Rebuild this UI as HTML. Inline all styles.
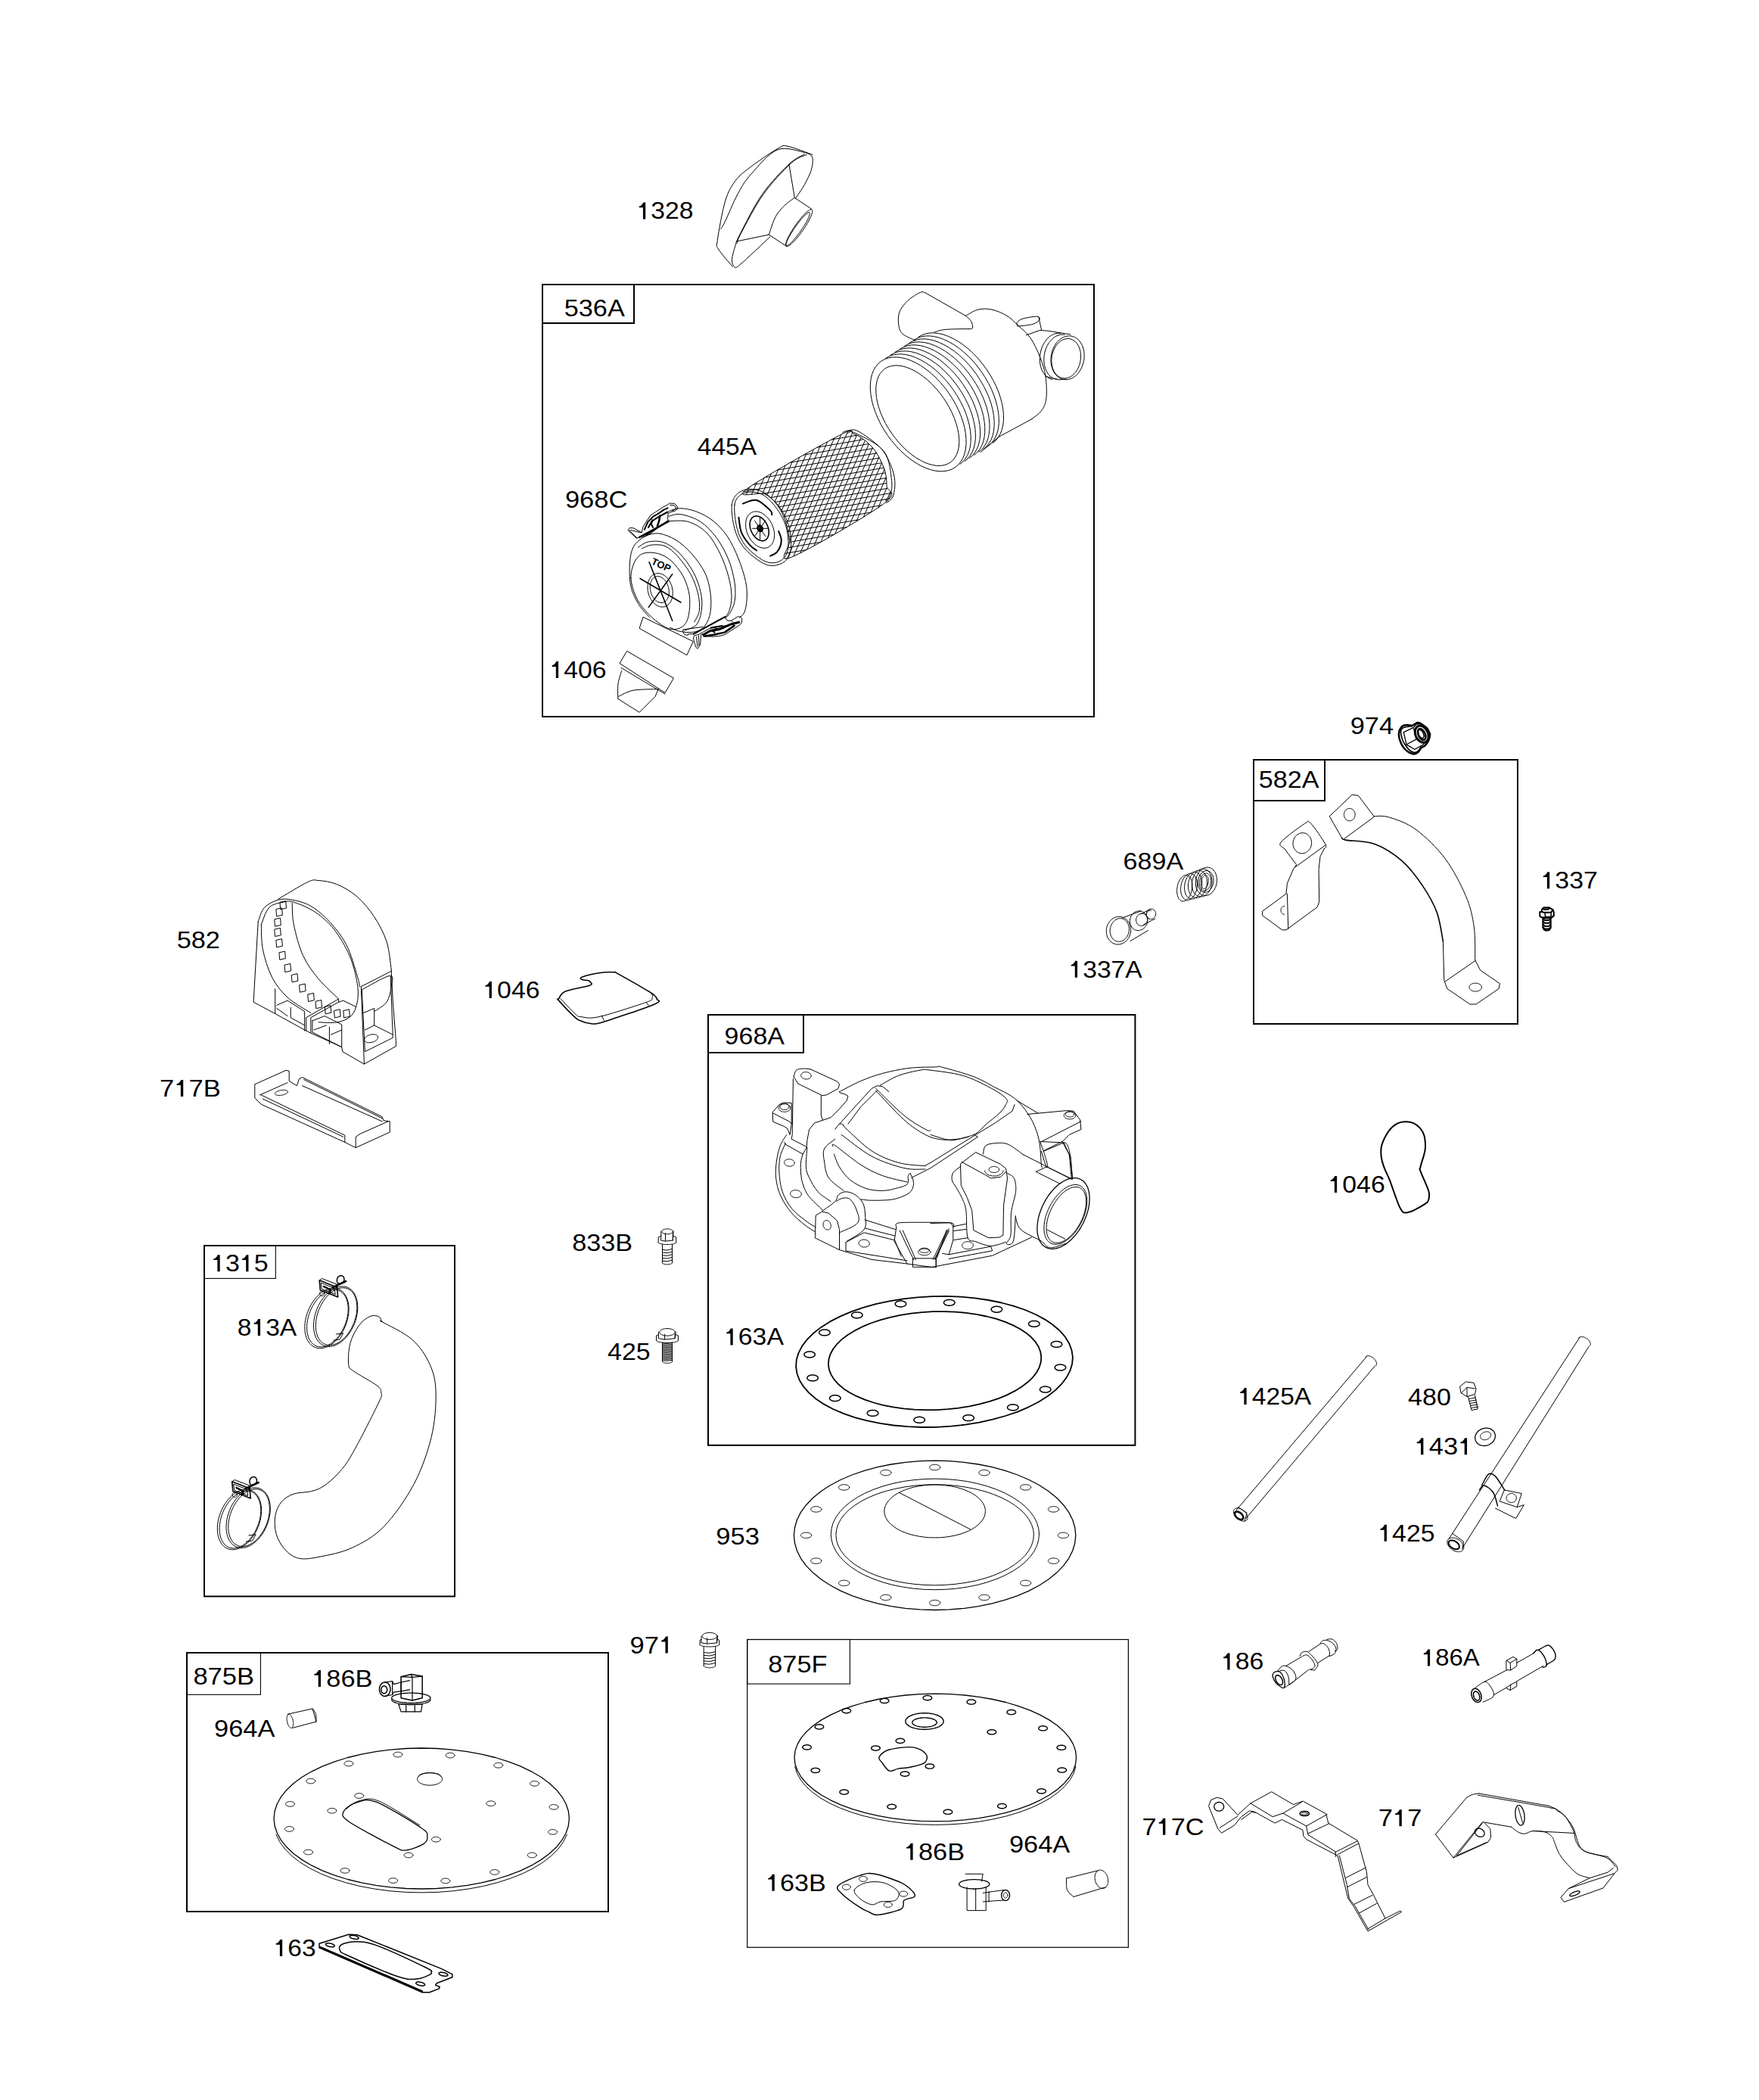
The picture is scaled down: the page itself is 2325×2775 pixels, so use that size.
<!DOCTYPE html>
<html><head><meta charset="utf-8"><style>
html,body{margin:0;padding:0;background:#fff;}
svg{display:block;}
text{font-family:"Liberation Sans",sans-serif;fill:#000;}
</style></head><body>
<svg width="2325" height="2775" viewBox="0 0 2325 2775">
<rect width="2325" height="2775" fill="#fff"/>
<g stroke-linejoin="round" stroke-linecap="round">
<rect x="717" y="376" width="729" height="571" fill="none" stroke="#000" stroke-width="2" stroke-linejoin="miter"/>
<rect x="717" y="376" width="121" height="51" fill="none" stroke="#000" stroke-width="2" stroke-linejoin="miter"/>
<g transform="translate(745.7 418) scale(1.0712 1)"><text x="0" y="0" font-size="32">5</text><text x="17.8" y="0" font-size="32">3</text><text x="35.6" y="0" font-size="32">6</text><text x="53.4" y="0" font-size="32">A</text></g>
<g transform="translate(746.9 671) scale(1.0800 1)"><text x="0" y="0" font-size="32">9</text><text x="17.8" y="0" font-size="32">6</text><text x="35.6" y="0" font-size="32">8</text><text x="53.4" y="0" font-size="32">C</text></g>
<g transform="translate(726.5 896) scale(1.0537 1)"><path d="M7.9 0 L7.9 -15.1 L3 -15.1 L3 -16.8 L5.1 -17.4 L7.2 -19.8 L8.3 -22 L11 -22 L11 0 Z" fill="#000"/><text x="17.8" y="0" font-size="32">4</text><text x="35.6" y="0" font-size="32">0</text><text x="53.4" y="0" font-size="32">6</text></g>
<path d="M883.9 675.7 C886.3 675 892.5 671.7 898.4 671.7 C904.4 671.7 912.2 673 919.4 675.7 C926.7 678.4 935 682.3 942 687.8 C949 693.3 955.7 700.5 961.4 708.8 C967 717.1 971.9 727.9 975.9 737.9 C980 747.8 983.7 759.7 985.6 768.5 C987.5 777.4 987.5 784.4 987.2 791.1 C987 797.9 985.6 804.7 984 808.9 C982.4 813.1 978.6 814.9 977.5 816.2" fill="none" stroke="#000" stroke-width="1" />
<path d="M883.9 682.2 C886.6 681.8 893.1 678.5 900 679.7 C907 680.9 918.1 684.3 925.9 689.4 C933.7 694.5 940.7 702.1 946.9 710.4 C953.1 718.8 959 729.5 963 739.5 C967 749.4 969.7 761 971.1 770.1 C972.4 779.3 972.2 787.6 971.1 794.4 C970 801.1 966.8 806.7 964.6 810.5 C962.5 814.3 959.2 815.9 958.2 817" fill="none" stroke="#000" stroke-width="1" />
<path d="M884.7 688.6 C888.9 688.7 901.5 686.9 909.7 689.4 C917.9 692 927 697 934 704 C940.9 710.9 946.9 721.7 951.7 731.4 C956.6 741.1 960.5 752.7 963 762.1 C965.6 771.5 966.9 780.4 967 787.9 C967.2 795.4 965.3 802.6 963.8 807.3 C962.3 812 959.1 814.7 958.2 816.2" fill="none" stroke="#000" stroke-width="1" />
<path d="M858.1 815.4 C855.7 812.4 847.6 804.3 843.5 797.6 C839.5 790.9 835.7 783.1 833.9 775 C832 766.9 832 757.2 832.2 749.2 C832.5 741.1 833.3 732.5 835.5 726.6 C837.6 720.6 840.9 717.1 845.2 713.6 C849.5 710.1 855.9 706.8 861.3 705.6 C866.7 704.4 871.3 704.5 877.4 706.4 C883.6 708.3 891.4 711.6 898.4 716.9 C905.4 722.1 913.5 730.3 919.4 737.9 C925.3 745.4 930.6 753.5 934 762.1 C937.3 770.7 938.9 780.9 939.6 789.5 C940.3 798.1 939.7 807 938 813.7 C936.2 820.5 933 826.2 929.1 829.9 C925.2 833.5 920 834.9 914.6 835.5 C909.2 836.2 901.7 835 896.8 833.9 C892 832.8 887.4 829.9 885.5 829.1" fill="none" stroke="#000" stroke-width="1" />
<path d="M843.5 723.3 C845.7 722.1 850.8 717.1 856.5 716.1 C862.1 715 870.5 714.3 877.4 716.9 C884.4 719.4 892 724.9 898.4 731.4 C904.9 737.9 911.6 747.3 916.2 755.6 C920.8 764 924 773.4 925.9 781.4 C927.8 789.5 928.3 796.8 927.5 804 C926.7 811.3 924.8 820.2 921 825 C917.3 829.9 907.6 831.8 904.9 833.1" fill="none" stroke="#000" stroke-width="1" />
<path d="M848.4 724.9 C850.5 724.1 856.2 720.6 861.3 720.1 C866.4 719.6 873.4 719.3 879.1 721.7 C884.7 724.1 889.6 728.4 895.2 734.6 C900.9 740.8 908.4 750.5 913 758.8 C917.5 767.2 920.8 776.6 922.7 784.7 C924.5 792.7 925.1 801.1 924.3 807.3 C923.5 813.5 918.9 819.4 917.8 821.8" fill="none" stroke="#000" stroke-width="1" />
<path d="M833.9 763.7 C833.6 756.2 836 748.1 838.7 742.7 C841.4 737.3 844.9 733.3 850 731.4 C855.1 729.5 863.2 729.8 869.4 731.4 C875.6 733 881.5 736 887.1 741.1 C892.8 746.2 899.2 754.3 903.3 762.1 C907.3 769.9 910.3 779 911.4 787.9 C912.4 796.8 911.4 808.6 909.7 815.4 C908.1 822.1 905.4 825.6 901.7 828.3 C897.9 831 892.2 832.3 887.1 831.5 C882 830.7 876.6 827.5 871 823.4 C865.3 819.4 858.3 813.2 853.2 807.3 C848.1 801.4 843.5 795.2 840.3 787.9 C837.1 780.6 834.1 771.2 833.9 763.7 Z" fill="none" stroke="#000" stroke-width="1" />
<path d="M858.1 742.7 L888.7 820.2" fill="none" stroke="#000" stroke-width="1.6" />
<path d="M888.7 758.8 L857.3 802.4" fill="none" stroke="#000" stroke-width="1.6" />
<path d="M846 764.5 L900 796" fill="none" stroke="#000" stroke-width="1.6" />
<path d="M888.2 775.7 L888.7 778 L889.1 780.3 L889.2 782.6 L889.2 784.9 L889 787.1 L888.7 789.3 L888.1 791.3 L887.4 793.3 L886.5 795 L885.5 796.7 L884.3 798.1 L883 799.3 L881.6 800.3 L880.1 801.1 L878.5 801.7 L876.8 802 L875.1 802.1 L873.3 801.9 L871.6 801.5 L869.9 800.8 L868.2 800 L866.5 798.9 L864.9 797.5 L863.4 796 L862 794.4 L860.7 792.5 L859.6 790.6 L858.6 788.5 L857.7 786.3 L857 784 L856.5 781.7 L856.1 779.4 L856 777.1 L856 774.8 L856.2 772.5 L856.5 770.4 L857.1 768.3 L857.8 766.4 L858.7 764.6 L859.7 763 L860.9 761.6 L862.2 760.4 L863.6 759.3 L865.2 758.6 L866.8 758 L868.4 757.7 L870.1 757.6 L871.9 757.8 L873.6 758.2 L875.3 758.8 L877 759.7 L878.7 760.8 L880.3 762.1 L881.8 763.6 L883.2 765.3 L884.5 767.1 L885.6 769.1 L886.6 771.2 L887.5 773.4 Z" fill="none" stroke="#000" stroke-width="1" />
<path d="M883.5 775.9 L883.9 777.7 L884.2 779.5 L884.3 781.3 L884.4 783.1 L884.2 784.9 L884 786.6 L883.6 788.2 L883 789.7 L882.4 791.1 L881.6 792.3 L880.8 793.4 L879.8 794.4 L878.7 795.2 L877.6 795.8 L876.4 796.2 L875.1 796.4 L873.9 796.5 L872.6 796.3 L871.2 796 L869.9 795.4 L868.6 794.7 L867.4 793.9 L866.2 792.8 L865 791.6 L864 790.3 L863 788.9 L862.1 787.3 L861.3 785.7 L860.6 783.9 L860.1 782.2 L859.7 780.3 L859.4 778.5 L859.3 776.7 L859.2 774.9 L859.4 773.2 L859.6 771.5 L860 769.9 L860.6 768.4 L861.2 767 L862 765.7 L862.8 764.6 L863.8 763.7 L864.9 762.9 L866 762.3 L867.2 761.9 L868.4 761.6 L869.7 761.6 L871 761.7 L872.4 762.1 L873.7 762.6 L875 763.3 L876.2 764.2 L877.4 765.2 L878.6 766.4 L879.6 767.7 L880.6 769.2 L881.5 770.7 L882.3 772.4 L882.9 774.1 Z" fill="none" stroke="#000" stroke-width="1" />
<text x="0" y="0" font-size="13" font-weight="bold" transform="translate(860 745) rotate(25)">TOP</text>
<path d="M830.2 700.4 L832.5 697.5 L837.1 697.8 L848.4 703.8 L849.6 697 L854.1 689.6 L859.8 681 L866.6 676.5 L876.3 670.2 L882.5 666.8 L885.4 665.1 L891.6 665.4 L895 669.1 L895.6 672.5 L892.8 674.8 L887.1 676.5 L883.1 678.2 L882.5 685.6 L883.7 689 L874 694.1 L860.9 704.3 L854.1 707.8 L841.6 711.2 Z" fill="none" stroke="#000" stroke-width="1" />
<path d="M831.9 700.9 L841.6 710.6" fill="none" stroke="#000" stroke-width="1" />
<path d="M833.1 700.4 L847.3 703.8" fill="none" stroke="#000" stroke-width="1" />
<path d="M845 710 L883.7 689" fill="none" stroke="#000" stroke-width="2.5" />
<path d="M854.1 706.6 L883.1 688.4" fill="none" stroke="#000" stroke-width="2" />
<path d="M851.8 699.8 L856.4 689.6 L863.2 682.7 L870 678.8 L877.4 673.6 L882.5 671.4" fill="none" stroke="#000" stroke-width="2" />
<path d="M857 697 L860.9 689.6 L865.5 686.2 L871.2 682.7 L882.5 676.5" fill="none" stroke="#000" stroke-width="2" />
<path d="M885.9 667.4 L891.6 668 L893.9 671.9 L888.2 675.3" fill="none" stroke="#000" stroke-width="1" />
<path d="M872.3 681.6 L871.2 688.4 L868.9 695.2" fill="none" stroke="#000" stroke-width="2.5" />
<path d="M862.1 687.3 L860.9 693 L863.2 697" fill="none" stroke="#000" stroke-width="2" />
<path d="M903.1 832 L902.6 834 L904.1 837.6 L906.7 839.2 L909.2 839.2 L909.7 837.9 L916.9 837.6" fill="none" stroke="#000" stroke-width="1" />
<path d="M916.9 837.6 L958.3 815.1" fill="none" stroke="#000" stroke-width="2.2" />
<path d="M959.4 817.2 L961.4 820.2 L966.5 820.2 L975.7 814.6 L978.8 815.1 L980.8 818.2 L980.3 822.8 L977.8 825.9 L957.8 838.7 L950.1 840.7 L942 841.2 L930.7 840.7 L928.7 837.6 L926.6 838.7 L925.6 852 L922 857.1 L920 855.5 L917.4 847.4 L916.4 842.7 L917.9 839.7 L922.5 838.7 L928.7 835.6 L937.9 830.5 L970.1 824.8" fill="none" stroke="#000" stroke-width="1" />
<path d="M920.5 841.7 L922 854" fill="none" stroke="#000" stroke-width="1" />
<path d="M923.5 839.7 L924 853" fill="none" stroke="#000" stroke-width="1" />
<path d="M903.1 832 L906.1 831.5 L928.7 828.4" fill="none" stroke="#000" stroke-width="1" />
<path d="M929.7 838.7 L938.9 833.5 L951.2 831.5 L965 825.3 L976.7 822.3" fill="none" stroke="#000" stroke-width="3" />
<path d="M930.7 840.7 L943.5 838.7 L957.8 835.6 L970.6 826.9" fill="none" stroke="#000" stroke-width="2.5" />
<path d="M939.9 829.4 L954.7 826.9 L956.3 830 L944.5 831.5 L942 834 L944.5 835.6" fill="none" stroke="#000" stroke-width="2" />
<path d="M966.5 820.2 L969.6 823.3" fill="none" stroke="#000" stroke-width="1" />
<path d="M845.2 829.9 L850 815.4 L916.2 847.6 L908.1 865.4 Z" fill="none" stroke="#000" stroke-width="1" />
<path d="M829 860.6 L890.4 896.1 L879.1 915.4 L819.3 876.7 Z" fill="none" stroke="#000" stroke-width="1" />
<path d="M820.9 882.4 L879.1 917.1" fill="none" stroke="#000" stroke-width="1" />
<path d="M821.7 886.4 C820.9 889.3 817.7 898 816.9 904.1 C816.1 910.3 816.9 920.3 816.9 923.5" fill="none" stroke="#000" stroke-width="1" />
<path d="M816.9 923.5 L845.2 941.3 L866.1 920.3 L870.2 910.6" fill="none" stroke="#000" stroke-width="1" />
<path d="M817.7 920.3 C820.9 918.9 828.5 913.8 837.1 912.2 C845.7 910.6 864 910.9 869.4 910.6" fill="none" stroke="#000" stroke-width="1" />
<g transform="translate(921.7 601) scale(1.0500 1)"><text x="0" y="0" font-size="32">4</text><text x="17.8" y="0" font-size="32">4</text><text x="35.6" y="0" font-size="32">5</text><text x="53.4" y="0" font-size="32">A</text></g>
<clipPath id="meshclip"><path d="M985.5 647.3 C1001.9 634.4 1085.3 587.8 1109.2 575.5 C1133.2 563.2 1121.9 571.1 1129.2 573.7 C1136.5 576.2 1146.3 583.5 1152.9 590.9 C1159.4 598.4 1165.1 609.7 1168.3 618.2 C1171.5 626.7 1172 634 1172 641.9 C1172 649.8 1189.4 649.8 1168.3 665.5 C1147.3 681.3 1066.3 728.3 1045.5 736.5 C1024.8 744.7 1044.9 722.5 1043.7 714.6 C1042.5 706.8 1041 697.1 1038.3 689.2 C1035.5 681.3 1031.9 673.4 1027.3 667.3 C1022.8 661.3 1017.9 656.1 1011 652.8 C1004 649.5 969.1 660.2 985.5 647.3 Z"/></clipPath>
<g clip-path="url(#meshclip)"><path d="M975 490 L1185 454.3 M975 497 L1185 461.3 M975 504 L1185 468.3 M975 511 L1185 475.3 M975 518 L1185 482.3 M975 525 L1185 489.3 M975 532 L1185 496.3 M975 539 L1185 503.3 M975 546 L1185 510.3 M975 553 L1185 517.3 M975 560 L1185 524.3 M975 567 L1185 531.3 M975 574 L1185 538.3 M975 581 L1185 545.3 M975 588 L1185 552.3 M975 595 L1185 559.3 M975 602 L1185 566.3 M975 609 L1185 573.3 M975 616 L1185 580.3 M975 623 L1185 587.3 M975 630 L1185 594.3 M975 637 L1185 601.3 M975 644 L1185 608.3 M975 651 L1185 615.3 M975 658 L1185 622.3 M975 665 L1185 629.3 M975 672 L1185 636.3 M975 679 L1185 643.3 M975 686 L1185 650.3 M975 693 L1185 657.3 M975 700 L1185 664.3 M975 707 L1185 671.3 M975 714 L1185 678.3 M975 721 L1185 685.3 M975 728 L1185 692.3 M975 735 L1185 699.3 M975 742 L1185 706.3 M975 749 L1185 713.3 M975 756 L1185 720.3 M975 763 L1185 727.3 M975 770 L1185 734.3 M975 777 L1185 741.3 M975 784 L1185 748.3 M975 791 L1185 755.3 M975 798 L1185 762.3 M975 805 L1185 769.3 M975 812 L1185 776.3 M975 819 L1185 783.3 M975 826 L1185 790.3 M975 833 L1185 797.3 M975 840 L1185 804.3 M975 847 L1185 811.3 M975 854 L1185 818.3 M975 861 L1185 825.3 M975 868 L1185 832.3 M800 760 L887 560 M807 760 L894 560 M814 760 L901 560 M821 760 L908 560 M828 760 L915 560 M835 760 L922 560 M842 760 L929 560 M849 760 L936 560 M856 760 L943 560 M863 760 L950 560 M870 760 L957 560 M877 760 L964 560 M884 760 L971 560 M891 760 L978 560 M898 760 L985 560 M905 760 L992 560 M912 760 L999 560 M919 760 L1006 560 M926 760 L1013 560 M933 760 L1020 560 M940 760 L1027 560 M947 760 L1034 560 M954 760 L1041 560 M961 760 L1048 560 M968 760 L1055 560 M975 760 L1062 560 M982 760 L1069 560 M989 760 L1076 560 M996 760 L1083 560 M1003 760 L1090 560 M1010 760 L1097 560 M1017 760 L1104 560 M1024 760 L1111 560 M1031 760 L1118 560 M1038 760 L1125 560 M1045 760 L1132 560 M1052 760 L1139 560 M1059 760 L1146 560 M1066 760 L1153 560 M1073 760 L1160 560 M1080 760 L1167 560 M1087 760 L1174 560 M1094 760 L1181 560 M1101 760 L1188 560 M1108 760 L1195 560 M1115 760 L1202 560 M1122 760 L1209 560 M1129 760 L1216 560 M1136 760 L1223 560 M1143 760 L1230 560 M1150 760 L1237 560 M1157 760 L1244 560 M1164 760 L1251 560 M1171 760 L1258 560 M1178 760 L1265 560 M1185 760 L1272 560 M1192 760 L1279 560 M1199 760 L1286 560 M1206 760 L1293 560 M1213 760 L1300 560 M1220 760 L1307 560 M1227 760 L1314 560 M1234 760 L1321 560 M1241 760 L1328 560 M1248 760 L1335 560 M1255 760 L1342 560 M1262 760 L1349 560 M1269 760 L1356 560 M1276 760 L1363 560 M1283 760 L1370 560" fill="none" stroke="#000" stroke-width="1"/></g>
<path d="M985.5 647.3 C1001.9 634.4 1085.3 587.8 1109.2 575.5 C1133.2 563.2 1121.9 571.1 1129.2 573.7 C1136.5 576.2 1146.3 583.5 1152.9 590.9 C1159.4 598.4 1165.1 609.7 1168.3 618.2 C1171.5 626.7 1172 634 1172 641.9 C1172 649.8 1189.4 649.8 1168.3 665.5 C1147.3 681.3 1066.3 728.3 1045.5 736.5 C1024.8 744.7 1044.9 722.5 1043.7 714.6 C1042.5 706.8 1041 697.1 1038.3 689.2 C1035.5 681.3 1031.9 673.4 1027.3 667.3 C1022.8 661.3 1017.9 656.1 1011 652.8 C1004 649.5 969.1 660.2 985.5 647.3 Z" fill="none" stroke="#000" stroke-width="1" />
<path d="M1113.7 571.6 C1114.9 571.1 1117.1 569.3 1120.6 569 C1124 568.7 1127.1 566.2 1134.2 569.8 C1141.3 573.5 1156.1 583.9 1163.2 591.2 C1170.3 598.4 1173.6 606 1176.8 613.3 C1180.1 620.7 1182.2 628.4 1182.8 635.5 C1183.4 642.6 1182.1 651.1 1180.3 656 C1178.4 660.8 1173.2 663.1 1171.7 664.5" fill="none" stroke="#000" stroke-width="1" />
<path d="M1120.6 572.4 C1122.3 572.4 1122.8 568.4 1130.8 572.4 C1138.8 576.4 1160.4 585.8 1168.3 596.3 C1176.3 606.8 1177.3 625.6 1178.6 635.5 C1179.8 645.5 1177.4 651.7 1176 656 C1174.6 660.2 1171 660.2 1170 661.1" fill="none" stroke="#000" stroke-width="1" />
<path d="M967.3 667.3 C968.2 659.5 971.9 654.5 976.4 651 C981 647.5 988.5 646.1 994.6 646.4 C1000.7 646.7 1006.7 648.7 1012.8 652.8 C1018.9 656.9 1026.1 664.3 1031 671 C1035.8 677.7 1039.5 685.5 1041.9 692.8 C1044.3 700.1 1045.2 708 1045.5 714.6 C1045.8 721.3 1045.5 728 1043.7 732.8 C1041.9 737.7 1038.9 741.3 1034.6 743.7 C1030.4 746.2 1023.7 748 1018.2 747.4 C1012.8 746.8 1007.9 744.4 1001.9 740.1 C995.8 735.9 987 728.9 981.9 721.9 C976.7 714.9 973.4 707.4 970.9 698.3 C968.5 689.2 966.4 675.2 967.3 667.3 Z" fill="none" stroke="#000" stroke-width="1" />
<path d="M970.9 667.3 C971.8 659.9 975.2 656.6 979.1 653.7 C983.1 650.8 989.3 649.8 994.6 650.1 C999.9 650.4 1005.5 651.7 1011 655.5 C1016.4 659.3 1022.8 666.4 1027.3 672.8 C1031.9 679.2 1035.8 686.7 1038.3 693.7 C1040.7 700.7 1041.6 708.4 1041.9 714.6 C1042.2 720.9 1041.7 726.6 1040.1 731 C1038.4 735.4 1035.5 738.9 1031.9 741 C1028.3 743.1 1022.9 744.4 1018.2 743.7 C1013.5 743.1 1009.3 741.3 1003.7 737.4 C998.1 733.4 989.5 726.6 984.6 720.1 C979.7 713.6 976.5 707.1 974.2 698.3 C971.9 689.5 970.1 674.8 970.9 667.3 Z" fill="none" stroke="#000" stroke-width="1" />
<path d="M981.9 665.5 C984.9 664.8 994 659.5 1000.1 661 C1006.1 662.5 1014.9 671.4 1018.2 674.6 C1021.6 677.8 1019.8 679.2 1020.1 680.1" fill="none" stroke="#000" stroke-width="2" />
<path d="M976.4 683.7 C977 687 977.6 697.7 980 703.7 C982.5 709.8 987.6 716.2 991 720.1 C994.3 724 998.5 726.2 1000.1 727.4" fill="none" stroke="#000" stroke-width="2" />
<path d="M1029.2 701.9 C1029.8 704 1033.1 710.1 1032.8 714.6 C1032.5 719.2 1029.8 725.9 1027.3 729.2 C1024.9 732.5 1019.8 733.7 1018.2 734.7" fill="none" stroke="#000" stroke-width="2" />
<path d="M1020.3 692.8 L1021.3 695.2 L1022.2 697.7 L1022.8 700.3 L1023.3 702.8 L1023.5 705.3 L1023.6 707.7 L1023.4 710.1 L1023.1 712.4 L1022.5 714.5 L1021.8 716.4 L1020.8 718.2 L1019.7 719.8 L1018.4 721.1 L1016.9 722.3 L1015.4 723.2 L1013.7 723.8 L1011.9 724.2 L1010 724.3 L1008.1 724.1 L1006.1 723.7 L1004.1 723.1 L1002.1 722.1 L1000.2 721 L998.3 719.6 L996.4 718 L994.7 716.1 L993 714.2 L991.5 712 L990.2 709.8 L988.9 707.4 L987.9 704.9 L987 702.4 L986.4 699.9 L985.9 697.4 L985.7 694.9 L985.6 692.4 L985.8 690.1 L986.1 687.8 L986.7 685.7 L987.4 683.7 L988.4 682 L989.5 680.4 L990.8 679 L992.3 677.9 L993.8 677 L995.5 676.4 L997.3 676 L999.2 675.9 L1001.1 676 L1003.1 676.4 L1005.1 677.1 L1007.1 678 L1009 679.2 L1010.9 680.6 L1012.8 682.2 L1014.5 684 L1016.2 686 L1017.7 688.1 L1019.1 690.4 Z" fill="none" stroke="#000" stroke-width="1" />
<path d="M1013.9 693.5 L1014.6 695.2 L1015.2 696.9 L1015.7 698.6 L1016 700.3 L1016.2 702 L1016.3 703.6 L1016.2 705.2 L1016 706.7 L1015.6 708.1 L1015.1 709.4 L1014.5 710.6 L1013.8 711.7 L1013 712.6 L1012 713.3 L1011 713.9 L1009.9 714.3 L1008.7 714.6 L1007.5 714.6 L1006.2 714.5 L1004.9 714.2 L1003.6 713.7 L1002.3 713.1 L1001 712.3 L999.7 711.3 L998.5 710.2 L997.3 709 L996.2 707.6 L995.2 706.2 L994.3 704.6 L993.5 703 L992.8 701.4 L992.2 699.7 L991.7 698 L991.4 696.3 L991.2 694.6 L991.1 692.9 L991.2 691.3 L991.4 689.8 L991.8 688.4 L992.3 687.1 L992.9 685.9 L993.6 684.8 L994.4 683.9 L995.4 683.2 L996.4 682.6 L997.5 682.2 L998.7 682 L999.9 681.9 L1001.2 682 L1002.5 682.3 L1003.8 682.8 L1005.1 683.4 L1006.4 684.2 L1007.7 685.2 L1008.9 686.3 L1010.1 687.5 L1011.2 688.9 L1012.2 690.3 L1013.1 691.9 Z" fill="none" stroke="#000" stroke-width="1.6" />
<path d="M1007.1 697.1 L1007.2 697.5 L1007.3 697.8 L1007.4 698.2 L1007.5 698.6 L1007.5 698.9 L1007.5 699.3 L1007.5 699.6 L1007.4 699.9 L1007.3 700.3 L1007.2 700.5 L1007 700.8 L1006.8 701 L1006.6 701.3 L1006.4 701.4 L1006.1 701.6 L1005.9 701.7 L1005.6 701.7 L1005.3 701.8 L1005 701.7 L1004.7 701.7 L1004.4 701.6 L1004.1 701.5 L1003.8 701.3 L1003.5 701.1 L1003.2 700.9 L1003 700.7 L1002.7 700.4 L1002.5 700.1 L1002.3 699.8 L1002.1 699.4 L1002 699.1 L1001.9 698.7 L1001.8 698.3 L1001.7 698 L1001.7 697.6 L1001.7 697.3 L1001.7 696.9 L1001.8 696.6 L1001.9 696.3 L1002 696 L1002.2 695.7 L1002.4 695.5 L1002.6 695.3 L1002.8 695.1 L1003.1 695 L1003.3 694.9 L1003.6 694.8 L1003.9 694.8 L1004.2 694.8 L1004.5 694.8 L1004.8 694.9 L1005.1 695 L1005.4 695.2 L1005.7 695.4 L1006 695.6 L1006.2 695.9 L1006.5 696.2 L1006.7 696.5 L1006.9 696.8 Z" fill="none" stroke="#000" stroke-width="3" />
<path d="M994.6 698.3 L1014.6 698.3" fill="none" stroke="#000" stroke-width="1" />
<path d="M997.5 688 L1011.7 708.6" fill="none" stroke="#000" stroke-width="1" />
<path d="M1004.6 683.7 L1004.6 712.8" fill="none" stroke="#000" stroke-width="1" />
<path d="M1011.7 688 L997.5 708.6" fill="none" stroke="#000" stroke-width="1" />
<path d="M1262.7 617.4 L1258.2 620 L1253.3 621.7 L1247.9 622.7 L1242.1 622.8 L1236 622.1 L1229.7 620.6 L1223.2 618.3 L1216.6 615.2 L1210 611.3 L1203.4 606.8 L1196.9 601.6 L1190.6 595.8 L1184.5 589.5 L1178.8 582.7 L1173.4 575.5 L1168.5 568.1 L1164.1 560.4 L1160.3 552.5 L1157 544.6 L1154.3 536.7 L1152.3 529 L1151 521.4 L1150.3 514.2 L1150.4 507.3 L1151.1 500.8 L1152.5 494.8 L1154.6 489.5 L1157.3 484.7 L1160.7 480.7 L1164.6 477.3 L1169.1 474.8 L1174.1 473 L1179.5 472.1 L1185.2 471.9 L1191.3 472.6 L1197.7 474.1 L1204.2 476.5 L1210.8 479.6 L1217.4 483.4 L1224 488 L1230.5 493.1 L1236.8 498.9 L1242.8 505.3 L1248.6 512 L1253.9 519.2 L1258.8 526.7 L1263.2 534.4 L1267.1 542.2 L1270.4 550.1 L1273 558 L1275.1 565.7 L1276.4 573.3 L1277 580.6 L1277 587.5 L1276.3 593.9 L1274.8 599.9 L1272.8 605.3 L1270 610 L1266.7 614.1 Z" fill="none" stroke="#000" stroke-width="1" />
<path d="M1256.1 611 L1252.3 613.2 L1248.1 614.6 L1243.5 615.4 L1238.5 615.4 L1233.3 614.6 L1227.8 613.2 L1222.2 611.1 L1216.5 608.2 L1210.7 604.8 L1205 600.7 L1199.3 596.1 L1193.8 590.9 L1188.5 585.3 L1183.5 579.3 L1178.8 573 L1174.5 566.4 L1170.5 559.6 L1167.1 552.7 L1164.1 545.8 L1161.7 538.9 L1159.8 532.1 L1158.5 525.5 L1157.9 519.1 L1157.8 513.1 L1158.3 507.5 L1159.4 502.4 L1161.1 497.7 L1163.3 493.6 L1166.2 490.2 L1169.5 487.3 L1173.3 485.2 L1177.5 483.8 L1182.1 483 L1187 483 L1192.3 483.7 L1197.7 485.2 L1203.3 487.3 L1209 490.1 L1214.8 493.6 L1220.5 497.7 L1226.2 502.3 L1231.7 507.5 L1237 513.1 L1242 519.1 L1246.7 525.4 L1251.1 532 L1255 538.8 L1258.5 545.7 L1261.4 552.6 L1263.8 559.5 L1265.7 566.3 L1267 572.9 L1267.7 579.2 L1267.8 585.2 L1267.3 590.9 L1266.1 596 L1264.4 600.7 L1262.2 604.7 L1259.4 608.2 Z" fill="none" stroke="#000" stroke-width="1" />
<path d="M1170.8 473.3 L1175.3 470.8 L1180.3 469 L1185.7 468.1 L1191.4 467.9 L1197.5 468.6 L1203.8 470.1 L1210.3 472.5 L1216.9 475.6 L1223.6 479.4 L1230.2 483.9 L1236.7 489.1 L1243 494.9 L1249 501.2 L1254.7 508 L1260.1 515.2 L1265 522.7 L1269.4 530.4 L1273.3 538.2 L1276.6 546.1 L1279.2 554 L1281.2 561.7 L1282.6 569.3 L1283.2 576.6 L1283.2 583.5 L1282.5 589.9 L1281 595.9 L1278.9 601.3 L1276.2 606 L1272.8 610.1 L1268.9 613.4" fill="none" stroke="#000" stroke-width="1" />
<path d="M1177 469.3 L1181.5 466.8 L1186.4 465 L1191.8 464 L1197.6 463.9 L1203.7 464.6 L1210 466.1 L1216.5 468.5 L1223.1 471.6 L1229.8 475.4 L1236.4 479.9 L1242.9 485.1 L1249.2 490.9 L1255.2 497.2 L1260.9 504 L1266.3 511.2 L1271.2 518.7 L1275.6 526.4 L1279.5 534.2 L1282.8 542.1 L1285.4 550 L1287.4 557.7 L1288.8 565.3 L1289.4 572.6 L1289.4 579.5 L1288.6 585.9 L1287.2 591.9 L1285.1 597.3 L1282.4 602 L1279 606.1 L1275.1 609.4" fill="none" stroke="#000" stroke-width="1" />
<path d="M1183.2 465.3 L1187.7 462.8 L1192.6 461 L1198 460 L1203.8 459.9 L1209.9 460.6 L1216.2 462.1 L1222.7 464.5 L1229.3 467.6 L1236 471.4 L1242.6 475.9 L1249 481.1 L1255.3 486.9 L1261.4 493.2 L1267.1 500 L1272.5 507.2 L1277.4 514.7 L1281.8 522.4 L1285.7 530.2 L1288.9 538.1 L1291.6 546 L1293.6 553.7 L1294.9 561.3 L1295.6 568.6 L1295.6 575.5 L1294.8 581.9 L1293.4 587.9 L1291.3 593.3 L1288.6 598 L1285.2 602.1 L1281.3 605.4" fill="none" stroke="#000" stroke-width="1" />
<path d="M1189.4 461.3 L1193.9 458.8 L1198.8 457 L1204.2 456 L1210 455.9 L1216.1 456.6 L1222.4 458.1 L1228.9 460.5 L1235.5 463.6 L1242.1 467.4 L1248.7 471.9 L1255.2 477.1 L1261.5 482.9 L1267.6 489.2 L1273.3 496 L1278.7 503.2 L1283.6 510.7 L1288 518.4 L1291.8 526.2 L1295.1 534.1 L1297.8 542 L1299.8 549.7 L1301.1 557.3 L1301.8 564.6 L1301.7 571.5 L1301 577.9 L1299.6 583.9 L1297.5 589.3 L1294.8 594 L1291.4 598.1 L1287.5 601.4" fill="none" stroke="#000" stroke-width="1" />
<path d="M1195.6 457.3 L1200 454.8 L1205 453 L1210.4 452 L1216.2 451.9 L1222.2 452.6 L1228.6 454.1 L1235.1 456.5 L1241.7 459.6 L1248.3 463.4 L1254.9 467.9 L1261.4 473.1 L1267.7 478.9 L1273.8 485.2 L1279.5 492 L1284.8 499.2 L1289.7 506.7 L1294.2 514.4 L1298 522.2 L1301.3 530.1 L1304 538 L1306 545.7 L1307.3 553.3 L1308 560.6 L1307.9 567.5 L1307.2 573.9 L1305.8 579.9 L1303.7 585.3 L1300.9 590 L1297.6 594.1 L1293.6 597.4" fill="none" stroke="#000" stroke-width="1" />
<path d="M1201.7 453.3 L1206.2 450.8 L1211.2 449 L1216.6 448 L1222.4 447.9 L1228.4 448.6 L1234.8 450.1 L1241.3 452.5 L1247.9 455.6 L1254.5 459.4 L1261.1 463.9 L1267.6 469.1 L1273.9 474.9 L1279.9 481.2 L1285.7 488 L1291 495.2 L1295.9 502.7 L1300.3 510.4 L1304.2 518.2 L1307.5 526.1 L1310.2 534 L1312.2 541.7 L1313.5 549.3 L1314.2 556.6 L1314.1 563.5 L1313.4 569.9 L1312 575.9 L1309.9 581.3 L1307.1 586 L1303.8 590.1 L1299.8 593.4" fill="none" stroke="#000" stroke-width="1" />
<path d="M1207.9 449.3 L1212.4 446.8 L1217.4 445 L1222.8 444 L1228.5 443.9 L1234.6 444.6 L1240.9 446.1 L1247.5 448.5 L1254.1 451.6 L1260.7 455.4 L1267.3 459.9 L1273.8 465.1 L1280.1 470.9 L1286.1 477.2 L1291.9 484 L1297.2 491.2 L1302.1 498.7 L1306.5 506.4 L1310.4 514.2 L1313.7 522.1 L1316.3 530 L1318.3 537.7 L1319.7 545.3 L1320.3 552.6 L1320.3 559.5 L1319.6 565.9 L1318.1 571.9 L1316 577.3 L1313.3 582 L1310 586.1 L1306 589.4" fill="none" stroke="#000" stroke-width="1" />
<path d="M1214.1 445.3 L1218.6 442.8 L1223.6 441 L1229 440 L1234.7 439.9 L1240.8 440.6 L1247.1 442.1 L1253.6 444.5 L1260.2 447.6 L1266.9 451.4 L1273.5 455.9 L1280 461.1 L1286.3 466.9 L1292.3 473.2 L1298 480 L1303.4 487.2 L1308.3 494.7 L1312.7 502.4 L1316.6 510.2 L1319.9 518.1 L1322.5 526 L1324.5 533.7 L1325.9 541.3 L1326.5 548.5 L1326.5 555.5 L1325.7 561.9 L1324.3 567.9 L1322.2 573.3 L1319.5 578 L1316.1 582.1 L1312.2 585.4" fill="none" stroke="#000" stroke-width="1" />
<path d="M1210 450 C1207.2 448.5 1196.5 444.6 1192.8 440.9 C1189 437.3 1188.3 433.1 1187.7 428.2 C1187.1 423.4 1187.1 417 1189.1 411.8 C1191.2 406.7 1195.5 401.5 1200 397.3 C1204.6 393 1212.5 388 1216.4 386.4 C1220.3 384.7 1222.5 387.1 1223.7 387.3" fill="none" stroke="#000" stroke-width="1" />
<path d="M1223.7 387.3 L1276.4 417.3" fill="none" stroke="#000" stroke-width="1" />
<path d="M1276.4 417.3 C1277.7 418.5 1282.2 421.8 1283.7 424.6 C1285.2 427.3 1286.1 432 1285.5 433.7 C1284.9 435.3 1281 434.4 1280.1 434.6" fill="none" stroke="#000" stroke-width="1" />
<path d="M1280.1 434.6 C1274.9 434.7 1256.7 434.7 1249.2 435.5 C1241.6 436.2 1237 438.5 1234.6 439.1" fill="none" stroke="#000" stroke-width="1" />
<path d="M1276.4 417.3 C1279.2 415.9 1287 410.5 1292.8 409.1 C1298.6 407.7 1304.6 407.7 1311 409.1 C1317.4 410.5 1325.3 413.8 1331 417.3 C1336.8 420.8 1340.4 425.2 1345.6 430 C1350.7 434.9 1357.1 439.4 1361.9 446.4 C1366.8 453.4 1371.3 463.4 1374.7 471.9 C1378 480.4 1380.6 488.2 1382 497.3 C1383.3 506.4 1383.8 518.9 1382.9 526.4 C1382 534 1379.7 538.3 1376.5 542.8 C1373.3 547.4 1365.9 551.9 1363.8 553.7" fill="none" stroke="#000" stroke-width="1" />
<path d="M1363.8 553.7 L1320.1 577.4 L1296.4 597.4" fill="none" stroke="#000" stroke-width="1" />
<path d="M1344.7 430 C1344.2 429.1 1343.3 427 1344.7 425.5 C1346 424 1348.4 422.1 1352.8 420.9 C1357.2 419.7 1367.5 417.9 1371 418.2 C1374.5 418.5 1374.7 421.1 1373.8 422.8 C1372.9 424.4 1370 426.8 1365.6 428.2 C1361.2 429.6 1350.9 430.6 1347.4 430.9 C1343.9 431.2 1345.1 430.9 1344.7 430 Z" fill="none" stroke="#000" stroke-width="1" />
<path d="M1372.9 419.1 L1376.5 435.5" fill="none" stroke="#000" stroke-width="1" />
<path d="M1356.5 442.8 L1374.7 436.4 L1385.6 437.3 L1414.7 441.9" fill="none" stroke="#000" stroke-width="1" />
<path d="M1382 497.3 L1400.1 501.9 L1409.2 501" fill="none" stroke="#000" stroke-width="1" />
<path d="M1432.6 476.6 L1431.9 479.5 L1431 482.5 L1429.9 485.2 L1428.6 487.9 L1427.1 490.4 L1425.5 492.7 L1423.7 494.8 L1421.7 496.6 L1419.6 498.2 L1417.4 499.5 L1415.2 500.5 L1412.9 501.2 L1410.6 501.6 L1408.3 501.7 L1406 501.4 L1403.8 500.9 L1401.6 500 L1399.6 498.9 L1397.7 497.4 L1395.9 495.7 L1394.3 493.7 L1392.9 491.5 L1391.7 489.1 L1390.7 486.6 L1389.9 483.8 L1389.4 481 L1389 478 L1389 475 L1389.1 472 L1389.6 469 L1390.2 466 L1391.1 463.1 L1392.2 460.3 L1393.5 457.7 L1395 455.2 L1396.6 452.9 L1398.5 450.8 L1400.4 448.9 L1402.5 447.4 L1404.7 446.1 L1406.9 445.1 L1409.2 444.4 L1411.5 444 L1413.8 443.9 L1416.1 444.1 L1418.3 444.7 L1420.5 445.5 L1422.5 446.7 L1424.4 448.1 L1426.2 449.9 L1427.8 451.8 L1429.2 454 L1430.4 456.4 L1431.4 459 L1432.2 461.7 L1432.8 464.6 L1433.1 467.5 L1433.1 470.5 L1433 473.6 Z" fill="none" stroke="#000" stroke-width="1" />
<path d="M1428 477 L1427.5 479.7 L1426.7 482.3 L1425.7 484.9 L1424.6 487.3 L1423.2 489.6 L1421.8 491.6 L1420.2 493.5 L1418.4 495.2 L1416.6 496.7 L1414.7 497.8 L1412.7 498.8 L1410.7 499.4 L1408.7 499.8 L1406.6 499.9 L1404.7 499.7 L1402.7 499.2 L1400.8 498.4 L1399.1 497.4 L1397.4 496.1 L1395.9 494.5 L1394.5 492.8 L1393.2 490.8 L1392.2 488.6 L1391.3 486.3 L1390.7 483.8 L1390.2 481.2 L1389.9 478.6 L1389.9 475.8 L1390.1 473.1 L1390.4 470.4 L1391 467.7 L1391.8 465 L1392.8 462.5 L1393.9 460.1 L1395.2 457.8 L1396.7 455.7 L1398.3 453.8 L1400.1 452.2 L1401.9 450.7 L1403.8 449.5 L1405.8 448.6 L1407.8 448 L1409.8 447.6 L1411.8 447.5 L1413.8 447.7 L1415.8 448.2 L1417.6 449 L1419.4 450 L1421.1 451.3 L1422.6 452.9 L1424 454.6 L1425.2 456.6 L1426.3 458.8 L1427.1 461.1 L1427.8 463.6 L1428.3 466.2 L1428.5 468.8 L1428.6 471.5 L1428.4 474.3 Z" fill="none" stroke="#000" stroke-width="1" />
<path d="M1396.7 501.4 L1394.5 500.9 L1392.4 500 L1390.4 498.8 L1388.5 497.3 L1386.7 495.6 L1385.1 493.6 L1383.7 491.3 L1382.5 488.8 L1381.5 486.2 L1380.7 483.4 L1380.2 480.4 L1379.9 477.4 L1379.8 474.3 L1380 471.2 L1380.5 468.1 L1381.1 465 L1382 462 L1383.1 459.1 L1384.4 456.4 L1385.9 453.8 L1387.6 451.4 L1389.5 449.3 L1391.4 447.4 L1393.5 445.7 L1395.7 444.4 L1398 443.3 L1400.3 442.6 L1402.6 442.2 L1404.9 442.1 L1407.2 442.3" fill="none" stroke="#000" stroke-width="1" />
<path d="M1391.1 501.4 L1388.9 500.9 L1386.8 500 L1384.8 498.8 L1382.9 497.2 L1381.1 495.4 L1379.5 493.4 L1378.1 491.1 L1376.9 488.5 L1376 485.8 L1375.2 482.9 L1374.7 479.9 L1374.4 476.8 L1374.4 473.6 L1374.6 470.4 L1375 467.2 L1375.7 464 L1376.6 460.9 L1377.7 457.9 L1379 455.1 L1380.6 452.5 L1382.3 450 L1384.1 447.8 L1386.1 445.8 L1388.2 444.1 L1390.4 442.7 L1392.7 441.6 L1395 440.8 L1397.3 440.4 L1399.6 440.3 L1401.9 440.5" fill="none" stroke="#000" stroke-width="1" />
<g transform="translate(841.6 289.4) scale(1.0537 1)"><path d="M7.9 0 L7.9 -15.1 L3 -15.1 L3 -16.8 L5.1 -17.4 L7.2 -19.8 L8.3 -22 L11 -22 L11 0 Z" fill="#000"/><text x="17.8" y="0" font-size="32">3</text><text x="35.6" y="0" font-size="32">2</text><text x="53.4" y="0" font-size="32">8</text></g>
<path d="M1073.9 204.4 C1068.5 202.5 1049 194.7 1041.4 193.3 C1033.7 191.9 1036.5 191.6 1028.1 196.3 C1019.7 200.9 1000.5 214.2 991.1 221.4 C981.8 228.5 977.3 231.7 971.9 239.1 C966.5 246.5 962.5 252.7 958.6 265.7 C954.7 278.8 949.7 306.9 948.3 317.5 C946.8 328.1 946.4 323.5 949.7 329.3 C953.1 335.1 965.1 348.4 968.2 352.2" fill="none" stroke="#000" stroke-width="1" />
<path d="M1066.5 202.2 C1060.1 201.4 1040.4 193.1 1028.1 197.7 C1015.8 202.4 1001.5 220.4 992.6 230.3 C983.7 240.1 980.5 246.5 974.9 256.9 C969.2 267.2 962.3 284.7 958.6 292.3 C954.9 300 953.7 301 952.7 302.7" fill="none" stroke="#000" stroke-width="1" />
<path d="M1066.5 202.2 C1067.7 203.2 1072.9 204.4 1073.9 208.1 C1074.9 211.8 1074.1 218.4 1072.4 224.3 C1070.7 230.3 1067 237.3 1063.6 243.6 C1060.1 249.8 1053.7 259 1051.7 262" fill="none" stroke="#000" stroke-width="1" />
<path d="M1063.6 203.7 C1060.1 205.9 1052.2 208.1 1042.9 217 C1033.5 225.8 1018.2 241.3 1007.4 256.9 C996.5 272.4 983.7 298.7 977.8 310.1 C971.9 321.4 973.6 319.4 971.9 324.9 C970.2 330.3 967.7 338 967.5 342.6 C967.2 347.2 968.7 351 970.4 352.2 C972.2 353.4 969.9 356.5 977.8 350 C985.7 343.5 1011.1 319.2 1017.7 313" fill="none" stroke="#000" stroke-width="1" />
<path d="M1066.5 204.4 C1063.1 206.2 1055.4 206.7 1045.8 215.5 C1036.2 224.2 1019.9 241.3 1008.9 256.9 C997.8 272.4 985.1 297.8 979.3 308.6 C973.5 319.4 975 319.7 974.1 321.9" fill="none" stroke="#000" stroke-width="1" />
<path d="M1042.9 217 L1050.3 261.3 L1072.4 276.1" fill="none" stroke="#000" stroke-width="1" />
<path d="M973.4 319 L1016.3 310.1 L1039.9 325.6" fill="none" stroke="#000" stroke-width="1" />
<path d="M1050.3 261.3 C1048 263 1041.1 267.5 1036.9 271.6 C1032.8 275.8 1028.6 280 1025.1 286.4 C1021.7 292.8 1017.7 306.1 1016.3 310.1" fill="none" stroke="#000" stroke-width="1" />
<path d="M1073.1 277 L1073.5 277.5 L1073.8 278.2 L1073.8 279.2 L1073.6 280.5 L1073.3 281.9 L1072.7 283.6 L1072 285.5 L1071.1 287.5 L1070 289.7 L1068.8 292 L1067.5 294.5 L1066 297 L1064.4 299.5 L1062.8 302.1 L1061 304.6 L1059.2 307.1 L1057.4 309.6 L1055.5 311.9 L1053.7 314.2 L1051.9 316.3 L1050.1 318.2 L1048.4 319.9 L1046.8 321.5 L1045.3 322.8 L1043.9 323.9 L1042.6 324.7 L1041.5 325.3 L1040.6 325.6 L1039.8 325.7 L1039.2 325.4 L1038.8 324.9 L1038.6 324.2 L1038.5 323.2 L1038.7 322 L1039.1 320.5 L1039.6 318.8 L1040.3 316.9 L1041.2 314.9 L1042.3 312.7 L1043.5 310.4 L1044.8 308 L1046.3 305.5 L1047.9 302.9 L1049.6 300.4 L1051.3 297.8 L1053.1 295.3 L1055 292.9 L1056.8 290.5 L1058.6 288.3 L1060.4 286.2 L1062.2 284.2 L1063.9 282.5 L1065.5 280.9 L1067 279.6 L1068.4 278.5 L1069.7 277.7 L1070.8 277.1 L1071.7 276.8 L1072.5 276.8 Z" fill="none" stroke="#000" stroke-width="1" />
<path d="M1069.9 280.9 L1070.2 281.3 L1070.4 281.9 L1070.3 282.7 L1070.1 283.8 L1069.7 285.1 L1069.2 286.6 L1068.5 288.2 L1067.6 290 L1066.6 291.9 L1065.5 294 L1064.2 296.1 L1062.9 298.4 L1061.4 300.6 L1059.9 302.9 L1058.3 305.2 L1056.7 307.5 L1055.1 309.7 L1053.4 311.8 L1051.8 313.9 L1050.2 315.8 L1048.7 317.6 L1047.2 319.2 L1045.8 320.6 L1044.5 321.8 L1043.3 322.8 L1042.2 323.6 L1041.3 324.2 L1040.5 324.5 L1039.9 324.6 L1039.4 324.5 L1039.1 324.1 L1039 323.5 L1039 322.6 L1039.3 321.6 L1039.7 320.3 L1040.2 318.8 L1040.9 317.2 L1041.8 315.4 L1042.8 313.4 L1043.9 311.4 L1045.2 309.2 L1046.5 307 L1048 304.7 L1049.5 302.4 L1051.1 300.1 L1052.7 297.9 L1054.3 295.7 L1055.9 293.5 L1057.6 291.5 L1059.2 289.6 L1060.7 287.8 L1062.2 286.2 L1063.6 284.8 L1064.9 283.6 L1066.1 282.5 L1067.2 281.7 L1068.1 281.2 L1068.9 280.8 L1069.5 280.7 Z" fill="none" stroke="#000" stroke-width="1" />
<rect x="1657" y="1004" width="349" height="349" fill="none" stroke="#000" stroke-width="2" stroke-linejoin="miter"/>
<rect x="1657" y="1004" width="94" height="54" fill="none" stroke="#000" stroke-width="2" stroke-linejoin="miter"/>
<g transform="translate(1663.8 1040.5) scale(1.0658 1)"><text x="0" y="0" font-size="32">5</text><text x="17.8" y="0" font-size="32">8</text><text x="35.6" y="0" font-size="32">2</text><text x="53.4" y="0" font-size="32">A</text></g>
<g transform="translate(1784.7 969.6) scale(1.0740 1)"><text x="0" y="0" font-size="32">9</text><text x="17.8" y="0" font-size="32">7</text><text x="35.6" y="0" font-size="32">4</text></g>
<g transform="translate(2036.5 1174.2) scale(1.0597 1)"><path d="M7.9 0 L7.9 -15.1 L3 -15.1 L3 -16.8 L5.1 -17.4 L7.2 -19.8 L8.3 -22 L11 -22 L11 0 Z" fill="#000"/><text x="17.8" y="0" font-size="32">3</text><text x="35.6" y="0" font-size="32">3</text><text x="53.4" y="0" font-size="32">7</text></g>
<path d="M1865.9 959.2 C1865.6 959.1 1865.4 958.5 1863.9 958.4 C1862.4 958.2 1858.9 957.9 1857.1 958.2 C1855.2 958.5 1854.2 958.9 1853 960.2 C1851.7 961.5 1850.2 963.8 1849.5 966 C1848.9 968.3 1848.9 971.4 1849.2 973.9 C1849.5 976.3 1850.3 978.4 1851.3 980.7 C1852.2 983 1853.5 985.5 1855 987.5 C1856.5 989.6 1858.6 991.6 1860.5 993 C1862.3 994.3 1864.2 995.2 1865.9 995.7 C1867.6 996.2 1869.2 996.4 1870.7 996 C1872.2 995.7 1873.5 994.9 1874.8 993.7 C1876 992.4 1876.8 989.9 1878.2 988.5 C1879.6 987.2 1881.8 986.8 1883.3 985.5 C1884.8 984.2 1886.1 982.3 1887.1 980.7 C1888 979.1 1888.6 977.6 1889.1 975.9 C1889.6 974.2 1890.3 972.1 1890.1 970.5 C1890 968.9 1889.1 967.7 1888.4 966.4 C1887.8 965.1 1887.4 963.8 1886.4 962.6 C1885.4 961.4 1883.9 960.4 1882.3 959.2 C1880.7 958 1878.3 956.1 1876.8 955.5 C1875.4 954.8 1874.4 954.9 1873.4 955.1 C1872.4 955.3 1871.9 955.8 1870.7 956.5 C1869.4 957.2 1866.7 958.8 1865.9 959.2 C1865.1 959.7 1866.3 959.4 1865.9 959.2 Z" fill="none" stroke="#000" stroke-width="2.5" />
<path d="M1863.9 959.9 C1863.3 959.9 1862.1 959.9 1860.5 960.2 C1858.9 960.6 1855.8 961 1854.3 961.9 C1852.8 962.9 1852 964.6 1851.6 966 C1851.2 967.5 1851.5 968.3 1851.9 970.5 C1852.4 972.6 1853.1 976.3 1854.3 979 C1855.5 981.7 1857.5 984.7 1859.1 986.8 C1860.7 989 1862.2 990.7 1863.9 992 C1865.5 993.2 1867.3 994.2 1869 994.3 C1870.7 994.5 1872.6 993.8 1874.1 992.6 C1875.6 991.4 1877.5 988.1 1878.2 987.2" fill="none" stroke="#000" stroke-width="1.6" />
<path d="M1855.3 967.7 L1868.3 961.3 L1872.4 956.5 L1878.2 956.8" fill="none" stroke="#000" stroke-width="1.3" />
<path d="M1855.3 967.7 L1859.1 984.1 L1870 990.2 L1880.9 984.1 L1886 979.3" fill="none" stroke="#000" stroke-width="1.3" />
<path d="M1859.1 983.8 L1872.1 976.9 L1868.6 962.6" fill="none" stroke="#000" stroke-width="1.3" />
<path d="M1886.6 966.7 L1887.1 967.8 L1887.5 968.9 L1887.8 970.1 L1888 971.2 L1888.1 972.4 L1888.1 973.5 L1888 974.6 L1887.8 975.6 L1887.5 976.6 L1887.2 977.5 L1886.7 978.3 L1886.2 979 L1885.6 979.7 L1884.9 980.2 L1884.1 980.6 L1883.3 980.9 L1882.5 981.1 L1881.6 981.2 L1880.7 981.1 L1879.8 981 L1878.8 980.7 L1877.9 980.2 L1877 979.7 L1876.1 979.1 L1875.2 978.4 L1874.4 977.6 L1873.7 976.7 L1873 975.7 L1872.4 974.7 L1871.8 973.6 L1871.3 972.5 L1870.9 971.3 L1870.7 970.2 L1870.5 969 L1870.3 967.9 L1870.3 966.7 L1870.4 965.7 L1870.6 964.6 L1870.9 963.7 L1871.3 962.8 L1871.7 961.9 L1872.3 961.2 L1872.9 960.6 L1873.6 960 L1874.3 959.6 L1875.1 959.3 L1876 959.1 L1876.9 959.1 L1877.8 959.1 L1878.7 959.3 L1879.6 959.6 L1880.5 960 L1881.5 960.5 L1882.3 961.1 L1883.2 961.9 L1884 962.7 L1884.8 963.6 L1885.5 964.6 L1886.1 965.6 Z" fill="none" stroke="#000" stroke-width="3" />
<path d="M1883.2 968.6 L1883.6 969.3 L1883.8 970.1 L1884.1 970.9 L1884.2 971.6 L1884.4 972.4 L1884.4 973.1 L1884.4 973.8 L1884.4 974.5 L1884.3 975.1 L1884.1 975.7 L1883.9 976.2 L1883.6 976.6 L1883.3 977 L1882.9 977.3 L1882.5 977.6 L1882.1 977.7 L1881.6 977.8 L1881.1 977.8 L1880.6 977.7 L1880.1 977.6 L1879.5 977.3 L1879 977 L1878.5 976.6 L1877.9 976.2 L1877.4 975.6 L1876.9 975.1 L1876.4 974.4 L1876 973.8 L1875.6 973.1 L1875.2 972.3 L1874.9 971.6 L1874.6 970.8 L1874.4 970 L1874.2 969.3 L1874.1 968.5 L1874 967.8 L1874 967.1 L1874.1 966.4 L1874.2 965.8 L1874.3 965.2 L1874.6 964.7 L1874.8 964.3 L1875.1 963.9 L1875.5 963.6 L1875.9 963.4 L1876.3 963.2 L1876.8 963.1 L1877.3 963.1 L1877.8 963.2 L1878.4 963.4 L1878.9 963.6 L1879.4 963.9 L1880 964.3 L1880.5 964.8 L1881 965.3 L1881.5 965.9 L1882 966.5 L1882.5 967.2 L1882.9 967.9 Z" fill="none" stroke="#000" stroke-width="2.5" />
<path d="M1881 968.5 L1881.2 969.1 L1881.5 969.7 L1881.6 970.3 L1881.8 970.9 L1881.9 971.4 L1882 972 L1882 972.5 L1882 973 L1881.9 973.5 L1881.8 974 L1881.7 974.3 L1881.5 974.7 L1881.3 975 L1881.1 975.2 L1880.8 975.3 L1880.5 975.5 L1880.2 975.5 L1879.8 975.5 L1879.4 975.4 L1879.1 975.2 L1878.7 975 L1878.3 974.8 L1877.9 974.5 L1877.5 974.1 L1877.1 973.7 L1876.7 973.2 L1876.4 972.7 L1876 972.2 L1875.7 971.7 L1875.4 971.1 L1875.2 970.5 L1874.9 969.9 L1874.8 969.3 L1874.6 968.7 L1874.5 968.1 L1874.4 967.6 L1874.4 967 L1874.4 966.5 L1874.5 966 L1874.6 965.6 L1874.7 965.2 L1874.9 964.9 L1875.1 964.6 L1875.3 964.4 L1875.6 964.2 L1875.9 964.1 L1876.2 964.1 L1876.6 964.1 L1877 964.2 L1877.3 964.3 L1877.7 964.5 L1878.1 964.8 L1878.5 965.1 L1878.9 965.5 L1879.3 965.9 L1879.7 966.3 L1880 966.8 L1880.4 967.4 L1880.7 967.9 Z" fill="none" stroke="#000" stroke-width="1.5" />
<path d="M1697.3 1121 C1696.6 1119.6 1688.7 1118.3 1693.2 1112.8 C1697.8 1107.4 1718 1092.3 1724.6 1088.3 C1731.2 1084.2 1728.2 1083.7 1732.8 1088.3 C1737.3 1092.8 1748.9 1110.1 1751.9 1115.5 C1754.8 1121 1750.7 1120.1 1750.5 1121" fill="none" stroke="#000" stroke-width="1" />
<path d="M1750.5 1121 L1745 1131.9 L1743.1 1148.3 L1743.7 1191.9 L1741 1198.8 L1700 1228.8 L1694.6 1228.8 L1668.6 1209.7 L1668.6 1204.2 L1700 1181 L1701.4 1167.4 L1709.6 1148.3 L1713.7 1142.8 L1697.3 1121" fill="none" stroke="#000" stroke-width="1" />
<path d="M1733.4 1116.3 L1733.1 1117.7 L1732.6 1119.1 L1732.1 1120.4 L1731.4 1121.6 L1730.6 1122.7 L1729.7 1123.8 L1728.7 1124.7 L1727.6 1125.6 L1726.5 1126.3 L1725.3 1126.9 L1724.1 1127.3 L1722.8 1127.6 L1721.5 1127.8 L1720.2 1127.8 L1718.9 1127.6 L1717.7 1127.3 L1716.5 1126.9 L1715.3 1126.3 L1714.2 1125.6 L1713.2 1124.7 L1712.3 1123.8 L1711.5 1122.7 L1710.7 1121.6 L1710.1 1120.3 L1709.7 1119 L1709.3 1117.7 L1709.1 1116.3 L1709 1114.9 L1709 1113.5 L1709.2 1112 L1709.5 1110.6 L1710 1109.3 L1710.5 1108 L1711.2 1106.8 L1712 1105.6 L1712.9 1104.6 L1713.9 1103.6 L1715 1102.8 L1716.1 1102.1 L1717.3 1101.5 L1718.6 1101 L1719.8 1100.7 L1721.1 1100.6 L1722.4 1100.6 L1723.7 1100.7 L1724.9 1101 L1726.1 1101.5 L1727.3 1102.1 L1728.4 1102.8 L1729.4 1103.6 L1730.3 1104.6 L1731.2 1105.6 L1731.9 1106.8 L1732.5 1108 L1733 1109.3 L1733.3 1110.7 L1733.5 1112.1 L1733.6 1113.5 L1733.6 1114.9 Z" fill="none" stroke="#000" stroke-width="1" />
<path d="M1712.3 1145.6 L1751.9 1116.9" fill="none" stroke="#000" stroke-width="1" />
<path d="M1701.4 1181 L1702.8 1227.4" fill="none" stroke="#000" stroke-width="1" />
<path d="M1697.8 1208.3 L1697.3 1208.3 L1696.8 1208.2 L1696.3 1208 L1695.8 1207.8 L1695.4 1207.6 L1695 1207.3 L1694.6 1206.9 L1694.2 1206.5 L1693.9 1206.1 L1693.6 1205.6 L1693.4 1205.1 L1693.2 1204.5 L1693 1204 L1693 1203.4 L1692.9 1202.9 L1693 1202.3 L1693 1201.7 L1693.2 1201.2 L1693.4 1200.6 L1693.6 1200.1 L1693.9 1199.6 L1694.2 1199.2 L1694.6 1198.8 L1695 1198.4 L1695.4 1198.1 L1695.8 1197.9 L1696.3 1197.7 L1696.8 1197.5 L1697.3 1197.4 L1697.8 1197.4" fill="none" stroke="#000" stroke-width="1" />
<path d="M1773.7 1107.4 L1757.3 1078.7 L1787.3 1050.1 L1795.5 1051.4 L1816 1078.7" fill="none" stroke="#000" stroke-width="1" />
<path d="M1816 1078.7 C1819.4 1078.9 1827.1 1077.1 1836.5 1080.1 C1845.8 1083 1859.6 1087.3 1871.9 1096.4 C1884.2 1105.5 1899.2 1120.1 1910.1 1134.6 C1921 1149.2 1931 1168.7 1937.4 1183.8 C1943.8 1198.8 1946.3 1210.6 1948.3 1224.7 C1950.4 1238.8 1949.5 1261.1 1949.7 1268.3" fill="none" stroke="#000" stroke-width="1" />
<path d="M1949.7 1268.3 L1956.5 1282 L1982.4 1299.7 L1981.1 1306.5 L1951.1 1327 L1942.9 1327 L1912.9 1306.5 L1908.8 1295.6 L1907.4 1243.8" fill="none" stroke="#000" stroke-width="1" />
<path d="M1907.4 1243.8 C1906 1237.4 1903.8 1217.9 1899.2 1205.6 C1894.7 1193.3 1887.8 1181.5 1880.1 1170.1 C1872.4 1158.7 1863.3 1146.5 1852.8 1137.4 C1842.4 1128.3 1829.6 1120.1 1817.4 1115.5 C1805.1 1111 1786.4 1111.4 1779.2 1110.1 C1771.9 1108.7 1774.6 1107.8 1773.7 1107.4" fill="none" stroke="#000" stroke-width="1.6" />
<path d="M1776.4 1108.7 L1816 1079.5" fill="none" stroke="#000" stroke-width="1" />
<path d="M1910.1 1297 L1949.7 1269.7" fill="none" stroke="#000" stroke-width="1" />
<path d="M1791.2 1076.5 L1791.1 1077.4 L1791 1078.2 L1790.8 1079.1 L1790.5 1079.9 L1790.2 1080.6 L1789.8 1081.3 L1789.3 1082 L1788.7 1082.6 L1788.1 1083.1 L1787.5 1083.6 L1786.8 1084 L1786.1 1084.3 L1785.3 1084.5 L1784.6 1084.7 L1783.8 1084.7 L1783 1084.7 L1782.3 1084.5 L1781.5 1084.3 L1780.8 1084 L1780.1 1083.6 L1779.5 1083.1 L1778.9 1082.6 L1778.3 1082 L1777.8 1081.3 L1777.4 1080.6 L1777.1 1079.9 L1776.8 1079.1 L1776.6 1078.2 L1776.5 1077.4 L1776.4 1076.5 L1776.5 1075.7 L1776.6 1074.8 L1776.8 1074 L1777.1 1073.2 L1777.4 1072.4 L1777.8 1071.7 L1778.3 1071 L1778.9 1070.4 L1779.5 1069.9 L1780.1 1069.4 L1780.8 1069 L1781.5 1068.7 L1782.3 1068.5 L1783 1068.4 L1783.8 1068.3 L1784.6 1068.4 L1785.3 1068.5 L1786.1 1068.7 L1786.8 1069 L1787.5 1069.4 L1788.1 1069.9 L1788.7 1070.4 L1789.3 1071 L1789.8 1071.7 L1790.2 1072.4 L1790.5 1073.2 L1790.8 1074 L1791 1074.8 L1791.1 1075.7 Z" fill="none" stroke="#000" stroke-width="1" />
<path d="M1958.4 1304.6 L1958.4 1305.2 L1958.2 1305.8 L1958 1306.3 L1957.7 1306.8 L1957.3 1307.4 L1956.9 1307.8 L1956.3 1308.3 L1955.7 1308.7 L1955 1309 L1954.3 1309.4 L1953.6 1309.6 L1952.8 1309.8 L1951.9 1310 L1951.1 1310.1 L1950.2 1310.1 L1949.4 1310.1 L1948.5 1310 L1947.7 1309.8 L1946.9 1309.6 L1946.1 1309.4 L1945.4 1309 L1944.8 1308.7 L1944.1 1308.3 L1943.6 1307.8 L1943.1 1307.4 L1942.8 1306.8 L1942.4 1306.3 L1942.2 1305.8 L1942.1 1305.2 L1942 1304.6 L1942.1 1304.1 L1942.2 1303.5 L1942.4 1302.9 L1942.8 1302.4 L1943.1 1301.9 L1943.6 1301.4 L1944.1 1301 L1944.8 1300.6 L1945.4 1300.2 L1946.1 1299.9 L1946.9 1299.6 L1947.7 1299.4 L1948.5 1299.3 L1949.4 1299.2 L1950.2 1299.2 L1951.1 1299.2 L1951.9 1299.3 L1952.8 1299.4 L1953.6 1299.6 L1954.3 1299.9 L1955 1300.2 L1955.7 1300.6 L1956.3 1301 L1956.9 1301.4 L1957.3 1301.9 L1957.7 1302.4 L1958 1302.9 L1958.2 1303.5 L1958.4 1304.1 Z" fill="none" stroke="#000" stroke-width="1" />
<path d="M2035.3 1205.1 L2037.7 1204.8 L2038.1 1201.7 L2040.5 1199.3 L2047.6 1199.3 L2050 1200.7 L2052.7 1202.4 L2053.8 1205.5 L2053.8 1210.6 L2052.1 1210.9 L2051.4 1212.6 L2050 1212.6 L2039.1 1212.6 L2036 1211.3 L2035.3 1210.2 Z" fill="none" stroke="#000" stroke-width="2" />
<path d="M2037.7 1204.8 L2040.5 1205.8 L2050 1205.8 L2052.7 1202.4" fill="none" stroke="#000" stroke-width="2" />
<path d="M2042.2 1206.8 L2042.5 1211.6 L2050 1211.3 L2050.4 1206.8" fill="none" stroke="#000" stroke-width="1.6" />
<path d="M2040.5 1201.7 L2045.9 1201.7 L2048.3 1200" fill="none" stroke="#000" stroke-width="2.2" />
<path d="M2039.4 1212.6 L2039.4 1225.9 L2041.1 1228.7 L2044.2 1229.7 L2048 1228.7 L2049.7 1225.9 L2049.7 1212.6" fill="none" stroke="#000" stroke-width="2" />
<path d="M2039.6 1214 L2041.8 1216 L2047.3 1216 L2049.5 1214" fill="none" stroke="#000" stroke-width="2" />
<path d="M2039.6 1217.7 L2041.8 1219.8 L2047.3 1219.8 L2049.5 1217.7" fill="none" stroke="#000" stroke-width="2" />
<path d="M2039.6 1221.8 L2041.8 1223.9 L2047.3 1223.9 L2049.5 1221.8" fill="none" stroke="#000" stroke-width="2" />
<path d="M2039.6 1225.6 L2041.8 1227.6 L2047.3 1227.6 L2049.5 1225.6" fill="none" stroke="#000" stroke-width="2" />
<path d="M2041.1 1213.3 L2047.3 1213.3" fill="none" stroke="#000" stroke-width="2" />
<g transform="translate(1484.5 1148.7) scale(1.0658 1)"><text x="0" y="0" font-size="32">6</text><text x="17.8" y="0" font-size="32">8</text><text x="35.6" y="0" font-size="32">9</text><text x="53.4" y="0" font-size="32">A</text></g>
<g transform="translate(1412.5 1291.7) scale(1.0506 1)"><path d="M7.9 0 L7.9 -15.1 L3 -15.1 L3 -16.8 L5.1 -17.4 L7.2 -19.8 L8.3 -22 L11 -22 L11 0 Z" fill="#000"/><text x="17.8" y="0" font-size="32">3</text><text x="35.6" y="0" font-size="32">3</text><text x="53.4" y="0" font-size="32">7</text><text x="71.2" y="0" font-size="32">A</text></g>
<path d="M1575.5 1175.4 L1575.1 1177.2 L1574.6 1178.9 L1574 1180.6 L1573.4 1182.2 L1572.6 1183.8 L1571.8 1185.2 L1570.9 1186.5 L1570 1187.6 L1569 1188.6 L1568 1189.4 L1566.9 1190.1 L1565.9 1190.6 L1564.8 1190.9 L1563.8 1191 L1562.7 1190.9 L1561.8 1190.6 L1560.8 1190.1 L1559.9 1189.5 L1559.1 1188.7 L1558.3 1187.7 L1557.6 1186.6 L1557.1 1185.3 L1556.6 1183.9 L1556.2 1182.4 L1555.9 1180.8 L1555.7 1179.1 L1555.6 1177.4 L1555.7 1175.6 L1555.8 1173.8 L1556.1 1172 L1556.5 1170.2 L1556.9 1168.4 L1557.5 1166.7 L1558.2 1165.1 L1558.9 1163.6 L1559.7 1162.2 L1560.6 1160.9 L1561.6 1159.8 L1562.5 1158.8 L1563.6 1157.9 L1564.6 1157.3 L1565.7 1156.8 L1566.7 1156.5 L1567.8 1156.4 L1568.8 1156.5 L1569.8 1156.8 L1570.8 1157.2 L1571.7 1157.8 L1572.5 1158.7 L1573.2 1159.6 L1573.9 1160.8 L1574.5 1162 L1575 1163.4 L1575.4 1165 L1575.7 1166.6 L1575.9 1168.2 L1575.9 1170 L1575.9 1171.8 L1575.7 1173.6 Z" fill="none" stroke="#000" stroke-width="1" />
<path d="M1582 1173.8 L1581.6 1175.6 L1581.1 1177.3 L1580.5 1179.1 L1579.8 1180.7 L1579 1182.2 L1578.2 1183.7 L1577.2 1185 L1576.2 1186.1 L1575.2 1187.1 L1574.1 1188 L1573 1188.6 L1571.8 1189.1 L1570.7 1189.4 L1569.5 1189.5 L1568.4 1189.4 L1567.4 1189.1 L1566.3 1188.6 L1565.3 1187.9 L1564.4 1187.1 L1563.6 1186.1 L1562.9 1185 L1562.2 1183.7 L1561.7 1182.2 L1561.2 1180.7 L1560.9 1179 L1560.7 1177.3 L1560.6 1175.5 L1560.6 1173.7 L1560.8 1171.9 L1561 1170.1 L1561.4 1168.2 L1561.9 1166.5 L1562.5 1164.8 L1563.2 1163.1 L1564 1161.6 L1564.8 1160.1 L1565.8 1158.8 L1566.8 1157.7 L1567.8 1156.7 L1568.9 1155.9 L1570.1 1155.2 L1571.2 1154.7 L1572.3 1154.4 L1573.5 1154.3 L1574.6 1154.4 L1575.7 1154.7 L1576.7 1155.2 L1577.7 1155.9 L1578.6 1156.7 L1579.4 1157.7 L1580.2 1158.9 L1580.8 1160.2 L1581.4 1161.6 L1581.8 1163.1 L1582.1 1164.8 L1582.3 1166.5 L1582.4 1168.3 L1582.4 1170.1 L1582.3 1171.9 Z" fill="none" stroke="#000" stroke-width="1" />
<path d="M1588.5 1172.1 L1588.1 1174 L1587.6 1175.8 L1587 1177.5 L1586.3 1179.2 L1585.5 1180.7 L1584.5 1182.2 L1583.5 1183.5 L1582.5 1184.6 L1581.3 1185.7 L1580.2 1186.5 L1579 1187.1 L1577.8 1187.6 L1576.5 1187.9 L1575.3 1188 L1574.1 1187.9 L1573 1187.6 L1571.8 1187.1 L1570.8 1186.4 L1569.8 1185.5 L1568.9 1184.5 L1568.1 1183.3 L1567.4 1182 L1566.8 1180.5 L1566.3 1178.9 L1565.9 1177.3 L1565.7 1175.5 L1565.5 1173.7 L1565.6 1171.9 L1565.7 1170 L1566 1168.1 L1566.3 1166.3 L1566.9 1164.5 L1567.5 1162.8 L1568.2 1161.1 L1569 1159.5 L1569.9 1158.1 L1570.9 1156.8 L1572 1155.6 L1573.1 1154.6 L1574.3 1153.8 L1575.5 1153.1 L1576.7 1152.6 L1578 1152.4 L1579.2 1152.3 L1580.4 1152.4 L1581.5 1152.7 L1582.6 1153.2 L1583.7 1153.9 L1584.7 1154.7 L1585.6 1155.8 L1586.4 1157 L1587.1 1158.3 L1587.7 1159.7 L1588.2 1161.3 L1588.6 1163 L1588.8 1164.7 L1588.9 1166.5 L1588.9 1168.4 L1588.8 1170.3 Z" fill="none" stroke="#000" stroke-width="1" />
<path d="M1595.1 1170.5 L1594.7 1172.4 L1594.1 1174.2 L1593.5 1176 L1592.7 1177.6 L1591.9 1179.2 L1590.9 1180.7 L1589.8 1182 L1588.7 1183.2 L1587.5 1184.2 L1586.3 1185 L1585 1185.7 L1583.7 1186.1 L1582.4 1186.4 L1581.1 1186.5 L1579.8 1186.4 L1578.6 1186 L1577.4 1185.5 L1576.2 1184.8 L1575.2 1183.9 L1574.2 1182.9 L1573.3 1181.7 L1572.5 1180.3 L1571.9 1178.8 L1571.3 1177.2 L1570.9 1175.5 L1570.6 1173.7 L1570.5 1171.9 L1570.5 1170 L1570.6 1168.1 L1570.9 1166.2 L1571.3 1164.4 L1571.8 1162.5 L1572.5 1160.8 L1573.2 1159.1 L1574.1 1157.5 L1575.1 1156 L1576.1 1154.7 L1577.2 1153.6 L1578.4 1152.5 L1579.7 1151.7 L1581 1151 L1582.3 1150.6 L1583.6 1150.3 L1584.9 1150.2 L1586.1 1150.4 L1587.4 1150.7 L1588.6 1151.2 L1589.7 1151.9 L1590.8 1152.8 L1591.8 1153.8 L1592.6 1155 L1593.4 1156.4 L1594.1 1157.9 L1594.6 1159.5 L1595 1161.2 L1595.3 1163 L1595.5 1164.8 L1595.5 1166.7 L1595.3 1168.6 Z" fill="none" stroke="#000" stroke-width="1" />
<path d="M1601.6 1168.9 L1601.2 1170.8 L1600.7 1172.6 L1600 1174.4 L1599.2 1176.1 L1598.3 1177.7 L1597.2 1179.2 L1596.1 1180.5 L1594.9 1181.7 L1593.7 1182.7 L1592.4 1183.5 L1591 1184.2 L1589.6 1184.7 L1588.2 1184.9 L1586.8 1185 L1585.5 1184.9 L1584.1 1184.5 L1582.9 1184 L1581.7 1183.3 L1580.5 1182.4 L1579.5 1181.3 L1578.5 1180 L1577.7 1178.6 L1577 1177.1 L1576.4 1175.5 L1575.9 1173.8 L1575.6 1171.9 L1575.4 1170.1 L1575.4 1168.2 L1575.5 1166.2 L1575.8 1164.3 L1576.2 1162.4 L1576.8 1160.6 L1577.4 1158.8 L1578.2 1157.1 L1579.1 1155.5 L1580.2 1154 L1581.3 1152.7 L1582.5 1151.5 L1583.7 1150.5 L1585 1149.6 L1586.4 1149 L1587.8 1148.5 L1589.2 1148.2 L1590.6 1148.2 L1591.9 1148.3 L1593.3 1148.6 L1594.5 1149.2 L1595.8 1149.9 L1596.9 1150.8 L1597.9 1151.9 L1598.9 1153.1 L1599.7 1154.5 L1600.4 1156 L1601 1157.7 L1601.5 1159.4 L1601.8 1161.2 L1602 1163.1 L1602 1165 L1601.9 1166.9 Z" fill="none" stroke="#000" stroke-width="1" />
<path d="M1608.1 1167.2 L1607.7 1169.2 L1607.2 1171 L1606.5 1172.8 L1605.6 1174.6 L1604.7 1176.2 L1603.6 1177.7 L1602.4 1179 L1601.2 1180.2 L1599.8 1181.2 L1598.5 1182.1 L1597 1182.7 L1595.6 1183.2 L1594.1 1183.5 L1592.6 1183.5 L1591.2 1183.4 L1589.7 1183 L1588.4 1182.4 L1587.1 1181.7 L1585.9 1180.8 L1584.7 1179.7 L1583.7 1178.4 L1582.8 1177 L1582.1 1175.4 L1581.4 1173.8 L1580.9 1172 L1580.6 1170.1 L1580.4 1168.2 L1580.3 1166.3 L1580.5 1164.3 L1580.7 1162.4 L1581.1 1160.5 L1581.7 1158.6 L1582.4 1156.8 L1583.2 1155.1 L1584.2 1153.4 L1585.3 1152 L1586.4 1150.6 L1587.7 1149.4 L1589 1148.4 L1590.4 1147.5 L1591.8 1146.9 L1593.3 1146.4 L1594.8 1146.2 L1596.3 1146.1 L1597.7 1146.3 L1599.1 1146.6 L1600.5 1147.2 L1601.8 1147.9 L1603 1148.9 L1604.1 1150 L1605.1 1151.2 L1606 1152.6 L1606.8 1154.2 L1607.4 1155.9 L1607.9 1157.6 L1608.3 1159.5 L1608.5 1161.4 L1608.5 1163.3 L1608.4 1165.3 Z" fill="none" stroke="#000" stroke-width="1" />
<path d="M1603.8 1166.6 L1603.5 1168.1 L1603.1 1169.5 L1602.6 1170.9 L1601.9 1172.2 L1601.2 1173.4 L1600.4 1174.5 L1599.6 1175.6 L1598.6 1176.5 L1597.7 1177.3 L1596.6 1177.9 L1595.6 1178.4 L1594.5 1178.8 L1593.4 1179 L1592.3 1179 L1591.3 1178.9 L1590.2 1178.7 L1589.2 1178.2 L1588.3 1177.7 L1587.4 1177 L1586.6 1176.1 L1585.8 1175.2 L1585.2 1174.1 L1584.6 1172.9 L1584.1 1171.7 L1583.8 1170.3 L1583.5 1168.9 L1583.4 1167.5 L1583.4 1166 L1583.5 1164.5 L1583.7 1163 L1584 1161.6 L1584.4 1160.1 L1584.9 1158.8 L1585.6 1157.4 L1586.3 1156.2 L1587.1 1155.1 L1587.9 1154 L1588.9 1153.1 L1589.8 1152.4 L1590.9 1151.7 L1591.9 1151.2 L1593 1150.8 L1594.1 1150.6 L1595.2 1150.6 L1596.2 1150.7 L1597.3 1151 L1598.3 1151.4 L1599.2 1151.9 L1600.1 1152.6 L1600.9 1153.5 L1601.7 1154.4 L1602.3 1155.5 L1602.9 1156.7 L1603.4 1158 L1603.7 1159.3 L1604 1160.7 L1604.1 1162.1 L1604.1 1163.6 L1604 1165.1 Z" fill="none" stroke="#000" stroke-width="1" />
<path d="M1600.5 1166.8 L1600.2 1168 L1599.9 1169.1 L1599.5 1170.3 L1599 1171.3 L1598.5 1172.3 L1597.9 1173.3 L1597.2 1174.1 L1596.5 1174.9 L1595.8 1175.5 L1595 1176 L1594.2 1176.5 L1593.4 1176.8 L1592.6 1176.9 L1591.8 1177 L1591.1 1176.9 L1590.3 1176.7 L1589.6 1176.4 L1588.9 1176 L1588.2 1175.4 L1587.6 1174.7 L1587.1 1174 L1586.6 1173.1 L1586.2 1172.2 L1585.9 1171.2 L1585.7 1170.1 L1585.5 1168.9 L1585.4 1167.8 L1585.4 1166.6 L1585.5 1165.4 L1585.7 1164.2 L1585.9 1163 L1586.3 1161.8 L1586.7 1160.7 L1587.1 1159.7 L1587.7 1158.7 L1588.3 1157.7 L1588.9 1156.9 L1589.6 1156.1 L1590.4 1155.5 L1591.1 1155 L1591.9 1154.5 L1592.7 1154.2 L1593.5 1154.1 L1594.3 1154 L1595.1 1154.1 L1595.8 1154.3 L1596.6 1154.6 L1597.3 1155 L1597.9 1155.6 L1598.5 1156.3 L1599 1157 L1599.5 1157.9 L1599.9 1158.8 L1600.2 1159.8 L1600.5 1160.9 L1600.6 1162 L1600.7 1163.2 L1600.7 1164.4 L1600.6 1165.6 Z" fill="none" stroke="#000" stroke-width="1" />
<path d="M1597.1 1166.3 L1596.9 1167.2 L1596.7 1168.1 L1596.4 1169 L1596.1 1169.8 L1595.7 1170.6 L1595.3 1171.3 L1594.9 1172 L1594.4 1172.5 L1593.9 1173 L1593.4 1173.5 L1592.9 1173.8 L1592.4 1174.1 L1591.9 1174.2 L1591.3 1174.3 L1590.8 1174.2 L1590.4 1174.1 L1589.9 1173.9 L1589.5 1173.5 L1589.1 1173.1 L1588.7 1172.6 L1588.4 1172.1 L1588.1 1171.4 L1587.9 1170.7 L1587.7 1170 L1587.5 1169.1 L1587.5 1168.3 L1587.4 1167.4 L1587.5 1166.5 L1587.5 1165.6 L1587.7 1164.7 L1587.9 1163.8 L1588.1 1162.9 L1588.4 1162 L1588.7 1161.2 L1589.1 1160.4 L1589.5 1159.7 L1589.9 1159 L1590.4 1158.4 L1590.9 1157.9 L1591.4 1157.5 L1591.9 1157.2 L1592.4 1156.9 L1592.9 1156.8 L1593.4 1156.7 L1593.9 1156.8 L1594.4 1156.9 L1594.9 1157.1 L1595.3 1157.4 L1595.7 1157.9 L1596.1 1158.3 L1596.4 1158.9 L1596.7 1159.6 L1596.9 1160.3 L1597.1 1161 L1597.2 1161.8 L1597.3 1162.7 L1597.3 1163.6 L1597.3 1164.5 L1597.2 1165.4 Z" fill="none" stroke="#000" stroke-width="1" />
<path d="M1494.3 1232.4 L1493.9 1234.3 L1493.3 1236.1 L1492.5 1237.9 L1491.6 1239.6 L1490.6 1241.1 L1489.4 1242.5 L1488.1 1243.8 L1486.7 1245 L1485.2 1245.9 L1483.6 1246.7 L1482 1247.3 L1480.3 1247.7 L1478.6 1247.9 L1476.9 1248 L1475.3 1247.8 L1473.6 1247.4 L1472 1246.8 L1470.5 1246 L1469.1 1245.1 L1467.8 1243.9 L1466.5 1242.7 L1465.5 1241.2 L1464.5 1239.7 L1463.7 1238 L1463.1 1236.3 L1462.7 1234.4 L1462.4 1232.6 L1462.3 1230.7 L1462.4 1228.7 L1462.6 1226.8 L1463 1224.9 L1463.6 1223.1 L1464.4 1221.4 L1465.3 1219.7 L1466.3 1218.1 L1467.5 1216.7 L1468.8 1215.4 L1470.2 1214.3 L1471.7 1213.3 L1473.3 1212.5 L1474.9 1211.9 L1476.6 1211.5 L1478.3 1211.3 L1480 1211.3 L1481.7 1211.5 L1483.3 1211.9 L1484.9 1212.5 L1486.4 1213.2 L1487.8 1214.2 L1489.2 1215.3 L1490.4 1216.6 L1491.4 1218 L1492.4 1219.6 L1493.2 1221.2 L1493.8 1223 L1494.2 1224.8 L1494.5 1226.7 L1494.6 1228.6 L1494.6 1230.5 Z" fill="none" stroke="#000" stroke-width="1" />
<path d="M1492.2 1231.1 L1491.8 1232.7 L1491.4 1234.2 L1490.7 1235.7 L1490 1237.1 L1489.2 1238.4 L1488.2 1239.6 L1487.2 1240.7 L1486.1 1241.7 L1484.9 1242.5 L1483.7 1243.2 L1482.4 1243.7 L1481.1 1244.1 L1479.8 1244.2 L1478.4 1244.3 L1477.1 1244.1 L1475.9 1243.8 L1474.6 1243.3 L1473.5 1242.7 L1472.3 1241.9 L1471.3 1241 L1470.4 1239.9 L1469.6 1238.8 L1468.8 1237.5 L1468.2 1236.1 L1467.8 1234.6 L1467.4 1233.1 L1467.2 1231.6 L1467.2 1230 L1467.2 1228.4 L1467.5 1226.8 L1467.8 1225.2 L1468.3 1223.7 L1468.9 1222.2 L1469.6 1220.8 L1470.5 1219.5 L1471.4 1218.3 L1472.4 1217.2 L1473.5 1216.2 L1474.7 1215.4 L1476 1214.7 L1477.2 1214.2 L1478.5 1213.8 L1479.9 1213.6 L1481.2 1213.6 L1482.5 1213.8 L1483.8 1214.1 L1485 1214.5 L1486.2 1215.2 L1487.3 1216 L1488.3 1216.9 L1489.3 1217.9 L1490.1 1219.1 L1490.8 1220.4 L1491.4 1221.8 L1491.9 1223.2 L1492.2 1224.8 L1492.4 1226.3 L1492.5 1227.9 L1492.4 1229.5 Z" fill="none" stroke="#000" stroke-width="1" />
<path d="M1483.2 1213 L1507.8 1204" fill="none" stroke="#000" stroke-width="1" />
<path d="M1494.1 1243.5 L1517.3 1229.6" fill="none" stroke="#000" stroke-width="1" />
<path d="M1516.3 1219.7 L1515.9 1221 L1515.3 1222.2 L1514.7 1223.4 L1513.9 1224.5 L1513.1 1225.5 L1512.2 1226.4 L1511.1 1227.3 L1510.1 1228 L1508.9 1228.6 L1507.8 1229 L1506.6 1229.3 L1505.3 1229.5 L1504.1 1229.5 L1502.9 1229.4 L1501.7 1229.2 L1500.6 1228.8 L1499.5 1228.3 L1498.4 1227.6 L1497.4 1226.9 L1496.6 1226 L1495.8 1225 L1495.1 1224 L1494.5 1222.8 L1494 1221.6 L1493.7 1220.3 L1493.5 1219 L1493.4 1217.7 L1493.4 1216.3 L1493.6 1215 L1493.9 1213.7 L1494.3 1212.4 L1494.8 1211.1 L1495.4 1209.9 L1496.2 1208.8 L1497 1207.8 L1498 1206.9 L1499 1206.1 L1500.1 1205.3 L1501.2 1204.8 L1502.4 1204.3 L1503.6 1204 L1504.8 1203.8 L1506 1203.8 L1507.2 1203.9 L1508.4 1204.1 L1509.6 1204.5 L1510.7 1205 L1511.7 1205.7 L1512.7 1206.4 L1513.6 1207.3 L1514.4 1208.3 L1515.1 1209.4 L1515.6 1210.5 L1516.1 1211.7 L1516.4 1213 L1516.7 1214.3 L1516.8 1215.6 L1516.7 1217 L1516.6 1218.3 Z" fill="none" stroke="#000" stroke-width="1" />
<path d="M1516.4 1217.2 L1516.1 1218.1 L1515.8 1218.8 L1515.4 1219.6 L1514.9 1220.3 L1514.4 1220.9 L1513.8 1221.5 L1513.1 1222 L1512.4 1222.5 L1511.7 1222.8 L1510.9 1223.1 L1510.2 1223.3 L1509.4 1223.4 L1508.6 1223.4 L1507.8 1223.4 L1507 1223.2 L1506.3 1223 L1505.6 1222.6 L1504.9 1222.2 L1504.3 1221.7 L1503.7 1221.2 L1503.2 1220.6 L1502.7 1219.9 L1502.4 1219.1 L1502 1218.4 L1501.8 1217.6 L1501.7 1216.7 L1501.6 1215.9 L1501.6 1215 L1501.7 1214.2 L1501.9 1213.4 L1502.2 1212.5 L1502.5 1211.8 L1502.9 1211 L1503.4 1210.3 L1503.9 1209.7 L1504.5 1209.1 L1505.2 1208.6 L1505.9 1208.1 L1506.6 1207.8 L1507.4 1207.5 L1508.1 1207.3 L1508.9 1207.2 L1509.7 1207.2 L1510.5 1207.2 L1511.3 1207.4 L1512 1207.6 L1512.7 1208 L1513.4 1208.4 L1514 1208.9 L1514.6 1209.4 L1515.1 1210 L1515.6 1210.7 L1516 1211.4 L1516.3 1212.2 L1516.5 1213 L1516.6 1213.9 L1516.7 1214.7 L1516.7 1215.6 L1516.6 1216.4 Z" fill="none" stroke="#000" stroke-width="1" />
<path d="M1507.8 1207.8 L1520.1 1201.7" fill="none" stroke="#000" stroke-width="1" />
<path d="M1511.2 1222.1 L1526.9 1213.9" fill="none" stroke="#000" stroke-width="1" />
<path d="M1527.4 1209.4 L1527.1 1210.1 L1526.9 1210.7 L1526.5 1211.3 L1526.1 1211.9 L1525.7 1212.5 L1525.2 1212.9 L1524.7 1213.4 L1524.1 1213.8 L1523.5 1214.1 L1522.9 1214.3 L1522.2 1214.5 L1521.6 1214.5 L1520.9 1214.6 L1520.3 1214.5 L1519.7 1214.4 L1519.1 1214.2 L1518.5 1213.9 L1517.9 1213.6 L1517.4 1213.2 L1516.9 1212.7 L1516.5 1212.2 L1516.2 1211.6 L1515.8 1211 L1515.6 1210.4 L1515.4 1209.7 L1515.3 1209 L1515.2 1208.3 L1515.3 1207.6 L1515.4 1206.9 L1515.5 1206.2 L1515.7 1205.5 L1516 1204.9 L1516.3 1204.2 L1516.7 1203.7 L1517.2 1203.1 L1517.7 1202.6 L1518.2 1202.2 L1518.8 1201.8 L1519.4 1201.5 L1520 1201.3 L1520.6 1201.1 L1521.3 1201 L1521.9 1201 L1522.6 1201.1 L1523.2 1201.2 L1523.8 1201.4 L1524.4 1201.7 L1524.9 1202 L1525.5 1202.4 L1525.9 1202.9 L1526.3 1203.4 L1526.7 1204 L1527 1204.6 L1527.3 1205.2 L1527.5 1205.9 L1527.6 1206.6 L1527.6 1207.3 L1527.6 1208 L1527.5 1208.7 Z" fill="none" stroke="#000" stroke-width="1" />
<path d="M1518.7 1213.7 L1518.2 1213.6 L1517.7 1213.4 L1517.3 1213.1 L1516.9 1212.8 L1516.5 1212.4 L1516.2 1212 L1515.9 1211.6 L1515.7 1211.1 L1515.5 1210.6 L1515.4 1210 L1515.3 1209.5 L1515.2 1208.9 L1515.3 1208.4 L1515.3 1207.8 L1515.5 1207.2 L1515.6 1206.7 L1515.9 1206.2 L1516.1 1205.7 L1516.4 1205.2 L1516.8 1204.8 L1517.2 1204.4 L1517.6 1204 L1518 1203.7 L1518.5 1203.5 L1519 1203.3 L1519.5 1203.2 L1520 1203.1 L1520.5 1203.1 L1521 1203.1 L1521.5 1203.2" fill="none" stroke="#000" stroke-width="1" />
<rect x="936" y="1341" width="564.4" height="568.8" fill="none" stroke="#000" stroke-width="2" stroke-linejoin="miter"/>
<rect x="936" y="1341" width="126" height="50" fill="none" stroke="#000" stroke-width="1.9" stroke-linejoin="miter"/>
<g transform="translate(957.6 1379.5) scale(1.0616 1)"><text x="0" y="0" font-size="32">9</text><text x="17.8" y="0" font-size="32">6</text><text x="35.6" y="0" font-size="32">8</text><text x="53.4" y="0" font-size="32">A</text></g>
<path d="M1049.1 1422.7 C1049.7 1421.3 1050.6 1416 1052.6 1414.2 C1054.7 1412.4 1058.1 1412.3 1061.2 1412.1 C1064.2 1411.8 1069.5 1412.7 1071.1 1412.8" fill="none" stroke="#000" stroke-width="1" />
<path d="M1071.1 1412.8 L1106.6 1429.1 L1109.5 1432.7 L1108.1 1438.4 L1092.4 1446.9 L1086.7 1447.6 L1054.8 1432 L1049.1 1422.7" fill="none" stroke="#000" stroke-width="1" />
<path d="M1072.2 1421.9 L1072.1 1422.4 L1072 1422.9 L1071.8 1423.3 L1071.5 1423.8 L1071.1 1424.2 L1070.7 1424.5 L1070.2 1424.9 L1069.7 1425.2 L1069.1 1425.4 L1068.5 1425.7 L1067.8 1425.8 L1067.1 1425.9 L1066.4 1426 L1065.7 1426 L1065 1426 L1064.3 1425.9 L1063.6 1425.8 L1062.9 1425.6 L1062.3 1425.3 L1061.7 1425.1 L1061.1 1424.7 L1060.6 1424.4 L1060.1 1424 L1059.7 1423.6 L1059.3 1423.1 L1059.1 1422.7 L1058.8 1422.2 L1058.7 1421.7 L1058.6 1421.2 L1058.6 1420.7 L1058.7 1420.2 L1058.9 1419.8 L1059.1 1419.3 L1059.4 1418.9 L1059.7 1418.5 L1060.2 1418.1 L1060.7 1417.8 L1061.2 1417.4 L1061.8 1417.2 L1062.4 1417 L1063 1416.8 L1063.7 1416.7 L1064.4 1416.6 L1065.1 1416.6 L1065.8 1416.6 L1066.5 1416.7 L1067.2 1416.9 L1067.9 1417.1 L1068.6 1417.3 L1069.2 1417.6 L1069.8 1417.9 L1070.3 1418.2 L1070.8 1418.6 L1071.2 1419.1 L1071.5 1419.5 L1071.8 1420 L1072 1420.4 L1072.2 1420.9 L1072.2 1421.4 Z" fill="none" stroke="#000" stroke-width="1" />
<path d="M1048.4 1425.6 L1047.2 1499.5 L1046.2 1505.2 L1065.4 1515.1" fill="none" stroke="#000" stroke-width="1" />
<path d="M1085.3 1447.6 L1085.3 1473.9 L1087.5 1480.3" fill="none" stroke="#000" stroke-width="1" />
<path d="M1109.5 1442.6 L1110.2 1444.1 L1115.9 1445.5 L1120.9 1448.3 L1119.4 1454 L1109.5 1465.4 L1098.1 1476.7 L1087.5 1480.3 L1076.8 1483.9 L1069.7 1492.4 L1066.9 1506.6 L1066.1 1516.5" fill="none" stroke="#000" stroke-width="1" />
<path d="M1021.4 1469.6 L1029.9 1459.7 L1035.6 1456.9 L1046.2 1457.6 L1046.2 1485.3 L1044.1 1499.5 L1040.6 1491 L1035.6 1488.1 L1022.1 1482.4 Z" fill="none" stroke="#000" stroke-width="1" />
<path d="M1044.8 1464 L1044.8 1464.5 L1044.7 1465.1 L1044.4 1465.6 L1044.1 1466.2 L1043.8 1466.7 L1043.3 1467.1 L1042.8 1467.6 L1042.2 1468 L1041.6 1468.3 L1040.9 1468.6 L1040.2 1468.9 L1039.4 1469.1 L1038.6 1469.2 L1037.8 1469.3 L1037 1469.4 L1036.2 1469.3 L1035.4 1469.2 L1034.6 1469.1 L1033.8 1468.9 L1033.1 1468.6 L1032.4 1468.3 L1031.8 1468 L1031.2 1467.6 L1030.7 1467.1 L1030.2 1466.7 L1029.9 1466.2 L1029.6 1465.6 L1029.4 1465.1 L1029.2 1464.5 L1029.2 1464 L1029.2 1463.4 L1029.4 1462.8 L1029.6 1462.3 L1029.9 1461.8 L1030.2 1461.3 L1030.7 1460.8 L1031.2 1460.3 L1031.8 1459.9 L1032.4 1459.6 L1033.1 1459.3 L1033.8 1459 L1034.6 1458.8 L1035.4 1458.7 L1036.2 1458.6 L1037 1458.6 L1037.8 1458.6 L1038.6 1458.7 L1039.4 1458.8 L1040.2 1459 L1040.9 1459.3 L1041.6 1459.6 L1042.2 1459.9 L1042.8 1460.3 L1043.3 1460.8 L1043.8 1461.3 L1044.1 1461.8 L1044.4 1462.3 L1044.7 1462.8 L1044.8 1463.4 Z" fill="none" stroke="#000" stroke-width="1" />
<path d="M1043 1462.5 L1042.9 1463 L1042.8 1463.4 L1042.7 1463.8 L1042.5 1464.2 L1042.2 1464.5 L1041.8 1464.9 L1041.4 1465.2 L1041 1465.5 L1040.5 1465.8 L1040 1466 L1039.4 1466.2 L1038.8 1466.3 L1038.2 1466.4 L1037.6 1466.5 L1037 1466.5 L1036.4 1466.5 L1035.8 1466.4 L1035.2 1466.3 L1034.6 1466.2 L1034 1466 L1033.5 1465.8 L1033 1465.5 L1032.6 1465.2 L1032.2 1464.9 L1031.8 1464.5 L1031.6 1464.2 L1031.3 1463.8 L1031.2 1463.4 L1031.1 1463 L1031 1462.5 L1031.1 1462.1 L1031.2 1461.7 L1031.3 1461.3 L1031.6 1460.9 L1031.8 1460.5 L1032.2 1460.2 L1032.6 1459.9 L1033 1459.6 L1033.5 1459.3 L1034 1459.1 L1034.6 1458.9 L1035.2 1458.8 L1035.8 1458.6 L1036.4 1458.6 L1037 1458.6 L1037.6 1458.6 L1038.2 1458.6 L1038.8 1458.8 L1039.4 1458.9 L1040 1459.1 L1040.5 1459.3 L1041 1459.6 L1041.4 1459.9 L1041.8 1460.2 L1042.2 1460.5 L1042.5 1460.9 L1042.7 1461.3 L1042.8 1461.7 L1042.9 1462.1 Z" fill="none" stroke="#000" stroke-width="1" />
<path d="M1022.1 1471.1 L1044.1 1482.4 L1046.2 1485.3" fill="none" stroke="#000" stroke-width="1" />
<path d="M1039.8 1499.5 C1038.4 1501.9 1033.6 1507.8 1031.3 1513.7 C1029.1 1519.6 1027.3 1527.9 1026.3 1535 C1025.4 1542.1 1024.8 1549 1025.6 1556.3 C1026.5 1563.7 1028 1571.5 1031.3 1579.1 C1034.6 1586.7 1040.1 1595.2 1045.5 1601.8 C1051 1608.5 1058.8 1614.6 1064 1618.9 C1069.2 1623.1 1074.7 1626 1076.8 1627.4" fill="none" stroke="#000" stroke-width="1" />
<path d="M1038.4 1510.9 C1037.2 1513.7 1032.7 1521.5 1031.3 1527.9 C1029.9 1534.3 1029.4 1541.4 1029.9 1549.2 C1030.4 1557 1031.3 1566.8 1034.2 1574.8 C1037 1582.9 1041.5 1590.9 1047 1597.6 C1052.4 1604.2 1061.6 1610.6 1066.9 1614.6 C1072.1 1618.6 1076.3 1620.5 1078.2 1621.7" fill="none" stroke="#000" stroke-width="1" />
<path d="M1061.2 1525.1 C1060.7 1527.2 1058.6 1532.2 1058.3 1537.9 C1058.1 1543.5 1058.3 1552.5 1059.7 1559.2 C1061.2 1565.8 1063.8 1572.4 1066.9 1577.7 C1069.9 1582.9 1074.8 1586.9 1078.2 1590.4 C1081.7 1594 1085.9 1597.6 1087.5 1599" fill="none" stroke="#000" stroke-width="1" />
<path d="M1066.9 1516.5 C1066.6 1520.8 1065 1535.5 1065.4 1542.1 C1065.9 1548.8 1067.1 1550.9 1069.7 1556.3 C1072.3 1561.8 1076.3 1569.6 1081.1 1574.8 C1085.8 1580 1095.3 1585.5 1098.1 1587.6" fill="none" stroke="#000" stroke-width="1" />
<path d="M1036.3 1509.4 L1038.4 1512.3 L1061.2 1525.1 L1066.1 1516.5" fill="none" stroke="#000" stroke-width="1" />
<path d="M1050.2 1537 L1050.1 1537.5 L1050 1538 L1049.7 1538.5 L1049.4 1538.9 L1049.1 1539.3 L1048.7 1539.7 L1048.2 1540 L1047.6 1540.3 L1047.1 1540.6 L1046.4 1540.8 L1045.8 1541 L1045.1 1541.1 L1044.4 1541.1 L1043.7 1541.2 L1043 1541.1 L1042.3 1541 L1041.6 1540.9 L1040.9 1540.7 L1040.3 1540.5 L1039.6 1540.2 L1039.1 1539.9 L1038.5 1539.5 L1038.1 1539.1 L1037.7 1538.7 L1037.3 1538.3 L1037 1537.8 L1036.8 1537.3 L1036.7 1536.8 L1036.6 1536.3 L1036.6 1535.8 L1036.7 1535.4 L1036.8 1534.9 L1037.1 1534.4 L1037.4 1534 L1037.7 1533.6 L1038.1 1533.2 L1038.6 1532.9 L1039.2 1532.6 L1039.7 1532.3 L1040.4 1532.1 L1041 1531.9 L1041.7 1531.8 L1042.4 1531.7 L1043.1 1531.7 L1043.8 1531.8 L1044.5 1531.9 L1045.2 1532 L1045.9 1532.2 L1046.5 1532.4 L1047.2 1532.7 L1047.7 1533 L1048.3 1533.4 L1048.7 1533.8 L1049.1 1534.2 L1049.5 1534.6 L1049.8 1535.1 L1050 1535.6 L1050.1 1536.1 L1050.2 1536.5 Z" fill="none" stroke="#000" stroke-width="1" />
<path d="M1059.3 1578.3 L1059.2 1578.8 L1059 1579.3 L1058.8 1579.8 L1058.5 1580.3 L1058.1 1580.7 L1057.6 1581.1 L1057.1 1581.5 L1056.5 1581.8 L1055.9 1582 L1055.2 1582.3 L1054.5 1582.4 L1053.8 1582.6 L1053 1582.6 L1052.3 1582.7 L1051.5 1582.6 L1050.7 1582.5 L1050 1582.4 L1049.2 1582.2 L1048.5 1581.9 L1047.9 1581.6 L1047.2 1581.3 L1046.7 1580.9 L1046.2 1580.5 L1045.7 1580 L1045.3 1579.6 L1045 1579.1 L1044.8 1578.6 L1044.6 1578.1 L1044.6 1577.5 L1044.6 1577 L1044.7 1576.5 L1044.8 1576 L1045.1 1575.5 L1045.4 1575.1 L1045.8 1574.6 L1046.2 1574.2 L1046.7 1573.9 L1047.3 1573.5 L1048 1573.3 L1048.6 1573 L1049.3 1572.9 L1050.1 1572.7 L1050.8 1572.7 L1051.6 1572.7 L1052.4 1572.7 L1053.1 1572.8 L1053.9 1572.9 L1054.6 1573.1 L1055.3 1573.4 L1056 1573.7 L1056.6 1574 L1057.2 1574.4 L1057.7 1574.8 L1058.1 1575.3 L1058.5 1575.7 L1058.8 1576.2 L1059.1 1576.7 L1059.2 1577.3 L1059.3 1577.8 Z" fill="none" stroke="#000" stroke-width="1" />
<path d="M1149.3 1643.7 L1149.2 1644.2 L1149 1644.7 L1148.8 1645.2 L1148.5 1645.6 L1148.1 1646 L1147.6 1646.4 L1147.1 1646.8 L1146.6 1647.1 L1146 1647.4 L1145.3 1647.6 L1144.7 1647.8 L1144 1647.9 L1143.2 1648 L1142.5 1648 L1141.7 1648 L1141 1647.9 L1140.3 1647.8 L1139.6 1647.6 L1138.9 1647.3 L1138.3 1647 L1137.7 1646.7 L1137.1 1646.3 L1136.6 1645.9 L1136.2 1645.4 L1135.8 1645 L1135.5 1644.5 L1135.3 1644 L1135.2 1643.5 L1135.1 1642.9 L1135.1 1642.4 L1135.2 1641.9 L1135.3 1641.4 L1135.6 1640.9 L1135.9 1640.5 L1136.3 1640 L1136.7 1639.6 L1137.2 1639.3 L1137.8 1638.9 L1138.4 1638.7 L1139 1638.4 L1139.7 1638.3 L1140.4 1638.1 L1141.1 1638.1 L1141.9 1638 L1142.6 1638.1 L1143.3 1638.2 L1144.1 1638.3 L1144.8 1638.5 L1145.5 1638.8 L1146.1 1639.1 L1146.7 1639.4 L1147.2 1639.8 L1147.7 1640.2 L1148.2 1640.6 L1148.5 1641.1 L1148.8 1641.6 L1149 1642.1 L1149.2 1642.6 L1149.3 1643.1 Z" fill="none" stroke="#000" stroke-width="1" />
<path d="M1109.5 1442.6 C1114.2 1440.3 1128.4 1432.5 1137.9 1428.4 C1147.4 1424.4 1155.7 1421.3 1166.3 1418.5 C1177 1415.6 1190 1412.8 1201.9 1411.4 C1213.7 1409.9 1230.3 1410.2 1237.4 1409.9 C1244.5 1409.7 1236 1407.8 1244.2 1409.9 C1252.5 1412.1 1275 1418.2 1286.9 1422.7 C1298.7 1427.2 1307 1432.7 1315.3 1437 C1323.6 1441.2 1330.7 1444.3 1336.6 1448.3 C1342.5 1452.3 1346.1 1455.4 1350.8 1461.1 C1355.6 1466.8 1361.2 1474.6 1365 1482.4 C1368.8 1490.3 1371.7 1498.5 1373.6 1508 C1375.5 1517.5 1375.7 1533.6 1376.4 1539.3 C1377.1 1545 1377.6 1541.7 1377.8 1542.1" fill="none" stroke="#000" stroke-width="1" />
<path d="M1163.5 1434.1 C1167.5 1432 1178.9 1424.6 1187.7 1421.3 C1196.4 1418 1209 1415.4 1216.1 1414.2 C1223.1 1413 1220.6 1413 1230 1414.2 C1239.4 1415.4 1259.6 1417.5 1272.6 1421.3 C1285.7 1425.1 1298.7 1432 1308.2 1437 C1317.7 1441.9 1325.9 1447.4 1329.5 1451.2 C1333.1 1455 1330.9 1456.4 1329.5 1459.7 C1328.1 1463 1325.2 1466.8 1321 1471.1 C1316.7 1475.3 1309.1 1480.8 1303.9 1485.3 C1298.7 1489.8 1294.9 1495 1289.7 1498.1 C1284.5 1501.1 1278.3 1502.3 1272.6 1503.8 C1267 1505.2 1262.7 1507.3 1255.6 1506.6 C1248.5 1505.9 1234.3 1500.7 1230 1499.5" fill="none" stroke="#000" stroke-width="1" />
<path d="M1157.8 1438.4 C1164 1444.3 1183.9 1464.9 1194.8 1473.9 C1205.7 1482.9 1217.3 1489.1 1223.2 1492.4 C1229.1 1495.7 1228.9 1493.6 1230 1493.8" fill="none" stroke="#000" stroke-width="1" />
<path d="M1157.8 1441.2 C1164 1447.6 1183.9 1469.9 1194.8 1479.6 C1205.7 1489.3 1214.9 1495.1 1223.2 1499.5 C1231.5 1503.9 1237.4 1504.9 1244.5 1505.9 C1251.6 1506.8 1259.9 1505.8 1265.8 1505.2 C1271.7 1504.6 1277.7 1502.8 1280 1502.3" fill="none" stroke="#000" stroke-width="1" />
<path d="M1109.5 1485.3 L1152.1 1438.4 L1159.2 1434.8 L1166.3 1435.5 L1174.9 1442.6" fill="none" stroke="#000" stroke-width="1" />
<path d="M1120.9 1485.3 L1137.9 1462.5 L1159.2 1441.2" fill="none" stroke="#000" stroke-width="1" />
<path d="M1340.9 1459.7 L1338 1468.2 L1315.3 1483.9 L1289.7 1499.5 L1230 1536.4 L1223.2 1540" fill="none" stroke="#000" stroke-width="1" />
<path d="M1286.9 1499.5 L1292.5 1502.3 L1230 1543.5 L1204.7 1556.3" fill="none" stroke="#000" stroke-width="1" />
<path d="M1103.8 1492.4 C1104.8 1491.2 1107.6 1486.2 1109.5 1485.3 C1111.4 1484.3 1113.8 1485.7 1115.2 1486.7 C1116.6 1487.6 1111.9 1485.3 1118 1491 C1124.2 1496.6 1140.5 1513.2 1152.1 1520.8 C1163.7 1528.4 1175.8 1533.1 1187.7 1536.4 C1199.5 1539.8 1217.3 1540 1223.2 1540.7" fill="none" stroke="#000" stroke-width="1" />
<path d="M1112.3 1499.5 C1119 1504.2 1138.4 1520.6 1152.1 1527.9 C1165.9 1535.3 1182.9 1540.7 1194.8 1543.5 C1206.6 1546.4 1218.5 1544.7 1223.2 1545" fill="none" stroke="#000" stroke-width="1" />
<path d="M1101 1515.1 C1101.4 1514.9 1097.6 1509.7 1103.8 1513.7 C1110 1517.7 1127.5 1532.7 1137.9 1539.3 C1148.3 1545.9 1156.2 1549.7 1166.3 1553.5 C1176.5 1557.3 1193.6 1560.6 1199 1562" fill="none" stroke="#000" stroke-width="1" />
<path d="M1102.4 1525.1 C1103.6 1527.9 1105.9 1536.4 1109.5 1542.1 C1113 1547.8 1117.8 1554.4 1123.7 1559.2 C1129.6 1563.9 1137.9 1568.2 1145 1570.6 C1152.1 1572.9 1159.9 1573.4 1166.3 1573.4 C1172.7 1573.4 1177.9 1572 1183.4 1570.6 C1188.8 1569.1 1196.2 1567.7 1199 1564.9 C1201.9 1562 1199.7 1555.9 1200.4 1553.5 C1201.2 1551.1 1202.8 1551.1 1203.3 1550.7" fill="none" stroke="#000" stroke-width="1" />
<path d="M1103.8 1505.2 C1101.4 1507.3 1092 1513 1089.6 1518 C1087.2 1522.9 1088.6 1528.6 1089.6 1535 C1090.5 1541.4 1091 1549.9 1095.3 1556.3 C1099.5 1562.7 1111.9 1570.6 1115.2 1573.4" fill="none" stroke="#000" stroke-width="1" />
<path d="M1203.3 1550.7 C1204 1552.8 1207.8 1559.2 1207.6 1563.4 C1207.3 1567.7 1206.4 1572.7 1201.9 1576.2 C1197.4 1579.8 1188.8 1583.1 1180.6 1584.8 C1172.3 1586.4 1159.2 1586.2 1152.1 1586.2 C1145 1586.2 1140.3 1585 1137.9 1584.8" fill="none" stroke="#000" stroke-width="1" />
<path d="M1077.5 1633.1 L1078.2 1606.1 L1086.7 1601.1 L1095.3 1603.2 L1106.6 1613.2 L1109.5 1624.6 L1109.5 1651.6 L1077.5 1635.9 Z" fill="none" stroke="#000" stroke-width="1" />
<path d="M1086.7 1600.4 C1089.6 1598.3 1100.3 1591.2 1103.8 1587.6 C1107.4 1584.1 1105.7 1581.2 1108.1 1579.1 C1110.4 1576.9 1114.2 1574.8 1118 1574.8 C1121.8 1574.8 1127 1576.5 1130.8 1579.1 C1134.6 1581.7 1138.6 1585.9 1140.8 1590.4 C1142.9 1594.9 1143.4 1600.4 1143.6 1606.1 C1143.8 1611.8 1146.2 1618.9 1142.2 1624.6 C1138.2 1630.2 1123.2 1637.6 1119.4 1640.2" fill="none" stroke="#000" stroke-width="1" />
<path d="M1109.5 1628.8 C1113.5 1626.7 1129.9 1621 1133.6 1616 C1137.4 1611.1 1133.9 1604.2 1132.2 1599 C1130.6 1593.8 1126.8 1587.4 1123.7 1584.8 C1120.6 1582.2 1116.8 1582.9 1113.8 1583.3 C1110.7 1583.8 1106.6 1586.9 1105.2 1587.6" fill="none" stroke="#000" stroke-width="1" />
<path d="M1097.8 1617.2 L1098 1617.8 L1098.2 1618.5 L1098.3 1619.1 L1098.3 1619.8 L1098.3 1620.4 L1098.2 1621 L1098.1 1621.6 L1097.9 1622.2 L1097.7 1622.7 L1097.4 1623.2 L1097 1623.7 L1096.7 1624.1 L1096.3 1624.4 L1095.8 1624.7 L1095.3 1624.9 L1094.8 1625 L1094.3 1625.1 L1093.8 1625.1 L1093.2 1625.1 L1092.7 1624.9 L1092.2 1624.7 L1091.6 1624.5 L1091.1 1624.2 L1090.6 1623.8 L1090.2 1623.4 L1089.8 1622.9 L1089.4 1622.3 L1089 1621.8 L1088.7 1621.2 L1088.5 1620.6 L1088.3 1619.9 L1088.1 1619.3 L1088 1618.6 L1088 1618 L1088 1617.3 L1088.1 1616.7 L1088.2 1616.1 L1088.4 1615.5 L1088.6 1615 L1088.9 1614.5 L1089.2 1614.1 L1089.6 1613.7 L1090 1613.3 L1090.5 1613.1 L1091 1612.9 L1091.5 1612.7 L1092 1612.6 L1092.5 1612.6 L1093 1612.7 L1093.6 1612.8 L1094.1 1613 L1094.6 1613.3 L1095.2 1613.6 L1095.6 1614 L1096.1 1614.4 L1096.5 1614.9 L1096.9 1615.4 L1097.3 1616 L1097.6 1616.6 Z" fill="none" stroke="#000" stroke-width="1" />
<path d="M1142.9 1611.8 L1183.4 1624.6" fill="none" stroke="#000" stroke-width="1" />
<path d="M1143.6 1623.1 L1182.7 1633.1" fill="none" stroke="#000" stroke-width="1" />
<path d="M1109.5 1651.6 L1152.1 1664.4 L1199 1670 L1230 1674.3" fill="none" stroke="#000" stroke-width="1" />
<path d="M1118 1641.6 L1118 1653 L1199 1665.8" fill="none" stroke="#000" stroke-width="1" />
<path d="M1118 1641.6 L1142.2 1628.8 L1182.7 1638.8 L1191.2 1660.1" fill="none" stroke="#000" stroke-width="1" />
<path d="M1184.8 1621.7 C1185.3 1620.8 1181.3 1617.1 1187.7 1616 C1194.1 1615 1211.6 1615.3 1223.2 1615.3 C1234.8 1615.3 1251.2 1615 1257.3 1616 C1263.4 1617.1 1259.5 1620.8 1260 1621.7" fill="none" stroke="#000" stroke-width="1" />
<path d="M1184.8 1621.7 L1182 1640.2 L1199 1670" fill="none" stroke="#000" stroke-width="1" />
<path d="M1189.1 1626 L1207.6 1664.4" fill="none" stroke="#000" stroke-width="1" />
<path d="M1193.3 1626 L1210.4 1664.4" fill="none" stroke="#000" stroke-width="1" />
<path d="M1254.5 1626 L1236 1664.4" fill="none" stroke="#000" stroke-width="1" />
<path d="M1251.6 1626 L1233.1 1664.4" fill="none" stroke="#000" stroke-width="1" />
<path d="M1230 1654.4 L1230 1654.9 L1229.8 1655.3 L1229.6 1655.7 L1229.3 1656.1 L1228.9 1656.5 L1228.4 1656.9 L1227.9 1657.3 L1227.3 1657.6 L1226.6 1657.9 L1225.9 1658.1 L1225.1 1658.3 L1224.3 1658.5 L1223.5 1658.6 L1222.6 1658.6 L1221.8 1658.7 L1220.9 1658.6 L1220.1 1658.6 L1219.2 1658.5 L1218.4 1658.3 L1217.6 1658.1 L1216.9 1657.9 L1216.3 1657.6 L1215.6 1657.3 L1215.1 1656.9 L1214.6 1656.5 L1214.2 1656.1 L1213.9 1655.7 L1213.7 1655.3 L1213.6 1654.9 L1213.5 1654.4 L1213.6 1654 L1213.7 1653.5 L1213.9 1653.1 L1214.2 1652.7 L1214.6 1652.3 L1215.1 1651.9 L1215.6 1651.6 L1216.3 1651.2 L1216.9 1651 L1217.6 1650.7 L1218.4 1650.5 L1219.2 1650.4 L1220.1 1650.2 L1220.9 1650.2 L1221.8 1650.1 L1222.6 1650.2 L1223.5 1650.2 L1224.3 1650.4 L1225.1 1650.5 L1225.9 1650.7 L1226.6 1651 L1227.3 1651.2 L1227.9 1651.6 L1228.4 1651.9 L1228.9 1652.3 L1229.3 1652.7 L1229.6 1653.1 L1229.8 1653.5 L1230 1654 Z" fill="none" stroke="#000" stroke-width="1" />
<path d="M1228.2 1652.3 L1228.1 1652.6 L1228 1652.9 L1227.9 1653.2 L1227.6 1653.5 L1227.3 1653.8 L1226.9 1654.1 L1226.5 1654.4 L1226 1654.6 L1225.5 1654.8 L1225 1655 L1224.4 1655.1 L1223.7 1655.2 L1223.1 1655.3 L1222.4 1655.4 L1221.8 1655.4 L1221.1 1655.4 L1220.4 1655.3 L1219.8 1655.2 L1219.2 1655.1 L1218.6 1655 L1218 1654.8 L1217.5 1654.6 L1217 1654.4 L1216.6 1654.1 L1216.2 1653.8 L1215.9 1653.5 L1215.7 1653.2 L1215.5 1652.9 L1215.4 1652.6 L1215.4 1652.3 L1215.4 1651.9 L1215.5 1651.6 L1215.7 1651.3 L1215.9 1651 L1216.2 1650.7 L1216.6 1650.4 L1217 1650.2 L1217.5 1650 L1218 1649.7 L1218.6 1649.6 L1219.2 1649.4 L1219.8 1649.3 L1220.4 1649.2 L1221.1 1649.2 L1221.8 1649.1 L1222.4 1649.2 L1223.1 1649.2 L1223.7 1649.3 L1224.4 1649.4 L1225 1649.6 L1225.5 1649.7 L1226 1650 L1226.5 1650.2 L1226.9 1650.4 L1227.3 1650.7 L1227.6 1651 L1227.9 1651.3 L1228 1651.6 L1228.1 1651.9 Z" fill="none" stroke="#000" stroke-width="1" />
<path d="M1206.8 1662.9 L1237.4 1662.9 L1237.4 1674.3 L1206.8 1674.3 Z" fill="none" stroke="#000" stroke-width="1" />
<path d="M1343.7 1454 L1372.1 1471.1 L1410.5 1467.5 L1419 1468.2 L1427.6 1479.6 L1429 1492.4 L1413.3 1499.5 L1404.8 1508 L1379.2 1520.8 L1375 1509.4 L1429 1481.7" fill="none" stroke="#000" stroke-width="1" />
<path d="M1357.9 1472.5 L1372.1 1471.1" fill="none" stroke="#000" stroke-width="1" />
<path d="M1421.9 1473.9 L1421.8 1474.4 L1421.7 1474.9 L1421.5 1475.4 L1421.2 1475.9 L1420.8 1476.4 L1420.4 1476.8 L1419.9 1477.2 L1419.3 1477.6 L1418.6 1477.9 L1418 1478.2 L1417.2 1478.4 L1416.5 1478.6 L1415.7 1478.8 L1414.9 1478.9 L1414.1 1478.9 L1413.2 1478.9 L1412.4 1478.8 L1411.6 1478.6 L1410.9 1478.4 L1410.1 1478.2 L1409.5 1477.9 L1408.8 1477.6 L1408.2 1477.2 L1407.7 1476.8 L1407.3 1476.4 L1406.9 1475.9 L1406.6 1475.4 L1406.4 1474.9 L1406.3 1474.4 L1406.2 1473.9 L1406.3 1473.4 L1406.4 1472.9 L1406.6 1472.4 L1406.9 1471.9 L1407.3 1471.4 L1407.7 1471 L1408.2 1470.6 L1408.8 1470.2 L1409.5 1469.9 L1410.1 1469.6 L1410.9 1469.4 L1411.6 1469.2 L1412.4 1469 L1413.2 1469 L1414.1 1468.9 L1414.9 1469 L1415.7 1469 L1416.5 1469.2 L1417.2 1469.4 L1418 1469.6 L1418.6 1469.9 L1419.3 1470.2 L1419.9 1470.6 L1420.4 1471 L1420.8 1471.4 L1421.2 1471.9 L1421.5 1472.4 L1421.7 1472.9 L1421.8 1473.4 Z" fill="none" stroke="#000" stroke-width="1" />
<path d="M1419.7 1472.5 L1419.7 1472.9 L1419.6 1473.2 L1419.5 1473.6 L1419.2 1473.9 L1419 1474.3 L1418.7 1474.6 L1418.3 1474.9 L1417.9 1475.1 L1417.4 1475.4 L1416.9 1475.6 L1416.4 1475.7 L1415.8 1475.9 L1415.2 1476 L1414.6 1476 L1414.1 1476 L1413.5 1476 L1412.9 1476 L1412.3 1475.9 L1411.7 1475.7 L1411.2 1475.6 L1410.7 1475.4 L1410.2 1475.1 L1409.8 1474.9 L1409.5 1474.6 L1409.1 1474.3 L1408.9 1473.9 L1408.6 1473.6 L1408.5 1473.2 L1408.4 1472.9 L1408.4 1472.5 L1408.4 1472.1 L1408.5 1471.7 L1408.6 1471.4 L1408.9 1471 L1409.1 1470.7 L1409.5 1470.4 L1409.8 1470.1 L1410.2 1469.8 L1410.7 1469.6 L1411.2 1469.4 L1411.7 1469.2 L1412.3 1469.1 L1412.9 1469 L1413.5 1469 L1414.1 1468.9 L1414.6 1469 L1415.2 1469 L1415.8 1469.1 L1416.4 1469.2 L1416.9 1469.4 L1417.4 1469.6 L1417.9 1469.8 L1418.3 1470.1 L1418.7 1470.4 L1419 1470.7 L1419.2 1471 L1419.5 1471.4 L1419.6 1471.7 L1419.7 1472.1 Z" fill="none" stroke="#000" stroke-width="1" />
<path d="M1404.8 1509.4 C1405.8 1509.9 1408.8 1509.2 1410.5 1512.3 C1412.2 1515.4 1413.6 1520.3 1414.8 1527.9 C1415.9 1535.5 1417.1 1552.8 1417.6 1557.8" fill="none" stroke="#000" stroke-width="1" />
<path d="M1379.2 1520.8 C1379.9 1523.2 1382.5 1531.5 1383.5 1535 C1384.4 1538.6 1384.7 1540.9 1384.9 1542.1" fill="none" stroke="#000" stroke-width="1" />
<path d="M1269.8 1537.7 L1289.7 1522.7 L1322.4 1538.4 L1329.5 1544.1 L1331.6 1556.9 L1326.6 1592.4 L1325.9 1632.2 L1321 1635 L1306.7 1635.7 L1286.9 1625.8 L1284.7 1599.5 L1278.3 1582.4 L1270.5 1566.8 Z" fill="none" stroke="#000" stroke-width="1" />
<path d="M1271.2 1535.5 L1302.5 1552.6 L1309.6 1556.9 L1322.4 1555.4 L1329.5 1548.3" fill="none" stroke="#000" stroke-width="1" />
<path d="M1320.7 1545.5 L1320.6 1545.9 L1320.5 1546.3 L1320.3 1546.7 L1320.1 1547.1 L1319.8 1547.5 L1319.4 1547.8 L1318.9 1548.1 L1318.4 1548.4 L1317.9 1548.7 L1317.3 1548.9 L1316.6 1549.1 L1316 1549.3 L1315.3 1549.4 L1314.6 1549.4 L1313.9 1549.5 L1313.1 1549.4 L1312.4 1549.4 L1311.7 1549.3 L1311.1 1549.1 L1310.4 1548.9 L1309.8 1548.7 L1309.3 1548.4 L1308.8 1548.1 L1308.3 1547.8 L1307.9 1547.5 L1307.6 1547.1 L1307.4 1546.7 L1307.2 1546.3 L1307.1 1545.9 L1307 1545.5 L1307.1 1545.1 L1307.2 1544.7 L1307.4 1544.3 L1307.6 1543.9 L1307.9 1543.5 L1308.3 1543.1 L1308.8 1542.8 L1309.3 1542.5 L1309.8 1542.3 L1310.4 1542 L1311.1 1541.8 L1311.7 1541.7 L1312.4 1541.6 L1313.1 1541.5 L1313.9 1541.5 L1314.6 1541.5 L1315.3 1541.6 L1316 1541.7 L1316.6 1541.8 L1317.3 1542 L1317.9 1542.3 L1318.4 1542.5 L1318.9 1542.8 L1319.4 1543.1 L1319.8 1543.5 L1320.1 1543.9 L1320.3 1544.3 L1320.5 1544.7 L1320.6 1545.1 Z" fill="none" stroke="#000" stroke-width="1" />
<path d="M1325.9 1546.9 L1325.9 1547.6 L1325.7 1548.4 L1325.3 1549.1 L1324.9 1549.8 L1324.3 1550.5 L1323.6 1551.1 L1322.8 1551.7 L1321.9 1552.2 L1321 1552.7 L1319.9 1553.1 L1318.8 1553.4 L1317.6 1553.7 L1316.4 1553.9 L1315.1 1554 L1313.9 1554 L1312.6 1554 L1311.3 1553.9 L1310.1 1553.7 L1308.9 1553.4 L1307.8 1553.1 L1306.8 1552.7 L1305.8 1552.2 L1304.9 1551.7 L1304.1 1551.1 L1303.4 1550.5 L1302.8 1549.8 L1302.4 1549.1 L1302 1548.4 L1301.8 1547.6 L1301.8 1546.9" fill="none" stroke="#000" stroke-width="1" />
<path d="M1269.8 1541.2 C1268.1 1542.6 1261.7 1546.7 1259.8 1549.7 C1258 1552.8 1257.7 1556.4 1258.4 1559.7 C1259.1 1563 1262 1565.9 1264.1 1569.6 C1266.2 1573.4 1269.1 1577.5 1271.2 1582.4 C1273.3 1587.4 1275.6 1590.7 1276.9 1599.5 C1278.2 1608.3 1276.9 1628.2 1279 1635 C1281.2 1641.9 1284.6 1638.8 1289.7 1640.7 C1294.8 1642.6 1303 1646.3 1309.6 1646.4 C1316.2 1646.5 1326.2 1642.2 1329.5 1641.4" fill="none" stroke="#000" stroke-width="1" />
<path d="M1331.6 1550.5 C1332.9 1551.3 1337.7 1553.2 1339.4 1555.4 C1341.2 1557.7 1341.8 1560.4 1342.3 1564 C1342.8 1567.5 1343.2 1570.4 1342.3 1576.7 C1341.3 1583.1 1337.7 1593.1 1336.6 1602.3 C1335.5 1611.6 1336.9 1625.3 1335.9 1632.2 C1334.8 1639 1329.6 1642.2 1330.2 1643.5 C1330.8 1644.9 1337.4 1646.2 1339.4 1640 C1341.5 1633.8 1341.8 1612.2 1342.3 1606.6" fill="none" stroke="#000" stroke-width="1" />
<path d="M1299.6 1524.9 C1300.1 1523.1 1299.9 1516.6 1302.5 1514.2 C1305.1 1511.8 1310.3 1511 1315.3 1510.7 C1320.3 1510.3 1326.2 1509.6 1332.3 1512.1 C1338.5 1514.6 1348.9 1523.3 1352.2 1525.6" fill="none" stroke="#000" stroke-width="1" />
<path d="M1352.2 1525.6 L1416.2 1558.3" fill="none" stroke="#000" stroke-width="1" />
<path d="M1342.3 1608 C1343.2 1610.6 1344.2 1619.3 1348 1623.6 C1351.8 1628 1360.3 1631.6 1365 1634.3 C1369.8 1637 1373.1 1637.7 1376.4 1640 C1379.7 1642.2 1382.3 1646.4 1384.9 1647.8 C1387.5 1649.2 1388.2 1649.2 1392 1648.5 C1395.8 1647.8 1405.1 1644.4 1407.7 1643.5" fill="none" stroke="#000" stroke-width="1" />
<path d="M1428.4 1558.5 L1431 1560.1 L1433.3 1562.2 L1435.3 1564.8 L1437 1567.8 L1438.3 1571.1 L1439.3 1574.9 L1439.9 1578.9 L1440.1 1583.2 L1440 1587.7 L1439.5 1592.4 L1438.6 1597.3 L1437.3 1602.2 L1435.7 1607.1 L1433.7 1611.9 L1431.5 1616.7 L1428.9 1621.3 L1426.2 1625.8 L1423.1 1629.9 L1419.9 1633.8 L1416.6 1637.4 L1413.1 1640.6 L1409.5 1643.4 L1405.9 1645.7 L1402.3 1647.6 L1398.7 1649 L1395.2 1649.9 L1391.8 1650.3 L1388.5 1650.2 L1385.5 1649.6 L1382.6 1648.4 L1380 1646.8 L1377.7 1644.7 L1375.7 1642.1 L1374 1639.2 L1372.7 1635.8 L1371.7 1632.1 L1371.1 1628 L1370.9 1623.7 L1371.1 1619.2 L1371.6 1614.5 L1372.5 1609.7 L1373.8 1604.8 L1375.4 1599.9 L1377.3 1595 L1379.6 1590.2 L1382.1 1585.6 L1384.9 1581.2 L1387.9 1577 L1391.1 1573.1 L1394.5 1569.5 L1398 1566.3 L1401.6 1563.6 L1405.2 1561.2 L1408.8 1559.3 L1412.4 1557.9 L1415.9 1557 L1419.3 1556.6 L1422.5 1556.7 L1425.6 1557.4 Z" fill="none" stroke="#000" stroke-width="1.3" />
<path d="M1427.7 1566.9 L1429.8 1568.2 L1431.6 1569.9 L1433.2 1572 L1434.6 1574.5 L1435.6 1577.3 L1436.3 1580.4 L1436.7 1583.8 L1436.8 1587.4 L1436.7 1591.2 L1436.1 1595.1 L1435.3 1599.2 L1434.2 1603.3 L1432.8 1607.4 L1431.2 1611.5 L1429.3 1615.5 L1427.1 1619.4 L1424.8 1623.2 L1422.3 1626.8 L1419.6 1630.1 L1416.8 1633.1 L1413.9 1635.8 L1410.9 1638.2 L1408 1640.2 L1405 1641.9 L1402.1 1643.1 L1399.2 1643.9 L1396.4 1644.3 L1393.8 1644.3 L1391.3 1643.8 L1389 1642.9 L1386.9 1641.6 L1385.1 1639.8 L1383.5 1637.7 L1382.2 1635.3 L1381.2 1632.5 L1380.4 1629.4 L1380 1626 L1379.9 1622.4 L1380.1 1618.6 L1380.6 1614.7 L1381.4 1610.6 L1382.5 1606.5 L1383.9 1602.4 L1385.6 1598.3 L1387.5 1594.2 L1389.6 1590.3 L1392 1586.6 L1394.5 1583 L1397.2 1579.7 L1400 1576.7 L1402.8 1573.9 L1405.8 1571.6 L1408.8 1569.5 L1411.7 1567.9 L1414.7 1566.7 L1417.6 1565.9 L1420.3 1565.5 L1423 1565.5 L1425.4 1566 Z" fill="none" stroke="#000" stroke-width="1" />
<path d="M1427.6 1569.7 L1429.4 1571 L1431.1 1572.5 L1432.5 1574.5 L1433.7 1576.8 L1434.6 1579.4 L1435.2 1582.3 L1435.6 1585.4 L1435.7 1588.8 L1435.4 1592.3 L1434.9 1596 L1434.1 1599.8 L1433.1 1603.6 L1431.7 1607.5 L1430.2 1611.4 L1428.4 1615.1 L1426.4 1618.8 L1424.2 1622.3 L1421.8 1625.7 L1419.3 1628.8 L1416.7 1631.7 L1414 1634.3 L1411.3 1636.5 L1408.6 1638.5 L1405.8 1640 L1403.1 1641.2 L1400.5 1642 L1397.9 1642.4 L1395.5 1642.4 L1393.3 1642 L1391.2 1641.2 L1389.3 1640 L1387.6 1638.4 L1386.2 1636.4 L1385 1634.1 L1384.1 1631.5 L1383.5 1628.7 L1383.1 1625.5 L1383.1 1622.2 L1383.3 1618.6 L1383.8 1614.9 L1384.6 1611.1 L1385.7 1607.3 L1387 1603.4 L1388.6 1599.6 L1390.4 1595.8 L1392.4 1592.1 L1394.6 1588.6 L1396.9 1585.2 L1399.4 1582.1 L1402 1579.2 L1404.7 1576.6 L1407.4 1574.4 L1410.2 1572.4 L1412.9 1570.9 L1415.6 1569.7 L1418.3 1568.9 L1420.8 1568.5 L1423.2 1568.5 L1425.5 1568.9 Z" fill="none" stroke="#000" stroke-width="1" />
<path d="M1369.3 1548.3 L1383.5 1541.9 L1416.2 1557.6" fill="none" stroke="#000" stroke-width="1" />
<path d="M1369.3 1548.3 L1400.6 1564" fill="none" stroke="#000" stroke-width="1" />
<path d="M1384.2 1625.1 L1407.7 1637.2" fill="none" stroke="#000" stroke-width="1" />
<path d="M1375 1508.5 L1404.8 1509.9 L1414.8 1528.4 L1417.6 1558.3" fill="none" stroke="#000" stroke-width="1" />
<path d="M1379.2 1521.3 L1406.2 1509.9" fill="none" stroke="#000" stroke-width="1" />
<path d="M1406.2 1509.9 L1413.3 1525.6 L1416.2 1556.9" fill="none" stroke="#000" stroke-width="1" />
<path d="M1376.4 1521.3 L1380.7 1535.5 L1383.5 1542.6" fill="none" stroke="#000" stroke-width="1" />
<path d="M1254.2 1657.8 L1309.6 1647.1 L1311.7 1652.8 L1254.2 1663.4" fill="none" stroke="#000" stroke-width="1" />
<path d="M1230 1674.8 L1311.7 1659.2 L1363.6 1635" fill="none" stroke="#000" stroke-width="1" />
<path d="M1286.4 1645.7 L1286.4 1646.2 L1286.3 1646.7 L1286.1 1647.2 L1285.8 1647.7 L1285.4 1648.2 L1285 1648.6 L1284.5 1649 L1284 1649.4 L1283.4 1649.7 L1282.7 1650 L1282 1650.2 L1281.3 1650.4 L1280.6 1650.5 L1279.8 1650.6 L1279 1650.7 L1278.3 1650.6 L1277.5 1650.5 L1276.7 1650.4 L1276 1650.2 L1275.3 1650 L1274.7 1649.7 L1274.1 1649.4 L1273.5 1649 L1273.1 1648.6 L1272.6 1648.2 L1272.3 1647.7 L1272 1647.2 L1271.8 1646.7 L1271.7 1646.2 L1271.6 1645.7 L1271.7 1645.2 L1271.8 1644.6 L1272 1644.1 L1272.3 1643.7 L1272.6 1643.2 L1273.1 1642.8 L1273.5 1642.4 L1274.1 1642 L1274.7 1641.7 L1275.3 1641.4 L1276 1641.1 L1276.7 1640.9 L1277.5 1640.8 L1278.3 1640.7 L1279 1640.7 L1279.8 1640.7 L1280.6 1640.8 L1281.3 1640.9 L1282 1641.1 L1282.7 1641.4 L1283.4 1641.7 L1284 1642 L1284.5 1642.4 L1285 1642.8 L1285.4 1643.2 L1285.8 1643.7 L1286.1 1644.1 L1286.3 1644.6 L1286.4 1645.2 Z" fill="none" stroke="#000" stroke-width="1" />
<path d="M1259.8 1620.8 L1276.9 1617.3" fill="none" stroke="#000" stroke-width="1" />
<path d="M1260.6 1626.5 L1276.9 1624.4" fill="none" stroke="#000" stroke-width="1" />
<path d="M1260.6 1638.6 L1279 1635.7" fill="none" stroke="#000" stroke-width="1" />
<path d="M1230 1616.5 L1257 1615.8 L1259.8 1620.8 L1259.8 1638.6 L1254.2 1657.8 L1245.6 1656.3" fill="none" stroke="#000" stroke-width="1" />
<path d="M1254.2 1623.6 L1235.7 1663.4" fill="none" stroke="#000" stroke-width="1" />
<path d="M1251.3 1625.1 L1238.5 1662" fill="none" stroke="#000" stroke-width="1" />
<path d="M1237.1 1663.4 L1237.1 1674.8" fill="none" stroke="#000" stroke-width="1" />
<g transform="translate(638.3 1318.9) scale(1.0567 1)"><path d="M7.9 0 L7.9 -15.1 L3 -15.1 L3 -16.8 L5.1 -17.4 L7.2 -19.8 L8.3 -22 L11 -22 L11 0 Z" fill="#000"/><text x="17.8" y="0" font-size="32">0</text><text x="35.6" y="0" font-size="32">4</text><text x="53.4" y="0" font-size="32">6</text></g>
<path d="M738.6 1319.7 C740.1 1317.7 740.6 1313.1 747.3 1310.1 C754.1 1307.2 773.6 1304.2 779.2 1302.2 C784.8 1300.2 781 1299.3 780.8 1298.2 C780.5 1297.1 779.6 1296.5 777.6 1295.8 C775.6 1295.2 770.2 1295 768.8 1294.2 C767.5 1293.4 765.5 1292.5 769.6 1291 C773.7 1289.6 786.6 1286.5 793.5 1285.5 C800.4 1284.4 807 1284.4 811 1284.7 C815 1284.9 809.4 1282.7 817.4 1287.1 C825.3 1291.4 850.6 1305.9 858.8 1310.9 C867 1316 865.1 1315.7 866.7 1317.3 C868.3 1318.9 868.6 1318.9 868.3 1320.5 C868.1 1322.1 877.1 1321.8 865.1 1326.9 C853.2 1331.9 811 1346.5 796.7 1350.7 C782.4 1355 784 1352.6 779.2 1352.3 C774.4 1352.1 771.2 1350.5 768 1349.1 C764.9 1347.8 765 1348.9 760.1 1344.4 C755.2 1339.9 742.2 1326.2 738.6 1322.1 C735 1318 737.1 1321.7 738.6 1319.7 Z" fill="none" stroke="#000" stroke-width="1.6" />
<path d="M741 1319.7 C744.2 1323 755.6 1335.6 760.1 1339.6 C764.6 1343.6 762.7 1342.9 768 1343.6 C773.3 1344.2 777.6 1346.8 791.9 1343.6 C806.2 1340.4 842.3 1328.6 854 1324.5 C865.7 1320.4 860.6 1320.6 862 1318.9 C863.3 1317.2 862.8 1315.7 862 1314.1 C861.2 1312.5 858 1310.1 857.2 1309.3" fill="none" stroke="#000" stroke-width="1" />
<path d="M795.1 1342 L798.3 1348.3" fill="none" stroke="#000" stroke-width="1" />
<path d="M854 1324.5 L857.2 1328.4" fill="none" stroke="#000" stroke-width="1" />
<g transform="translate(1755.5 1576) scale(1.0567 1)"><path d="M7.9 0 L7.9 -15.1 L3 -15.1 L3 -16.8 L5.1 -17.4 L7.2 -19.8 L8.3 -22 L11 -22 L11 0 Z" fill="#000"/><text x="17.8" y="0" font-size="32">0</text><text x="35.6" y="0" font-size="32">4</text><text x="53.4" y="0" font-size="32">6</text></g>
<path d="M1826.3 1513.4 C1828 1507.8 1832.5 1498.9 1836 1494.1 C1839.5 1489.3 1843.7 1486.4 1847.3 1484.4 C1850.9 1482.5 1854.2 1482.3 1857.6 1482.2 C1861 1482.1 1864.6 1482.5 1867.8 1483.9 C1871 1485.3 1874.4 1487.9 1876.9 1490.7 C1879.4 1493.5 1881.5 1496.2 1882.6 1500.9 C1883.7 1505.7 1884.6 1512.3 1883.7 1519.1 C1882.9 1525.9 1878.5 1537.1 1877.5 1541.9 C1876.4 1546.6 1875.7 1542.2 1877.5 1547.5 C1879.3 1552.9 1886.5 1567.4 1888.3 1573.7 C1890.1 1580 1889 1582.2 1888.3 1585.1 C1887.5 1587.9 1888.3 1587.9 1883.7 1590.8 C1879.2 1593.6 1866.5 1601.2 1861 1602.1 C1855.5 1603.1 1854.7 1603.5 1850.8 1596.4 C1846.8 1589.4 1840.7 1569.2 1837.1 1560.1 C1833.5 1551 1831 1547.2 1829.2 1541.9 C1827.3 1536.6 1826.2 1533 1825.7 1528.2 C1825.3 1523.5 1824.6 1519.1 1826.3 1513.4 Z" fill="none" stroke="#000" stroke-width="2" />
<g transform="translate(957.1 1777.4) scale(1.0542 1)"><path d="M7.9 0 L7.9 -15.1 L3 -15.1 L3 -16.8 L5.1 -17.4 L7.2 -19.8 L8.3 -22 L11 -22 L11 0 Z" fill="#000"/><text x="17.8" y="0" font-size="32">6</text><text x="35.6" y="0" font-size="32">3</text><text x="53.4" y="0" font-size="32">A</text></g>
<path d="M1417.9 1793.1 L1417.2 1802.1 L1414.5 1811.2 L1409.8 1820.1 L1403.3 1828.7 L1394.9 1837.1 L1384.7 1845 L1372.9 1852.5 L1359.6 1859.3 L1344.9 1865.6 L1329 1871 L1312.1 1875.7 L1294.4 1879.6 L1275.9 1882.6 L1257.1 1884.7 L1238 1885.8 L1218.9 1886 L1199.9 1885.2 L1181.3 1883.5 L1163.4 1880.9 L1146.2 1877.4 L1129.9 1873.1 L1114.9 1867.9 L1101.1 1862 L1088.8 1855.4 L1078.1 1848.2 L1069.1 1840.4 L1062 1832.2 L1056.7 1823.7 L1053.4 1814.8 L1052.1 1805.8 L1052.8 1796.8 L1055.5 1787.8 L1060.1 1778.9 L1066.7 1770.2 L1075.1 1761.8 L1085.3 1753.9 L1097.1 1746.4 L1110.4 1739.6 L1125 1733.4 L1140.9 1727.9 L1157.8 1723.2 L1175.6 1719.3 L1194 1716.3 L1212.9 1714.3 L1232 1713.1 L1251.1 1712.9 L1270.1 1713.7 L1288.6 1715.4 L1306.6 1718 L1323.8 1721.5 L1340 1725.9 L1355.1 1731 L1368.9 1737 L1381.2 1743.6 L1391.8 1750.8 L1400.8 1758.5 L1408 1766.7 L1413.2 1775.3 L1416.5 1784.1 Z" fill="none" stroke="#000" stroke-width="1.8" />
<path d="M1376.3 1793.2 L1375.8 1800 L1373.7 1806.8 L1370.2 1813.5 L1365.1 1820.1 L1358.6 1826.3 L1350.8 1832.3 L1341.7 1837.9 L1331.5 1843.1 L1320.2 1847.8 L1308 1851.9 L1294.9 1855.4 L1281.3 1858.4 L1267.1 1860.6 L1252.6 1862.2 L1237.9 1863.1 L1223.2 1863.2 L1208.6 1862.7 L1194.3 1861.4 L1180.5 1859.4 L1167.3 1856.8 L1154.8 1853.5 L1143.2 1849.7 L1132.6 1845.2 L1123.1 1840.3 L1114.9 1834.9 L1108 1829 L1102.5 1822.9 L1098.5 1816.4 L1095.9 1809.8 L1094.9 1803.1 L1095.5 1796.2 L1097.5 1789.5 L1101.1 1782.8 L1106.2 1776.2 L1112.7 1769.9 L1120.5 1764 L1129.6 1758.4 L1139.8 1753.2 L1151.1 1748.5 L1163.3 1744.4 L1176.3 1740.8 L1190 1737.9 L1204.2 1735.7 L1218.7 1734.1 L1233.4 1733.2 L1248.1 1733.1 L1262.7 1733.6 L1277 1734.9 L1290.8 1736.8 L1304 1739.5 L1316.5 1742.7 L1328.1 1746.6 L1338.7 1751.1 L1348.1 1756 L1356.4 1761.4 L1363.3 1767.3 L1368.8 1773.4 L1372.8 1779.8 L1375.3 1786.5 Z" fill="none" stroke="#000" stroke-width="1.8" />
<path d="M1197.7 1723 L1197.7 1723.4 L1197.6 1723.8 L1197.4 1724.2 L1197.1 1724.6 L1196.7 1724.9 L1196.3 1725.3 L1195.9 1725.6 L1195.3 1725.9 L1194.7 1726.2 L1194.1 1726.4 L1193.4 1726.6 L1192.7 1726.7 L1192 1726.8 L1191.2 1726.9 L1190.5 1726.9 L1189.7 1726.9 L1189 1726.8 L1188.2 1726.7 L1187.5 1726.6 L1186.8 1726.4 L1186.2 1726.2 L1185.6 1725.9 L1185.1 1725.6 L1184.6 1725.3 L1184.2 1724.9 L1183.8 1724.6 L1183.6 1724.2 L1183.4 1723.8 L1183.3 1723.4 L1183.2 1723 L1183.3 1722.6 L1183.4 1722.1 L1183.6 1721.7 L1183.8 1721.4 L1184.2 1721 L1184.6 1720.6 L1185.1 1720.3 L1185.6 1720 L1186.2 1719.8 L1186.8 1719.5 L1187.5 1719.4 L1188.2 1719.2 L1189 1719.1 L1189.7 1719 L1190.5 1719 L1191.2 1719 L1192 1719.1 L1192.7 1719.2 L1193.4 1719.4 L1194.1 1719.5 L1194.7 1719.8 L1195.3 1720 L1195.9 1720.3 L1196.3 1720.6 L1196.7 1721 L1197.1 1721.4 L1197.4 1721.7 L1197.6 1722.1 L1197.7 1722.6 Z" fill="none" stroke="#000" stroke-width="1.5" />
<path d="M1262 1721.3 L1262 1721.7 L1261.9 1722.1 L1261.7 1722.5 L1261.4 1722.9 L1261 1723.3 L1260.6 1723.6 L1260.2 1724 L1259.6 1724.3 L1259 1724.5 L1258.4 1724.7 L1257.7 1724.9 L1257 1725.1 L1256.3 1725.2 L1255.5 1725.3 L1254.8 1725.3 L1254 1725.3 L1253.3 1725.2 L1252.5 1725.1 L1251.8 1724.9 L1251.1 1724.7 L1250.5 1724.5 L1249.9 1724.3 L1249.4 1724 L1248.9 1723.6 L1248.5 1723.3 L1248.1 1722.9 L1247.9 1722.5 L1247.7 1722.1 L1247.5 1721.7 L1247.5 1721.3 L1247.5 1720.9 L1247.7 1720.5 L1247.9 1720.1 L1248.1 1719.7 L1248.5 1719.3 L1248.9 1719 L1249.4 1718.7 L1249.9 1718.4 L1250.5 1718.1 L1251.1 1717.9 L1251.8 1717.7 L1252.5 1717.6 L1253.3 1717.5 L1254 1717.4 L1254.8 1717.4 L1255.5 1717.4 L1256.3 1717.5 L1257 1717.6 L1257.7 1717.7 L1258.4 1717.9 L1259 1718.1 L1259.6 1718.4 L1260.2 1718.7 L1260.6 1719 L1261 1719.3 L1261.4 1719.7 L1261.7 1720.1 L1261.9 1720.5 L1262 1720.9 Z" fill="none" stroke="#000" stroke-width="1.5" />
<path d="M1324.7 1730.2 L1324.6 1730.6 L1324.5 1731 L1324.3 1731.4 L1324 1731.8 L1323.7 1732.2 L1323.3 1732.5 L1322.8 1732.9 L1322.3 1733.2 L1321.7 1733.4 L1321 1733.7 L1320.4 1733.8 L1319.6 1734 L1318.9 1734.1 L1318.2 1734.2 L1317.4 1734.2 L1316.6 1734.2 L1315.9 1734.1 L1315.2 1734 L1314.5 1733.8 L1313.8 1733.7 L1313.1 1733.4 L1312.6 1733.2 L1312 1732.9 L1311.5 1732.5 L1311.1 1732.2 L1310.8 1731.8 L1310.5 1731.4 L1310.3 1731 L1310.2 1730.6 L1310.2 1730.2 L1310.2 1729.8 L1310.3 1729.4 L1310.5 1729 L1310.8 1728.6 L1311.1 1728.2 L1311.5 1727.9 L1312 1727.6 L1312.6 1727.3 L1313.1 1727 L1313.8 1726.8 L1314.5 1726.6 L1315.2 1726.5 L1315.9 1726.4 L1316.6 1726.3 L1317.4 1726.3 L1318.2 1726.3 L1318.9 1726.4 L1319.6 1726.5 L1320.4 1726.6 L1321 1726.8 L1321.7 1727 L1322.3 1727.3 L1322.8 1727.6 L1323.3 1727.9 L1323.7 1728.2 L1324 1728.6 L1324.3 1729 L1324.5 1729.4 L1324.6 1729.8 Z" fill="none" stroke="#000" stroke-width="1.5" />
<path d="M1374.1 1749.3 L1374.1 1749.8 L1374 1750.2 L1373.8 1750.6 L1373.5 1751 L1373.1 1751.3 L1372.7 1751.7 L1372.3 1752 L1371.7 1752.3 L1371.1 1752.5 L1370.5 1752.8 L1369.8 1753 L1369.1 1753.1 L1368.4 1753.2 L1367.6 1753.3 L1366.9 1753.3 L1366.1 1753.3 L1365.4 1753.2 L1364.6 1753.1 L1363.9 1753 L1363.2 1752.8 L1362.6 1752.5 L1362 1752.3 L1361.5 1752 L1361 1751.7 L1360.6 1751.3 L1360.2 1751 L1360 1750.6 L1359.8 1750.2 L1359.6 1749.8 L1359.6 1749.3 L1359.6 1748.9 L1359.8 1748.5 L1360 1748.1 L1360.2 1747.7 L1360.6 1747.4 L1361 1747 L1361.5 1746.7 L1362 1746.4 L1362.6 1746.1 L1363.2 1745.9 L1363.9 1745.7 L1364.6 1745.6 L1365.4 1745.5 L1366.1 1745.4 L1366.9 1745.4 L1367.6 1745.4 L1368.4 1745.5 L1369.1 1745.6 L1369.8 1745.7 L1370.5 1745.9 L1371.1 1746.1 L1371.7 1746.4 L1372.3 1746.7 L1372.7 1747 L1373.1 1747.4 L1373.5 1747.7 L1373.8 1748.1 L1374 1748.5 L1374.1 1748.9 Z" fill="none" stroke="#000" stroke-width="1.5" />
<path d="M1403.8 1776.4 L1403.7 1776.8 L1403.6 1777.2 L1403.4 1777.6 L1403.2 1778 L1402.8 1778.4 L1402.4 1778.7 L1401.9 1779 L1401.4 1779.3 L1400.8 1779.6 L1400.2 1779.8 L1399.5 1780 L1398.8 1780.1 L1398 1780.3 L1397.3 1780.3 L1396.5 1780.3 L1395.8 1780.3 L1395 1780.3 L1394.3 1780.1 L1393.6 1780 L1392.9 1779.8 L1392.3 1779.6 L1391.7 1779.3 L1391.1 1779 L1390.7 1778.7 L1390.3 1778.4 L1389.9 1778 L1389.6 1777.6 L1389.4 1777.2 L1389.3 1776.8 L1389.3 1776.4 L1389.3 1776 L1389.4 1775.6 L1389.6 1775.2 L1389.9 1774.8 L1390.3 1774.4 L1390.7 1774.1 L1391.1 1773.7 L1391.7 1773.4 L1392.3 1773.2 L1392.9 1773 L1393.6 1772.8 L1394.3 1772.6 L1395 1772.5 L1395.8 1772.4 L1396.5 1772.4 L1397.3 1772.4 L1398 1772.5 L1398.8 1772.6 L1399.5 1772.8 L1400.2 1773 L1400.8 1773.2 L1401.4 1773.4 L1401.9 1773.7 L1402.4 1774.1 L1402.8 1774.4 L1403.2 1774.8 L1403.4 1775.2 L1403.6 1775.6 L1403.7 1776 Z" fill="none" stroke="#000" stroke-width="1.5" />
<path d="M1408.7 1807 L1408.7 1807.5 L1408.6 1807.9 L1408.4 1808.3 L1408.1 1808.7 L1407.8 1809 L1407.3 1809.4 L1406.9 1809.7 L1406.3 1810 L1405.7 1810.2 L1405.1 1810.5 L1404.4 1810.7 L1403.7 1810.8 L1403 1810.9 L1402.2 1811 L1401.5 1811 L1400.7 1811 L1400 1810.9 L1399.2 1810.8 L1398.5 1810.7 L1397.9 1810.5 L1397.2 1810.2 L1396.6 1810 L1396.1 1809.7 L1395.6 1809.4 L1395.2 1809 L1394.9 1808.7 L1394.6 1808.3 L1394.4 1807.9 L1394.3 1807.5 L1394.2 1807 L1394.3 1806.6 L1394.4 1806.2 L1394.6 1805.8 L1394.9 1805.4 L1395.2 1805.1 L1395.6 1804.7 L1396.1 1804.4 L1396.6 1804.1 L1397.2 1803.8 L1397.9 1803.6 L1398.5 1803.4 L1399.2 1803.3 L1400 1803.2 L1400.7 1803.1 L1401.5 1803.1 L1402.2 1803.1 L1403 1803.2 L1403.7 1803.3 L1404.4 1803.4 L1405.1 1803.6 L1405.7 1803.8 L1406.3 1804.1 L1406.9 1804.4 L1407.3 1804.7 L1407.8 1805.1 L1408.1 1805.4 L1408.4 1805.8 L1408.6 1806.2 L1408.7 1806.6 Z" fill="none" stroke="#000" stroke-width="1.5" />
<path d="M1389 1836.1 L1388.9 1836.5 L1388.8 1836.9 L1388.6 1837.3 L1388.3 1837.7 L1388 1838 L1387.6 1838.4 L1387.1 1838.7 L1386.6 1839 L1386 1839.3 L1385.3 1839.5 L1384.6 1839.7 L1383.9 1839.8 L1383.2 1839.9 L1382.5 1840 L1381.7 1840 L1380.9 1840 L1380.2 1839.9 L1379.5 1839.8 L1378.7 1839.7 L1378.1 1839.5 L1377.4 1839.3 L1376.8 1839 L1376.3 1838.7 L1375.8 1838.4 L1375.4 1838 L1375.1 1837.7 L1374.8 1837.3 L1374.6 1836.9 L1374.5 1836.5 L1374.4 1836.1 L1374.5 1835.6 L1374.6 1835.2 L1374.8 1834.8 L1375.1 1834.5 L1375.4 1834.1 L1375.8 1833.7 L1376.3 1833.4 L1376.8 1833.1 L1377.4 1832.9 L1378.1 1832.6 L1378.7 1832.4 L1379.5 1832.3 L1380.2 1832.2 L1380.9 1832.1 L1381.7 1832.1 L1382.5 1832.1 L1383.2 1832.2 L1383.9 1832.3 L1384.6 1832.4 L1385.3 1832.6 L1386 1832.9 L1386.6 1833.1 L1387.1 1833.4 L1387.6 1833.7 L1388 1834.1 L1388.3 1834.5 L1388.6 1834.8 L1388.8 1835.2 L1388.9 1835.6 Z" fill="none" stroke="#000" stroke-width="1.5" />
<path d="M1346.1 1859.8 L1346 1860.2 L1345.9 1860.6 L1345.7 1861 L1345.5 1861.4 L1345.1 1861.8 L1344.7 1862.1 L1344.2 1862.4 L1343.7 1862.7 L1343.1 1863 L1342.5 1863.2 L1341.8 1863.4 L1341.1 1863.6 L1340.3 1863.7 L1339.6 1863.7 L1338.8 1863.8 L1338.1 1863.7 L1337.3 1863.7 L1336.6 1863.6 L1335.9 1863.4 L1335.2 1863.2 L1334.6 1863 L1334 1862.7 L1333.4 1862.4 L1333 1862.1 L1332.6 1861.8 L1332.2 1861.4 L1331.9 1861 L1331.7 1860.6 L1331.6 1860.2 L1331.6 1859.8 L1331.6 1859.4 L1331.7 1859 L1331.9 1858.6 L1332.2 1858.2 L1332.6 1857.8 L1333 1857.5 L1333.4 1857.2 L1334 1856.9 L1334.6 1856.6 L1335.2 1856.4 L1335.9 1856.2 L1336.6 1856 L1337.3 1855.9 L1338.1 1855.9 L1338.8 1855.8 L1339.6 1855.9 L1340.3 1855.9 L1341.1 1856 L1341.8 1856.2 L1342.5 1856.4 L1343.1 1856.6 L1343.7 1856.9 L1344.2 1857.2 L1344.7 1857.5 L1345.1 1857.8 L1345.5 1858.2 L1345.7 1858.6 L1345.9 1859 L1346 1859.4 Z" fill="none" stroke="#000" stroke-width="1.5" />
<path d="M1287.4 1873.6 L1287.4 1874.1 L1287.2 1874.5 L1287 1874.9 L1286.8 1875.3 L1286.4 1875.6 L1286 1876 L1285.5 1876.3 L1285 1876.6 L1284.4 1876.8 L1283.8 1877.1 L1283.1 1877.3 L1282.4 1877.4 L1281.7 1877.5 L1280.9 1877.6 L1280.1 1877.6 L1279.4 1877.6 L1278.6 1877.5 L1277.9 1877.4 L1277.2 1877.3 L1276.5 1877.1 L1275.9 1876.8 L1275.3 1876.6 L1274.8 1876.3 L1274.3 1876 L1273.9 1875.6 L1273.5 1875.3 L1273.2 1874.9 L1273.1 1874.5 L1272.9 1874.1 L1272.9 1873.6 L1272.9 1873.2 L1273.1 1872.8 L1273.2 1872.4 L1273.5 1872 L1273.9 1871.7 L1274.3 1871.3 L1274.8 1871 L1275.3 1870.7 L1275.9 1870.4 L1276.5 1870.2 L1277.2 1870 L1277.9 1869.9 L1278.6 1869.8 L1279.4 1869.7 L1280.1 1869.7 L1280.9 1869.7 L1281.7 1869.8 L1282.4 1869.9 L1283.1 1870 L1283.8 1870.2 L1284.4 1870.4 L1285 1870.7 L1285.5 1871 L1286 1871.3 L1286.4 1871.7 L1286.8 1872 L1287 1872.4 L1287.2 1872.8 L1287.4 1873.2 Z" fill="none" stroke="#000" stroke-width="1.5" />
<path d="M1222.4 1876.3 L1222.4 1876.7 L1222.3 1877.1 L1222.1 1877.5 L1221.8 1877.9 L1221.5 1878.3 L1221.1 1878.6 L1220.6 1878.9 L1220 1879.2 L1219.5 1879.5 L1218.8 1879.7 L1218.1 1879.9 L1217.4 1880 L1216.7 1880.2 L1216 1880.2 L1215.2 1880.2 L1214.4 1880.2 L1213.7 1880.2 L1213 1880 L1212.2 1879.9 L1211.6 1879.7 L1210.9 1879.5 L1210.3 1879.2 L1209.8 1878.9 L1209.3 1878.6 L1208.9 1878.3 L1208.6 1877.9 L1208.3 1877.5 L1208.1 1877.1 L1208 1876.7 L1207.9 1876.3 L1208 1875.9 L1208.1 1875.5 L1208.3 1875.1 L1208.6 1874.7 L1208.9 1874.3 L1209.3 1874 L1209.8 1873.6 L1210.3 1873.3 L1210.9 1873.1 L1211.6 1872.9 L1212.2 1872.7 L1213 1872.5 L1213.7 1872.4 L1214.4 1872.3 L1215.2 1872.3 L1216 1872.3 L1216.7 1872.4 L1217.4 1872.5 L1218.1 1872.7 L1218.8 1872.9 L1219.5 1873.1 L1220 1873.3 L1220.6 1873.6 L1221.1 1874 L1221.5 1874.3 L1221.8 1874.7 L1222.1 1875.1 L1222.3 1875.5 L1222.4 1875.9 Z" fill="none" stroke="#000" stroke-width="1.5" />
<path d="M1160.8 1867.4 L1160.8 1867.8 L1160.6 1868.2 L1160.4 1868.6 L1160.2 1869 L1159.8 1869.4 L1159.4 1869.7 L1158.9 1870 L1158.4 1870.3 L1157.8 1870.6 L1157.2 1870.8 L1156.5 1871 L1155.8 1871.1 L1155 1871.3 L1154.3 1871.3 L1153.5 1871.3 L1152.8 1871.3 L1152 1871.3 L1151.3 1871.1 L1150.6 1871 L1149.9 1870.8 L1149.3 1870.6 L1148.7 1870.3 L1148.2 1870 L1147.7 1869.7 L1147.3 1869.4 L1146.9 1869 L1146.6 1868.6 L1146.4 1868.2 L1146.3 1867.8 L1146.3 1867.4 L1146.3 1867 L1146.4 1866.6 L1146.6 1866.2 L1146.9 1865.8 L1147.3 1865.4 L1147.7 1865.1 L1148.2 1864.7 L1148.7 1864.4 L1149.3 1864.2 L1149.9 1864 L1150.6 1863.8 L1151.3 1863.6 L1152 1863.5 L1152.8 1863.4 L1153.5 1863.4 L1154.3 1863.4 L1155 1863.5 L1155.8 1863.6 L1156.5 1863.8 L1157.2 1864 L1157.8 1864.2 L1158.4 1864.4 L1158.9 1864.7 L1159.4 1865.1 L1159.8 1865.4 L1160.2 1865.8 L1160.4 1866.2 L1160.6 1866.6 L1160.8 1867 Z" fill="none" stroke="#000" stroke-width="1.5" />
<path d="M1111 1847.6 L1111 1848 L1110.9 1848.4 L1110.7 1848.8 L1110.4 1849.2 L1110 1849.6 L1109.6 1849.9 L1109.1 1850.2 L1108.6 1850.5 L1108 1850.8 L1107.4 1851 L1106.7 1851.2 L1106 1851.4 L1105.3 1851.5 L1104.5 1851.5 L1103.8 1851.6 L1103 1851.5 L1102.2 1851.5 L1101.5 1851.4 L1100.8 1851.2 L1100.1 1851 L1099.5 1850.8 L1098.9 1850.5 L1098.4 1850.2 L1097.9 1849.9 L1097.5 1849.6 L1097.1 1849.2 L1096.9 1848.8 L1096.7 1848.4 L1096.5 1848 L1096.5 1847.6 L1096.5 1847.2 L1096.7 1846.8 L1096.9 1846.4 L1097.1 1846 L1097.5 1845.6 L1097.9 1845.3 L1098.4 1845 L1098.9 1844.7 L1099.5 1844.4 L1100.1 1844.2 L1100.8 1844 L1101.5 1843.8 L1102.2 1843.7 L1103 1843.7 L1103.8 1843.6 L1104.5 1843.7 L1105.3 1843.7 L1106 1843.8 L1106.7 1844 L1107.4 1844.2 L1108 1844.4 L1108.6 1844.7 L1109.1 1845 L1109.6 1845.3 L1110 1845.6 L1110.4 1846 L1110.7 1846.4 L1110.9 1846.8 L1111 1847.2 Z" fill="none" stroke="#000" stroke-width="1.5" />
<path d="M1081.3 1820.9 L1081.3 1821.3 L1081.2 1821.7 L1081 1822.1 L1080.7 1822.5 L1080.4 1822.9 L1080 1823.2 L1079.5 1823.5 L1078.9 1823.8 L1078.3 1824.1 L1077.7 1824.3 L1077 1824.5 L1076.3 1824.7 L1075.6 1824.8 L1074.8 1824.8 L1074.1 1824.8 L1073.3 1824.8 L1072.6 1824.8 L1071.8 1824.7 L1071.1 1824.5 L1070.5 1824.3 L1069.8 1824.1 L1069.2 1823.8 L1068.7 1823.5 L1068.2 1823.2 L1067.8 1822.9 L1067.5 1822.5 L1067.2 1822.1 L1067 1821.7 L1066.9 1821.3 L1066.8 1820.9 L1066.9 1820.5 L1067 1820.1 L1067.2 1819.7 L1067.5 1819.3 L1067.8 1818.9 L1068.2 1818.6 L1068.7 1818.2 L1069.2 1818 L1069.8 1817.7 L1070.5 1817.5 L1071.1 1817.3 L1071.8 1817.1 L1072.6 1817 L1073.3 1817 L1074.1 1816.9 L1074.8 1817 L1075.6 1817 L1076.3 1817.1 L1077 1817.3 L1077.7 1817.5 L1078.3 1817.7 L1078.9 1818 L1079.5 1818.2 L1080 1818.6 L1080.4 1818.9 L1080.7 1819.3 L1081 1819.7 L1081.2 1820.1 L1081.3 1820.5 Z" fill="none" stroke="#000" stroke-width="1.5" />
<path d="M1077.4 1789.9 L1077.3 1790.3 L1077.2 1790.7 L1077 1791.1 L1076.8 1791.5 L1076.4 1791.9 L1076 1792.2 L1075.5 1792.5 L1075 1792.8 L1074.4 1793.1 L1073.8 1793.3 L1073.1 1793.5 L1072.4 1793.7 L1071.6 1793.8 L1070.9 1793.8 L1070.1 1793.9 L1069.4 1793.8 L1068.6 1793.8 L1067.9 1793.7 L1067.2 1793.5 L1066.5 1793.3 L1065.9 1793.1 L1065.3 1792.8 L1064.7 1792.5 L1064.3 1792.2 L1063.8 1791.9 L1063.5 1791.5 L1063.2 1791.1 L1063 1790.7 L1062.9 1790.3 L1062.9 1789.9 L1062.9 1789.5 L1063 1789.1 L1063.2 1788.7 L1063.5 1788.3 L1063.8 1787.9 L1064.3 1787.6 L1064.7 1787.3 L1065.3 1787 L1065.9 1786.7 L1066.5 1786.5 L1067.2 1786.3 L1067.9 1786.1 L1068.6 1786 L1069.4 1786 L1070.1 1785.9 L1070.9 1786 L1071.6 1786 L1072.4 1786.1 L1073.1 1786.3 L1073.8 1786.5 L1074.4 1786.7 L1075 1787 L1075.5 1787.3 L1076 1787.6 L1076.4 1787.9 L1076.8 1788.3 L1077 1788.7 L1077.2 1789.1 L1077.3 1789.5 Z" fill="none" stroke="#000" stroke-width="1.5" />
<path d="M1097.2 1760.9 L1097.1 1761.3 L1097 1761.7 L1096.8 1762.1 L1096.5 1762.5 L1096.2 1762.9 L1095.8 1763.2 L1095.3 1763.5 L1094.8 1763.8 L1094.2 1764.1 L1093.5 1764.3 L1092.9 1764.5 L1092.1 1764.6 L1091.4 1764.8 L1090.7 1764.8 L1089.9 1764.8 L1089.1 1764.8 L1088.4 1764.8 L1087.7 1764.6 L1087 1764.5 L1086.3 1764.3 L1085.6 1764.1 L1085.1 1763.8 L1084.5 1763.5 L1084 1763.2 L1083.6 1762.9 L1083.3 1762.5 L1083 1762.1 L1082.8 1761.7 L1082.7 1761.3 L1082.7 1760.9 L1082.7 1760.5 L1082.8 1760.1 L1083 1759.7 L1083.3 1759.3 L1083.6 1758.9 L1084 1758.6 L1084.5 1758.2 L1085.1 1757.9 L1085.6 1757.7 L1086.3 1757.5 L1087 1757.3 L1087.7 1757.1 L1088.4 1757 L1089.1 1757 L1089.9 1756.9 L1090.7 1757 L1091.4 1757 L1092.1 1757.1 L1092.9 1757.3 L1093.5 1757.5 L1094.2 1757.7 L1094.8 1757.9 L1095.3 1758.2 L1095.8 1758.6 L1096.2 1758.9 L1096.5 1759.3 L1096.8 1759.7 L1097 1760.1 L1097.1 1760.5 Z" fill="none" stroke="#000" stroke-width="1.5" />
<path d="M1140 1737.8 L1140 1738.2 L1139.9 1738.6 L1139.7 1739 L1139.4 1739.4 L1139.1 1739.8 L1138.6 1740.1 L1138.2 1740.5 L1137.6 1740.7 L1137 1741 L1136.4 1741.2 L1135.7 1741.4 L1135 1741.6 L1134.3 1741.7 L1133.5 1741.7 L1132.8 1741.8 L1132 1741.7 L1131.3 1741.7 L1130.5 1741.6 L1129.8 1741.4 L1129.1 1741.2 L1128.5 1741 L1127.9 1740.7 L1127.4 1740.5 L1126.9 1740.1 L1126.5 1739.8 L1126.1 1739.4 L1125.9 1739 L1125.7 1738.6 L1125.6 1738.2 L1125.5 1737.8 L1125.6 1737.4 L1125.7 1737 L1125.9 1736.6 L1126.1 1736.2 L1126.5 1735.8 L1126.9 1735.5 L1127.4 1735.2 L1127.9 1734.9 L1128.5 1734.6 L1129.1 1734.4 L1129.8 1734.2 L1130.5 1734 L1131.3 1733.9 L1132 1733.9 L1132.8 1733.9 L1133.5 1733.9 L1134.3 1733.9 L1135 1734 L1135.7 1734.2 L1136.4 1734.4 L1137 1734.6 L1137.6 1734.9 L1138.2 1735.2 L1138.6 1735.5 L1139.1 1735.8 L1139.4 1736.2 L1139.7 1736.6 L1139.9 1737 L1140 1737.4 Z" fill="none" stroke="#000" stroke-width="1.5" />
<g transform="translate(233.7 1252.6) scale(1.0720 1)"><text x="0" y="0" font-size="32">5</text><text x="17.8" y="0" font-size="32">8</text><text x="35.6" y="0" font-size="32">2</text></g>
<g transform="translate(211.1 1449) scale(1.0800 1)"><text x="0" y="0" font-size="32">7</text><path d="M25.7 0 L25.7 -15.1 L20.8 -15.1 L20.8 -16.8 L22.9 -17.4 L25 -19.8 L26.1 -22 L28.8 -22 L28.8 0 Z" fill="#000"/><text x="35.6" y="0" font-size="32">7</text><text x="53.4" y="0" font-size="32">B</text></g>
<path d="M367.8 1188.1 C374.3 1184.3 397.8 1169.7 406.7 1165.6 C415.6 1161.5 414.6 1163 421 1163.5 C427.5 1164 437.1 1165.1 445.6 1168.7 C454.1 1172.2 464 1177.9 472.2 1185 C480.4 1192.2 488.2 1201.7 494.7 1211.6 C501.2 1221.5 507.3 1232.8 511.1 1244.4 C514.8 1256 516.2 1275.1 517.2 1281.2" fill="none" stroke="#000" stroke-width="1" />
<path d="M517.2 1281.2 L519.3 1324.2 L523.4 1375.4 L523.4 1382.5 L481.4 1406.1 L452.8 1389.7 L451.7 1383.6 L410.8 1365.1 L404.7 1362.1 L363.7 1339.5 L335.1 1324.2 L341.2 1217.8" fill="none" stroke="#000" stroke-width="1" />
<path d="M341.2 1217.8 C342.6 1214.7 345 1204.1 349.4 1199.4 C353.8 1194.6 361.7 1190.8 367.8 1189.1 C374 1187.4 379.1 1187.8 386.2 1189.1 C393.4 1190.5 402.6 1192.5 410.8 1197.3 C419 1202.1 427.5 1209.2 435.4 1217.8 C443.2 1226.3 451.7 1236.5 457.9 1248.5 C464 1260.4 469.3 1280.2 472.2 1289.4 C475.1 1298.6 474.8 1301.3 475.3 1303.7" fill="none" stroke="#000" stroke-width="1" />
<path d="M477.3 1303.7 L481.4 1406.1" fill="none" stroke="#000" stroke-width="1" />
<path d="M477.3 1303.7 L517.2 1283.3" fill="none" stroke="#000" stroke-width="1" />
<path d="M345.3 1221.9 C347 1218.1 350.8 1204.3 355.5 1199.4 C360.3 1194.4 368.5 1193.4 374 1192.2 C379.4 1191 381.1 1190 388.3 1192.2 C395.5 1194.4 408.1 1199.5 416.9 1205.5 C425.8 1211.5 434 1218.5 441.5 1228 C449 1237.6 456.9 1250.9 462 1262.8 C467.1 1274.7 470.5 1289.4 472.2 1299.6 C473.9 1309.9 473.6 1317 472.2 1324.2 C470.8 1331.4 468.5 1338.2 464 1342.6 C459.6 1347.1 452.8 1349.4 445.6 1350.8 C438.4 1352.2 425.1 1350.8 421 1350.8" fill="none" stroke="#000" stroke-width="1" />
<path d="M345.3 1221.9 C345.7 1227.3 345 1243 347.4 1254.6 C349.7 1266.2 354.2 1280.9 359.6 1291.5 C365.1 1302 371.6 1310.2 380.1 1318.1 C388.6 1325.9 405.7 1335.1 410.8 1338.5" fill="none" stroke="#000" stroke-width="1" />
<path d="M386.2 1193.2 C386.6 1198 385.9 1210.3 388.3 1221.9 C390.7 1233.5 395.1 1250.9 400.6 1262.8 C406 1274.7 413.2 1283.9 421 1293.5 C428.9 1303.1 443.2 1315.7 447.6 1320.1" fill="none" stroke="#000" stroke-width="1" />
<path d="M478.3 1307.8 C484.5 1304.8 508.7 1290.1 515.2 1289.4 C521.7 1288.7 517.9 1297.9 517.2 1303.7 C516.6 1309.5 514.8 1318.7 511.1 1324.2 C507.3 1329.7 497.4 1334.4 494.7 1336.5" fill="none" stroke="#000" stroke-width="1" />
<path d="M478.3 1307.8 L482.4 1389.7 L519.3 1371.3 L516.2 1289.4" fill="none" stroke="#000" stroke-width="1" />
<path d="M480.4 1338.5 L494.7 1332.4 L494.7 1354.9 L519.3 1367.2" fill="none" stroke="#000" stroke-width="1" />
<path d="M482.4 1361 L494.7 1354.9" fill="none" stroke="#000" stroke-width="1" />
<path d="M499.5 1369.9 L499.6 1370.4 L499.6 1371 L499.5 1371.6 L499.3 1372.1 L499 1372.7 L498.6 1373.3 L498.1 1373.8 L497.6 1374.4 L496.9 1374.9 L496.2 1375.4 L495.5 1375.8 L494.6 1376.3 L493.8 1376.6 L492.9 1377 L492 1377.2 L491 1377.5 L490.1 1377.6 L489.1 1377.7 L488.2 1377.8 L487.3 1377.8 L486.5 1377.7 L485.7 1377.6 L484.9 1377.4 L484.2 1377.1 L483.6 1376.8 L483 1376.5 L482.6 1376.1 L482.2 1375.7 L481.9 1375.2 L481.7 1374.7 L481.6 1374.2 L481.6 1373.6 L481.8 1373 L482 1372.5 L482.3 1371.9 L482.7 1371.3 L483.1 1370.8 L483.7 1370.2 L484.3 1369.7 L485 1369.2 L485.8 1368.8 L486.6 1368.3 L487.5 1368 L488.4 1367.6 L489.3 1367.4 L490.2 1367.1 L491.2 1367 L492.1 1366.9 L493 1366.8 L493.9 1366.8 L494.8 1366.9 L495.6 1367 L496.4 1367.2 L497 1367.5 L497.7 1367.8 L498.2 1368.1 L498.7 1368.5 L499.1 1368.9 L499.3 1369.4 Z" fill="none" stroke="#000" stroke-width="1" />
<path d="M370.3 1192.2 L377.7 1190.6 L378.5 1200 L371.1 1201.6 Z" fill="none" stroke="#000" stroke-width="1" />
<path d="M365.2 1201.4 L372.5 1199.8 L373.4 1209.2 L366 1210.8 Z" fill="none" stroke="#000" stroke-width="1" />
<path d="M363.1 1214.7 L370.5 1213.1 L371.3 1222.5 L363.9 1224.1 Z" fill="none" stroke="#000" stroke-width="1" />
<path d="M363.1 1228 L370.5 1226.4 L371.3 1235.8 L363.9 1237.4 Z" fill="none" stroke="#000" stroke-width="1" />
<path d="M365.2 1242.3 L372.5 1240.7 L373.4 1250.1 L366 1251.7 Z" fill="none" stroke="#000" stroke-width="1" />
<path d="M369.3 1258.7 L376.6 1257.1 L377.4 1266.5 L370.1 1268.1 Z" fill="none" stroke="#000" stroke-width="1" />
<path d="M376.4 1275.1 L383.8 1273.4 L384.6 1282.9 L377.2 1284.5 Z" fill="none" stroke="#000" stroke-width="1" />
<path d="M385.6 1288.4 L393 1286.7 L393.8 1296.2 L386.5 1297.8 Z" fill="none" stroke="#000" stroke-width="1" />
<path d="M395.9 1301.7 L403.2 1300 L404.1 1309.5 L396.7 1311.1 Z" fill="none" stroke="#000" stroke-width="1" />
<path d="M407.1 1314 L414.5 1312.3 L415.3 1321.7 L407.9 1323.4 Z" fill="none" stroke="#000" stroke-width="1" />
<path d="M417.4 1323.2 L424.7 1321.5 L425.5 1331 L418.2 1332.6 Z" fill="none" stroke="#000" stroke-width="1" />
<path d="M429.6 1330.3 L437 1328.7 L437.8 1338.1 L430.5 1339.8 Z" fill="none" stroke="#000" stroke-width="1" />
<path d="M441.9 1335.5 L449.3 1333.8 L450.1 1343.2 L442.7 1344.9 Z" fill="none" stroke="#000" stroke-width="1" />
<path d="M454.2 1335.5 L461.6 1333.8 L462.4 1343.2 L455 1344.9 Z" fill="none" stroke="#000" stroke-width="1" />
<path d="M363.7 1306.8 L363.7 1339.5" fill="none" stroke="#000" stroke-width="1" />
<path d="M365.8 1328.3 L380.1 1322.2 L402.6 1336.5 L402.6 1362.1" fill="none" stroke="#000" stroke-width="1" />
<path d="M384.2 1331.4 L384.2 1344.7 L402.6 1354.9" fill="none" stroke="#000" stroke-width="1" />
<path d="M365.8 1332.4 L380.1 1342.6" fill="none" stroke="#000" stroke-width="1" />
<path d="M404.7 1362.1 L404.7 1344.7 L447.6 1320.1 L447.6 1324.2 L410.8 1344.7 L410.8 1365.1" fill="none" stroke="#000" stroke-width="1" />
<path d="M412.9 1348.8 L412.9 1364.1 L451.7 1383.6" fill="none" stroke="#000" stroke-width="1" />
<path d="M412.9 1348.8 L429.2 1342.6 L451.7 1353.9 L451.7 1382.5" fill="none" stroke="#000" stroke-width="1" />
<path d="M435.4 1356.9 L435.4 1379.5" fill="none" stroke="#000" stroke-width="1" />
<path d="M414.9 1361 L431.3 1354.9" fill="none" stroke="#000" stroke-width="1" />
<path d="M437.4 1367.2 L451.7 1361" fill="none" stroke="#000" stroke-width="1" />
<path d="M447.6 1324.2 L453.8 1322.2 L470.2 1330.3" fill="none" stroke="#000" stroke-width="1" />
<path d="M337.1 1432.7 L378.1 1414.3 L382.2 1415.3 L382.2 1428.6 L392.4 1434.7 L395.5 1425.5 L399.5 1423.5 L505 1475.7 L507 1480.8 L515.2 1481.8 L515.2 1496.1 L470.2 1516.6 L455.8 1509.4 L345.3 1459.3 L337.1 1451.1 Z" fill="none" stroke="#000" stroke-width="1" />
<path d="M343.3 1447 L380.1 1430.6" fill="none" stroke="#000" stroke-width="1" />
<path d="M345.3 1447 L455.8 1500.2 L455.8 1509.4" fill="none" stroke="#000" stroke-width="1" />
<path d="M347.4 1452.1 L453.8 1502.3" fill="none" stroke="#000" stroke-width="1" />
<path d="M399.5 1434.7 L505 1481.8" fill="none" stroke="#000" stroke-width="1" />
<path d="M401.6 1426.5 L505 1477.7" fill="none" stroke="#000" stroke-width="1" />
<path d="M470.2 1516.6 L470.2 1502.3 L476.3 1498.2 L513.1 1481.8" fill="none" stroke="#000" stroke-width="1" />
<path d="M380.4 1442.4 L380.4 1442.8 L380.3 1443.1 L380.1 1443.5 L379.9 1443.9 L379.5 1444.2 L379.1 1444.6 L378.6 1445 L378 1445.3 L377.4 1445.7 L376.6 1446 L375.9 1446.3 L375.1 1446.5 L374.2 1446.8 L373.4 1447 L372.5 1447.2 L371.6 1447.3 L370.7 1447.4 L369.8 1447.5 L369 1447.5 L368.2 1447.5 L367.4 1447.4 L366.7 1447.3 L366 1447.2 L365.4 1447 L364.9 1446.8 L364.4 1446.6 L364 1446.3 L363.8 1446.1 L363.6 1445.8 L363.5 1445.4 L363.4 1445.1 L363.5 1444.7 L363.7 1444.4 L364 1444 L364.3 1443.6 L364.7 1443.2 L365.2 1442.9 L365.8 1442.5 L366.5 1442.2 L367.2 1441.9 L368 1441.6 L368.8 1441.3 L369.6 1441.1 L370.5 1440.9 L371.4 1440.7 L372.2 1440.6 L373.1 1440.5 L374 1440.4 L374.8 1440.4 L375.7 1440.4 L376.4 1440.4 L377.2 1440.5 L377.8 1440.7 L378.4 1440.8 L379 1441 L379.4 1441.3 L379.8 1441.5 L380.1 1441.8 L380.3 1442.1 Z" fill="none" stroke="#000" stroke-width="1" />
<g transform="translate(756.2 1652.9) scale(1.0694 1)"><text x="0" y="0" font-size="32">8</text><text x="17.8" y="0" font-size="32">3</text><text x="35.6" y="0" font-size="32">3</text><text x="53.4" y="0" font-size="32">B</text></g>
<g transform="translate(803 1797) scale(1.0608 1)"><text x="0" y="0" font-size="32">4</text><text x="17.8" y="0" font-size="32">2</text><text x="35.6" y="0" font-size="32">5</text></g>
<path d="M889.3 1627.3 L889.3 1627.7 L889.2 1628 L889 1628.4 L888.7 1628.7 L888.3 1629 L887.9 1629.3 L887.4 1629.6 L886.9 1629.9 L886.3 1630.1 L885.6 1630.3 L885 1630.5 L884.2 1630.6 L883.5 1630.7 L882.7 1630.7 L882 1630.8 L881.2 1630.7 L880.4 1630.7 L879.7 1630.6 L879 1630.5 L878.3 1630.3 L877.6 1630.1 L877 1629.9 L876.5 1629.6 L876 1629.3 L875.6 1629 L875.2 1628.7 L875 1628.4 L874.8 1628 L874.6 1627.7 L874.6 1627.3 L874.6 1627 L874.8 1626.6 L875 1626.3 L875.2 1625.9 L875.6 1625.6 L876 1625.3 L876.5 1625 L877 1624.8 L877.6 1624.5 L878.3 1624.3 L879 1624.2 L879.7 1624.1 L880.4 1624 L881.2 1623.9 L882 1623.9 L882.7 1623.9 L883.5 1624 L884.2 1624.1 L885 1624.2 L885.6 1624.3 L886.3 1624.5 L886.9 1624.8 L887.4 1625 L887.9 1625.3 L888.3 1625.6 L888.7 1625.9 L889 1626.3 L889.2 1626.6 L889.3 1627 Z" fill="none" stroke="#000" stroke-width="1" />
<path d="M873.8 1627.3 L873.6 1639.1 L879.5 1640.1 L889.3 1639.1 L890.1 1627" fill="none" stroke="#000" stroke-width="1" />
<path d="M879.5 1629.4 L879.5 1640.1" fill="none" stroke="#000" stroke-width="1" />
<path d="M889.3 1629 L889.3 1639.1" fill="none" stroke="#000" stroke-width="1" />
<path d="M873.8 1633.4 L870.2 1634.8 L870.2 1641.9" fill="none" stroke="#000" stroke-width="1" />
<path d="M890.1 1633.4 L893.7 1634.8 L893.7 1641.9" fill="none" stroke="#000" stroke-width="1" />
<path d="M893.7 1641.9 L893.6 1642.2 L893.4 1642.4 L893.1 1642.7 L892.7 1643 L892.1 1643.2 L891.5 1643.4 L890.7 1643.6 L889.8 1643.8 L888.9 1644 L887.8 1644.1 L886.7 1644.3 L885.6 1644.4 L884.4 1644.4 L883.2 1644.5 L882 1644.5 L880.7 1644.5 L879.5 1644.4 L878.3 1644.4 L877.2 1644.3 L876.1 1644.1 L875.1 1644 L874.1 1643.8 L873.2 1643.6 L872.5 1643.4 L871.8 1643.2 L871.2 1643 L870.8 1642.7 L870.5 1642.4 L870.3 1642.2 L870.2 1641.9" fill="none" stroke="#000" stroke-width="1" />
<path d="M875.5 1644.5 L875.5 1668.6" fill="none" stroke="#000" stroke-width="1" />
<path d="M888.5 1644.5 L888.5 1668.6" fill="none" stroke="#000" stroke-width="1" />
<path d="M888.5 1668.6 L888.4 1668.9 L888.3 1669.1 L888.1 1669.3 L887.9 1669.5 L887.6 1669.8 L887.2 1670 L886.8 1670.1 L886.3 1670.3 L885.8 1670.5 L885.2 1670.6 L884.6 1670.7 L884 1670.8 L883.3 1670.8 L882.6 1670.9 L882 1670.9 L881.3 1670.9 L880.6 1670.8 L880 1670.8 L879.3 1670.7 L878.7 1670.6 L878.1 1670.5 L877.6 1670.3 L877.1 1670.1 L876.7 1670 L876.3 1669.8 L876 1669.5 L875.8 1669.3 L875.6 1669.1 L875.5 1668.9 L875.5 1668.6" fill="none" stroke="#000" stroke-width="1" />
<path d="M875.5 1651.4 L882 1652.1 L888.5 1650.3" fill="none" stroke="#000" stroke-width="1" />
<path d="M875.5 1655.1 L882 1655.8 L888.5 1654" fill="none" stroke="#000" stroke-width="1" />
<path d="M875.5 1658.7 L882 1659.5 L888.5 1657.6" fill="none" stroke="#000" stroke-width="1" />
<path d="M875.5 1662.4 L882 1663.1 L888.5 1661.3" fill="none" stroke="#000" stroke-width="1" />
<path d="M875.5 1666.1 L882 1666.8 L888.5 1665" fill="none" stroke="#000" stroke-width="1" />
<path d="M892.1 1760.3 L892.1 1760.8 L891.9 1761.3 L891.6 1761.8 L891.3 1762.3 L890.8 1762.7 L890.2 1763.1 L889.5 1763.5 L888.8 1763.9 L887.9 1764.2 L887.1 1764.4 L886.1 1764.7 L885.1 1764.9 L884.1 1765 L883 1765.1 L882 1765.1 L880.9 1765.1 L879.8 1765 L878.8 1764.9 L877.8 1764.7 L876.9 1764.4 L876 1764.2 L875.1 1763.9 L874.4 1763.5 L873.7 1763.1 L873.1 1762.7 L872.7 1762.3 L872.3 1761.8 L872 1761.3 L871.8 1760.8 L871.8 1760.3 L871.8 1759.8 L872 1759.3 L872.3 1758.9 L872.7 1758.4 L873.1 1758 L873.7 1757.5 L874.4 1757.2 L875.1 1756.8 L876 1756.5 L876.9 1756.2 L877.8 1756 L878.8 1755.8 L879.8 1755.7 L880.9 1755.6 L882 1755.6 L883 1755.6 L884.1 1755.7 L885.1 1755.8 L886.1 1756 L887.1 1756.2 L887.9 1756.5 L888.8 1756.8 L889.5 1757.2 L890.2 1757.5 L890.8 1758 L891.3 1758.4 L891.6 1758.9 L891.9 1759.3 L892.1 1759.8 Z" fill="none" stroke="#000" stroke-width="1" />
<path d="M870.6 1760.3 L870.4 1768.7 L878.6 1770 L892.1 1768.7 L893.3 1759.9" fill="none" stroke="#000" stroke-width="1" />
<path d="M878.6 1763.2 L878.6 1770" fill="none" stroke="#000" stroke-width="1" />
<path d="M892.1 1762.7 L892.1 1768.7" fill="none" stroke="#000" stroke-width="1" />
<path d="M870.6 1763.6 L867.5 1764.9 L867.5 1771.2" fill="none" stroke="#000" stroke-width="1" />
<path d="M893.3 1763.6 L896.4 1764.9 L896.4 1771.2" fill="none" stroke="#000" stroke-width="1" />
<path d="M896.4 1771.2 L896.3 1771.5 L896.1 1771.9 L895.7 1772.2 L895.2 1772.5 L894.5 1772.8 L893.7 1773.1 L892.7 1773.3 L891.6 1773.6 L890.5 1773.8 L889.2 1773.9 L887.8 1774.1 L886.4 1774.2 L885 1774.3 L883.5 1774.4 L882 1774.4 L880.4 1774.4 L879 1774.3 L877.5 1774.2 L876.1 1774.1 L874.7 1773.9 L873.5 1773.8 L872.3 1773.6 L871.2 1773.3 L870.3 1773.1 L869.4 1772.8 L868.8 1772.5 L868.2 1772.2 L867.8 1771.9 L867.6 1771.5 L867.5 1771.2" fill="none" stroke="#000" stroke-width="1" />
<path d="M875.5 1774.4 L875.5 1799.1" fill="none" stroke="#000" stroke-width="1" />
<path d="M888.5 1774.4 L888.5 1799.1" fill="none" stroke="#000" stroke-width="1" />
<path d="M888.5 1799.1 L888.4 1799.3 L888.3 1799.5 L888.1 1799.8 L887.9 1800 L887.6 1800.2 L887.2 1800.4 L886.8 1800.6 L886.3 1800.7 L885.8 1800.9 L885.2 1801 L884.6 1801.1 L884 1801.2 L883.3 1801.3 L882.6 1801.3 L882 1801.3 L881.3 1801.3 L880.6 1801.3 L880 1801.2 L879.3 1801.1 L878.7 1801 L878.1 1800.9 L877.6 1800.7 L877.1 1800.6 L876.7 1800.4 L876.3 1800.2 L876 1800 L875.8 1799.8 L875.6 1799.5 L875.5 1799.3 L875.5 1799.1" fill="none" stroke="#000" stroke-width="1" />
<path d="M875.5 1774.9 L882 1775.3 L888.5 1774.4" fill="none" stroke="#000" stroke-width="1" />
<path d="M875.5 1776.7 L882 1777 L888.5 1776.1" fill="none" stroke="#000" stroke-width="1" />
<path d="M875.5 1778.4 L882 1778.8 L888.5 1777.9" fill="none" stroke="#000" stroke-width="1" />
<path d="M875.5 1780.2 L882 1780.5 L888.5 1779.7" fill="none" stroke="#000" stroke-width="1" />
<path d="M875.5 1782 L882 1782.3 L888.5 1781.4" fill="none" stroke="#000" stroke-width="1" />
<path d="M875.5 1783.7 L882 1784.1 L888.5 1783.2" fill="none" stroke="#000" stroke-width="1" />
<path d="M875.5 1785.5 L882 1785.8 L888.5 1785" fill="none" stroke="#000" stroke-width="1" />
<path d="M875.5 1787.2 L882 1787.6 L888.5 1786.7" fill="none" stroke="#000" stroke-width="1" />
<path d="M875.5 1789 L882 1789.4 L888.5 1788.5" fill="none" stroke="#000" stroke-width="1" />
<path d="M875.5 1790.8 L882 1791.1 L888.5 1790.2" fill="none" stroke="#000" stroke-width="1" />
<path d="M875.5 1792.5 L882 1792.9 L888.5 1792" fill="none" stroke="#000" stroke-width="1" />
<path d="M875.5 1794.3 L882 1794.6 L888.5 1793.8" fill="none" stroke="#000" stroke-width="1" />
<path d="M875.5 1796.1 L882 1796.4 L888.5 1795.5" fill="none" stroke="#000" stroke-width="1" />
<path d="M875.5 1797.8 L882 1798.2 L888.5 1797.3" fill="none" stroke="#000" stroke-width="1" />
<rect x="270" y="1646" width="331" height="463.5" fill="none" stroke="#000" stroke-width="2" stroke-linejoin="miter"/>
<rect x="270" y="1646" width="94.3" height="43.4" fill="none" stroke="#000" stroke-width="1.1" stroke-linejoin="miter"/>
<g transform="translate(279 1680.2) scale(1.0612 1)"><path d="M7.9 0 L7.9 -15.1 L3 -15.1 L3 -16.8 L5.1 -17.4 L7.2 -19.8 L8.3 -22 L11 -22 L11 0 Z" fill="#000"/><text x="17.8" y="0" font-size="32">3</text><path d="M43.5 0 L43.5 -15.1 L38.6 -15.1 L38.6 -16.8 L40.7 -17.4 L42.8 -19.8 L43.9 -22 L46.6 -22 L46.6 0 Z" fill="#000"/><text x="53.4" y="0" font-size="32">5</text></g>
<g transform="translate(313.8 1764.9) scale(1.0500 1)"><text x="0" y="0" font-size="32">8</text><path d="M25.7 0 L25.7 -15.1 L20.8 -15.1 L20.8 -16.8 L22.9 -17.4 L25 -19.8 L26.1 -22 L28.8 -22 L28.8 0 Z" fill="#000"/><text x="35.6" y="0" font-size="32">3</text><text x="53.4" y="0" font-size="32">A</text></g>
<path d="M505 1746.7 C504.2 1745.5 503 1740.8 500.3 1739.7 C497.6 1738.5 492.9 1737.7 488.7 1739.7 C484.4 1741.6 478.9 1745.5 474.7 1751.3 C470.4 1757.2 465.3 1766.1 463 1774.7 C460.7 1783.2 459.9 1796.4 460.7 1802.7 C461.4 1808.9 461.4 1807.3 467.7 1812 C473.9 1816.7 492 1826 498 1830.7 C504 1835.3 503.4 1836.1 503.8 1840 C504.2 1843.9 506.7 1840.4 500.3 1854 C493.9 1867.6 474.3 1906.1 465.3 1921.6 C456.4 1937.2 452.9 1940.3 446.7 1947.3 C440.4 1954.3 433.8 1959.8 428 1963.6 C422.2 1967.5 418.3 1968.9 411.7 1970.6 C405 1972.4 394.9 1971.8 388.3 1974.1 C381.7 1976.5 376.1 1979.8 372 1984.6 C367.9 1989.5 365 1996.3 363.8 2003.3 C362.7 2010.3 362.9 2019.3 365 2026.6 C367.1 2034 371.6 2042.2 376.7 2047.6 C381.7 2053.1 387.5 2057.7 395.3 2059.3 C403.1 2060.9 411.7 2059.3 423.3 2057 C435 2054.6 451.3 2051.9 465.3 2045.3 C479.3 2038.7 493.7 2031.3 507.3 2017.3 C520.9 2003.3 536.5 1981.1 547 1961.3 C557.5 1941.5 565.5 1918.5 570.3 1898.3 C575.2 1878.1 576.5 1855.9 576.1 1840 C575.8 1824 573.2 1814.3 568 1802.7 C562.7 1791 555.1 1779.3 544.6 1770 C534.1 1760.7 511.6 1750.5 505 1746.7 C498.4 1742.8 505.8 1747.8 505 1746.7 Z" fill="none" stroke="#000" stroke-width="1" />
<path d="M456.6 1752 L454.9 1755.9 L452.8 1759.7 L450.6 1763.4 L448.2 1766.8 L445.5 1769.9 L442.8 1772.7 L439.9 1775.2 L436.9 1777.3 L433.9 1779 L430.8 1780.3 L427.8 1781.2 L424.8 1781.7 L421.9 1781.7 L419.1 1781.3 L416.4 1780.5 L413.9 1779.2 L411.6 1777.6 L409.5 1775.5 L407.7 1773.1 L406.2 1770.4 L404.9 1767.3 L403.9 1763.9 L403.2 1760.4 L402.9 1756.6 L402.8 1752.6 L403.1 1748.6 L403.7 1744.4 L404.6 1740.3 L405.8 1736.1 L407.3 1732 L409.1 1728.1 L411.1 1724.2 L413.3 1720.6 L415.8 1717.2 L418.4 1714.1 L421.1 1711.3 L424 1708.8 L427 1706.7 L430 1705 L433.1 1703.7 L436.1 1702.8 L439.1 1702.3 L442 1702.3 L444.8 1702.7 L447.5 1703.5 L450 1704.7 L452.3 1706.4 L454.4 1708.4 L456.2 1710.9 L457.8 1713.6 L459 1716.7 L460 1720 L460.7 1723.6 L461.1 1727.4 L461.1 1731.4 L460.8 1735.4 L460.2 1739.6 L459.3 1743.7 L458.1 1747.9 Z" fill="none" stroke="#000" stroke-width="1" />
<path d="M455.8 1751.3 L454.1 1755.1 L452.2 1758.7 L450.1 1762.2 L447.8 1765.4 L445.3 1768.4 L442.7 1771.1 L440 1773.5 L437.2 1775.5 L434.3 1777.2 L431.5 1778.5 L428.6 1779.4 L425.8 1779.8 L423.1 1779.9 L420.5 1779.5 L418 1778.8 L415.7 1777.6 L413.6 1776 L411.7 1774.1 L410 1771.8 L408.6 1769.2 L407.4 1766.3 L406.5 1763.1 L405.9 1759.7 L405.6 1756.1 L405.6 1752.4 L405.9 1748.5 L406.5 1744.5 L407.4 1740.6 L408.5 1736.6 L410 1732.7 L411.6 1728.9 L413.5 1725.3 L415.7 1721.8 L418 1718.6 L420.5 1715.6 L423.1 1712.9 L425.8 1710.5 L428.6 1708.5 L431.4 1706.8 L434.3 1705.5 L437.1 1704.6 L439.9 1704.2 L442.7 1704.1 L445.3 1704.4 L447.7 1705.2 L450.1 1706.4 L452.2 1707.9 L454.1 1709.9 L455.8 1712.2 L457.2 1714.8 L458.4 1717.7 L459.3 1720.9 L459.9 1724.3 L460.2 1727.9 L460.2 1731.6 L459.9 1735.5 L459.3 1739.4 L458.4 1743.4 L457.2 1747.4 Z" fill="none" stroke="#000" stroke-width="1" />
<path d="M468.3 1749.6 L466.5 1753.6 L464.5 1757.4 L462.3 1761 L459.8 1764.4 L457.2 1767.5 L454.4 1770.4 L451.5 1772.8 L448.6 1774.9 L445.5 1776.7 L442.5 1778 L439.4 1778.9 L436.4 1779.4 L433.5 1779.4 L430.7 1779 L428.1 1778.2 L425.6 1776.9 L423.3 1775.3 L421.2 1773.2 L419.4 1770.8 L417.8 1768 L416.5 1765 L415.6 1761.6 L414.9 1758 L414.5 1754.2 L414.5 1750.3 L414.8 1746.2 L415.4 1742.1 L416.3 1737.9 L417.5 1733.8 L419 1729.7 L420.7 1725.7 L422.7 1721.9 L425 1718.3 L427.4 1714.9 L430 1711.8 L432.8 1709 L435.7 1706.5 L438.7 1704.4 L441.7 1702.7 L444.8 1701.3 L447.8 1700.4 L450.8 1700 L453.7 1699.9 L456.5 1700.3 L459.2 1701.2 L461.7 1702.4 L464 1704.1 L466 1706.1 L467.9 1708.5 L469.4 1711.3 L470.7 1714.4 L471.7 1717.7 L472.4 1721.3 L472.7 1725.1 L472.8 1729 L472.5 1733.1 L471.9 1737.2 L471 1741.4 L469.8 1745.5 Z" fill="none" stroke="#000" stroke-width="1" />
<path d="M467.5 1748.9 L465.8 1752.7 L463.9 1756.4 L461.8 1759.8 L459.5 1763.1 L457 1766.1 L454.4 1768.8 L451.7 1771.2 L448.9 1773.2 L446 1774.9 L443.2 1776.1 L440.3 1777 L437.5 1777.5 L434.8 1777.6 L432.2 1777.2 L429.7 1776.4 L427.4 1775.3 L425.3 1773.7 L423.3 1771.8 L421.7 1769.5 L420.2 1766.9 L419.1 1764 L418.2 1760.8 L417.6 1757.4 L417.3 1753.8 L417.3 1750 L417.6 1746.2 L418.2 1742.2 L419 1738.2 L420.2 1734.3 L421.6 1730.4 L423.3 1726.6 L425.2 1723 L427.3 1719.5 L429.6 1716.2 L432.1 1713.2 L434.7 1710.5 L437.5 1708.2 L440.3 1706.1 L443.1 1704.5 L446 1703.2 L448.8 1702.3 L451.6 1701.8 L454.3 1701.8 L456.9 1702.1 L459.4 1702.9 L461.7 1704.1 L463.9 1705.6 L465.8 1707.5 L467.5 1709.8 L468.9 1712.4 L470.1 1715.4 L470.9 1718.5 L471.5 1721.9 L471.8 1725.5 L471.8 1729.3 L471.5 1733.2 L471 1737.1 L470.1 1741.1 L468.9 1745 Z" fill="none" stroke="#000" stroke-width="1" />
<path d="M422.2 1691.8 L445.5 1701.2 L446.7 1714 L423.3 1704.7 Z" fill="none" stroke="#000" stroke-width="1.6" />
<path d="M424.5 1695.3 L442 1702.3 L443.2 1710.5 L425.7 1703.5 Z" fill="none" stroke="#000" stroke-width="1" />
<path d="M422.2 1691.8 L425.7 1689.5 L446.7 1697.7 L445.5 1701.2" fill="none" stroke="#000" stroke-width="1" />
<path d="M428 1700 L437.3 1704.7 L435 1709.3" fill="none" stroke="#000" stroke-width="2.5" />
<path d="M454.5 1692.7 L454.3 1693.3 L454 1693.8 L453.7 1694.3 L453.4 1694.7 L453 1695.1 L452.6 1695.5 L452.1 1695.8 L451.7 1696.1 L451.2 1696.3 L450.7 1696.5 L450.2 1696.6 L449.7 1696.6 L449.2 1696.6 L448.7 1696.5 L448.2 1696.4 L447.8 1696.2 L447.4 1695.9 L447 1695.6 L446.6 1695.3 L446.3 1694.9 L446 1694.4 L445.8 1694 L445.6 1693.5 L445.5 1692.9 L445.4 1692.4 L445.4 1691.8 L445.4 1691.2 L445.5 1690.7 L445.6 1690.1 L445.8 1689.5 L446 1689 L446.3 1688.5 L446.6 1688 L446.9 1687.5 L447.3 1687.1 L447.7 1686.7 L448.2 1686.4 L448.6 1686.2 L449.1 1685.9 L449.6 1685.8 L450.1 1685.7 L450.6 1685.6 L451.1 1685.7 L451.6 1685.7 L452.1 1685.9 L452.5 1686.1 L452.9 1686.3 L453.3 1686.6 L453.7 1687 L454 1687.4 L454.3 1687.8 L454.5 1688.3 L454.7 1688.8 L454.8 1689.3 L454.9 1689.9 L454.9 1690.4 L454.9 1691 L454.8 1691.6 L454.7 1692.2 Z" fill="none" stroke="#000" stroke-width="1.5" />
<path d="M439.7 1701.2 L457.2 1693" fill="none" stroke="#000" stroke-width="2.5" />
<path d="M428.9 1709.3 L428.9 1709.7 L428.9 1710 L428.8 1710.3 L428.6 1710.7 L428.5 1711 L428.3 1711.2 L428.1 1711.5 L427.8 1711.8 L427.6 1712 L427.3 1712.2 L427 1712.3 L426.7 1712.4 L426.3 1712.5 L426 1712.6 L425.7 1712.6 L425.3 1712.6 L425 1712.5 L424.6 1712.4 L424.3 1712.3 L424 1712.2 L423.7 1712 L423.5 1711.8 L423.2 1711.5 L423 1711.2 L422.8 1711 L422.7 1710.7 L422.5 1710.3 L422.5 1710 L422.4 1709.7 L422.4 1709.3 L422.4 1709 L422.5 1708.6 L422.5 1708.3 L422.7 1708 L422.8 1707.7 L423 1707.4 L423.2 1707.1 L423.5 1706.9 L423.7 1706.7 L424 1706.5 L424.3 1706.3 L424.6 1706.2 L425 1706.1 L425.3 1706.1 L425.7 1706.1 L426 1706.1 L426.3 1706.1 L426.7 1706.2 L427 1706.3 L427.3 1706.5 L427.6 1706.7 L427.8 1706.9 L428.1 1707.1 L428.3 1707.4 L428.5 1707.7 L428.6 1708 L428.8 1708.3 L428.9 1708.6 L428.9 1709 Z" fill="none" stroke="#000" stroke-width="1" />
<path d="M444.3 1763 L453.7 1761.8 L449 1770 L440.8 1771.2" fill="none" stroke="#000" stroke-width="1" />
<path d="M341.1 2017.9 L339.4 2021.9 L337.4 2025.7 L335.1 2029.4 L332.7 2032.7 L330 2035.9 L327.3 2038.7 L324.4 2041.1 L321.4 2043.3 L318.4 2045 L315.3 2046.3 L312.3 2047.2 L309.3 2047.7 L306.4 2047.7 L303.6 2047.3 L300.9 2046.5 L298.4 2045.2 L296.1 2043.6 L294 2041.5 L292.2 2039.1 L290.7 2036.3 L289.4 2033.3 L288.4 2029.9 L287.7 2026.3 L287.4 2022.5 L287.3 2018.6 L287.6 2014.5 L288.2 2010.4 L289.1 2006.2 L290.3 2002.1 L291.8 1998 L293.6 1994 L295.6 1990.2 L297.8 1986.6 L300.3 1983.2 L302.9 1980.1 L305.7 1977.3 L308.5 1974.8 L311.5 1972.7 L314.6 1971 L317.6 1969.6 L320.6 1968.7 L323.6 1968.3 L326.6 1968.2 L329.4 1968.6 L332 1969.5 L334.5 1970.7 L336.8 1972.4 L338.9 1974.4 L340.7 1976.9 L342.3 1979.6 L343.5 1982.7 L344.5 1986 L345.2 1989.6 L345.6 1993.4 L345.6 1997.4 L345.3 2001.4 L344.7 2005.6 L343.8 2009.7 L342.6 2013.9 Z" fill="none" stroke="#000" stroke-width="1" />
<path d="M340.3 2017.2 L338.6 2021 L336.7 2024.7 L334.6 2028.2 L332.3 2031.4 L329.8 2034.4 L327.2 2037.1 L324.5 2039.5 L321.7 2041.5 L318.9 2043.2 L316 2044.5 L313.1 2045.3 L310.4 2045.8 L307.6 2045.9 L305 2045.5 L302.5 2044.8 L300.2 2043.6 L298.1 2042 L296.2 2040.1 L294.5 2037.8 L293.1 2035.2 L291.9 2032.3 L291 2029.1 L290.4 2025.7 L290.1 2022.1 L290.1 2018.3 L290.4 2014.5 L291 2010.5 L291.9 2006.6 L293 2002.6 L294.5 1998.7 L296.1 1994.9 L298.1 1991.3 L300.2 1987.8 L302.5 1984.6 L305 1981.6 L307.6 1978.9 L310.3 1976.5 L313.1 1974.4 L315.9 1972.8 L318.8 1971.5 L321.6 1970.6 L324.4 1970.1 L327.2 1970.1 L329.8 1970.4 L332.3 1971.2 L334.6 1972.4 L336.7 1973.9 L338.6 1975.9 L340.3 1978.1 L341.7 1980.8 L342.9 1983.7 L343.8 1986.8 L344.4 1990.3 L344.7 1993.9 L344.7 1997.6 L344.4 2001.5 L343.8 2005.4 L342.9 2009.4 L341.8 2013.3 Z" fill="none" stroke="#000" stroke-width="1" />
<path d="M352.8 2015.6 L351 2019.6 L349 2023.4 L346.8 2027 L344.3 2030.4 L341.7 2033.5 L338.9 2036.3 L336 2038.8 L333.1 2040.9 L330 2042.7 L327 2044 L323.9 2044.9 L321 2045.3 L318 2045.4 L315.2 2045 L312.6 2044.1 L310.1 2042.9 L307.8 2041.2 L305.7 2039.2 L303.9 2036.8 L302.3 2034 L301 2030.9 L300.1 2027.6 L299.4 2024 L299 2020.2 L299 2016.3 L299.3 2012.2 L299.9 2008.1 L300.8 2003.9 L302 1999.8 L303.5 1995.7 L305.2 1991.7 L307.2 1987.9 L309.5 1984.3 L311.9 1980.9 L314.6 1977.8 L317.3 1974.9 L320.2 1972.5 L323.2 1970.4 L326.2 1968.6 L329.3 1967.3 L332.3 1966.4 L335.3 1965.9 L338.2 1965.9 L341 1966.3 L343.7 1967.1 L346.2 1968.4 L348.5 1970 L350.5 1972.1 L352.4 1974.5 L353.9 1977.3 L355.2 1980.3 L356.2 1983.7 L356.9 1987.3 L357.2 1991.1 L357.3 1995 L357 1999.1 L356.4 2003.2 L355.5 2007.4 L354.3 2011.5 Z" fill="none" stroke="#000" stroke-width="1" />
<path d="M352 2014.9 L350.3 2018.7 L348.4 2022.3 L346.3 2025.8 L344 2029.1 L341.5 2032.1 L338.9 2034.8 L336.2 2037.1 L333.4 2039.2 L330.5 2040.8 L327.7 2042.1 L324.8 2043 L322 2043.5 L319.3 2043.5 L316.7 2043.2 L314.2 2042.4 L311.9 2041.2 L309.8 2039.7 L307.8 2037.8 L306.2 2035.5 L304.7 2032.9 L303.6 2029.9 L302.7 2026.8 L302.1 2023.4 L301.8 2019.8 L301.8 2016 L302.1 2012.1 L302.7 2008.2 L303.5 2004.2 L304.7 2000.3 L306.1 1996.4 L307.8 1992.6 L309.7 1988.9 L311.8 1985.5 L314.2 1982.2 L316.6 1979.2 L319.2 1976.5 L322 1974.1 L324.8 1972.1 L327.6 1970.4 L330.5 1969.2 L333.3 1968.3 L336.1 1967.8 L338.8 1967.7 L341.4 1968.1 L343.9 1968.9 L346.2 1970 L348.4 1971.6 L350.3 1973.5 L352 1975.8 L353.4 1978.4 L354.6 1981.3 L355.4 1984.5 L356 1987.9 L356.3 1991.5 L356.3 1995.3 L356.1 1999.1 L355.5 2003.1 L354.6 2007.1 L353.4 2011 Z" fill="none" stroke="#000" stroke-width="1" />
<path d="M306.7 1957.8 L330 1967.1 L331.2 1980 L307.8 1970.6 Z" fill="none" stroke="#000" stroke-width="1.6" />
<path d="M309 1961.3 L326.5 1968.3 L327.7 1976.5 L310.2 1969.5 Z" fill="none" stroke="#000" stroke-width="1" />
<path d="M306.7 1957.8 L310.2 1955.5 L331.2 1963.6 L330 1967.1" fill="none" stroke="#000" stroke-width="1" />
<path d="M312.5 1966 L321.8 1970.6 L319.5 1975.3" fill="none" stroke="#000" stroke-width="2.5" />
<path d="M339 1958.7 L338.8 1959.2 L338.6 1959.8 L338.2 1960.3 L337.9 1960.7 L337.5 1961.1 L337.1 1961.5 L336.6 1961.8 L336.2 1962.1 L335.7 1962.3 L335.2 1962.5 L334.7 1962.6 L334.2 1962.6 L333.7 1962.6 L333.2 1962.5 L332.7 1962.4 L332.3 1962.2 L331.9 1961.9 L331.5 1961.6 L331.1 1961.3 L330.8 1960.9 L330.5 1960.4 L330.3 1960 L330.1 1959.4 L330 1958.9 L329.9 1958.4 L329.9 1957.8 L329.9 1957.2 L330 1956.6 L330.1 1956.1 L330.3 1955.5 L330.5 1955 L330.8 1954.5 L331.1 1954 L331.4 1953.5 L331.8 1953.1 L332.2 1952.7 L332.7 1952.4 L333.2 1952.1 L333.6 1951.9 L334.1 1951.8 L334.6 1951.7 L335.1 1951.6 L335.6 1951.6 L336.1 1951.7 L336.6 1951.8 L337 1952 L337.4 1952.3 L337.8 1952.6 L338.2 1953 L338.5 1953.4 L338.8 1953.8 L339 1954.3 L339.2 1954.8 L339.3 1955.3 L339.4 1955.9 L339.4 1956.4 L339.4 1957 L339.3 1957.6 L339.2 1958.1 Z" fill="none" stroke="#000" stroke-width="1.5" />
<path d="M324.2 1967.1 L341.7 1959" fill="none" stroke="#000" stroke-width="2.5" />
<path d="M313.4 1975.3 L313.4 1975.7 L313.4 1976 L313.3 1976.3 L313.1 1976.6 L313 1976.9 L312.8 1977.2 L312.6 1977.5 L312.3 1977.7 L312.1 1978 L311.8 1978.1 L311.5 1978.3 L311.2 1978.4 L310.8 1978.5 L310.5 1978.6 L310.2 1978.6 L309.8 1978.6 L309.5 1978.5 L309.2 1978.4 L308.8 1978.3 L308.5 1978.1 L308.2 1978 L308 1977.7 L307.7 1977.5 L307.5 1977.2 L307.3 1976.9 L307.2 1976.6 L307.1 1976.3 L307 1976 L306.9 1975.7 L306.9 1975.3 L306.9 1975 L307 1974.6 L307.1 1974.3 L307.2 1974 L307.3 1973.7 L307.5 1973.4 L307.7 1973.1 L308 1972.9 L308.2 1972.7 L308.5 1972.5 L308.8 1972.3 L309.2 1972.2 L309.5 1972.1 L309.8 1972.1 L310.2 1972 L310.5 1972.1 L310.8 1972.1 L311.2 1972.2 L311.5 1972.3 L311.8 1972.5 L312.1 1972.7 L312.3 1972.9 L312.6 1973.1 L312.8 1973.4 L313 1973.7 L313.1 1974 L313.3 1974.3 L313.4 1974.6 L313.4 1975 Z" fill="none" stroke="#000" stroke-width="1" />
<path d="M328.8 2029 L338.2 2027.8 L333.5 2036 L325.3 2037.1" fill="none" stroke="#000" stroke-width="1" />
<rect x="247" y="2184" width="557" height="342" fill="none" stroke="#000" stroke-width="2" stroke-linejoin="miter"/>
<rect x="247" y="2184" width="97.4" height="55.3" fill="none" stroke="#000" stroke-width="1.1" stroke-linejoin="miter"/>
<g transform="translate(255.4 2225.6) scale(1.0800 1)"><text x="0" y="0" font-size="32">8</text><text x="17.8" y="0" font-size="32">7</text><text x="35.6" y="0" font-size="32">5</text><text x="53.4" y="0" font-size="32">B</text></g>
<g transform="translate(412.2 2228.9) scale(1.0743 1)"><path d="M7.9 0 L7.9 -15.1 L3 -15.1 L3 -16.8 L5.1 -17.4 L7.2 -19.8 L8.3 -22 L11 -22 L11 0 Z" fill="#000"/><text x="17.8" y="0" font-size="32">8</text><text x="35.6" y="0" font-size="32">6</text><text x="53.4" y="0" font-size="32">B</text></g>
<g transform="translate(283.1 2294.9) scale(1.0740 1)"><text x="0" y="0" font-size="32">9</text><text x="17.8" y="0" font-size="32">6</text><text x="35.6" y="0" font-size="32">4</text><text x="53.4" y="0" font-size="32">A</text></g>
<path d="M752.4 2403 L751.3 2412.7 L748.1 2422.3 L742.8 2431.7 L735.5 2440.8 L726.2 2449.5 L715.1 2457.6 L702.2 2465.2 L687.8 2472.1 L671.9 2478.2 L654.8 2483.5 L636.6 2487.9 L617.5 2491.4 L597.8 2493.9 L577.6 2495.5 L557.2 2496 L536.8 2495.5 L516.6 2493.9 L496.9 2491.4 L477.8 2487.9 L459.6 2483.5 L442.5 2478.2 L426.6 2472.1 L412.1 2465.2 L399.3 2457.6 L388.1 2449.5 L378.9 2440.8 L371.5 2431.7 L366.3 2422.3 L363.1 2412.7 L362 2403 L363.1 2393.3 L366.3 2383.7 L371.5 2374.3 L378.9 2365.2 L388.1 2356.5 L399.3 2348.3 L412.1 2340.8 L426.6 2333.9 L442.5 2327.8 L459.6 2322.5 L477.8 2318.1 L496.9 2314.6 L516.6 2312.1 L536.8 2310.5 L557.2 2310 L577.6 2310.5 L597.8 2312.1 L617.5 2314.6 L636.6 2318.1 L654.8 2322.5 L671.9 2327.8 L687.8 2333.9 L702.2 2340.8 L715.1 2348.3 L726.2 2356.5 L735.5 2365.2 L742.8 2374.3 L748.1 2383.7 L751.3 2393.3 Z" fill="none" stroke="#000" stroke-width="1.3" />
<path d="M749.4 2424.1 L744.7 2433.8 L737.8 2443.2 L728.8 2452.3 L717.8 2460.8 L705 2468.7 L690.5 2475.9 L674.4 2482.3 L657 2487.8 L638.5 2492.5 L619 2496.1 L598.8 2498.8 L578.1 2500.4 L557.2 2500.9 L536.3 2500.4 L515.6 2498.8 L495.4 2496.1 L475.9 2492.5 L457.3 2487.8 L439.9 2482.3 L423.9 2475.9 L409.4 2468.7 L396.5 2460.8 L385.6 2452.3 L376.6 2443.2 L369.7 2433.8 L365 2424.1" fill="none" stroke="#000" stroke-width="1" />
<path d="M531.8 2318.6 L531.8 2318.9 L531.7 2319.3 L531.5 2319.6 L531.3 2319.9 L531 2320.2 L530.7 2320.5 L530.3 2320.8 L529.8 2321 L529.3 2321.3 L528.8 2321.4 L528.3 2321.6 L527.7 2321.7 L527.1 2321.8 L526.5 2321.9 L525.9 2321.9 L525.2 2321.9 L524.6 2321.8 L524 2321.7 L523.4 2321.6 L522.9 2321.4 L522.4 2321.3 L521.9 2321 L521.4 2320.8 L521.1 2320.5 L520.7 2320.2 L520.4 2319.9 L520.2 2319.6 L520.1 2319.3 L520 2318.9 L519.9 2318.6 L520 2318.2 L520.1 2317.9 L520.2 2317.6 L520.4 2317.3 L520.7 2316.9 L521.1 2316.7 L521.4 2316.4 L521.9 2316.1 L522.4 2315.9 L522.9 2315.7 L523.4 2315.6 L524 2315.5 L524.6 2315.4 L525.2 2315.3 L525.9 2315.3 L526.5 2315.3 L527.1 2315.4 L527.7 2315.5 L528.3 2315.6 L528.8 2315.7 L529.3 2315.9 L529.8 2316.1 L530.3 2316.4 L530.7 2316.7 L531 2316.9 L531.3 2317.3 L531.5 2317.6 L531.7 2317.9 L531.8 2318.2 Z" fill="none" stroke="#000" stroke-width="1" />
<path d="M601 2319.6 L601 2319.9 L600.9 2320.3 L600.7 2320.6 L600.5 2320.9 L600.2 2321.2 L599.9 2321.5 L599.5 2321.8 L599.1 2322 L598.6 2322.2 L598.1 2322.4 L597.5 2322.6 L596.9 2322.7 L596.3 2322.8 L595.7 2322.9 L595.1 2322.9 L594.5 2322.9 L593.9 2322.8 L593.3 2322.7 L592.7 2322.6 L592.1 2322.4 L591.6 2322.2 L591.1 2322 L590.7 2321.8 L590.3 2321.5 L590 2321.2 L589.7 2320.9 L589.4 2320.6 L589.3 2320.3 L589.2 2319.9 L589.2 2319.6 L589.2 2319.2 L589.3 2318.9 L589.4 2318.6 L589.7 2318.2 L590 2317.9 L590.3 2317.6 L590.7 2317.4 L591.1 2317.1 L591.6 2316.9 L592.1 2316.7 L592.7 2316.6 L593.3 2316.4 L593.9 2316.4 L594.5 2316.3 L595.1 2316.3 L595.7 2316.3 L596.3 2316.4 L596.9 2316.4 L597.5 2316.6 L598.1 2316.7 L598.6 2316.9 L599.1 2317.1 L599.5 2317.4 L599.9 2317.6 L600.2 2317.9 L600.5 2318.2 L600.7 2318.6 L600.9 2318.9 L601 2319.2 Z" fill="none" stroke="#000" stroke-width="1" />
<path d="M664.7 2332.8 L664.6 2333.1 L664.5 2333.5 L664.4 2333.8 L664.1 2334.1 L663.9 2334.4 L663.5 2334.7 L663.1 2335 L662.7 2335.2 L662.2 2335.4 L661.7 2335.6 L661.1 2335.8 L660.6 2335.9 L660 2336 L659.3 2336 L658.7 2336.1 L658.1 2336 L657.5 2336 L656.9 2335.9 L656.3 2335.8 L655.8 2335.6 L655.2 2335.4 L654.8 2335.2 L654.3 2335 L653.9 2334.7 L653.6 2334.4 L653.3 2334.1 L653.1 2333.8 L652.9 2333.5 L652.8 2333.1 L652.8 2332.8 L652.8 2332.4 L652.9 2332.1 L653.1 2331.8 L653.3 2331.4 L653.6 2331.1 L653.9 2330.8 L654.3 2330.6 L654.8 2330.3 L655.2 2330.1 L655.8 2329.9 L656.3 2329.8 L656.9 2329.6 L657.5 2329.5 L658.1 2329.5 L658.7 2329.5 L659.3 2329.5 L660 2329.5 L660.6 2329.6 L661.1 2329.8 L661.7 2329.9 L662.2 2330.1 L662.7 2330.3 L663.1 2330.6 L663.5 2330.8 L663.9 2331.1 L664.1 2331.4 L664.4 2331.8 L664.5 2332.1 L664.6 2332.4 Z" fill="none" stroke="#000" stroke-width="1" />
<path d="M712.5 2356.8 L712.4 2357.2 L712.3 2357.5 L712.2 2357.9 L712 2358.2 L711.7 2358.5 L711.3 2358.8 L710.9 2359 L710.5 2359.3 L710 2359.5 L709.5 2359.7 L708.9 2359.9 L708.4 2360 L707.8 2360.1 L707.2 2360.1 L706.5 2360.1 L705.9 2360.1 L705.3 2360.1 L704.7 2360 L704.1 2359.9 L703.6 2359.7 L703 2359.5 L702.6 2359.3 L702.1 2359 L701.7 2358.8 L701.4 2358.5 L701.1 2358.2 L700.9 2357.9 L700.7 2357.5 L700.6 2357.2 L700.6 2356.8 L700.6 2356.5 L700.7 2356.2 L700.9 2355.8 L701.1 2355.5 L701.4 2355.2 L701.7 2354.9 L702.1 2354.6 L702.6 2354.4 L703 2354.2 L703.6 2354 L704.1 2353.8 L704.7 2353.7 L705.3 2353.6 L705.9 2353.6 L706.5 2353.5 L707.2 2353.6 L707.8 2353.6 L708.4 2353.7 L708.9 2353.8 L709.5 2354 L710 2354.2 L710.5 2354.4 L710.9 2354.6 L711.3 2354.9 L711.7 2355.2 L712 2355.5 L712.2 2355.8 L712.3 2356.2 L712.4 2356.5 Z" fill="none" stroke="#000" stroke-width="1" />
<path d="M737.9 2387.8 L737.8 2388.2 L737.7 2388.5 L737.6 2388.8 L737.3 2389.2 L737.1 2389.5 L736.7 2389.8 L736.3 2390 L735.9 2390.3 L735.4 2390.5 L734.9 2390.7 L734.3 2390.8 L733.8 2391 L733.2 2391.1 L732.5 2391.1 L731.9 2391.1 L731.3 2391.1 L730.7 2391.1 L730.1 2391 L729.5 2390.8 L729 2390.7 L728.4 2390.5 L728 2390.3 L727.5 2390 L727.1 2389.8 L726.8 2389.5 L726.5 2389.2 L726.3 2388.8 L726.1 2388.5 L726 2388.2 L726 2387.8 L726 2387.5 L726.1 2387.1 L726.3 2386.8 L726.5 2386.5 L726.8 2386.2 L727.1 2385.9 L727.5 2385.6 L728 2385.4 L728.4 2385.2 L729 2385 L729.5 2384.8 L730.1 2384.7 L730.7 2384.6 L731.3 2384.6 L731.9 2384.5 L732.5 2384.6 L733.2 2384.6 L733.8 2384.7 L734.3 2384.8 L734.9 2385 L735.4 2385.2 L735.9 2385.4 L736.3 2385.6 L736.7 2385.9 L737.1 2386.2 L737.3 2386.5 L737.6 2386.8 L737.7 2387.1 L737.8 2387.5 Z" fill="none" stroke="#000" stroke-width="1" />
<path d="M736.5 2420.8 L736.5 2421.1 L736.4 2421.5 L736.2 2421.8 L736 2422.1 L735.7 2422.4 L735.4 2422.7 L735 2423 L734.6 2423.3 L734.1 2423.5 L733.6 2423.7 L733 2423.8 L732.4 2423.9 L731.8 2424 L731.2 2424.1 L730.6 2424.1 L730 2424.1 L729.4 2424 L728.8 2423.9 L728.2 2423.8 L727.6 2423.7 L727.1 2423.5 L726.6 2423.3 L726.2 2423 L725.8 2422.7 L725.5 2422.4 L725.2 2422.1 L725 2421.8 L724.8 2421.5 L724.7 2421.1 L724.7 2420.8 L724.7 2420.5 L724.8 2420.1 L725 2419.8 L725.2 2419.5 L725.5 2419.2 L725.8 2418.9 L726.2 2418.6 L726.6 2418.4 L727.1 2418.1 L727.6 2417.9 L728.2 2417.8 L728.8 2417.7 L729.4 2417.6 L730 2417.5 L730.6 2417.5 L731.2 2417.5 L731.8 2417.6 L732.4 2417.7 L733 2417.8 L733.6 2417.9 L734.1 2418.1 L734.6 2418.4 L735 2418.6 L735.4 2418.9 L735.7 2419.2 L736 2419.5 L736.2 2419.8 L736.4 2420.1 L736.5 2420.5 Z" fill="none" stroke="#000" stroke-width="1" />
<path d="M709.2 2451.5 L709.1 2451.8 L709 2452.1 L708.9 2452.5 L708.7 2452.8 L708.4 2453.1 L708 2453.4 L707.6 2453.7 L707.2 2453.9 L706.7 2454.1 L706.2 2454.3 L705.7 2454.5 L705.1 2454.6 L704.5 2454.7 L703.9 2454.7 L703.2 2454.8 L702.6 2454.7 L702 2454.7 L701.4 2454.6 L700.8 2454.5 L700.3 2454.3 L699.7 2454.1 L699.3 2453.9 L698.8 2453.7 L698.4 2453.4 L698.1 2453.1 L697.8 2452.8 L697.6 2452.5 L697.4 2452.1 L697.3 2451.8 L697.3 2451.5 L697.3 2451.1 L697.4 2450.8 L697.6 2450.4 L697.8 2450.1 L698.1 2449.8 L698.4 2449.5 L698.8 2449.3 L699.3 2449 L699.7 2448.8 L700.3 2448.6 L700.8 2448.5 L701.4 2448.3 L702 2448.2 L702.6 2448.2 L703.2 2448.2 L703.9 2448.2 L704.5 2448.2 L705.1 2448.3 L705.7 2448.5 L706.2 2448.6 L706.7 2448.8 L707.2 2449 L707.6 2449.3 L708 2449.5 L708.4 2449.8 L708.7 2450.1 L708.9 2450.4 L709 2450.8 L709.1 2451.1 Z" fill="none" stroke="#000" stroke-width="1" />
<path d="M659.7 2473.9 L659.7 2474.2 L659.6 2474.6 L659.4 2474.9 L659.2 2475.2 L658.9 2475.5 L658.6 2475.8 L658.2 2476.1 L657.8 2476.3 L657.3 2476.6 L656.7 2476.7 L656.2 2476.9 L655.6 2477 L655 2477.1 L654.4 2477.2 L653.8 2477.2 L653.2 2477.2 L652.5 2477.1 L651.9 2477 L651.4 2476.9 L650.8 2476.7 L650.3 2476.6 L649.8 2476.3 L649.4 2476.1 L649 2475.8 L648.6 2475.5 L648.4 2475.2 L648.1 2474.9 L648 2474.6 L647.9 2474.2 L647.8 2473.9 L647.9 2473.5 L648 2473.2 L648.1 2472.9 L648.4 2472.5 L648.6 2472.2 L649 2471.9 L649.4 2471.7 L649.8 2471.4 L650.3 2471.2 L650.8 2471 L651.4 2470.9 L651.9 2470.7 L652.5 2470.7 L653.2 2470.6 L653.8 2470.6 L654.4 2470.6 L655 2470.7 L655.6 2470.7 L656.2 2470.9 L656.7 2471 L657.3 2471.2 L657.8 2471.4 L658.2 2471.7 L658.6 2471.9 L658.9 2472.2 L659.2 2472.5 L659.4 2472.9 L659.6 2473.2 L659.7 2473.5 Z" fill="none" stroke="#000" stroke-width="1" />
<path d="M594.8 2485.4 L594.7 2485.8 L594.6 2486.1 L594.5 2486.4 L594.3 2486.8 L594 2487.1 L593.6 2487.4 L593.2 2487.6 L592.8 2487.9 L592.3 2488.1 L591.8 2488.3 L591.2 2488.4 L590.7 2488.6 L590.1 2488.6 L589.4 2488.7 L588.8 2488.7 L588.2 2488.7 L587.6 2488.6 L587 2488.6 L586.4 2488.4 L585.9 2488.3 L585.3 2488.1 L584.9 2487.9 L584.4 2487.6 L584 2487.4 L583.7 2487.1 L583.4 2486.8 L583.2 2486.4 L583 2486.1 L582.9 2485.8 L582.9 2485.4 L582.9 2485.1 L583 2484.7 L583.2 2484.4 L583.4 2484.1 L583.7 2483.8 L584 2483.5 L584.4 2483.2 L584.9 2483 L585.3 2482.8 L585.9 2482.6 L586.4 2482.4 L587 2482.3 L587.6 2482.2 L588.2 2482.1 L588.8 2482.1 L589.4 2482.1 L590.1 2482.2 L590.7 2482.3 L591.2 2482.4 L591.8 2482.6 L592.3 2482.8 L592.8 2483 L593.2 2483.2 L593.6 2483.5 L594 2483.8 L594.3 2484.1 L594.5 2484.4 L594.6 2484.7 L594.7 2485.1 Z" fill="none" stroke="#000" stroke-width="1" />
<path d="M525.5 2485.1 L525.5 2485.4 L525.4 2485.8 L525.2 2486.1 L525 2486.4 L524.7 2486.7 L524.4 2487 L524 2487.3 L523.6 2487.5 L523.1 2487.8 L522.6 2487.9 L522 2488.1 L521.4 2488.2 L520.8 2488.3 L520.2 2488.4 L519.6 2488.4 L519 2488.4 L518.4 2488.3 L517.8 2488.2 L517.2 2488.1 L516.6 2487.9 L516.1 2487.8 L515.6 2487.5 L515.2 2487.3 L514.8 2487 L514.5 2486.7 L514.2 2486.4 L513.9 2486.1 L513.8 2485.8 L513.7 2485.4 L513.7 2485.1 L513.7 2484.7 L513.8 2484.4 L513.9 2484.1 L514.2 2483.8 L514.5 2483.4 L514.8 2483.2 L515.2 2482.9 L515.6 2482.6 L516.1 2482.4 L516.6 2482.2 L517.2 2482.1 L517.8 2482 L518.4 2481.9 L519 2481.8 L519.6 2481.8 L520.2 2481.8 L520.8 2481.9 L521.4 2482 L522 2482.1 L522.6 2482.2 L523.1 2482.4 L523.6 2482.6 L524 2482.9 L524.4 2483.2 L524.7 2483.4 L525 2483.8 L525.2 2484.1 L525.4 2484.4 L525.5 2484.7 Z" fill="none" stroke="#000" stroke-width="1" />
<path d="M461.9 2471.9 L461.9 2472.3 L461.8 2472.6 L461.6 2472.9 L461.4 2473.2 L461.1 2473.6 L460.8 2473.8 L460.4 2474.1 L459.9 2474.4 L459.4 2474.6 L458.9 2474.8 L458.4 2474.9 L457.8 2475 L457.2 2475.1 L456.6 2475.2 L456 2475.2 L455.3 2475.2 L454.7 2475.1 L454.1 2475 L453.5 2474.9 L453 2474.8 L452.5 2474.6 L452 2474.4 L451.5 2474.1 L451.2 2473.8 L450.8 2473.6 L450.5 2473.2 L450.3 2472.9 L450.2 2472.6 L450.1 2472.3 L450 2471.9 L450.1 2471.6 L450.2 2471.2 L450.3 2470.9 L450.5 2470.6 L450.8 2470.3 L451.2 2470 L451.5 2469.7 L452 2469.5 L452.5 2469.2 L453 2469.1 L453.5 2468.9 L454.1 2468.8 L454.7 2468.7 L455.3 2468.6 L456 2468.6 L456.6 2468.6 L457.2 2468.7 L457.8 2468.8 L458.4 2468.9 L458.9 2469.1 L459.4 2469.2 L459.9 2469.5 L460.4 2469.7 L460.8 2470 L461.1 2470.3 L461.4 2470.6 L461.6 2470.9 L461.8 2471.2 L461.9 2471.6 Z" fill="none" stroke="#000" stroke-width="1" />
<path d="M413.4 2447.5 L413.4 2447.9 L413.3 2448.2 L413.1 2448.5 L412.9 2448.8 L412.6 2449.2 L412.3 2449.4 L411.9 2449.7 L411.5 2450 L411 2450.2 L410.5 2450.4 L409.9 2450.5 L409.3 2450.6 L408.7 2450.7 L408.1 2450.8 L407.5 2450.8 L406.9 2450.8 L406.3 2450.7 L405.7 2450.6 L405.1 2450.5 L404.5 2450.4 L404 2450.2 L403.5 2450 L403.1 2449.7 L402.7 2449.4 L402.4 2449.2 L402.1 2448.8 L401.8 2448.5 L401.7 2448.2 L401.6 2447.9 L401.6 2447.5 L401.6 2447.2 L401.7 2446.8 L401.8 2446.5 L402.1 2446.2 L402.4 2445.9 L402.7 2445.6 L403.1 2445.3 L403.5 2445.1 L404 2444.8 L404.5 2444.7 L405.1 2444.5 L405.7 2444.4 L406.3 2444.3 L406.9 2444.2 L407.5 2444.2 L408.1 2444.2 L408.7 2444.3 L409.3 2444.4 L409.9 2444.5 L410.5 2444.7 L411 2444.8 L411.5 2445.1 L411.9 2445.3 L412.3 2445.6 L412.6 2445.9 L412.9 2446.2 L413.1 2446.5 L413.3 2446.8 L413.4 2447.2 Z" fill="none" stroke="#000" stroke-width="1" />
<path d="M388.4 2416.8 L388.3 2417.2 L388.2 2417.5 L388.1 2417.9 L387.9 2418.2 L387.6 2418.5 L387.2 2418.8 L386.8 2419.1 L386.4 2419.3 L385.9 2419.5 L385.4 2419.7 L384.8 2419.9 L384.3 2420 L383.7 2420.1 L383.1 2420.1 L382.4 2420.1 L381.8 2420.1 L381.2 2420.1 L380.6 2420 L380 2419.9 L379.5 2419.7 L378.9 2419.5 L378.5 2419.3 L378 2419.1 L377.6 2418.8 L377.3 2418.5 L377 2418.2 L376.8 2417.9 L376.6 2417.5 L376.5 2417.2 L376.5 2416.8 L376.5 2416.5 L376.6 2416.2 L376.8 2415.8 L377 2415.5 L377.3 2415.2 L377.6 2414.9 L378 2414.6 L378.5 2414.4 L378.9 2414.2 L379.5 2414 L380 2413.8 L380.6 2413.7 L381.2 2413.6 L381.8 2413.6 L382.4 2413.5 L383.1 2413.6 L383.7 2413.6 L384.3 2413.7 L384.8 2413.8 L385.4 2414 L385.9 2414.2 L386.4 2414.4 L386.8 2414.6 L387.2 2414.9 L387.6 2415.2 L387.9 2415.5 L388.1 2415.8 L388.2 2416.2 L388.3 2416.5 Z" fill="none" stroke="#000" stroke-width="1" />
<path d="M389.4 2383.9 L389.3 2384.2 L389.2 2384.6 L389.1 2384.9 L388.8 2385.2 L388.6 2385.5 L388.2 2385.8 L387.8 2386.1 L387.4 2386.3 L386.9 2386.5 L386.4 2386.7 L385.8 2386.9 L385.3 2387 L384.7 2387.1 L384 2387.2 L383.4 2387.2 L382.8 2387.2 L382.2 2387.1 L381.6 2387 L381 2386.9 L380.5 2386.7 L379.9 2386.5 L379.5 2386.3 L379 2386.1 L378.6 2385.8 L378.3 2385.5 L378 2385.2 L377.8 2384.9 L377.6 2384.6 L377.5 2384.2 L377.5 2383.9 L377.5 2383.5 L377.6 2383.2 L377.8 2382.9 L378 2382.5 L378.3 2382.2 L378.6 2381.9 L379 2381.7 L379.5 2381.4 L379.9 2381.2 L380.5 2381 L381 2380.9 L381.6 2380.7 L382.2 2380.6 L382.8 2380.6 L383.4 2380.6 L384 2380.6 L384.7 2380.6 L385.3 2380.7 L385.8 2380.9 L386.4 2381 L386.9 2381.2 L387.4 2381.4 L387.8 2381.7 L388.2 2381.9 L388.6 2382.2 L388.8 2382.5 L389.1 2382.9 L389.2 2383.2 L389.3 2383.5 Z" fill="none" stroke="#000" stroke-width="1" />
<path d="M416.7 2353.5 L416.7 2353.9 L416.6 2354.2 L416.4 2354.6 L416.2 2354.9 L415.9 2355.2 L415.6 2355.5 L415.2 2355.7 L414.8 2356 L414.3 2356.2 L413.8 2356.4 L413.2 2356.6 L412.6 2356.7 L412 2356.8 L411.4 2356.8 L410.8 2356.8 L410.2 2356.8 L409.6 2356.8 L409 2356.7 L408.4 2356.6 L407.8 2356.4 L407.3 2356.2 L406.8 2356 L406.4 2355.7 L406 2355.5 L405.6 2355.2 L405.4 2354.9 L405.1 2354.6 L405 2354.2 L404.9 2353.9 L404.9 2353.5 L404.9 2353.2 L405 2352.9 L405.1 2352.5 L405.4 2352.2 L405.6 2351.9 L406 2351.6 L406.4 2351.3 L406.8 2351.1 L407.3 2350.9 L407.8 2350.7 L408.4 2350.5 L409 2350.4 L409.6 2350.3 L410.2 2350.3 L410.8 2350.2 L411.4 2350.3 L412 2350.3 L412.6 2350.4 L413.2 2350.5 L413.8 2350.7 L414.3 2350.9 L414.8 2351.1 L415.2 2351.3 L415.6 2351.6 L415.9 2351.9 L416.2 2352.2 L416.4 2352.5 L416.6 2352.9 L416.7 2353.2 Z" fill="none" stroke="#000" stroke-width="1" />
<path d="M466.8 2330.5 L466.8 2330.8 L466.7 2331.1 L466.5 2331.5 L466.3 2331.8 L466 2332.1 L465.7 2332.4 L465.3 2332.7 L464.9 2332.9 L464.4 2333.1 L463.9 2333.3 L463.3 2333.5 L462.7 2333.6 L462.1 2333.7 L461.5 2333.7 L460.9 2333.8 L460.3 2333.7 L459.7 2333.7 L459.1 2333.6 L458.5 2333.5 L457.9 2333.3 L457.4 2333.1 L456.9 2332.9 L456.5 2332.7 L456.1 2332.4 L455.8 2332.1 L455.5 2331.8 L455.3 2331.5 L455.1 2331.1 L455 2330.8 L455 2330.5 L455 2330.1 L455.1 2329.8 L455.3 2329.4 L455.5 2329.1 L455.8 2328.8 L456.1 2328.5 L456.5 2328.3 L456.9 2328 L457.4 2327.8 L457.9 2327.6 L458.5 2327.4 L459.1 2327.3 L459.7 2327.2 L460.3 2327.2 L460.9 2327.2 L461.5 2327.2 L462.1 2327.2 L462.7 2327.3 L463.3 2327.4 L463.9 2327.6 L464.4 2327.8 L464.9 2328 L465.3 2328.3 L465.7 2328.5 L466 2328.8 L466.3 2329.1 L466.5 2329.4 L466.7 2329.8 L466.8 2330.1 Z" fill="none" stroke="#000" stroke-width="1" />
<path d="M480.7 2373 L480.7 2373.3 L480.6 2373.7 L480.4 2374 L480.2 2374.3 L479.9 2374.6 L479.6 2374.9 L479.2 2375.2 L478.7 2375.4 L478.2 2375.7 L477.7 2375.8 L477.2 2376 L476.6 2376.1 L476 2376.2 L475.4 2376.3 L474.8 2376.3 L474.1 2376.3 L473.5 2376.2 L472.9 2376.1 L472.3 2376 L471.8 2375.8 L471.3 2375.7 L470.8 2375.4 L470.3 2375.2 L469.9 2374.9 L469.6 2374.6 L469.3 2374.3 L469.1 2374 L468.9 2373.7 L468.8 2373.3 L468.8 2373 L468.8 2372.6 L468.9 2372.3 L469.1 2372 L469.3 2371.7 L469.6 2371.3 L469.9 2371.1 L470.3 2370.8 L470.8 2370.5 L471.3 2370.3 L471.8 2370.1 L472.3 2370 L472.9 2369.9 L473.5 2369.8 L474.1 2369.7 L474.8 2369.7 L475.4 2369.7 L476 2369.8 L476.6 2369.9 L477.2 2370 L477.7 2370.1 L478.2 2370.3 L478.7 2370.5 L479.2 2370.8 L479.6 2371.1 L479.9 2371.3 L480.2 2371.7 L480.4 2372 L480.6 2372.3 L480.7 2372.6 Z" fill="none" stroke="#000" stroke-width="1" />
<path d="M444.7 2392.8 L444.7 2393.1 L444.6 2393.5 L444.5 2393.8 L444.2 2394.1 L444 2394.4 L443.6 2394.7 L443.2 2395 L442.8 2395.2 L442.3 2395.4 L441.8 2395.6 L441.2 2395.8 L440.6 2395.9 L440 2396 L439.4 2396.1 L438.8 2396.1 L438.2 2396.1 L437.6 2396 L437 2395.9 L436.4 2395.8 L435.8 2395.6 L435.3 2395.4 L434.8 2395.2 L434.4 2395 L434 2394.7 L433.7 2394.4 L433.4 2394.1 L433.2 2393.8 L433 2393.5 L432.9 2393.1 L432.9 2392.8 L432.9 2392.4 L433 2392.1 L433.2 2391.8 L433.4 2391.4 L433.7 2391.1 L434 2390.8 L434.4 2390.6 L434.8 2390.3 L435.3 2390.1 L435.8 2389.9 L436.4 2389.8 L437 2389.6 L437.6 2389.6 L438.2 2389.5 L438.8 2389.5 L439.4 2389.5 L440 2389.6 L440.6 2389.6 L441.2 2389.8 L441.8 2389.9 L442.3 2390.1 L442.8 2390.3 L443.2 2390.6 L443.6 2390.8 L444 2391.1 L444.2 2391.4 L444.5 2391.8 L444.6 2392.1 L444.7 2392.4 Z" fill="none" stroke="#000" stroke-width="1" />
<path d="M582.2 2430.7 L582.2 2431 L582.1 2431.4 L581.9 2431.7 L581.7 2432 L581.4 2432.3 L581.1 2432.6 L580.7 2432.9 L580.3 2433.1 L579.8 2433.4 L579.3 2433.5 L578.7 2433.7 L578.1 2433.8 L577.5 2433.9 L576.9 2434 L576.3 2434 L575.7 2434 L575.1 2433.9 L574.5 2433.8 L573.9 2433.7 L573.3 2433.5 L572.8 2433.4 L572.3 2433.1 L571.9 2432.9 L571.5 2432.6 L571.2 2432.3 L570.9 2432 L570.7 2431.7 L570.5 2431.4 L570.4 2431 L570.4 2430.7 L570.4 2430.3 L570.5 2430 L570.7 2429.7 L570.9 2429.4 L571.2 2429 L571.5 2428.8 L571.9 2428.5 L572.3 2428.2 L572.8 2428 L573.3 2427.8 L573.9 2427.7 L574.5 2427.6 L575.1 2427.5 L575.7 2427.4 L576.3 2427.4 L576.9 2427.4 L577.5 2427.5 L578.1 2427.6 L578.7 2427.7 L579.3 2427.8 L579.8 2428 L580.3 2428.2 L580.7 2428.5 L581.1 2428.8 L581.4 2429 L581.7 2429.4 L581.9 2429.7 L582.1 2430 L582.2 2430.3 Z" fill="none" stroke="#000" stroke-width="1" />
<path d="M546 2451.5 L545.9 2451.8 L545.8 2452.1 L545.7 2452.5 L545.5 2452.8 L545.2 2453.1 L544.8 2453.4 L544.4 2453.7 L544 2453.9 L543.5 2454.1 L543 2454.3 L542.4 2454.5 L541.9 2454.6 L541.3 2454.7 L540.7 2454.7 L540 2454.8 L539.4 2454.7 L538.8 2454.7 L538.2 2454.6 L537.6 2454.5 L537.1 2454.3 L536.5 2454.1 L536.1 2453.9 L535.6 2453.7 L535.2 2453.4 L534.9 2453.1 L534.6 2452.8 L534.4 2452.5 L534.2 2452.1 L534.1 2451.8 L534.1 2451.5 L534.1 2451.1 L534.2 2450.8 L534.4 2450.4 L534.6 2450.1 L534.9 2449.8 L535.2 2449.5 L535.6 2449.3 L536.1 2449 L536.5 2448.8 L537.1 2448.6 L537.6 2448.5 L538.2 2448.3 L538.8 2448.2 L539.4 2448.2 L540 2448.2 L540.7 2448.2 L541.3 2448.2 L541.9 2448.3 L542.4 2448.5 L543 2448.6 L543.5 2448.8 L544 2449 L544.4 2449.3 L544.8 2449.5 L545.2 2449.8 L545.5 2450.1 L545.7 2450.4 L545.8 2450.8 L545.9 2451.1 Z" fill="none" stroke="#000" stroke-width="1" />
<path d="M654.8 2383.2 L654.7 2383.6 L654.6 2383.9 L654.5 2384.2 L654.3 2384.6 L654 2384.9 L653.6 2385.2 L653.2 2385.4 L652.8 2385.7 L652.3 2385.9 L651.8 2386.1 L651.3 2386.2 L650.7 2386.4 L650.1 2386.4 L649.5 2386.5 L648.8 2386.5 L648.2 2386.5 L647.6 2386.4 L647 2386.4 L646.4 2386.2 L645.9 2386.1 L645.3 2385.9 L644.9 2385.7 L644.4 2385.4 L644 2385.2 L643.7 2384.9 L643.4 2384.6 L643.2 2384.2 L643 2383.9 L642.9 2383.6 L642.9 2383.2 L642.9 2382.9 L643 2382.5 L643.2 2382.2 L643.4 2381.9 L643.7 2381.6 L644 2381.3 L644.4 2381 L644.9 2380.8 L645.3 2380.5 L645.9 2380.4 L646.4 2380.2 L647 2380.1 L647.6 2380 L648.2 2379.9 L648.8 2379.9 L649.5 2379.9 L650.1 2380 L650.7 2380.1 L651.3 2380.2 L651.8 2380.4 L652.3 2380.5 L652.8 2380.8 L653.2 2381 L653.6 2381.3 L654 2381.6 L654.3 2381.9 L654.5 2382.2 L654.6 2382.5 L654.7 2382.9 Z" fill="none" stroke="#000" stroke-width="1" />
<path d="M584.5 2350.9 L584.5 2351.8 L584.2 2352.6 L583.7 2353.5 L583.1 2354.3 L582.3 2355 L581.4 2355.7 L580.3 2356.4 L579.1 2357 L577.7 2357.6 L576.3 2358 L574.8 2358.4 L573.2 2358.7 L571.5 2359 L569.8 2359.1 L568.1 2359.1 L566.3 2359.1 L564.6 2359 L563 2358.7 L561.4 2358.4 L559.8 2358 L558.4 2357.6 L557 2357 L555.8 2356.4 L554.7 2355.7 L553.8 2355 L553 2354.3 L552.4 2353.5 L551.9 2352.6 L551.7 2351.8 L551.6 2350.9 L551.7 2350 L551.9 2349.2 L552.4 2348.4 L553 2347.6 L553.8 2346.8 L554.7 2346.1 L555.8 2345.4 L557 2344.8 L558.4 2344.2 L559.8 2343.8 L561.4 2343.4 L563 2343.1 L564.6 2342.8 L566.3 2342.7 L568.1 2342.7 L569.8 2342.7 L571.5 2342.8 L573.2 2343.1 L574.8 2343.4 L576.3 2343.8 L577.7 2344.2 L579.1 2344.8 L580.3 2345.4 L581.4 2346.1 L582.3 2346.8 L583.1 2347.6 L583.7 2348.4 L584.2 2349.2 L584.5 2350 Z" fill="none" stroke="#000" stroke-width="1" />
<path d="M553.2 2347.6 L553.3 2347.1 L553.5 2346.6 L553.9 2346.1 L554.5 2345.6 L555.2 2345.1 L556.1 2344.7 L557 2344.3 L558.1 2343.9 L559.3 2343.6 L560.6 2343.3 L562 2343.1 L563.5 2342.9 L565 2342.8 L566.5 2342.7 L568.1 2342.7 L569.6 2342.7 L571.1 2342.8 L572.6 2342.9 L574.1 2343.1 L575.5 2343.3 L576.8 2343.6 L578 2343.9 L579.1 2344.3 L580.1 2344.7 L580.9 2345.1 L581.6 2345.6 L582.2 2346.1 L582.6 2346.6 L582.8 2347.1 L582.9 2347.6" fill="none" stroke="#000" stroke-width="1" />
<path d="M454.3 2393.8 C456 2389.6 463.7 2384.3 470.8 2382.2 C477.9 2380.1 482.9 2375.7 497.2 2381.2 C511.5 2386.7 545.3 2407.6 556.5 2415.2 C567.8 2422.8 564.2 2423.2 564.8 2426.7 C565.3 2430.3 564.5 2433.6 559.8 2436.6 C555.1 2439.6 543.3 2444.3 536.7 2444.9 C530.1 2445.4 532.9 2446.2 520.3 2439.9 C507.6 2433.6 471.9 2414.6 460.9 2407 C449.9 2399.3 452.7 2397.9 454.3 2393.8 Z" fill="none" stroke="#000" stroke-width="1.3" />
<path d="M457.6 2390.5 C460.4 2388.7 466.9 2381.7 474.1 2379.9 C481.2 2378.2 487 2374.6 500.5 2379.9 C513.9 2385.2 545.8 2406.6 554.9 2411.9" fill="none" stroke="#000" stroke-width="1" />
<path d="M516 2232.2 L515.9 2233.2 L515.8 2234.1 L515.6 2235.1 L515.3 2236 L515 2236.8 L514.6 2237.6 L514.1 2238.4 L513.6 2239.1 L513 2239.7 L512.3 2240.2 L511.7 2240.6 L511 2241 L510.2 2241.2 L509.5 2241.4 L508.7 2241.4 L508 2241.4 L507.2 2241.2 L506.5 2241 L505.8 2240.6 L505.1 2240.2 L504.4 2239.7 L503.9 2239.1 L503.3 2238.4 L502.8 2237.6 L502.4 2236.8 L502.1 2236 L501.8 2235.1 L501.6 2234.1 L501.5 2233.2 L501.5 2232.2 L501.5 2231.2 L501.6 2230.3 L501.8 2229.4 L502.1 2228.5 L502.4 2227.6 L502.8 2226.8 L503.3 2226 L503.9 2225.3 L504.4 2224.7 L505.1 2224.2 L505.8 2223.8 L506.5 2223.4 L507.2 2223.2 L508 2223 L508.7 2223 L509.5 2223 L510.2 2223.2 L511 2223.4 L511.7 2223.8 L512.3 2224.2 L513 2224.7 L513.6 2225.3 L514.1 2226 L514.6 2226.8 L515 2227.6 L515.3 2228.5 L515.6 2229.4 L515.8 2230.3 L515.9 2231.2 Z" fill="none" stroke="#000" stroke-width="1.5" />
<path d="M511.7 2232.9 L511.7 2233.4 L511.6 2233.9 L511.5 2234.4 L511.3 2234.9 L511.1 2235.3 L510.9 2235.8 L510.7 2236.2 L510.4 2236.5 L510 2236.9 L509.7 2237.2 L509.3 2237.4 L508.9 2237.6 L508.5 2237.7 L508.1 2237.8 L507.7 2237.8 L507.3 2237.8 L506.9 2237.7 L506.5 2237.6 L506.1 2237.4 L505.7 2237.2 L505.4 2236.9 L505.1 2236.5 L504.8 2236.2 L504.5 2235.8 L504.3 2235.3 L504.1 2234.9 L504 2234.4 L503.9 2233.9 L503.8 2233.4 L503.8 2232.9 L503.8 2232.4 L503.9 2231.8 L504 2231.3 L504.1 2230.9 L504.3 2230.4 L504.5 2230 L504.8 2229.6 L505.1 2229.2 L505.4 2228.9 L505.7 2228.6 L506.1 2228.4 L506.5 2228.2 L506.9 2228 L507.3 2227.9 L507.7 2227.9 L508.1 2227.9 L508.5 2228 L508.9 2228.2 L509.3 2228.4 L509.7 2228.6 L510 2228.9 L510.4 2229.2 L510.7 2229.6 L510.9 2230 L511.1 2230.4 L511.3 2230.9 L511.5 2231.3 L511.6 2231.8 L511.7 2232.4 Z" fill="none" stroke="#000" stroke-width="1.5" />
<path d="M508.7 2223 L518.6 2221.7 L520.3 2225.6 L530.1 2223 L541.7 2220.7" fill="none" stroke="#000" stroke-width="1.2" />
<path d="M508.7 2241.4 L518.6 2239.5 L520.3 2236.2 L530.1 2234.8 L541.7 2232.9" fill="none" stroke="#000" stroke-width="1.2" />
<path d="M518.6 2221.7 L518.6 2239.5" fill="none" stroke="#000" stroke-width="1.2" />
<path d="M530.1 2223 L530.1 2234.8" fill="none" stroke="#000" stroke-width="1.2" />
<path d="M530.1 2215.7 L543.3 2212.4 L558.2 2215.1 L558.2 2243.7 L545 2247 L530.1 2243.7 Z" fill="none" stroke="#000" stroke-width="1.5" />
<path d="M543.3 2212.4 L545 2216.4 L545 2247" fill="none" stroke="#000" stroke-width="1.2" />
<path d="M530.1 2215.7 L545 2216.4 L558.2 2215.1" fill="none" stroke="#000" stroke-width="1.2" />
<path d="M569 2243.7 L568.9 2244.4 L568.5 2245.1 L567.8 2245.8 L566.8 2246.4 L565.6 2247 L564.1 2247.6 L562.4 2248.2 L560.5 2248.6 L558.4 2249.1 L556.2 2249.5 L553.8 2249.8 L551.3 2250 L548.7 2250.2 L546 2250.3 L543.3 2250.3 L540.6 2250.3 L538 2250.2 L535.4 2250 L532.9 2249.8 L530.5 2249.5 L528.2 2249.1 L526.1 2248.6 L524.2 2248.2 L522.5 2247.6 L521.1 2247 L519.8 2246.4 L518.9 2245.8 L518.2 2245.1 L517.8 2244.4 L517.6 2243.7 L517.8 2243.1 L518.2 2242.4 L518.9 2241.7 L519.8 2241.1 L521.1 2240.5 L522.5 2239.9 L524.2 2239.3 L526.1 2238.8 L528.2 2238.4 L530.5 2238 L532.9 2237.7 L535.4 2237.5 L538 2237.3 L540.6 2237.2 L543.3 2237.2 L546 2237.2 L548.7 2237.3 L551.3 2237.5 L553.8 2237.7 L556.2 2238 L558.4 2238.4 L560.5 2238.8 L562.4 2239.3 L564.1 2239.9 L565.6 2240.5 L566.8 2241.1 L567.8 2241.7 L568.5 2242.4 L568.9 2243.1 Z" fill="none" stroke="#000" stroke-width="1.3" />
<path d="M569 2246.1 L568.9 2246.7 L568.5 2247.4 L567.8 2248.1 L566.8 2248.7 L565.6 2249.4 L564.1 2249.9 L562.4 2250.5 L560.5 2251 L558.4 2251.4 L556.2 2251.8 L553.8 2252.1 L551.3 2252.3 L548.7 2252.5 L546 2252.6 L543.3 2252.7 L540.6 2252.6 L538 2252.5 L535.4 2252.3 L532.9 2252.1 L530.5 2251.8 L528.2 2251.4 L526.1 2251 L524.2 2250.5 L522.5 2249.9 L521.1 2249.4 L519.8 2248.7 L518.9 2248.1 L518.2 2247.4 L517.8 2246.7 L517.6 2246.1" fill="none" stroke="#000" stroke-width="1.2" />
<path d="M526.8 2252 L558.2 2252 L556.5 2261.9 L530.1 2261.9 Z" fill="none" stroke="#000" stroke-width="1.2" />
<path d="M536.7 2253.6 L536.7 2261.9" fill="none" stroke="#000" stroke-width="1.2" />
<path d="M548.3 2253.6 L548.3 2261.9" fill="none" stroke="#000" stroke-width="1.2" />
<path d="M380.1 2265.2 L413.1 2257.9 L418 2275.1 L386.7 2283.3" fill="none" stroke="#000" stroke-width="1" />
<path d="M387.3 2273.6 L387.5 2274.5 L387.6 2275.5 L387.7 2276.4 L387.7 2277.3 L387.7 2278.2 L387.7 2279.1 L387.6 2279.8 L387.4 2280.6 L387.2 2281.2 L387 2281.8 L386.7 2282.3 L386.4 2282.7 L386.1 2283.1 L385.7 2283.3 L385.3 2283.4 L384.9 2283.5 L384.5 2283.4 L384.1 2283.3 L383.6 2283 L383.1 2282.6 L382.7 2282.2 L382.3 2281.7 L381.8 2281.1 L381.4 2280.4 L381 2279.6 L380.7 2278.8 L380.3 2278 L380 2277.1 L379.8 2276.2 L379.6 2275.2 L379.4 2274.3 L379.2 2273.3 L379.1 2272.4 L379.1 2271.5 L379.1 2270.6 L379.2 2269.8 L379.3 2269 L379.4 2268.3 L379.6 2267.6 L379.8 2267 L380.1 2266.5 L380.4 2266.1 L380.7 2265.7 L381.1 2265.5 L381.5 2265.4 L381.9 2265.3 L382.3 2265.4 L382.8 2265.6 L383.2 2265.8 L383.7 2266.2 L384.1 2266.6 L384.6 2267.2 L385 2267.8 L385.4 2268.4 L385.8 2269.2 L386.2 2270 L386.5 2270.8 L386.8 2271.7 L387.1 2272.6 Z" fill="none" stroke="#000" stroke-width="1" />
<path d="M413.1 2257.9 C413.8 2259.1 416.6 2262.3 417.4 2265.2 C418.2 2268 417.9 2273.4 418 2275.1" fill="none" stroke="#000" stroke-width="1" />
<rect x="987.7" y="2166.5" width="503.7" height="406.8" fill="none" stroke="#000" stroke-width="1.2" stroke-linejoin="miter"/>
<rect x="987.7" y="2166.5" width="135.7" height="58.6" fill="none" stroke="#000" stroke-width="1.1" stroke-linejoin="miter"/>
<g transform="translate(1015.3 2209.6) scale(1.0718 1)"><text x="0" y="0" font-size="32">8</text><text x="17.8" y="0" font-size="32">7</text><text x="35.6" y="0" font-size="32">5</text><text x="53.4" y="0" font-size="32">F</text></g>
<g transform="translate(832.5 2184.5) scale(1.0800 1)"><text x="0" y="0" font-size="32">9</text><text x="17.8" y="0" font-size="32">7</text><path d="M43.5 0 L43.5 -15.1 L38.6 -15.1 L38.6 -16.8 L40.7 -17.4 L42.8 -19.8 L43.9 -22 L46.6 -22 L46.6 0 Z" fill="#000"/></g>
<g transform="translate(1194.8 2457.7) scale(1.0743 1)"><path d="M7.9 0 L7.9 -15.1 L3 -15.1 L3 -16.8 L5.1 -17.4 L7.2 -19.8 L8.3 -22 L11 -22 L11 0 Z" fill="#000"/><text x="17.8" y="0" font-size="32">8</text><text x="35.6" y="0" font-size="32">6</text><text x="53.4" y="0" font-size="32">B</text></g>
<g transform="translate(1333.9 2448.1) scale(1.0740 1)"><text x="0" y="0" font-size="32">9</text><text x="17.8" y="0" font-size="32">6</text><text x="35.6" y="0" font-size="32">4</text><text x="53.4" y="0" font-size="32">A</text></g>
<g transform="translate(1012 2498.7) scale(1.0657 1)"><path d="M7.9 0 L7.9 -15.1 L3 -15.1 L3 -16.8 L5.1 -17.4 L7.2 -19.8 L8.3 -22 L11 -22 L11 0 Z" fill="#000"/><text x="17.8" y="0" font-size="32">6</text><text x="35.6" y="0" font-size="32">3</text><text x="53.4" y="0" font-size="32">B</text></g>
<path d="M947.6 2161.9 L947.6 2162.4 L947.4 2162.9 L947.2 2163.3 L946.8 2163.8 L946.3 2164.2 L945.8 2164.6 L945.1 2165 L944.4 2165.3 L943.6 2165.6 L942.8 2165.9 L941.9 2166.1 L940.9 2166.3 L939.9 2166.4 L938.9 2166.5 L937.9 2166.5 L936.9 2166.5 L935.9 2166.4 L934.9 2166.3 L933.9 2166.1 L933 2165.9 L932.2 2165.6 L931.4 2165.3 L930.7 2165 L930 2164.6 L929.5 2164.2 L929 2163.8 L928.6 2163.3 L928.4 2162.9 L928.2 2162.4 L928.2 2161.9 L928.2 2161.5 L928.4 2161 L928.6 2160.5 L929 2160.1 L929.5 2159.7 L930 2159.3 L930.7 2158.9 L931.4 2158.6 L932.2 2158.3 L933 2158 L933.9 2157.8 L934.9 2157.6 L935.9 2157.5 L936.9 2157.4 L937.9 2157.4 L938.9 2157.4 L939.9 2157.5 L940.9 2157.6 L941.9 2157.8 L942.8 2158 L943.6 2158.3 L944.4 2158.6 L945.1 2158.9 L945.8 2159.3 L946.3 2159.7 L946.8 2160.1 L947.2 2160.5 L947.4 2161 L947.6 2161.5 Z" fill="none" stroke="#000" stroke-width="1" />
<path d="M927.1 2161.9 L926.9 2170.9 L934.7 2172.2 L947.6 2170.9 L948.7 2161.5" fill="none" stroke="#000" stroke-width="1" />
<path d="M934.7 2164.7 L934.7 2172.2" fill="none" stroke="#000" stroke-width="1" />
<path d="M947.6 2164.2 L947.6 2170.9" fill="none" stroke="#000" stroke-width="1" />
<path d="M927.1 2166.3 L925.1 2167.4 L925.1 2173.2" fill="none" stroke="#000" stroke-width="1" />
<path d="M948.7 2166.3 L950.7 2167.4 L950.7 2173.2" fill="none" stroke="#000" stroke-width="1" />
<path d="M950.7 2173.2 L950.6 2173.5 L950.4 2173.8 L950 2174.1 L949.6 2174.4 L948.9 2174.6 L948.2 2174.9 L947.4 2175.1 L946.4 2175.3 L945.4 2175.5 L944.3 2175.7 L943.1 2175.8 L941.8 2175.9 L940.5 2176 L939.2 2176 L937.9 2176 L936.6 2176 L935.2 2176 L934 2175.9 L932.7 2175.8 L931.5 2175.7 L930.4 2175.5 L929.4 2175.3 L928.4 2175.1 L927.6 2174.9 L926.9 2174.6 L926.2 2174.4 L925.8 2174.1 L925.4 2173.8 L925.2 2173.5 L925.1 2173.2" fill="none" stroke="#000" stroke-width="1" />
<path d="M930.2 2176 L930.2 2201.1" fill="none" stroke="#000" stroke-width="1" />
<path d="M945.6 2176 L945.6 2201.1" fill="none" stroke="#000" stroke-width="1" />
<path d="M945.6 2201.1 L945.6 2201.4 L945.5 2201.6 L945.2 2201.9 L945 2202.2 L944.6 2202.4 L944.2 2202.7 L943.6 2202.9 L943.1 2203.1 L942.4 2203.3 L941.8 2203.4 L941 2203.5 L940.3 2203.6 L939.5 2203.7 L938.7 2203.8 L937.9 2203.8 L937.1 2203.8 L936.3 2203.7 L935.5 2203.6 L934.8 2203.5 L934 2203.4 L933.4 2203.3 L932.7 2203.1 L932.2 2202.9 L931.6 2202.7 L931.2 2202.4 L930.8 2202.2 L930.5 2201.9 L930.3 2201.6 L930.2 2201.4 L930.2 2201.1" fill="none" stroke="#000" stroke-width="1" />
<path d="M930.2 2183.6 L937.9 2184.4 L945.6 2182.5" fill="none" stroke="#000" stroke-width="1" />
<path d="M930.2 2187.3 L937.9 2188.1 L945.6 2186.2" fill="none" stroke="#000" stroke-width="1" />
<path d="M930.2 2191.1 L937.9 2191.8 L945.6 2189.9" fill="none" stroke="#000" stroke-width="1" />
<path d="M930.2 2194.8 L937.9 2195.5 L945.6 2193.7" fill="none" stroke="#000" stroke-width="1" />
<path d="M930.2 2198.5 L937.9 2199.2 L945.6 2197.4" fill="none" stroke="#000" stroke-width="1" />
<path d="M1422.6 2322.5 L1421.6 2331.3 L1418.6 2340 L1413.5 2348.5 L1406.5 2356.7 L1397.7 2364.6 L1387 2372 L1374.8 2378.8 L1361 2385.1 L1345.8 2390.6 L1329.5 2395.4 L1312.1 2399.4 L1293.9 2402.6 L1275 2404.9 L1255.8 2406.3 L1236.3 2406.7 L1216.8 2406.3 L1197.6 2404.9 L1178.7 2402.6 L1160.5 2399.4 L1143.2 2395.4 L1126.8 2390.6 L1111.6 2385.1 L1097.9 2378.8 L1085.6 2372 L1075 2364.6 L1066.1 2356.7 L1059.1 2348.5 L1054.1 2340 L1051 2331.3 L1050 2322.5 L1051 2313.6 L1054.1 2304.9 L1059.1 2296.4 L1066.1 2288.2 L1075 2280.3 L1085.6 2272.9 L1097.9 2266.1 L1111.6 2259.8 L1126.8 2254.3 L1143.2 2249.5 L1160.5 2245.5 L1178.7 2242.3 L1197.6 2240 L1216.8 2238.6 L1236.3 2238.2 L1255.8 2238.6 L1275 2240 L1293.9 2242.3 L1312.1 2245.5 L1329.5 2249.5 L1345.8 2254.3 L1361 2259.8 L1374.8 2266.1 L1387 2272.9 L1397.7 2280.3 L1406.5 2288.2 L1413.5 2296.4 L1418.6 2304.9 L1421.6 2313.6 Z" fill="none" stroke="#000" stroke-width="1.3" />
<path d="M1421.9 2334.4 L1419.2 2343.3 L1414.4 2351.9 L1407.5 2360.3 L1398.8 2368.3 L1388.3 2375.9 L1376 2382.8 L1362.2 2389.2 L1347 2394.9 L1330.5 2399.8 L1312.9 2403.9 L1294.5 2407.1 L1275.5 2409.5 L1256 2410.9 L1236.3 2411.4 L1216.6 2410.9 L1197.1 2409.5 L1178.1 2407.1 L1159.7 2403.9 L1142.2 2399.8 L1125.7 2394.9 L1110.4 2389.2 L1096.6 2382.8 L1084.4 2375.9 L1073.8 2368.3 L1065.1 2360.3 L1058.3 2351.9 L1053.5 2343.3 L1050.7 2334.4" fill="none" stroke="#000" stroke-width="1" />
<path d="M1174.9 2247.5 L1174.8 2247.8 L1174.7 2248.1 L1174.6 2248.4 L1174.3 2248.7 L1174.1 2249 L1173.7 2249.3 L1173.4 2249.5 L1172.9 2249.8 L1172.5 2250 L1172 2250.1 L1171.4 2250.3 L1170.8 2250.4 L1170.3 2250.5 L1169.7 2250.5 L1169.1 2250.6 L1168.4 2250.5 L1167.8 2250.5 L1167.3 2250.4 L1166.7 2250.3 L1166.2 2250.1 L1165.6 2250 L1165.2 2249.8 L1164.7 2249.5 L1164.4 2249.3 L1164 2249 L1163.8 2248.7 L1163.5 2248.4 L1163.4 2248.1 L1163.3 2247.8 L1163.3 2247.5 L1163.3 2247.1 L1163.4 2246.8 L1163.5 2246.5 L1163.8 2246.2 L1164 2245.9 L1164.4 2245.6 L1164.7 2245.4 L1165.2 2245.2 L1165.6 2245 L1166.2 2244.8 L1166.7 2244.6 L1167.3 2244.5 L1167.8 2244.4 L1168.4 2244.4 L1169.1 2244.4 L1169.7 2244.4 L1170.3 2244.4 L1170.8 2244.5 L1171.4 2244.6 L1172 2244.8 L1172.5 2245 L1172.9 2245.2 L1173.4 2245.4 L1173.7 2245.6 L1174.1 2245.9 L1174.3 2246.2 L1174.6 2246.5 L1174.7 2246.8 L1174.8 2247.1 Z" fill="none" stroke="#000" stroke-width="1.4" />
<path d="M1231.7 2243.6 L1231.6 2243.9 L1231.5 2244.2 L1231.4 2244.6 L1231.2 2244.9 L1230.9 2245.1 L1230.6 2245.4 L1230.2 2245.7 L1229.8 2245.9 L1229.3 2246.1 L1228.8 2246.3 L1228.2 2246.4 L1227.7 2246.5 L1227.1 2246.6 L1226.5 2246.7 L1225.9 2246.7 L1225.3 2246.7 L1224.7 2246.6 L1224.1 2246.5 L1223.5 2246.4 L1223 2246.3 L1222.5 2246.1 L1222 2245.9 L1221.6 2245.7 L1221.2 2245.4 L1220.9 2245.1 L1220.6 2244.9 L1220.4 2244.6 L1220.2 2244.2 L1220.1 2243.9 L1220.1 2243.6 L1220.1 2243.3 L1220.2 2243 L1220.4 2242.6 L1220.6 2242.3 L1220.9 2242 L1221.2 2241.8 L1221.6 2241.5 L1222 2241.3 L1222.5 2241.1 L1223 2240.9 L1223.5 2240.8 L1224.1 2240.7 L1224.7 2240.6 L1225.3 2240.5 L1225.9 2240.5 L1226.5 2240.5 L1227.1 2240.6 L1227.7 2240.7 L1228.2 2240.8 L1228.8 2240.9 L1229.3 2241.1 L1229.8 2241.3 L1230.2 2241.5 L1230.6 2241.8 L1230.9 2242 L1231.2 2242.3 L1231.4 2242.6 L1231.5 2243 L1231.6 2243.3 Z" fill="none" stroke="#000" stroke-width="1.4" />
<path d="M1289.7 2249 L1289.6 2249.3 L1289.5 2249.6 L1289.4 2250 L1289.2 2250.3 L1288.9 2250.6 L1288.5 2250.8 L1288.2 2251.1 L1287.7 2251.3 L1287.3 2251.5 L1286.8 2251.7 L1286.2 2251.8 L1285.6 2251.9 L1285.1 2252 L1284.5 2252.1 L1283.9 2252.1 L1283.3 2252.1 L1282.7 2252 L1282.1 2251.9 L1281.5 2251.8 L1281 2251.7 L1280.4 2251.5 L1280 2251.3 L1279.5 2251.1 L1279.2 2250.8 L1278.8 2250.6 L1278.6 2250.3 L1278.3 2250 L1278.2 2249.6 L1278.1 2249.3 L1278.1 2249 L1278.1 2248.7 L1278.2 2248.4 L1278.3 2248.1 L1278.6 2247.7 L1278.8 2247.5 L1279.2 2247.2 L1279.5 2246.9 L1280 2246.7 L1280.4 2246.5 L1281 2246.3 L1281.5 2246.2 L1282.1 2246.1 L1282.7 2246 L1283.3 2245.9 L1283.9 2245.9 L1284.5 2245.9 L1285.1 2246 L1285.6 2246.1 L1286.2 2246.2 L1286.8 2246.3 L1287.3 2246.5 L1287.7 2246.7 L1288.2 2246.9 L1288.5 2247.2 L1288.9 2247.5 L1289.2 2247.7 L1289.4 2248.1 L1289.5 2248.4 L1289.6 2248.7 Z" fill="none" stroke="#000" stroke-width="1.4" />
<path d="M1342.6 2262.5 L1342.6 2262.9 L1342.5 2263.2 L1342.3 2263.5 L1342.1 2263.8 L1341.8 2264.1 L1341.5 2264.4 L1341.1 2264.6 L1340.7 2264.8 L1340.2 2265 L1339.7 2265.2 L1339.2 2265.4 L1338.6 2265.5 L1338 2265.6 L1337.4 2265.6 L1336.8 2265.6 L1336.2 2265.6 L1335.6 2265.6 L1335 2265.5 L1334.5 2265.4 L1333.9 2265.2 L1333.4 2265 L1332.9 2264.8 L1332.5 2264.6 L1332.1 2264.4 L1331.8 2264.1 L1331.5 2263.8 L1331.3 2263.5 L1331.1 2263.2 L1331 2262.9 L1331 2262.5 L1331 2262.2 L1331.1 2261.9 L1331.3 2261.6 L1331.5 2261.3 L1331.8 2261 L1332.1 2260.7 L1332.5 2260.5 L1332.9 2260.2 L1333.4 2260 L1333.9 2259.9 L1334.5 2259.7 L1335 2259.6 L1335.6 2259.5 L1336.2 2259.5 L1336.8 2259.4 L1337.4 2259.5 L1338 2259.5 L1338.6 2259.6 L1339.2 2259.7 L1339.7 2259.9 L1340.2 2260 L1340.7 2260.2 L1341.1 2260.5 L1341.5 2260.7 L1341.8 2261 L1342.1 2261.3 L1342.3 2261.6 L1342.5 2261.9 L1342.6 2262.2 Z" fill="none" stroke="#000" stroke-width="1.4" />
<path d="M1384.4 2283.8 L1384.3 2284.1 L1384.2 2284.4 L1384.1 2284.8 L1383.9 2285.1 L1383.6 2285.3 L1383.3 2285.6 L1382.9 2285.9 L1382.4 2286.1 L1382 2286.3 L1381.5 2286.5 L1380.9 2286.6 L1380.4 2286.7 L1379.8 2286.8 L1379.2 2286.9 L1378.6 2286.9 L1378 2286.9 L1377.4 2286.8 L1376.8 2286.7 L1376.2 2286.6 L1375.7 2286.5 L1375.2 2286.3 L1374.7 2286.1 L1374.3 2285.9 L1373.9 2285.6 L1373.5 2285.3 L1373.3 2285.1 L1373 2284.8 L1372.9 2284.4 L1372.8 2284.1 L1372.8 2283.8 L1372.8 2283.5 L1372.9 2283.2 L1373 2282.8 L1373.3 2282.5 L1373.5 2282.2 L1373.9 2282 L1374.3 2281.7 L1374.7 2281.5 L1375.2 2281.3 L1375.7 2281.1 L1376.2 2281 L1376.8 2280.9 L1377.4 2280.8 L1378 2280.7 L1378.6 2280.7 L1379.2 2280.7 L1379.8 2280.8 L1380.4 2280.9 L1380.9 2281 L1381.5 2281.1 L1382 2281.3 L1382.4 2281.5 L1382.9 2281.7 L1383.3 2282 L1383.6 2282.2 L1383.9 2282.5 L1384.1 2282.8 L1384.2 2283.2 L1384.3 2283.5 Z" fill="none" stroke="#000" stroke-width="1.4" />
<path d="M1408.7 2309.3 L1408.7 2309.6 L1408.6 2310 L1408.4 2310.3 L1408.2 2310.6 L1407.9 2310.9 L1407.6 2311.1 L1407.2 2311.4 L1406.8 2311.6 L1406.3 2311.8 L1405.8 2312 L1405.3 2312.1 L1404.7 2312.2 L1404.1 2312.3 L1403.5 2312.4 L1402.9 2312.4 L1402.3 2312.4 L1401.7 2312.3 L1401.1 2312.2 L1400.6 2312.1 L1400 2312 L1399.5 2311.8 L1399 2311.6 L1398.6 2311.4 L1398.2 2311.1 L1397.9 2310.9 L1397.6 2310.6 L1397.4 2310.3 L1397.2 2310 L1397.1 2309.6 L1397.1 2309.3 L1397.1 2309 L1397.2 2308.7 L1397.4 2308.4 L1397.6 2308.1 L1397.9 2307.8 L1398.2 2307.5 L1398.6 2307.2 L1399 2307 L1399.5 2306.8 L1400 2306.6 L1400.6 2306.5 L1401.1 2306.4 L1401.7 2306.3 L1402.3 2306.2 L1402.9 2306.2 L1403.5 2306.2 L1404.1 2306.3 L1404.7 2306.4 L1405.3 2306.5 L1405.8 2306.6 L1406.3 2306.8 L1406.8 2307 L1407.2 2307.2 L1407.6 2307.5 L1407.9 2307.8 L1408.2 2308.1 L1408.4 2308.4 L1408.6 2308.7 L1408.7 2309 Z" fill="none" stroke="#000" stroke-width="1.4" />
<path d="M1409.5 2339.1 L1409.5 2339.4 L1409.4 2339.7 L1409.2 2340 L1409 2340.3 L1408.7 2340.6 L1408.4 2340.9 L1408 2341.1 L1407.6 2341.4 L1407.1 2341.6 L1406.6 2341.8 L1406 2341.9 L1405.5 2342 L1404.9 2342.1 L1404.3 2342.1 L1403.7 2342.2 L1403.1 2342.1 L1402.5 2342.1 L1401.9 2342 L1401.3 2341.9 L1400.8 2341.8 L1400.3 2341.6 L1399.8 2341.4 L1399.4 2341.1 L1399 2340.9 L1398.7 2340.6 L1398.4 2340.3 L1398.2 2340 L1398 2339.7 L1397.9 2339.4 L1397.9 2339.1 L1397.9 2338.7 L1398 2338.4 L1398.2 2338.1 L1398.4 2337.8 L1398.7 2337.5 L1399 2337.3 L1399.4 2337 L1399.8 2336.8 L1400.3 2336.6 L1400.8 2336.4 L1401.3 2336.2 L1401.9 2336.1 L1402.5 2336 L1403.1 2336 L1403.7 2336 L1404.3 2336 L1404.9 2336 L1405.5 2336.1 L1406 2336.2 L1406.6 2336.4 L1407.1 2336.6 L1407.6 2336.8 L1408 2337 L1408.4 2337.3 L1408.7 2337.5 L1409 2337.8 L1409.2 2338.1 L1409.4 2338.4 L1409.5 2338.7 Z" fill="none" stroke="#000" stroke-width="1.4" />
<path d="M1382.4 2366.9 L1382.4 2367.2 L1382.3 2367.5 L1382.1 2367.9 L1381.9 2368.2 L1381.7 2368.4 L1381.3 2368.7 L1380.9 2369 L1380.5 2369.2 L1380 2369.4 L1379.5 2369.6 L1379 2369.7 L1378.4 2369.8 L1377.8 2369.9 L1377.2 2370 L1376.6 2370 L1376 2370 L1375.4 2369.9 L1374.8 2369.8 L1374.3 2369.7 L1373.7 2369.6 L1373.2 2369.4 L1372.7 2369.2 L1372.3 2369 L1371.9 2368.7 L1371.6 2368.4 L1371.3 2368.2 L1371.1 2367.9 L1371 2367.5 L1370.9 2367.2 L1370.8 2366.9 L1370.9 2366.6 L1371 2366.3 L1371.1 2365.9 L1371.3 2365.6 L1371.6 2365.4 L1371.9 2365.1 L1372.3 2364.8 L1372.7 2364.6 L1373.2 2364.4 L1373.7 2364.2 L1374.3 2364.1 L1374.8 2364 L1375.4 2363.9 L1376 2363.8 L1376.6 2363.8 L1377.2 2363.8 L1377.8 2363.9 L1378.4 2364 L1379 2364.1 L1379.5 2364.2 L1380 2364.4 L1380.5 2364.6 L1380.9 2364.8 L1381.3 2365.1 L1381.7 2365.4 L1381.9 2365.6 L1382.1 2365.9 L1382.3 2366.3 L1382.4 2366.6 Z" fill="none" stroke="#000" stroke-width="1.4" />
<path d="M1330.2 2386.6 L1330.2 2386.9 L1330.1 2387.3 L1330 2387.6 L1329.7 2387.9 L1329.5 2388.2 L1329.1 2388.4 L1328.8 2388.7 L1328.3 2388.9 L1327.9 2389.1 L1327.3 2389.3 L1326.8 2389.4 L1326.2 2389.6 L1325.7 2389.6 L1325.1 2389.7 L1324.4 2389.7 L1323.8 2389.7 L1323.2 2389.6 L1322.7 2389.6 L1322.1 2389.4 L1321.5 2389.3 L1321 2389.1 L1320.6 2388.9 L1320.1 2388.7 L1319.8 2388.4 L1319.4 2388.2 L1319.1 2387.9 L1318.9 2387.6 L1318.8 2387.3 L1318.7 2386.9 L1318.6 2386.6 L1318.7 2386.3 L1318.8 2386 L1318.9 2385.7 L1319.1 2385.4 L1319.4 2385.1 L1319.8 2384.8 L1320.1 2384.5 L1320.6 2384.3 L1321 2384.1 L1321.5 2383.9 L1322.1 2383.8 L1322.7 2383.7 L1323.2 2383.6 L1323.8 2383.5 L1324.4 2383.5 L1325.1 2383.5 L1325.7 2383.6 L1326.2 2383.7 L1326.8 2383.8 L1327.3 2383.9 L1327.9 2384.1 L1328.3 2384.3 L1328.8 2384.5 L1329.1 2384.8 L1329.5 2385.1 L1329.7 2385.4 L1330 2385.7 L1330.1 2386 L1330.2 2386.3 Z" fill="none" stroke="#000" stroke-width="1.4" />
<path d="M1258.7 2394.3 L1258.7 2394.7 L1258.6 2395 L1258.4 2395.3 L1258.2 2395.6 L1258 2395.9 L1257.6 2396.2 L1257.2 2396.4 L1256.8 2396.6 L1256.3 2396.9 L1255.8 2397 L1255.3 2397.2 L1254.7 2397.3 L1254.1 2397.4 L1253.5 2397.4 L1252.9 2397.4 L1252.3 2397.4 L1251.7 2397.4 L1251.1 2397.3 L1250.6 2397.2 L1250 2397 L1249.5 2396.9 L1249.1 2396.6 L1248.6 2396.4 L1248.2 2396.2 L1247.9 2395.9 L1247.6 2395.6 L1247.4 2395.3 L1247.3 2395 L1247.2 2394.7 L1247.1 2394.3 L1247.2 2394 L1247.3 2393.7 L1247.4 2393.4 L1247.6 2393.1 L1247.9 2392.8 L1248.2 2392.5 L1248.6 2392.3 L1249.1 2392.1 L1249.5 2391.8 L1250 2391.7 L1250.6 2391.5 L1251.1 2391.4 L1251.7 2391.3 L1252.3 2391.3 L1252.9 2391.3 L1253.5 2391.3 L1254.1 2391.3 L1254.7 2391.4 L1255.3 2391.5 L1255.8 2391.7 L1256.3 2391.8 L1256.8 2392.1 L1257.2 2392.3 L1257.6 2392.5 L1258 2392.8 L1258.2 2393.1 L1258.4 2393.4 L1258.6 2393.7 L1258.7 2394 Z" fill="none" stroke="#000" stroke-width="1.4" />
<path d="M1184.5 2387.4 L1184.5 2387.7 L1184.4 2388 L1184.2 2388.3 L1184 2388.6 L1183.7 2388.9 L1183.4 2389.2 L1183 2389.5 L1182.6 2389.7 L1182.1 2389.9 L1181.6 2390.1 L1181.1 2390.2 L1180.5 2390.3 L1179.9 2390.4 L1179.3 2390.5 L1178.7 2390.5 L1178.1 2390.5 L1177.5 2390.4 L1176.9 2390.3 L1176.4 2390.2 L1175.8 2390.1 L1175.3 2389.9 L1174.8 2389.7 L1174.4 2389.5 L1174 2389.2 L1173.7 2388.9 L1173.4 2388.6 L1173.2 2388.3 L1173 2388 L1173 2387.7 L1172.9 2387.4 L1173 2387.1 L1173 2386.7 L1173.2 2386.4 L1173.4 2386.1 L1173.7 2385.8 L1174 2385.6 L1174.4 2385.3 L1174.8 2385.1 L1175.3 2384.9 L1175.8 2384.7 L1176.4 2384.6 L1176.9 2384.4 L1177.5 2384.4 L1178.1 2384.3 L1178.7 2384.3 L1179.3 2384.3 L1179.9 2384.4 L1180.5 2384.4 L1181.1 2384.6 L1181.6 2384.7 L1182.1 2384.9 L1182.6 2385.1 L1183 2385.3 L1183.4 2385.6 L1183.7 2385.8 L1184 2386.1 L1184.2 2386.4 L1184.4 2386.7 L1184.5 2387.1 Z" fill="none" stroke="#000" stroke-width="1.4" />
<path d="M1121.5 2368.1 L1121.5 2368.4 L1121.4 2368.7 L1121.2 2369 L1121 2369.3 L1120.7 2369.6 L1120.4 2369.9 L1120 2370.1 L1119.6 2370.4 L1119.1 2370.6 L1118.6 2370.7 L1118.1 2370.9 L1117.5 2371 L1116.9 2371.1 L1116.3 2371.1 L1115.7 2371.2 L1115.1 2371.1 L1114.5 2371.1 L1113.9 2371 L1113.4 2370.9 L1112.8 2370.7 L1112.3 2370.6 L1111.8 2370.4 L1111.4 2370.1 L1111 2369.9 L1110.7 2369.6 L1110.4 2369.3 L1110.2 2369 L1110 2368.7 L1109.9 2368.4 L1109.9 2368.1 L1109.9 2367.7 L1110 2367.4 L1110.2 2367.1 L1110.4 2366.8 L1110.7 2366.5 L1111 2366.2 L1111.4 2366 L1111.8 2365.8 L1112.3 2365.6 L1112.8 2365.4 L1113.4 2365.2 L1113.9 2365.1 L1114.5 2365 L1115.1 2365 L1115.7 2365 L1116.3 2365 L1116.9 2365 L1117.5 2365.1 L1118.1 2365.2 L1118.6 2365.4 L1119.1 2365.6 L1119.6 2365.8 L1120 2366 L1120.4 2366.2 L1120.7 2366.5 L1121 2366.8 L1121.2 2367.1 L1121.4 2367.4 L1121.5 2367.7 Z" fill="none" stroke="#000" stroke-width="1.4" />
<path d="M1083.6 2339.5 L1083.6 2339.8 L1083.5 2340.1 L1083.3 2340.4 L1083.1 2340.7 L1082.8 2341 L1082.5 2341.3 L1082.1 2341.5 L1081.7 2341.8 L1081.2 2342 L1080.7 2342.1 L1080.2 2342.3 L1079.6 2342.4 L1079 2342.5 L1078.4 2342.5 L1077.8 2342.6 L1077.2 2342.5 L1076.6 2342.5 L1076 2342.4 L1075.5 2342.3 L1074.9 2342.1 L1074.4 2342 L1073.9 2341.8 L1073.5 2341.5 L1073.1 2341.3 L1072.8 2341 L1072.5 2340.7 L1072.3 2340.4 L1072.2 2340.1 L1072.1 2339.8 L1072 2339.5 L1072.1 2339.1 L1072.2 2338.8 L1072.3 2338.5 L1072.5 2338.2 L1072.8 2337.9 L1073.1 2337.6 L1073.5 2337.4 L1073.9 2337.2 L1074.4 2337 L1074.9 2336.8 L1075.5 2336.6 L1076 2336.5 L1076.6 2336.4 L1077.2 2336.4 L1077.8 2336.4 L1078.4 2336.4 L1079 2336.4 L1079.6 2336.5 L1080.2 2336.6 L1080.7 2336.8 L1081.2 2337 L1081.7 2337.2 L1082.1 2337.4 L1082.5 2337.6 L1082.8 2337.9 L1083.1 2338.2 L1083.3 2338.5 L1083.5 2338.8 L1083.6 2339.1 Z" fill="none" stroke="#000" stroke-width="1.4" />
<path d="M1072.4 2308.9 L1072.4 2309.2 L1072.3 2309.6 L1072.1 2309.9 L1071.9 2310.2 L1071.6 2310.5 L1071.3 2310.7 L1070.9 2311 L1070.5 2311.2 L1070 2311.4 L1069.5 2311.6 L1069 2311.7 L1068.4 2311.9 L1067.8 2311.9 L1067.2 2312 L1066.6 2312 L1066 2312 L1065.4 2311.9 L1064.8 2311.9 L1064.3 2311.7 L1063.7 2311.6 L1063.2 2311.4 L1062.7 2311.2 L1062.3 2311 L1061.9 2310.7 L1061.6 2310.5 L1061.3 2310.2 L1061.1 2309.9 L1060.9 2309.6 L1060.9 2309.2 L1060.8 2308.9 L1060.9 2308.6 L1060.9 2308.3 L1061.1 2308 L1061.3 2307.7 L1061.6 2307.4 L1061.9 2307.1 L1062.3 2306.9 L1062.7 2306.6 L1063.2 2306.4 L1063.7 2306.2 L1064.3 2306.1 L1064.8 2306 L1065.4 2305.9 L1066 2305.8 L1066.6 2305.8 L1067.2 2305.8 L1067.8 2305.9 L1068.4 2306 L1069 2306.1 L1069.5 2306.2 L1070 2306.4 L1070.5 2306.6 L1070.9 2306.9 L1071.3 2307.1 L1071.6 2307.4 L1071.9 2307.7 L1072.1 2308 L1072.3 2308.3 L1072.4 2308.6 Z" fill="none" stroke="#000" stroke-width="1.4" />
<path d="M1088.7 2281.9 L1088.6 2282.2 L1088.5 2282.5 L1088.4 2282.8 L1088.1 2283.1 L1087.9 2283.4 L1087.5 2283.7 L1087.2 2283.9 L1086.7 2284.2 L1086.3 2284.4 L1085.8 2284.5 L1085.2 2284.7 L1084.6 2284.8 L1084.1 2284.9 L1083.5 2284.9 L1082.9 2285 L1082.2 2284.9 L1081.6 2284.9 L1081.1 2284.8 L1080.5 2284.7 L1080 2284.5 L1079.4 2284.4 L1079 2284.2 L1078.5 2283.9 L1078.2 2283.7 L1077.8 2283.4 L1077.6 2283.1 L1077.3 2282.8 L1077.2 2282.5 L1077.1 2282.2 L1077.1 2281.9 L1077.1 2281.5 L1077.2 2281.2 L1077.3 2280.9 L1077.6 2280.6 L1077.8 2280.3 L1078.2 2280 L1078.5 2279.8 L1079 2279.6 L1079.4 2279.4 L1080 2279.2 L1080.5 2279 L1081.1 2278.9 L1081.6 2278.8 L1082.2 2278.8 L1082.9 2278.8 L1083.5 2278.8 L1084.1 2278.8 L1084.6 2278.9 L1085.2 2279 L1085.8 2279.2 L1086.3 2279.4 L1086.7 2279.6 L1087.2 2279.8 L1087.5 2280 L1087.9 2280.3 L1088.1 2280.6 L1088.4 2280.9 L1088.5 2281.2 L1088.6 2281.5 Z" fill="none" stroke="#000" stroke-width="1.4" />
<path d="M1124.6 2260.6 L1124.6 2260.9 L1124.5 2261.2 L1124.3 2261.6 L1124.1 2261.9 L1123.8 2262.1 L1123.5 2262.4 L1123.1 2262.7 L1122.7 2262.9 L1122.2 2263.1 L1121.7 2263.3 L1121.2 2263.4 L1120.6 2263.5 L1120 2263.6 L1119.4 2263.7 L1118.8 2263.7 L1118.2 2263.7 L1117.6 2263.6 L1117 2263.5 L1116.4 2263.4 L1115.9 2263.3 L1115.4 2263.1 L1114.9 2262.9 L1114.5 2262.7 L1114.1 2262.4 L1113.8 2262.1 L1113.5 2261.9 L1113.3 2261.6 L1113.1 2261.2 L1113 2260.9 L1113 2260.6 L1113 2260.3 L1113.1 2260 L1113.3 2259.6 L1113.5 2259.3 L1113.8 2259.1 L1114.1 2258.8 L1114.5 2258.5 L1114.9 2258.3 L1115.4 2258.1 L1115.9 2257.9 L1116.4 2257.8 L1117 2257.7 L1117.6 2257.6 L1118.2 2257.5 L1118.8 2257.5 L1119.4 2257.5 L1120 2257.6 L1120.6 2257.7 L1121.2 2257.8 L1121.7 2257.9 L1122.2 2258.1 L1122.7 2258.3 L1123.1 2258.5 L1123.5 2258.8 L1123.8 2259.1 L1124.1 2259.3 L1124.3 2259.6 L1124.5 2260 L1124.6 2260.3 Z" fill="none" stroke="#000" stroke-width="1.4" />
<path d="M1195.7 2300.4 L1195.7 2300.7 L1195.6 2301.1 L1195.4 2301.4 L1195.2 2301.7 L1194.9 2302 L1194.6 2302.2 L1194.2 2302.5 L1193.8 2302.7 L1193.3 2302.9 L1192.8 2303.1 L1192.3 2303.2 L1191.7 2303.4 L1191.1 2303.4 L1190.5 2303.5 L1189.9 2303.5 L1189.3 2303.5 L1188.7 2303.4 L1188.1 2303.4 L1187.6 2303.2 L1187 2303.1 L1186.5 2302.9 L1186 2302.7 L1185.6 2302.5 L1185.2 2302.2 L1184.9 2302 L1184.6 2301.7 L1184.4 2301.4 L1184.3 2301.1 L1184.2 2300.7 L1184.1 2300.4 L1184.2 2300.1 L1184.3 2299.8 L1184.4 2299.5 L1184.6 2299.2 L1184.9 2298.9 L1185.2 2298.6 L1185.6 2298.3 L1186 2298.1 L1186.5 2297.9 L1187 2297.7 L1187.6 2297.6 L1188.1 2297.5 L1188.7 2297.4 L1189.3 2297.3 L1189.9 2297.3 L1190.5 2297.3 L1191.1 2297.4 L1191.7 2297.5 L1192.3 2297.6 L1192.8 2297.7 L1193.3 2297.9 L1193.8 2298.1 L1194.2 2298.3 L1194.6 2298.6 L1194.9 2298.9 L1195.2 2299.2 L1195.4 2299.5 L1195.6 2299.8 L1195.7 2300.1 Z" fill="none" stroke="#000" stroke-width="1.4" />
<path d="M1163.3 2310.1 L1163.2 2310.4 L1163.1 2310.7 L1163 2311 L1162.8 2311.3 L1162.5 2311.6 L1162.1 2311.9 L1161.8 2312.2 L1161.3 2312.4 L1160.9 2312.6 L1160.4 2312.8 L1159.8 2312.9 L1159.2 2313 L1158.7 2313.1 L1158.1 2313.2 L1157.5 2313.2 L1156.9 2313.2 L1156.3 2313.1 L1155.7 2313 L1155.1 2312.9 L1154.6 2312.8 L1154 2312.6 L1153.6 2312.4 L1153.1 2312.2 L1152.8 2311.9 L1152.4 2311.6 L1152.2 2311.3 L1151.9 2311 L1151.8 2310.7 L1151.7 2310.4 L1151.7 2310.1 L1151.7 2309.8 L1151.8 2309.4 L1151.9 2309.1 L1152.2 2308.8 L1152.4 2308.5 L1152.8 2308.3 L1153.1 2308 L1153.6 2307.8 L1154 2307.6 L1154.6 2307.4 L1155.1 2307.3 L1155.7 2307.1 L1156.3 2307.1 L1156.9 2307 L1157.5 2307 L1158.1 2307 L1158.7 2307.1 L1159.2 2307.1 L1159.8 2307.3 L1160.4 2307.4 L1160.9 2307.6 L1161.3 2307.8 L1161.8 2308 L1162.1 2308.3 L1162.5 2308.5 L1162.8 2308.8 L1163 2309.1 L1163.1 2309.4 L1163.2 2309.8 Z" fill="none" stroke="#000" stroke-width="1.4" />
<path d="M1234.8 2334 L1234.7 2334.4 L1234.6 2334.7 L1234.5 2335 L1234.3 2335.3 L1234 2335.6 L1233.7 2335.9 L1233.3 2336.1 L1232.8 2336.3 L1232.4 2336.5 L1231.9 2336.7 L1231.3 2336.9 L1230.8 2337 L1230.2 2337.1 L1229.6 2337.1 L1229 2337.1 L1228.4 2337.1 L1227.8 2337.1 L1227.2 2337 L1226.6 2336.9 L1226.1 2336.7 L1225.6 2336.5 L1225.1 2336.3 L1224.7 2336.1 L1224.3 2335.9 L1223.9 2335.6 L1223.7 2335.3 L1223.5 2335 L1223.3 2334.7 L1223.2 2334.4 L1223.2 2334 L1223.2 2333.7 L1223.3 2333.4 L1223.5 2333.1 L1223.7 2332.8 L1223.9 2332.5 L1224.3 2332.2 L1224.7 2332 L1225.1 2331.7 L1225.6 2331.5 L1226.1 2331.4 L1226.6 2331.2 L1227.2 2331.1 L1227.8 2331 L1228.4 2331 L1229 2331 L1229.6 2331 L1230.2 2331 L1230.8 2331.1 L1231.3 2331.2 L1231.9 2331.4 L1232.4 2331.5 L1232.8 2331.7 L1233.3 2332 L1233.7 2332.2 L1234 2332.5 L1234.3 2332.8 L1234.5 2333.1 L1234.6 2333.4 L1234.7 2333.7 Z" fill="none" stroke="#000" stroke-width="1.4" />
<path d="M1201.9 2344.1 L1201.9 2344.4 L1201.8 2344.7 L1201.6 2345.1 L1201.4 2345.4 L1201.1 2345.6 L1200.8 2345.9 L1200.4 2346.2 L1200 2346.4 L1199.5 2346.6 L1199 2346.8 L1198.5 2346.9 L1197.9 2347 L1197.3 2347.1 L1196.7 2347.2 L1196.1 2347.2 L1195.5 2347.2 L1194.9 2347.1 L1194.3 2347 L1193.8 2346.9 L1193.2 2346.8 L1192.7 2346.6 L1192.2 2346.4 L1191.8 2346.2 L1191.4 2345.9 L1191.1 2345.6 L1190.8 2345.4 L1190.6 2345.1 L1190.4 2344.7 L1190.3 2344.4 L1190.3 2344.1 L1190.3 2343.8 L1190.4 2343.5 L1190.6 2343.1 L1190.8 2342.8 L1191.1 2342.6 L1191.4 2342.3 L1191.8 2342 L1192.2 2341.8 L1192.7 2341.6 L1193.2 2341.4 L1193.8 2341.3 L1194.3 2341.2 L1194.9 2341.1 L1195.5 2341 L1196.1 2341 L1196.7 2341 L1197.3 2341.1 L1197.9 2341.2 L1198.5 2341.3 L1199 2341.4 L1199.5 2341.6 L1200 2341.8 L1200.4 2342 L1200.8 2342.3 L1201.1 2342.6 L1201.4 2342.8 L1201.6 2343.1 L1201.8 2343.5 L1201.9 2343.8 Z" fill="none" stroke="#000" stroke-width="1.4" />
<path d="M1316.7 2288.8 L1316.7 2289.1 L1316.6 2289.5 L1316.4 2289.8 L1316.2 2290.1 L1315.9 2290.4 L1315.6 2290.6 L1315.2 2290.9 L1314.8 2291.1 L1314.3 2291.3 L1313.8 2291.5 L1313.3 2291.6 L1312.7 2291.8 L1312.1 2291.8 L1311.5 2291.9 L1310.9 2291.9 L1310.3 2291.9 L1309.7 2291.8 L1309.1 2291.8 L1308.6 2291.6 L1308 2291.5 L1307.5 2291.3 L1307 2291.1 L1306.6 2290.9 L1306.2 2290.6 L1305.9 2290.4 L1305.6 2290.1 L1305.4 2289.8 L1305.2 2289.5 L1305.1 2289.1 L1305.1 2288.8 L1305.1 2288.5 L1305.2 2288.2 L1305.4 2287.9 L1305.6 2287.6 L1305.9 2287.3 L1306.2 2287 L1306.6 2286.8 L1307 2286.5 L1307.5 2286.3 L1308 2286.1 L1308.6 2286 L1309.1 2285.9 L1309.7 2285.8 L1310.3 2285.7 L1310.9 2285.7 L1311.5 2285.7 L1312.1 2285.8 L1312.7 2285.9 L1313.3 2286 L1313.8 2286.1 L1314.3 2286.3 L1314.8 2286.5 L1315.2 2286.8 L1315.6 2287 L1315.9 2287.3 L1316.2 2287.6 L1316.4 2287.9 L1316.6 2288.2 L1316.7 2288.5 Z" fill="none" stroke="#000" stroke-width="1.4" />
<path d="M1247.1 2274.5 L1247 2275.7 L1246.6 2276.8 L1245.9 2277.9 L1245 2278.9 L1243.8 2279.9 L1242.3 2280.9 L1240.7 2281.8 L1238.8 2282.6 L1236.8 2283.3 L1234.6 2283.9 L1232.2 2284.4 L1229.8 2284.8 L1227.2 2285.1 L1224.6 2285.3 L1222 2285.3 L1219.4 2285.3 L1216.8 2285.1 L1214.2 2284.8 L1211.8 2284.4 L1209.4 2283.9 L1207.2 2283.3 L1205.2 2282.6 L1203.3 2281.8 L1201.7 2280.9 L1200.3 2279.9 L1199.1 2278.9 L1198.1 2277.9 L1197.4 2276.8 L1197 2275.7 L1196.9 2274.5 L1197 2273.4 L1197.4 2272.3 L1198.1 2271.2 L1199.1 2270.1 L1200.3 2269.1 L1201.7 2268.2 L1203.3 2267.3 L1205.2 2266.5 L1207.2 2265.8 L1209.4 2265.1 L1211.8 2264.6 L1214.2 2264.2 L1216.8 2263.9 L1219.4 2263.8 L1222 2263.7 L1224.6 2263.8 L1227.2 2263.9 L1229.8 2264.2 L1232.2 2264.6 L1234.6 2265.1 L1236.8 2265.8 L1238.8 2266.5 L1240.7 2267.3 L1242.3 2268.2 L1243.8 2269.1 L1245 2270.1 L1245.9 2271.2 L1246.6 2272.3 L1247 2273.4 Z" fill="none" stroke="#000" stroke-width="1.4" />
<path d="M1238.2 2276.1 L1238.2 2276.7 L1237.9 2277.4 L1237.5 2278 L1236.8 2278.6 L1236.1 2279.2 L1235.1 2279.7 L1234.1 2280.2 L1232.9 2280.7 L1231.6 2281.1 L1230.1 2281.4 L1228.6 2281.7 L1227 2281.9 L1225.4 2282.1 L1223.7 2282.2 L1222 2282.2 L1220.3 2282.2 L1218.6 2282.1 L1217 2281.9 L1215.4 2281.7 L1213.9 2281.4 L1212.5 2281.1 L1211.1 2280.7 L1209.9 2280.2 L1208.9 2279.7 L1208 2279.2 L1207.2 2278.6 L1206.6 2278 L1206.1 2277.4 L1205.9 2276.7 L1205.8 2276.1 L1205.9 2275.4 L1206.1 2274.8 L1206.6 2274.2 L1207.2 2273.5 L1208 2273 L1208.9 2272.4 L1209.9 2271.9 L1211.1 2271.5 L1212.5 2271.1 L1213.9 2270.7 L1215.4 2270.4 L1217 2270.2 L1218.6 2270 L1220.3 2269.9 L1222 2269.9 L1223.7 2269.9 L1225.4 2270 L1227 2270.2 L1228.6 2270.4 L1230.1 2270.7 L1231.6 2271.1 L1232.9 2271.5 L1234.1 2271.9 L1235.1 2272.4 L1236.1 2273 L1236.8 2273.5 L1237.5 2274.2 L1237.9 2274.8 L1238.2 2275.4 Z" fill="none" stroke="#000" stroke-width="1.4" />
<path d="M1162.1 2321.7 C1163.7 2318.8 1168.2 2314.1 1175.6 2312 C1183 2309.9 1198.5 2308 1206.5 2308.9 C1214.6 2309.9 1221.4 2314.4 1223.9 2317.8 C1226.5 2321.2 1225.6 2326.5 1222 2329.4 C1218.5 2332.3 1208.5 2333.9 1202.7 2335.2 C1196.9 2336.5 1191.7 2336.3 1187.2 2337.1 C1182.7 2338 1179.2 2341.5 1175.6 2340.2 C1172.1 2338.9 1168.2 2332.5 1166 2329.4 C1163.7 2326.3 1160.5 2324.6 1162.1 2321.7 Z" fill="none" stroke="#000" stroke-width="1.4" />
<path d="M1108 2491.8 C1111.8 2487.6 1128.9 2480.8 1137 2478.2 C1145 2475.7 1147.3 2474.7 1156.3 2476.3 C1165.3 2477.9 1182.7 2484 1191.1 2487.9 C1199.5 2491.8 1203.6 2496.4 1206.5 2499.5 C1209.4 2502.6 1210.4 2504.5 1208.5 2506.4 C1206.5 2508.4 1197.9 2508.4 1195 2511.1 C1192.1 2513.8 1196.9 2519.5 1191.1 2522.7 C1185.3 2525.9 1167.2 2529.8 1160.2 2530.4 C1153.1 2531.1 1152.4 2528.2 1148.6 2526.5 C1144.7 2524.9 1142.8 2524.6 1137 2520.7 C1131.2 2516.9 1118.6 2508.2 1113.8 2503.4 C1108.9 2498.5 1104.1 2495.9 1108 2491.8 Z" fill="none" stroke="#000" stroke-width="1.4" />
<path d="M1129.2 2497.6 C1130.5 2494 1138.3 2489.5 1144.7 2487.9 C1151.1 2486.3 1160.8 2486 1167.9 2487.9 C1175 2489.8 1184.6 2495.6 1187.2 2499.5 C1189.8 2503.4 1187.2 2508.8 1183.4 2511.1 C1179.5 2513.3 1169.2 2512.1 1164 2513 C1158.9 2514 1156.9 2517.5 1152.4 2516.9 C1147.9 2516.2 1140.8 2512.4 1137 2509.2 C1133.1 2505.9 1128 2501.1 1129.2 2497.6 Z" fill="none" stroke="#000" stroke-width="1" />
<path d="M1124.2 2493.7 L1124.2 2494.1 L1124.1 2494.4 L1123.9 2494.8 L1123.7 2495.1 L1123.5 2495.4 L1123.2 2495.7 L1122.8 2496 L1122.4 2496.3 L1122 2496.5 L1121.5 2496.7 L1121 2496.9 L1120.5 2497 L1119.9 2497.1 L1119.4 2497.2 L1118.8 2497.2 L1118.2 2497.2 L1117.7 2497.1 L1117.1 2497 L1116.6 2496.9 L1116.1 2496.7 L1115.6 2496.5 L1115.2 2496.3 L1114.8 2496 L1114.4 2495.7 L1114.1 2495.4 L1113.9 2495.1 L1113.7 2494.8 L1113.5 2494.4 L1113.4 2494.1 L1113.4 2493.7 L1113.4 2493.3 L1113.5 2493 L1113.7 2492.6 L1113.9 2492.3 L1114.1 2492 L1114.4 2491.6 L1114.8 2491.4 L1115.2 2491.1 L1115.6 2490.9 L1116.1 2490.7 L1116.6 2490.5 L1117.1 2490.4 L1117.7 2490.3 L1118.2 2490.2 L1118.8 2490.2 L1119.4 2490.2 L1119.9 2490.3 L1120.5 2490.4 L1121 2490.5 L1121.5 2490.7 L1122 2490.9 L1122.4 2491.1 L1122.8 2491.4 L1123.2 2491.6 L1123.5 2492 L1123.7 2492.3 L1123.9 2492.6 L1124.1 2493 L1124.2 2493.3 Z" fill="none" stroke="#000" stroke-width="1" />
<path d="M1146.2 2482.9 L1146.2 2483.2 L1146.1 2483.6 L1146 2483.9 L1145.8 2484.3 L1145.5 2484.6 L1145.2 2484.9 L1144.9 2485.2 L1144.5 2485.5 L1144 2485.7 L1143.5 2485.9 L1143 2486 L1142.5 2486.2 L1142 2486.3 L1141.4 2486.3 L1140.8 2486.3 L1140.3 2486.3 L1139.7 2486.3 L1139.2 2486.2 L1138.6 2486 L1138.1 2485.9 L1137.7 2485.7 L1137.2 2485.5 L1136.8 2485.2 L1136.5 2484.9 L1136.1 2484.6 L1135.9 2484.3 L1135.7 2483.9 L1135.5 2483.6 L1135.5 2483.2 L1135.4 2482.9 L1135.5 2482.5 L1135.5 2482.1 L1135.7 2481.8 L1135.9 2481.5 L1136.1 2481.1 L1136.5 2480.8 L1136.8 2480.5 L1137.2 2480.3 L1137.7 2480.1 L1138.1 2479.9 L1138.6 2479.7 L1139.2 2479.6 L1139.7 2479.5 L1140.3 2479.4 L1140.8 2479.4 L1141.4 2479.4 L1142 2479.5 L1142.5 2479.6 L1143 2479.7 L1143.5 2479.9 L1144 2480.1 L1144.5 2480.3 L1144.9 2480.5 L1145.2 2480.8 L1145.5 2481.1 L1145.8 2481.5 L1146 2481.8 L1146.1 2482.1 L1146.2 2482.5 Z" fill="none" stroke="#000" stroke-width="1" />
<path d="M1199.6 2502.6 L1199.6 2502.9 L1199.5 2503.3 L1199.3 2503.7 L1199.1 2504 L1198.9 2504.3 L1198.6 2504.6 L1198.2 2504.9 L1197.8 2505.2 L1197.4 2505.4 L1196.9 2505.6 L1196.4 2505.8 L1195.9 2505.9 L1195.3 2506 L1194.7 2506 L1194.2 2506.1 L1193.6 2506 L1193.1 2506 L1192.5 2505.9 L1192 2505.8 L1191.5 2505.6 L1191 2505.4 L1190.6 2505.2 L1190.2 2504.9 L1189.8 2504.6 L1189.5 2504.3 L1189.2 2504 L1189 2503.7 L1188.9 2503.3 L1188.8 2502.9 L1188.8 2502.6 L1188.8 2502.2 L1188.9 2501.9 L1189 2501.5 L1189.2 2501.2 L1189.5 2500.8 L1189.8 2500.5 L1190.2 2500.3 L1190.6 2500 L1191 2499.8 L1191.5 2499.6 L1192 2499.4 L1192.5 2499.3 L1193.1 2499.2 L1193.6 2499.1 L1194.2 2499.1 L1194.7 2499.1 L1195.3 2499.2 L1195.9 2499.3 L1196.4 2499.4 L1196.9 2499.6 L1197.4 2499.8 L1197.8 2500 L1198.2 2500.3 L1198.6 2500.5 L1198.9 2500.8 L1199.1 2501.2 L1199.3 2501.5 L1199.5 2501.9 L1199.6 2502.2 Z" fill="none" stroke="#000" stroke-width="1" />
<path d="M1179.1 2516.9 L1179.1 2517.2 L1179 2517.6 L1178.8 2518 L1178.6 2518.3 L1178.4 2518.6 L1178.1 2518.9 L1177.7 2519.2 L1177.3 2519.5 L1176.9 2519.7 L1176.4 2519.9 L1175.9 2520.1 L1175.4 2520.2 L1174.8 2520.3 L1174.3 2520.3 L1173.7 2520.4 L1173.1 2520.3 L1172.6 2520.3 L1172 2520.2 L1171.5 2520.1 L1171 2519.9 L1170.5 2519.7 L1170.1 2519.5 L1169.7 2519.2 L1169.3 2518.9 L1169 2518.6 L1168.7 2518.3 L1168.5 2518 L1168.4 2517.6 L1168.3 2517.2 L1168.3 2516.9 L1168.3 2516.5 L1168.4 2516.2 L1168.5 2515.8 L1168.7 2515.5 L1169 2515.1 L1169.3 2514.8 L1169.7 2514.6 L1170.1 2514.3 L1170.5 2514.1 L1171 2513.9 L1171.5 2513.7 L1172 2513.6 L1172.6 2513.5 L1173.1 2513.4 L1173.7 2513.4 L1174.3 2513.4 L1174.8 2513.5 L1175.4 2513.6 L1175.9 2513.7 L1176.4 2513.9 L1176.9 2514.1 L1177.3 2514.3 L1177.7 2514.6 L1178.1 2514.8 L1178.4 2515.1 L1178.6 2515.5 L1178.8 2515.8 L1179 2516.2 L1179.1 2516.5 Z" fill="none" stroke="#000" stroke-width="1" />
<path d="M1307.8 2489.8 L1307.7 2490.5 L1307.4 2491.1 L1306.8 2491.7 L1306.1 2492.3 L1305.1 2492.9 L1304 2493.5 L1302.7 2494 L1301.2 2494.4 L1299.5 2494.8 L1297.8 2495.2 L1295.9 2495.5 L1293.9 2495.7 L1291.9 2495.9 L1289.8 2496 L1287.7 2496 L1285.6 2496 L1283.5 2495.9 L1281.5 2495.7 L1279.5 2495.5 L1277.7 2495.2 L1275.9 2494.8 L1274.3 2494.4 L1272.8 2494 L1271.5 2493.5 L1270.3 2492.9 L1269.4 2492.3 L1268.6 2491.7 L1268.1 2491.1 L1267.7 2490.5 L1267.6 2489.8 L1267.7 2489.2 L1268.1 2488.5 L1268.6 2487.9 L1269.4 2487.3 L1270.3 2486.7 L1271.5 2486.2 L1272.8 2485.7 L1274.3 2485.2 L1275.9 2484.8 L1277.7 2484.5 L1279.5 2484.2 L1281.5 2483.9 L1283.5 2483.8 L1285.6 2483.7 L1287.7 2483.6 L1289.8 2483.7 L1291.9 2483.8 L1293.9 2483.9 L1295.9 2484.2 L1297.8 2484.5 L1299.5 2484.8 L1301.2 2485.2 L1302.7 2485.7 L1304 2486.2 L1305.1 2486.7 L1306.1 2487.3 L1306.8 2487.9 L1307.4 2488.5 L1307.7 2489.2 Z" fill="none" stroke="#000" stroke-width="1.3" />
<path d="M1276.1 2476.3 L1299.3 2476.3 L1297.4 2486" fill="none" stroke="#000" stroke-width="1" />
<path d="M1278.1 2493.7 L1278.1 2524.6 L1303.2 2524.6 L1303.2 2493.7" fill="none" stroke="#000" stroke-width="1" />
<path d="M1289.7 2495.6 L1289.7 2524.6" fill="none" stroke="#000" stroke-width="1" />
<path d="M1299.3 2501.4 L1312.8 2499.5 L1326.4 2497.6" fill="none" stroke="#000" stroke-width="1" />
<path d="M1299.3 2513 L1312.8 2511.9 L1326.4 2511.1" fill="none" stroke="#000" stroke-width="1" />
<path d="M1334.5 2504.5 L1334.5 2505.2 L1334.4 2506 L1334.2 2506.7 L1334 2507.3 L1333.8 2508 L1333.5 2508.6 L1333.1 2509.2 L1332.7 2509.7 L1332.3 2510.1 L1331.8 2510.5 L1331.3 2510.9 L1330.8 2511.1 L1330.2 2511.3 L1329.6 2511.4 L1329.1 2511.5 L1328.5 2511.4 L1328 2511.3 L1327.4 2511.1 L1326.9 2510.9 L1326.4 2510.5 L1325.9 2510.1 L1325.5 2509.7 L1325.1 2509.2 L1324.7 2508.6 L1324.4 2508 L1324.1 2507.3 L1323.9 2506.7 L1323.8 2506 L1323.7 2505.2 L1323.7 2504.5 L1323.7 2503.8 L1323.8 2503.1 L1323.9 2502.4 L1324.1 2501.7 L1324.4 2501 L1324.7 2500.4 L1325.1 2499.9 L1325.5 2499.3 L1325.9 2498.9 L1326.4 2498.5 L1326.9 2498.2 L1327.4 2497.9 L1328 2497.7 L1328.5 2497.6 L1329.1 2497.6 L1329.6 2497.6 L1330.2 2497.7 L1330.8 2497.9 L1331.3 2498.2 L1331.8 2498.5 L1332.3 2498.9 L1332.7 2499.3 L1333.1 2499.9 L1333.5 2500.4 L1333.8 2501 L1334 2501.7 L1334.2 2502.4 L1334.4 2503.1 L1334.5 2503.8 Z" fill="none" stroke="#000" stroke-width="1.4" />
<path d="M1331.8 2504.5 L1331.8 2504.9 L1331.7 2505.2 L1331.7 2505.6 L1331.6 2505.9 L1331.4 2506.3 L1331.3 2506.6 L1331.1 2506.8 L1330.9 2507.1 L1330.7 2507.3 L1330.4 2507.5 L1330.2 2507.7 L1329.9 2507.8 L1329.6 2507.9 L1329.4 2508 L1329.1 2508 L1328.8 2508 L1328.5 2507.9 L1328.2 2507.8 L1328 2507.7 L1327.7 2507.5 L1327.5 2507.3 L1327.3 2507.1 L1327.1 2506.8 L1326.9 2506.6 L1326.7 2506.3 L1326.6 2505.9 L1326.5 2505.6 L1326.4 2505.2 L1326.4 2504.9 L1326.4 2504.5 L1326.4 2504.2 L1326.4 2503.8 L1326.5 2503.4 L1326.6 2503.1 L1326.7 2502.8 L1326.9 2502.5 L1327.1 2502.2 L1327.3 2501.9 L1327.5 2501.7 L1327.7 2501.5 L1328 2501.3 L1328.2 2501.2 L1328.5 2501.1 L1328.8 2501.1 L1329.1 2501 L1329.4 2501.1 L1329.6 2501.1 L1329.9 2501.2 L1330.2 2501.3 L1330.4 2501.5 L1330.7 2501.7 L1330.9 2501.9 L1331.1 2502.2 L1331.3 2502.5 L1331.4 2502.8 L1331.6 2503.1 L1331.7 2503.4 L1331.7 2503.8 L1331.8 2504.2 Z" fill="none" stroke="#000" stroke-width="1" />
<path d="M1307.1 2499.5 L1307.1 2513" fill="none" stroke="#000" stroke-width="1" />
<path d="M1409.5 2482.1 L1452 2471.7" fill="none" stroke="#000" stroke-width="1" />
<path d="M1419.1 2506.4 L1461.7 2493.7" fill="none" stroke="#000" stroke-width="1" />
<path d="M1464.1 2481.1 L1464.4 2482.3 L1464.6 2483.6 L1464.7 2484.9 L1464.7 2486.1 L1464.6 2487.3 L1464.4 2488.5 L1464.1 2489.6 L1463.7 2490.7 L1463.3 2491.6 L1462.8 2492.5 L1462.1 2493.3 L1461.5 2493.9 L1460.7 2494.5 L1459.9 2494.9 L1459.1 2495.2 L1458.2 2495.4 L1457.3 2495.4 L1456.4 2495.3 L1455.5 2495.1 L1454.5 2494.7 L1453.6 2494.2 L1452.8 2493.6 L1451.9 2492.9 L1451.1 2492.1 L1450.4 2491.1 L1449.7 2490.1 L1449 2489 L1448.5 2487.9 L1448 2486.7 L1447.7 2485.5 L1447.4 2484.2 L1447.2 2482.9 L1447.1 2481.7 L1447.1 2480.4 L1447.2 2479.2 L1447.3 2478 L1447.6 2476.9 L1448 2475.8 L1448.5 2474.9 L1449 2474 L1449.6 2473.2 L1450.3 2472.6 L1451 2472 L1451.8 2471.6 L1452.7 2471.3 L1453.5 2471.1 L1454.4 2471.1 L1455.4 2471.2 L1456.3 2471.4 L1457.2 2471.8 L1458.1 2472.3 L1459 2472.9 L1459.8 2473.6 L1460.6 2474.5 L1461.4 2475.4 L1462.1 2476.4 L1462.7 2477.5 L1463.2 2478.6 L1463.7 2479.8 Z" fill="none" stroke="#000" stroke-width="1" />
<path d="M1409.5 2482.1 C1409.7 2484.7 1409 2493.5 1410.6 2497.6 C1412.3 2501.6 1417.7 2505 1419.1 2506.4" fill="none" stroke="#000" stroke-width="1" />
<g transform="translate(361.6 2584.9) scale(1.0490 1)"><path d="M7.9 0 L7.9 -15.1 L3 -15.1 L3 -16.8 L5.1 -17.4 L7.2 -19.8 L8.3 -22 L11 -22 L11 0 Z" fill="#000"/><text x="17.8" y="0" font-size="32">6</text><text x="35.6" y="0" font-size="32">3</text></g>
<path d="M422 2568.2 L461 2556.3 L472.1 2556.7 L583.6 2601.6 L597.9 2608.8 L597.9 2612.8 L577.2 2620.7 L575.6 2623.1 L581.2 2625.5 L580.4 2627.9 L567.6 2632.7 L558.1 2632.7 L422 2573.8 Z" fill="none" stroke="#000" stroke-width="1.5" />
<path d="M423.6 2573 L558.1 2631.1" fill="none" stroke="#000" stroke-width="2" />
<path d="M449 2572.2 C449.8 2570.6 450.8 2569.3 454.6 2568.2 C458.5 2567.1 465 2565.4 472.1 2565.8 C479.3 2566.2 482.5 2564.9 497.6 2570.6 C512.7 2576.3 550.8 2594.1 562.9 2600 C574.9 2606 569.2 2604.8 570 2606.4 C570.8 2608 570.2 2608.3 567.6 2609.6 C565.1 2610.9 559.7 2613.4 554.9 2614.4 C550.1 2615.3 545.6 2616.2 539 2615.2 C532.3 2614.1 528.6 2613.3 515.1 2608 C501.6 2602.7 468.7 2588.4 457.8 2583.3 C446.9 2578.3 451.3 2579.6 449.8 2577.8 C448.4 2575.9 448.2 2573.8 449 2572.2 Z" fill="none" stroke="#000" stroke-width="1.5" />
<path d="M442.2 2571.5 L442.1 2571.8 L442 2572 L441.8 2572.1 L441.5 2572.3 L441.2 2572.5 L440.8 2572.6 L440.4 2572.7 L439.9 2572.7 L439.4 2572.8 L438.9 2572.8 L438.3 2572.8 L437.7 2572.7 L437.1 2572.7 L436.5 2572.6 L435.8 2572.5 L435.2 2572.3 L434.6 2572.1 L434 2572 L433.5 2571.8 L432.9 2571.5 L432.5 2571.3 L432 2571.1 L431.6 2570.8 L431.2 2570.5 L431 2570.3 L430.7 2570 L430.5 2569.8 L430.4 2569.5 L430.4 2569.3 L430.4 2569 L430.5 2568.8 L430.6 2568.6 L430.8 2568.4 L431.1 2568.2 L431.4 2568.1 L431.8 2568 L432.2 2567.9 L432.7 2567.8 L433.2 2567.8 L433.7 2567.8 L434.3 2567.8 L434.9 2567.8 L435.5 2567.9 L436.1 2568 L436.8 2568.1 L437.4 2568.2 L438 2568.4 L438.6 2568.6 L439.1 2568.8 L439.7 2569 L440.2 2569.2 L440.6 2569.5 L441 2569.7 L441.4 2570 L441.7 2570.3 L441.9 2570.5 L442.1 2570.8 L442.2 2571.1 L442.2 2571.3 Z" fill="none" stroke="#000" stroke-width="1.5" />
<path d="M474.1 2561.2 L474 2561.4 L473.8 2561.6 L473.6 2561.8 L473.4 2562 L473 2562.1 L472.7 2562.2 L472.2 2562.3 L471.8 2562.4 L471.2 2562.4 L470.7 2562.4 L470.1 2562.4 L469.5 2562.4 L468.9 2562.3 L468.3 2562.2 L467.7 2562.1 L467.1 2562 L466.5 2561.8 L465.9 2561.6 L465.3 2561.4 L464.8 2561.2 L464.3 2561 L463.8 2560.7 L463.4 2560.5 L463.1 2560.2 L462.8 2559.9 L462.6 2559.7 L462.4 2559.4 L462.3 2559.1 L462.2 2558.9 L462.2 2558.7 L462.3 2558.4 L462.5 2558.2 L462.7 2558.1 L462.9 2557.9 L463.3 2557.7 L463.6 2557.6 L464.1 2557.5 L464.5 2557.5 L465 2557.4 L465.6 2557.4 L466.2 2557.4 L466.8 2557.5 L467.4 2557.5 L468 2557.6 L468.6 2557.7 L469.2 2557.9 L469.8 2558.1 L470.4 2558.2 L471 2558.4 L471.5 2558.7 L472 2558.9 L472.4 2559.1 L472.9 2559.4 L473.2 2559.7 L473.5 2559.9 L473.7 2560.2 L473.9 2560.4 L474 2560.7 L474.1 2560.9 Z" fill="none" stroke="#000" stroke-width="1.5" />
<path d="M591.9 2610.1 L591.8 2610.3 L591.6 2610.5 L591.4 2610.7 L591.2 2610.8 L590.8 2611 L590.5 2611.1 L590 2611.2 L589.6 2611.3 L589 2611.3 L588.5 2611.3 L587.9 2611.3 L587.3 2611.3 L586.7 2611.2 L586.1 2611.1 L585.5 2611 L584.9 2610.8 L584.3 2610.7 L583.7 2610.5 L583.1 2610.3 L582.6 2610.1 L582.1 2609.8 L581.6 2609.6 L581.2 2609.3 L580.9 2609.1 L580.6 2608.8 L580.3 2608.5 L580.2 2608.3 L580.1 2608 L580 2607.8 L580 2607.5 L580.1 2607.3 L580.2 2607.1 L580.5 2606.9 L580.7 2606.8 L581 2606.6 L581.4 2606.5 L581.9 2606.4 L582.3 2606.3 L582.8 2606.3 L583.4 2606.3 L584 2606.3 L584.6 2606.3 L585.2 2606.4 L585.8 2606.5 L586.4 2606.6 L587 2606.8 L587.6 2606.9 L588.2 2607.1 L588.8 2607.3 L589.3 2607.5 L589.8 2607.8 L590.2 2608 L590.6 2608.3 L591 2608.5 L591.3 2608.8 L591.5 2609.1 L591.7 2609.3 L591.8 2609.6 L591.9 2609.8 Z" fill="none" stroke="#000" stroke-width="1.5" />
<path d="M561.6 2622.8 L561.5 2623 L561.4 2623.2 L561.2 2623.4 L560.9 2623.6 L560.6 2623.7 L560.2 2623.8 L559.8 2623.9 L559.3 2624 L558.8 2624 L558.3 2624 L557.7 2624 L557.1 2624 L556.5 2623.9 L555.9 2623.8 L555.2 2623.7 L554.6 2623.6 L554 2623.4 L553.4 2623.2 L552.9 2623 L552.3 2622.8 L551.8 2622.6 L551.4 2622.3 L551 2622.1 L550.6 2621.8 L550.3 2621.5 L550.1 2621.3 L549.9 2621 L549.8 2620.8 L549.8 2620.5 L549.8 2620.3 L549.9 2620.1 L550 2619.8 L550.2 2619.7 L550.5 2619.5 L550.8 2619.4 L551.2 2619.2 L551.6 2619.1 L552.1 2619.1 L552.6 2619 L553.1 2619 L553.7 2619 L554.3 2619.1 L554.9 2619.1 L555.5 2619.2 L556.2 2619.4 L556.8 2619.5 L557.4 2619.7 L558 2619.8 L558.5 2620.1 L559.1 2620.3 L559.5 2620.5 L560 2620.8 L560.4 2621 L560.8 2621.3 L561.1 2621.5 L561.3 2621.8 L561.5 2622.1 L561.6 2622.3 L561.6 2622.6 Z" fill="none" stroke="#000" stroke-width="1.5" />
<g transform="translate(946.3 2040.8) scale(1.0800 1)"><text x="0" y="0" font-size="32">9</text><text x="17.8" y="0" font-size="32">5</text><text x="35.6" y="0" font-size="32">3</text></g>
<path d="M1421.8 2028.8 L1420.8 2039.1 L1417.7 2049.3 L1412.7 2059.3 L1405.7 2068.9 L1396.9 2078.1 L1386.2 2086.8 L1374 2094.8 L1360.2 2102.1 L1345.1 2108.6 L1328.7 2114.2 L1311.4 2118.9 L1293.2 2122.6 L1274.3 2125.3 L1255.1 2126.9 L1235.6 2127.5 L1216.2 2126.9 L1196.9 2125.3 L1178.1 2122.6 L1159.9 2118.9 L1142.5 2114.2 L1126.2 2108.6 L1111 2102.1 L1097.3 2094.8 L1085 2086.8 L1074.4 2078.1 L1065.5 2068.9 L1058.5 2059.3 L1053.5 2049.3 L1050.5 2039.1 L1049.4 2028.8 L1050.5 2018.5 L1053.5 2008.3 L1058.5 1998.3 L1065.5 1988.7 L1074.4 1979.5 L1085 1970.8 L1097.3 1962.8 L1111 1955.5 L1126.2 1949 L1142.5 1943.4 L1159.9 1938.7 L1178.1 1935 L1196.9 1932.3 L1216.2 1930.7 L1235.6 1930.2 L1255.1 1930.7 L1274.3 1932.3 L1293.2 1935 L1311.4 1938.7 L1328.7 1943.4 L1345.1 1949 L1360.2 1955.5 L1374 1962.8 L1386.2 1970.8 L1396.9 1979.5 L1405.7 1988.7 L1412.7 1998.3 L1417.7 2008.3 L1420.8 2018.5 Z" fill="none" stroke="#000" stroke-width="1.3" />
<path d="M1373.5 2027.4 L1372.7 2035.1 L1370.5 2042.6 L1366.8 2050.1 L1361.6 2057.2 L1355.1 2064.1 L1347.2 2070.5 L1338.1 2076.5 L1328 2081.9 L1316.8 2086.7 L1304.7 2090.9 L1291.9 2094.4 L1278.4 2097.1 L1264.5 2099.1 L1250.3 2100.3 L1235.9 2100.7 L1221.5 2100.3 L1207.3 2099.1 L1193.4 2097.1 L1179.9 2094.4 L1167.1 2090.9 L1155 2086.7 L1143.8 2081.9 L1133.7 2076.5 L1124.6 2070.5 L1116.8 2064.1 L1110.2 2057.2 L1105.1 2050.1 L1101.3 2042.6 L1099.1 2035.1 L1098.3 2027.4 L1099.1 2019.7 L1101.3 2012.1 L1105.1 2004.7 L1110.2 1997.6 L1116.8 1990.7 L1124.6 1984.3 L1133.7 1978.3 L1143.8 1972.9 L1155 1968.1 L1167.1 1963.9 L1179.9 1960.4 L1193.4 1957.6 L1207.3 1955.7 L1221.5 1954.5 L1235.9 1954.1 L1250.3 1954.5 L1264.5 1955.7 L1278.4 1957.6 L1291.9 1960.4 L1304.7 1963.9 L1316.8 1968.1 L1328 1972.9 L1338.1 1978.3 L1347.2 1984.3 L1355.1 1990.7 L1361.6 1997.6 L1366.8 2004.7 L1370.5 2012.1 L1372.7 2019.7 Z" fill="none" stroke="#000" stroke-width="1" />
<path d="M1366.4 2028.2 L1365.7 2035.2 L1363.5 2042.1 L1360 2048.8 L1355.1 2055.3 L1348.9 2061.5 L1341.4 2067.3 L1332.8 2072.8 L1323.1 2077.7 L1312.5 2082.1 L1301 2085.9 L1288.8 2089 L1276 2091.5 L1262.8 2093.3 L1249.3 2094.4 L1235.6 2094.8 L1222 2094.4 L1208.4 2093.3 L1195.2 2091.5 L1182.4 2089 L1170.2 2085.9 L1158.8 2082.1 L1148.1 2077.7 L1138.5 2072.8 L1129.8 2067.3 L1122.4 2061.5 L1116.2 2055.3 L1111.3 2048.8 L1107.7 2042.1 L1105.6 2035.2 L1104.9 2028.2 L1105.6 2021.3 L1107.7 2014.4 L1111.3 2007.7 L1116.2 2001.2 L1122.4 1995 L1129.8 1989.2 L1138.5 1983.7 L1148.1 1978.8 L1158.8 1974.4 L1170.2 1970.6 L1182.4 1967.5 L1195.2 1965 L1208.4 1963.2 L1222 1962.1 L1235.6 1961.7 L1249.3 1962.1 L1262.8 1963.2 L1276 1965 L1288.8 1967.5 L1301 1970.6 L1312.5 1974.4 L1323.1 1978.8 L1332.8 1983.7 L1341.4 1989.2 L1348.9 1995 L1355.1 2001.2 L1360 2007.7 L1363.5 2014.4 L1365.7 2021.3 Z" fill="none" stroke="#000" stroke-width="1" />
<path d="M1302.4 1997 L1302.1 2000.6 L1301 2004.3 L1299.2 2007.8 L1296.6 2011.2 L1293.5 2014.5 L1289.7 2017.5 L1285.3 2020.4 L1280.3 2023 L1274.9 2025.3 L1269 2027.3 L1262.8 2028.9 L1256.3 2030.2 L1249.5 2031.2 L1242.6 2031.8 L1235.6 2031.9 L1228.6 2031.8 L1221.7 2031.2 L1215 2030.2 L1208.5 2028.9 L1202.2 2027.3 L1196.4 2025.3 L1190.9 2023 L1186 2020.4 L1181.6 2017.5 L1177.8 2014.5 L1174.6 2011.2 L1172.1 2007.8 L1170.3 2004.3 L1169.2 2000.6 L1168.8 1997 L1169.2 1993.3 L1170.3 1989.7 L1172.1 1986.2 L1174.6 1982.8 L1177.8 1979.5 L1181.6 1976.4 L1186 1973.6 L1190.9 1971 L1196.4 1968.7 L1202.2 1966.7 L1208.5 1965 L1215 1963.7 L1221.7 1962.8 L1228.6 1962.2 L1235.6 1962 L1242.6 1962.2 L1249.5 1962.8 L1256.3 1963.7 L1262.8 1965 L1269 1966.7 L1274.9 1968.7 L1280.3 1971 L1285.3 1973.6 L1289.7 1976.4 L1293.5 1979.5 L1296.6 1982.8 L1299.2 1986.2 L1301 1989.7 L1302.1 1993.3 Z" fill="none" stroke="#000" stroke-width="1" />
<path d="M1188.7 1972.5 L1282.5 2020.9" fill="none" stroke="#000" stroke-width="1" />
<path d="M1242.7 1939 L1242.7 1939.4 L1242.6 1939.8 L1242.4 1940.1 L1242.1 1940.5 L1241.8 1940.8 L1241.4 1941.2 L1240.9 1941.5 L1240.4 1941.7 L1239.8 1942 L1239.2 1942.2 L1238.5 1942.4 L1237.8 1942.5 L1237.1 1942.6 L1236.4 1942.7 L1235.6 1942.7 L1234.9 1942.7 L1234.1 1942.6 L1233.4 1942.5 L1232.7 1942.4 L1232.1 1942.2 L1231.4 1942 L1230.9 1941.7 L1230.3 1941.5 L1229.9 1941.2 L1229.5 1940.8 L1229.1 1940.5 L1228.9 1940.1 L1228.7 1939.8 L1228.6 1939.4 L1228.5 1939 L1228.6 1938.6 L1228.7 1938.2 L1228.9 1937.9 L1229.1 1937.5 L1229.5 1937.1 L1229.9 1936.8 L1230.3 1936.5 L1230.9 1936.2 L1231.4 1936 L1232.1 1935.8 L1232.7 1935.6 L1233.4 1935.5 L1234.1 1935.4 L1234.9 1935.3 L1235.6 1935.3 L1236.4 1935.3 L1237.1 1935.4 L1237.8 1935.5 L1238.5 1935.6 L1239.2 1935.8 L1239.8 1936 L1240.4 1936.2 L1240.9 1936.5 L1241.4 1936.8 L1241.8 1937.1 L1242.1 1937.5 L1242.4 1937.9 L1242.6 1938.2 L1242.7 1938.6 Z" fill="none" stroke="#000" stroke-width="1" />
<path d="M1308.1 1946.1 L1308.1 1946.5 L1308 1946.9 L1307.8 1947.2 L1307.5 1947.6 L1307.2 1947.9 L1306.7 1948.3 L1306.3 1948.6 L1305.8 1948.8 L1305.2 1949.1 L1304.6 1949.3 L1303.9 1949.5 L1303.2 1949.6 L1302.5 1949.7 L1301.7 1949.8 L1301 1949.8 L1300.3 1949.8 L1299.5 1949.7 L1298.8 1949.6 L1298.1 1949.5 L1297.4 1949.3 L1296.8 1949.1 L1296.2 1948.8 L1295.7 1948.6 L1295.3 1948.3 L1294.8 1947.9 L1294.5 1947.6 L1294.2 1947.2 L1294 1946.9 L1293.9 1946.5 L1293.9 1946.1 L1293.9 1945.7 L1294 1945.3 L1294.2 1945 L1294.5 1944.6 L1294.8 1944.3 L1295.3 1943.9 L1295.7 1943.6 L1296.2 1943.4 L1296.8 1943.1 L1297.4 1942.9 L1298.1 1942.7 L1298.8 1942.6 L1299.5 1942.5 L1300.3 1942.4 L1301 1942.4 L1301.7 1942.4 L1302.5 1942.5 L1303.2 1942.6 L1303.9 1942.7 L1304.6 1942.9 L1305.2 1943.1 L1305.8 1943.4 L1306.3 1943.6 L1306.7 1943.9 L1307.2 1944.3 L1307.5 1944.6 L1307.8 1945 L1308 1945.3 L1308.1 1945.7 Z" fill="none" stroke="#000" stroke-width="1" />
<path d="M1362.7 1965.4 L1362.6 1965.8 L1362.5 1966.2 L1362.3 1966.6 L1362.1 1966.9 L1361.7 1967.3 L1361.3 1967.6 L1360.9 1967.9 L1360.3 1968.2 L1359.8 1968.4 L1359.1 1968.6 L1358.5 1968.8 L1357.8 1968.9 L1357.1 1969 L1356.3 1969.1 L1355.6 1969.1 L1354.8 1969.1 L1354.1 1969 L1353.4 1968.9 L1352.7 1968.8 L1352 1968.6 L1351.4 1968.4 L1350.8 1968.2 L1350.3 1967.9 L1349.8 1967.6 L1349.4 1967.3 L1349.1 1966.9 L1348.8 1966.6 L1348.6 1966.2 L1348.5 1965.8 L1348.5 1965.4 L1348.5 1965 L1348.6 1964.7 L1348.8 1964.3 L1349.1 1963.9 L1349.4 1963.6 L1349.8 1963.3 L1350.3 1963 L1350.8 1962.7 L1351.4 1962.4 L1352 1962.2 L1352.7 1962.1 L1353.4 1961.9 L1354.1 1961.8 L1354.8 1961.8 L1355.6 1961.7 L1356.3 1961.8 L1357.1 1961.8 L1357.8 1961.9 L1358.5 1962.1 L1359.1 1962.2 L1359.8 1962.4 L1360.3 1962.7 L1360.9 1963 L1361.3 1963.3 L1361.7 1963.6 L1362.1 1963.9 L1362.3 1964.3 L1362.5 1964.7 L1362.6 1965 Z" fill="none" stroke="#000" stroke-width="1" />
<path d="M1399.6 1994.4 L1399.6 1994.8 L1399.5 1995.2 L1399.3 1995.6 L1399 1995.9 L1398.7 1996.3 L1398.3 1996.6 L1397.8 1996.9 L1397.3 1997.2 L1396.7 1997.4 L1396.1 1997.6 L1395.4 1997.8 L1394.7 1997.9 L1394 1998 L1393.3 1998.1 L1392.5 1998.1 L1391.8 1998.1 L1391.1 1998 L1390.3 1997.9 L1389.6 1997.8 L1389 1997.6 L1388.4 1997.4 L1387.8 1997.2 L1387.2 1996.9 L1386.8 1996.6 L1386.4 1996.3 L1386 1995.9 L1385.8 1995.6 L1385.6 1995.2 L1385.5 1994.8 L1385.4 1994.4 L1385.5 1994 L1385.6 1993.7 L1385.8 1993.3 L1386 1992.9 L1386.4 1992.6 L1386.8 1992.3 L1387.2 1992 L1387.8 1991.7 L1388.4 1991.4 L1389 1991.2 L1389.6 1991 L1390.3 1990.9 L1391.1 1990.8 L1391.8 1990.7 L1392.5 1990.7 L1393.3 1990.7 L1394 1990.8 L1394.7 1990.9 L1395.4 1991 L1396.1 1991.2 L1396.7 1991.4 L1397.3 1991.7 L1397.8 1992 L1398.3 1992.3 L1398.7 1992.6 L1399 1992.9 L1399.3 1993.3 L1399.5 1993.7 L1399.6 1994 Z" fill="none" stroke="#000" stroke-width="1" />
<path d="M1412.4 2028.8 L1412.4 2029.2 L1412.3 2029.6 L1412.1 2030 L1411.8 2030.3 L1411.5 2030.7 L1411.1 2031 L1410.6 2031.3 L1410.1 2031.6 L1409.5 2031.8 L1408.9 2032 L1408.2 2032.2 L1407.5 2032.3 L1406.8 2032.4 L1406.1 2032.5 L1405.3 2032.5 L1404.6 2032.5 L1403.8 2032.4 L1403.1 2032.3 L1402.4 2032.2 L1401.8 2032 L1401.1 2031.8 L1400.6 2031.6 L1400 2031.3 L1399.6 2031 L1399.2 2030.7 L1398.8 2030.3 L1398.6 2030 L1398.4 2029.6 L1398.3 2029.2 L1398.2 2028.8 L1398.3 2028.4 L1398.4 2028 L1398.6 2027.7 L1398.8 2027.3 L1399.2 2027 L1399.6 2026.6 L1400 2026.3 L1400.6 2026.1 L1401.1 2025.8 L1401.8 2025.6 L1402.4 2025.4 L1403.1 2025.3 L1403.8 2025.2 L1404.6 2025.1 L1405.3 2025.1 L1406.1 2025.1 L1406.8 2025.2 L1407.5 2025.3 L1408.2 2025.4 L1408.9 2025.6 L1409.5 2025.8 L1410.1 2026.1 L1410.6 2026.3 L1411.1 2026.6 L1411.5 2027 L1411.8 2027.3 L1412.1 2027.7 L1412.3 2028 L1412.4 2028.4 Z" fill="none" stroke="#000" stroke-width="1" />
<path d="M1399.6 2062.6 L1399.6 2063 L1399.5 2063.4 L1399.3 2063.8 L1399 2064.1 L1398.7 2064.5 L1398.3 2064.8 L1397.8 2065.1 L1397.3 2065.4 L1396.7 2065.6 L1396.1 2065.8 L1395.4 2066 L1394.7 2066.2 L1394 2066.3 L1393.3 2066.3 L1392.5 2066.3 L1391.8 2066.3 L1391.1 2066.3 L1390.3 2066.2 L1389.6 2066 L1389 2065.8 L1388.4 2065.6 L1387.8 2065.4 L1387.2 2065.1 L1386.8 2064.8 L1386.4 2064.5 L1386 2064.1 L1385.8 2063.8 L1385.6 2063.4 L1385.5 2063 L1385.4 2062.6 L1385.5 2062.3 L1385.6 2061.9 L1385.8 2061.5 L1386 2061.1 L1386.4 2060.8 L1386.8 2060.5 L1387.2 2060.2 L1387.8 2059.9 L1388.4 2059.7 L1389 2059.4 L1389.6 2059.3 L1390.3 2059.1 L1391.1 2059 L1391.8 2059 L1392.5 2058.9 L1393.3 2059 L1394 2059 L1394.7 2059.1 L1395.4 2059.3 L1396.1 2059.4 L1396.7 2059.7 L1397.3 2059.9 L1397.8 2060.2 L1398.3 2060.5 L1398.7 2060.8 L1399 2061.1 L1399.3 2061.5 L1399.5 2061.9 L1399.6 2062.3 Z" fill="none" stroke="#000" stroke-width="1" />
<path d="M1362.7 2091.9 L1362.6 2092.3 L1362.5 2092.7 L1362.3 2093.1 L1362.1 2093.4 L1361.7 2093.8 L1361.3 2094.1 L1360.9 2094.4 L1360.3 2094.7 L1359.8 2094.9 L1359.1 2095.1 L1358.5 2095.3 L1357.8 2095.4 L1357.1 2095.5 L1356.3 2095.6 L1355.6 2095.6 L1354.8 2095.6 L1354.1 2095.5 L1353.4 2095.4 L1352.7 2095.3 L1352 2095.1 L1351.4 2094.9 L1350.8 2094.7 L1350.3 2094.4 L1349.8 2094.1 L1349.4 2093.8 L1349.1 2093.4 L1348.8 2093.1 L1348.6 2092.7 L1348.5 2092.3 L1348.5 2091.9 L1348.5 2091.5 L1348.6 2091.2 L1348.8 2090.8 L1349.1 2090.4 L1349.4 2090.1 L1349.8 2089.7 L1350.3 2089.4 L1350.8 2089.2 L1351.4 2088.9 L1352 2088.7 L1352.7 2088.5 L1353.4 2088.4 L1354.1 2088.3 L1354.8 2088.2 L1355.6 2088.2 L1356.3 2088.2 L1357.1 2088.3 L1357.8 2088.4 L1358.5 2088.5 L1359.1 2088.7 L1359.8 2088.9 L1360.3 2089.2 L1360.9 2089.4 L1361.3 2089.7 L1361.7 2090.1 L1362.1 2090.4 L1362.3 2090.8 L1362.5 2091.2 L1362.6 2091.5 Z" fill="none" stroke="#000" stroke-width="1" />
<path d="M1308.1 2111 L1308.1 2111.4 L1308 2111.7 L1307.8 2112.1 L1307.5 2112.5 L1307.2 2112.8 L1306.7 2113.1 L1306.3 2113.4 L1305.8 2113.7 L1305.2 2114 L1304.6 2114.2 L1303.9 2114.3 L1303.2 2114.5 L1302.5 2114.6 L1301.7 2114.6 L1301 2114.7 L1300.3 2114.6 L1299.5 2114.6 L1298.8 2114.5 L1298.1 2114.3 L1297.4 2114.2 L1296.8 2114 L1296.2 2113.7 L1295.7 2113.4 L1295.3 2113.1 L1294.8 2112.8 L1294.5 2112.5 L1294.2 2112.1 L1294 2111.7 L1293.9 2111.4 L1293.9 2111 L1293.9 2110.6 L1294 2110.2 L1294.2 2109.8 L1294.5 2109.5 L1294.8 2109.1 L1295.3 2108.8 L1295.7 2108.5 L1296.2 2108.2 L1296.8 2108 L1297.4 2107.8 L1298.1 2107.6 L1298.8 2107.5 L1299.5 2107.4 L1300.3 2107.3 L1301 2107.3 L1301.7 2107.3 L1302.5 2107.4 L1303.2 2107.5 L1303.9 2107.6 L1304.6 2107.8 L1305.2 2108 L1305.8 2108.2 L1306.3 2108.5 L1306.7 2108.8 L1307.2 2109.1 L1307.5 2109.5 L1307.8 2109.8 L1308 2110.2 L1308.1 2110.6 Z" fill="none" stroke="#000" stroke-width="1" />
<path d="M1242.7 2118.1 L1242.7 2118.5 L1242.6 2118.8 L1242.4 2119.2 L1242.1 2119.6 L1241.8 2119.9 L1241.4 2120.2 L1240.9 2120.5 L1240.4 2120.8 L1239.8 2121.1 L1239.2 2121.3 L1238.5 2121.4 L1237.8 2121.6 L1237.1 2121.7 L1236.4 2121.7 L1235.6 2121.8 L1234.9 2121.7 L1234.1 2121.7 L1233.4 2121.6 L1232.7 2121.4 L1232.1 2121.3 L1231.4 2121.1 L1230.9 2120.8 L1230.3 2120.5 L1229.9 2120.2 L1229.5 2119.9 L1229.1 2119.6 L1228.9 2119.2 L1228.7 2118.8 L1228.6 2118.5 L1228.5 2118.1 L1228.6 2117.7 L1228.7 2117.3 L1228.9 2116.9 L1229.1 2116.6 L1229.5 2116.2 L1229.9 2115.9 L1230.3 2115.6 L1230.9 2115.3 L1231.4 2115.1 L1232.1 2114.9 L1232.7 2114.7 L1233.4 2114.6 L1234.1 2114.5 L1234.9 2114.4 L1235.6 2114.4 L1236.4 2114.4 L1237.1 2114.5 L1237.8 2114.6 L1238.5 2114.7 L1239.2 2114.9 L1239.8 2115.1 L1240.4 2115.3 L1240.9 2115.6 L1241.4 2115.9 L1241.8 2116.2 L1242.1 2116.6 L1242.4 2116.9 L1242.6 2117.3 L1242.7 2117.7 Z" fill="none" stroke="#000" stroke-width="1" />
<path d="M1177.9 2111 L1177.9 2111.4 L1177.8 2111.7 L1177.6 2112.1 L1177.3 2112.5 L1177 2112.8 L1176.6 2113.1 L1176.1 2113.4 L1175.6 2113.7 L1175 2114 L1174.4 2114.2 L1173.7 2114.3 L1173 2114.5 L1172.3 2114.6 L1171.6 2114.6 L1170.8 2114.7 L1170.1 2114.6 L1169.3 2114.6 L1168.6 2114.5 L1167.9 2114.3 L1167.3 2114.2 L1166.6 2114 L1166.1 2113.7 L1165.5 2113.4 L1165.1 2113.1 L1164.7 2112.8 L1164.3 2112.5 L1164.1 2112.1 L1163.9 2111.7 L1163.7 2111.4 L1163.7 2111 L1163.7 2110.6 L1163.9 2110.2 L1164.1 2109.8 L1164.3 2109.5 L1164.7 2109.1 L1165.1 2108.8 L1165.5 2108.5 L1166.1 2108.2 L1166.6 2108 L1167.3 2107.8 L1167.9 2107.6 L1168.6 2107.5 L1169.3 2107.4 L1170.1 2107.3 L1170.8 2107.3 L1171.6 2107.3 L1172.3 2107.4 L1173 2107.5 L1173.7 2107.6 L1174.4 2107.8 L1175 2108 L1175.6 2108.2 L1176.1 2108.5 L1176.6 2108.8 L1177 2109.1 L1177.3 2109.5 L1177.6 2109.8 L1177.8 2110.2 L1177.9 2110.6 Z" fill="none" stroke="#000" stroke-width="1" />
<path d="M1122.8 2091.9 L1122.7 2092.3 L1122.6 2092.7 L1122.4 2093.1 L1122.2 2093.4 L1121.8 2093.8 L1121.4 2094.1 L1120.9 2094.4 L1120.4 2094.7 L1119.8 2094.9 L1119.2 2095.1 L1118.6 2095.3 L1117.9 2095.4 L1117.1 2095.5 L1116.4 2095.6 L1115.7 2095.6 L1114.9 2095.6 L1114.2 2095.5 L1113.5 2095.4 L1112.8 2095.3 L1112.1 2095.1 L1111.5 2094.9 L1110.9 2094.7 L1110.4 2094.4 L1109.9 2094.1 L1109.5 2093.8 L1109.2 2093.4 L1108.9 2093.1 L1108.7 2092.7 L1108.6 2092.3 L1108.6 2091.9 L1108.6 2091.5 L1108.7 2091.2 L1108.9 2090.8 L1109.2 2090.4 L1109.5 2090.1 L1109.9 2089.7 L1110.4 2089.4 L1110.9 2089.2 L1111.5 2088.9 L1112.1 2088.7 L1112.8 2088.5 L1113.5 2088.4 L1114.2 2088.3 L1114.9 2088.2 L1115.7 2088.2 L1116.4 2088.2 L1117.1 2088.3 L1117.9 2088.4 L1118.6 2088.5 L1119.2 2088.7 L1119.8 2088.9 L1120.4 2089.2 L1120.9 2089.4 L1121.4 2089.7 L1121.8 2090.1 L1122.2 2090.4 L1122.4 2090.8 L1122.6 2091.2 L1122.7 2091.5 Z" fill="none" stroke="#000" stroke-width="1" />
<path d="M1085.8 2062.6 L1085.8 2063 L1085.7 2063.4 L1085.5 2063.8 L1085.2 2064.1 L1084.9 2064.5 L1084.5 2064.8 L1084 2065.1 L1083.5 2065.4 L1082.9 2065.6 L1082.3 2065.8 L1081.6 2066 L1080.9 2066.2 L1080.2 2066.3 L1079.5 2066.3 L1078.7 2066.3 L1078 2066.3 L1077.2 2066.3 L1076.5 2066.2 L1075.8 2066 L1075.2 2065.8 L1074.5 2065.6 L1074 2065.4 L1073.4 2065.1 L1073 2064.8 L1072.6 2064.5 L1072.2 2064.1 L1072 2063.8 L1071.8 2063.4 L1071.6 2063 L1071.6 2062.6 L1071.6 2062.3 L1071.8 2061.9 L1072 2061.5 L1072.2 2061.1 L1072.6 2060.8 L1073 2060.5 L1073.4 2060.2 L1074 2059.9 L1074.5 2059.7 L1075.2 2059.4 L1075.8 2059.3 L1076.5 2059.1 L1077.2 2059 L1078 2059 L1078.7 2058.9 L1079.5 2059 L1080.2 2059 L1080.9 2059.1 L1081.6 2059.3 L1082.3 2059.4 L1082.9 2059.7 L1083.5 2059.9 L1084 2060.2 L1084.5 2060.5 L1084.9 2060.8 L1085.2 2061.1 L1085.5 2061.5 L1085.7 2061.9 L1085.8 2062.3 Z" fill="none" stroke="#000" stroke-width="1" />
<path d="M1072.7 2028.8 L1072.7 2029.2 L1072.6 2029.6 L1072.4 2030 L1072.1 2030.3 L1071.8 2030.7 L1071.4 2031 L1070.9 2031.3 L1070.4 2031.6 L1069.8 2031.8 L1069.2 2032 L1068.5 2032.2 L1067.8 2032.3 L1067.1 2032.4 L1066.4 2032.5 L1065.6 2032.5 L1064.9 2032.5 L1064.2 2032.4 L1063.4 2032.3 L1062.7 2032.2 L1062.1 2032 L1061.5 2031.8 L1060.9 2031.6 L1060.4 2031.3 L1059.9 2031 L1059.5 2030.7 L1059.1 2030.3 L1058.9 2030 L1058.7 2029.6 L1058.6 2029.2 L1058.5 2028.8 L1058.6 2028.4 L1058.7 2028 L1058.9 2027.7 L1059.1 2027.3 L1059.5 2027 L1059.9 2026.6 L1060.4 2026.3 L1060.9 2026.1 L1061.5 2025.8 L1062.1 2025.6 L1062.7 2025.4 L1063.4 2025.3 L1064.2 2025.2 L1064.9 2025.1 L1065.6 2025.1 L1066.4 2025.1 L1067.1 2025.2 L1067.8 2025.3 L1068.5 2025.4 L1069.2 2025.6 L1069.8 2025.8 L1070.4 2026.1 L1070.9 2026.3 L1071.4 2026.6 L1071.8 2027 L1072.1 2027.3 L1072.4 2027.7 L1072.6 2028 L1072.7 2028.4 Z" fill="none" stroke="#000" stroke-width="1" />
<path d="M1085.8 1994.4 L1085.8 1994.8 L1085.7 1995.2 L1085.5 1995.6 L1085.2 1995.9 L1084.9 1996.3 L1084.5 1996.6 L1084 1996.9 L1083.5 1997.2 L1082.9 1997.4 L1082.3 1997.6 L1081.6 1997.8 L1080.9 1997.9 L1080.2 1998 L1079.5 1998.1 L1078.7 1998.1 L1078 1998.1 L1077.2 1998 L1076.5 1997.9 L1075.8 1997.8 L1075.2 1997.6 L1074.5 1997.4 L1074 1997.2 L1073.4 1996.9 L1073 1996.6 L1072.6 1996.3 L1072.2 1995.9 L1072 1995.6 L1071.8 1995.2 L1071.6 1994.8 L1071.6 1994.4 L1071.6 1994 L1071.8 1993.7 L1072 1993.3 L1072.2 1992.9 L1072.6 1992.6 L1073 1992.3 L1073.4 1992 L1074 1991.7 L1074.5 1991.4 L1075.2 1991.2 L1075.8 1991 L1076.5 1990.9 L1077.2 1990.8 L1078 1990.7 L1078.7 1990.7 L1079.5 1990.7 L1080.2 1990.8 L1080.9 1990.9 L1081.6 1991 L1082.3 1991.2 L1082.9 1991.4 L1083.5 1991.7 L1084 1992 L1084.5 1992.3 L1084.9 1992.6 L1085.2 1992.9 L1085.5 1993.3 L1085.7 1993.7 L1085.8 1994 Z" fill="none" stroke="#000" stroke-width="1" />
<path d="M1122.8 1965.4 L1122.7 1965.8 L1122.6 1966.2 L1122.4 1966.6 L1122.2 1966.9 L1121.8 1967.3 L1121.4 1967.6 L1120.9 1967.9 L1120.4 1968.2 L1119.8 1968.4 L1119.2 1968.6 L1118.6 1968.8 L1117.9 1968.9 L1117.1 1969 L1116.4 1969.1 L1115.7 1969.1 L1114.9 1969.1 L1114.2 1969 L1113.5 1968.9 L1112.8 1968.8 L1112.1 1968.6 L1111.5 1968.4 L1110.9 1968.2 L1110.4 1967.9 L1109.9 1967.6 L1109.5 1967.3 L1109.2 1966.9 L1108.9 1966.6 L1108.7 1966.2 L1108.6 1965.8 L1108.6 1965.4 L1108.6 1965 L1108.7 1964.7 L1108.9 1964.3 L1109.2 1963.9 L1109.5 1963.6 L1109.9 1963.3 L1110.4 1963 L1110.9 1962.7 L1111.5 1962.4 L1112.1 1962.2 L1112.8 1962.1 L1113.5 1961.9 L1114.2 1961.8 L1114.9 1961.8 L1115.7 1961.7 L1116.4 1961.8 L1117.1 1961.8 L1117.9 1961.9 L1118.6 1962.1 L1119.2 1962.2 L1119.8 1962.4 L1120.4 1962.7 L1120.9 1963 L1121.4 1963.3 L1121.8 1963.6 L1122.2 1963.9 L1122.4 1964.3 L1122.6 1964.7 L1122.7 1965 Z" fill="none" stroke="#000" stroke-width="1" />
<path d="M1177.9 1946.1 L1177.9 1946.5 L1177.8 1946.9 L1177.6 1947.2 L1177.3 1947.6 L1177 1947.9 L1176.6 1948.3 L1176.1 1948.6 L1175.6 1948.8 L1175 1949.1 L1174.4 1949.3 L1173.7 1949.5 L1173 1949.6 L1172.3 1949.7 L1171.6 1949.8 L1170.8 1949.8 L1170.1 1949.8 L1169.3 1949.7 L1168.6 1949.6 L1167.9 1949.5 L1167.3 1949.3 L1166.6 1949.1 L1166.1 1948.8 L1165.5 1948.6 L1165.1 1948.3 L1164.7 1947.9 L1164.3 1947.6 L1164.1 1947.2 L1163.9 1946.9 L1163.7 1946.5 L1163.7 1946.1 L1163.7 1945.7 L1163.9 1945.3 L1164.1 1945 L1164.3 1944.6 L1164.7 1944.3 L1165.1 1943.9 L1165.5 1943.6 L1166.1 1943.4 L1166.6 1943.1 L1167.3 1942.9 L1167.9 1942.7 L1168.6 1942.6 L1169.3 1942.5 L1170.1 1942.4 L1170.8 1942.4 L1171.6 1942.4 L1172.3 1942.5 L1173 1942.6 L1173.7 1942.7 L1174.4 1942.9 L1175 1943.1 L1175.6 1943.4 L1176.1 1943.6 L1176.6 1943.9 L1177 1944.3 L1177.3 1944.6 L1177.6 1945 L1177.8 1945.3 L1177.9 1945.7 Z" fill="none" stroke="#000" stroke-width="1" />
<g transform="translate(1613.9 2206.4) scale(1.0571 1)"><path d="M7.9 0 L7.9 -15.1 L3 -15.1 L3 -16.8 L5.1 -17.4 L7.2 -19.8 L8.3 -22 L11 -22 L11 0 Z" fill="#000"/><text x="17.8" y="0" font-size="32">8</text><text x="35.6" y="0" font-size="32">6</text></g>
<g transform="translate(1878.8 2201.4) scale(1.0306 1)"><path d="M7.9 0 L7.9 -15.1 L3 -15.1 L3 -16.8 L5.1 -17.4 L7.2 -19.8 L8.3 -22 L11 -22 L11 0 Z" fill="#000"/><text x="17.8" y="0" font-size="32">8</text><text x="35.6" y="0" font-size="32">6</text><text x="53.4" y="0" font-size="32">A</text></g>
<g transform="translate(1509.4 2424.8) scale(1.0753 1)"><text x="0" y="0" font-size="32">7</text><path d="M25.7 0 L25.7 -15.1 L20.8 -15.1 L20.8 -16.8 L22.9 -17.4 L25 -19.8 L26.1 -22 L28.8 -22 L28.8 0 Z" fill="#000"/><text x="35.6" y="0" font-size="32">7</text><text x="53.4" y="0" font-size="32">C</text></g>
<g transform="translate(1821.7 2413.2) scale(1.0800 1)"><text x="0" y="0" font-size="32">7</text><path d="M25.7 0 L25.7 -15.1 L20.8 -15.1 L20.8 -16.8 L22.9 -17.4 L25 -19.8 L26.1 -22 L28.8 -22 L28.8 0 Z" fill="#000"/><text x="35.6" y="0" font-size="32">7</text></g>
<path d="M1682.3 2213.3 C1682.6 2212.4 1682.9 2210.9 1683.9 2210.1 C1684.8 2209.3 1686.5 2208.7 1687.9 2208.6 C1689.2 2208.4 1690.5 2208.3 1691.8 2209.3 C1693.2 2210.4 1694.8 2212.5 1695.8 2214.9 C1696.9 2217.3 1697.9 2221.2 1698.2 2223.7 C1698.5 2226.2 1698.1 2229 1697.4 2230 C1696.7 2231.1 1696.1 2231.1 1694.2 2230 C1692.4 2229 1688.3 2226.1 1686.3 2223.7 C1684.3 2221.3 1682.9 2217.4 1682.3 2215.7 C1681.6 2214 1682 2214.3 1682.3 2213.3 Z" fill="none" stroke="#000" stroke-width="1.3" />
<path d="M1694.2 2218.2 L1694.5 2218.9 L1694.8 2219.6 L1695 2220.2 L1695.2 2220.9 L1695.3 2221.6 L1695.4 2222.2 L1695.5 2222.8 L1695.4 2223.4 L1695.4 2224 L1695.2 2224.5 L1695.1 2225 L1694.9 2225.4 L1694.6 2225.8 L1694.3 2226 L1693.9 2226.3 L1693.5 2226.4 L1693.1 2226.5 L1692.7 2226.6 L1692.2 2226.5 L1691.7 2226.4 L1691.2 2226.2 L1690.7 2225.9 L1690.2 2225.6 L1689.7 2225.2 L1689.2 2224.8 L1688.8 2224.3 L1688.3 2223.8 L1687.9 2223.2 L1687.5 2222.6 L1687.1 2222 L1686.8 2221.3 L1686.5 2220.6 L1686.3 2220 L1686.1 2219.3 L1686 2218.6 L1685.9 2218 L1685.8 2217.3 L1685.8 2216.7 L1685.9 2216.2 L1686 2215.7 L1686.2 2215.2 L1686.4 2214.8 L1686.7 2214.4 L1687 2214.1 L1687.4 2213.9 L1687.7 2213.7 L1688.2 2213.7 L1688.6 2213.6 L1689.1 2213.7 L1689.6 2213.8 L1690 2214 L1690.6 2214.2 L1691.1 2214.6 L1691.6 2214.9 L1692 2215.4 L1692.5 2215.9 L1693 2216.4 L1693.4 2217 L1693.8 2217.6 Z" fill="none" stroke="#000" stroke-width="1.5" />
<path d="M1687.9 2208.6 C1688.9 2207.5 1692.2 2203.4 1694.2 2202.2 C1696.2 2201 1697.5 2200.7 1699.8 2201.4 C1702.1 2202.1 1705.6 2204 1707.8 2206.2 C1709.9 2208.3 1711.9 2211.7 1712.5 2214.1 C1713.2 2216.5 1713.2 2218.5 1711.7 2220.5 C1710.3 2222.5 1706 2224.5 1703.8 2226.1 C1701.5 2227.7 1699.1 2229.4 1698.2 2230" fill="none" stroke="#000" stroke-width="1" />
<path d="M1691.8 2207.8 C1692.9 2207.8 1696.3 2206.4 1698.2 2207.8 C1700.1 2209.1 1702.1 2212.7 1703 2215.7 C1703.9 2218.8 1703.6 2224.3 1703.8 2226.1" fill="none" stroke="#000" stroke-width="1" />
<path d="M1699.8 2201.4 L1718.9 2190.2" fill="none" stroke="#000" stroke-width="1" />
<path d="M1704.6 2226.1 L1730 2206.2" fill="none" stroke="#000" stroke-width="1" />
<path d="M1718.1 2188.7 C1718.5 2187.9 1719 2184.9 1720.5 2183.9 C1721.9 2182.8 1725 2182 1726.9 2182.3 C1728.7 2182.6 1729.6 2183.6 1731.6 2185.5 C1733.6 2187.3 1737.1 2191 1738.8 2193.4 C1740.5 2195.8 1741.8 2197.9 1742 2199.8 C1742.1 2201.7 1740.4 2203.4 1739.6 2204.6 C1738.8 2205.8 1738.5 2206.7 1737.2 2207 C1735.9 2207.2 1732.6 2206.3 1731.6 2206.2" fill="none" stroke="#000" stroke-width="1" />
<path d="M1719.7 2190.2 C1720.5 2189.7 1722.9 2187.5 1724.5 2187.1 C1726.1 2186.7 1727.4 2186.5 1729.2 2187.9 C1731.1 2189.2 1734.2 2192.8 1735.6 2195 C1737.1 2197.3 1738 2199.8 1738 2201.4 C1738 2203 1736.7 2203.8 1735.6 2204.6 C1734.6 2205.4 1732.3 2205.9 1731.6 2206.2" fill="none" stroke="#000" stroke-width="1" />
<path d="M1730 2182.3 L1746 2171.9" fill="none" stroke="#000" stroke-width="1" />
<path d="M1742 2197.4 L1757.1 2187.9" fill="none" stroke="#000" stroke-width="1" />
<path d="M1745.2 2171.1 C1745.7 2170.6 1746.9 2168.6 1748.3 2168 C1749.8 2167.4 1751.9 2167.2 1753.9 2167.6 C1755.9 2168 1758.4 2169 1760.3 2170.3 C1762.1 2171.7 1764.1 2174.2 1765.1 2175.9 C1766 2177.6 1766.1 2179.1 1765.9 2180.7 C1765.6 2182.3 1764.9 2184.1 1763.5 2185.5 C1762 2186.8 1758.2 2188.1 1757.1 2188.7" fill="none" stroke="#000" stroke-width="1" />
<path d="M1753.9 2166.4 C1755 2166.3 1758.3 2165.3 1760.3 2166 C1762.3 2166.6 1764.6 2168.7 1765.9 2170.3 C1767.1 2172 1767.6 2174.3 1767.8 2175.9 C1768.1 2177.6 1768 2179.4 1767.4 2180.3 C1766.9 2181.2 1764.8 2181.3 1764.3 2181.5" fill="none" stroke="#000" stroke-width="1" />
<path d="M1746 2171.9 C1746.6 2171.9 1748.3 2171 1749.9 2171.9 C1751.5 2172.9 1754.3 2175.5 1755.5 2177.5 C1756.8 2179.5 1757.2 2182.2 1757.5 2183.9 C1757.8 2185.6 1757.2 2187.2 1757.1 2187.9" fill="none" stroke="#000" stroke-width="1" />
<path d="M1957.3 2238.3 L1957.6 2239.2 L1957.9 2240.1 L1958 2241.1 L1958.1 2242 L1958.1 2243 L1958.1 2243.9 L1958 2244.7 L1957.8 2245.5 L1957.5 2246.3 L1957.2 2247 L1956.8 2247.6 L1956.3 2248.1 L1955.8 2248.6 L1955.3 2248.9 L1954.7 2249.2 L1954.1 2249.4 L1953.4 2249.5 L1952.7 2249.4 L1952.1 2249.3 L1951.4 2249.1 L1950.7 2248.8 L1950 2248.4 L1949.3 2247.9 L1948.7 2247.3 L1948 2246.6 L1947.5 2245.9 L1946.9 2245.1 L1946.5 2244.3 L1946 2243.4 L1945.7 2242.5 L1945.4 2241.6 L1945.1 2240.6 L1944.9 2239.7 L1944.9 2238.7 L1944.8 2237.8 L1944.9 2236.9 L1945 2236.1 L1945.2 2235.3 L1945.5 2234.5 L1945.8 2233.8 L1946.2 2233.2 L1946.6 2232.7 L1947.1 2232.2 L1947.7 2231.8 L1948.3 2231.6 L1948.9 2231.4 L1949.6 2231.3 L1950.2 2231.3 L1950.9 2231.5 L1951.6 2231.7 L1952.3 2232 L1953 2232.4 L1953.7 2232.9 L1954.3 2233.5 L1954.9 2234.1 L1955.5 2234.9 L1956 2235.6 L1956.5 2236.5 L1957 2237.4 Z" fill="none" stroke="#000" stroke-width="1.5" />
<path d="M1955.2 2239.7 L1955.4 2240.3 L1955.6 2241 L1955.7 2241.6 L1955.8 2242.2 L1955.8 2242.8 L1955.8 2243.4 L1955.7 2244 L1955.6 2244.5 L1955.5 2245 L1955.3 2245.4 L1955 2245.8 L1954.8 2246.2 L1954.5 2246.5 L1954.1 2246.7 L1953.8 2246.9 L1953.4 2247 L1953 2247 L1952.6 2247 L1952.1 2246.9 L1951.7 2246.7 L1951.3 2246.5 L1950.8 2246.2 L1950.4 2245.9 L1950 2245.5 L1949.6 2245.1 L1949.2 2244.6 L1948.9 2244.1 L1948.6 2243.5 L1948.3 2242.9 L1948.1 2242.3 L1947.9 2241.7 L1947.7 2241.1 L1947.6 2240.5 L1947.5 2239.8 L1947.5 2239.2 L1947.5 2238.7 L1947.6 2238.1 L1947.7 2237.6 L1947.8 2237.1 L1948 2236.6 L1948.2 2236.2 L1948.5 2235.9 L1948.8 2235.6 L1949.2 2235.4 L1949.5 2235.2 L1949.9 2235.1 L1950.3 2235 L1950.7 2235.1 L1951.2 2235.2 L1951.6 2235.3 L1952 2235.5 L1952.5 2235.8 L1952.9 2236.2 L1953.3 2236.5 L1953.7 2237 L1954.1 2237.5 L1954.4 2238 L1954.7 2238.5 L1955 2239.1 Z" fill="none" stroke="#000" stroke-width="1.5" />
<path d="M1948.3 2231.6 C1950.6 2230.1 1958.5 2223.4 1961.8 2222.5 C1965.2 2221.6 1966.2 2223.9 1968.2 2226.1 C1970.2 2228.3 1973 2232.8 1973.8 2235.6 C1974.6 2238.4 1975.2 2240.5 1973 2242.8 C1970.7 2245 1962.4 2248.1 1960.2 2249.1" fill="none" stroke="#000" stroke-width="1" />
<path d="M1961.8 2222.5 L1991.3 2207" fill="none" stroke="#000" stroke-width="1" />
<path d="M2004.8 2197.4 L2027.1 2184.7" fill="none" stroke="#000" stroke-width="1" />
<path d="M1974.6 2239.6 L1991.3 2230" fill="none" stroke="#000" stroke-width="1" />
<path d="M2004.8 2221.7 L2039.8 2201.4" fill="none" stroke="#000" stroke-width="1" />
<path d="M1991.3 2194.2 L2000 2189.4 L2004.8 2192.2 L2004.8 2201.4 L1996.9 2207 L1991.3 2206.6 Z" fill="none" stroke="#000" stroke-width="1" />
<path d="M1991.3 2194.2 L1996.1 2197.4 L2004.8 2192.2" fill="none" stroke="#000" stroke-width="1" />
<path d="M1996.1 2197.4 L1996.9 2207" fill="none" stroke="#000" stroke-width="1" />
<path d="M1991.3 2230 L1996.9 2226.1 L2004.8 2222.1 L2004.8 2228.4 L1996.1 2233.6 L1991.3 2230.8 Z" fill="none" stroke="#000" stroke-width="1" />
<path d="M1996.9 2226.1 L1996.1 2233.6" fill="none" stroke="#000" stroke-width="1" />
<path d="M2027.1 2184.7 C2027.9 2183.9 2030 2180.3 2031.9 2180.3 C2033.7 2180.3 2036.4 2182.5 2038.2 2184.7 C2040.1 2186.9 2042.1 2190.6 2043 2193.4 C2043.9 2196.2 2044.5 2199.7 2043.8 2201.4 C2043.2 2203 2039.8 2203 2039 2203.4" fill="none" stroke="#000" stroke-width="1.4" />
<path d="M2033.5 2180.3 C2035.2 2179.4 2041.4 2175.7 2043.8 2174.7 C2046.2 2173.7 2046.3 2173.6 2047.8 2174.3 C2049.3 2175.1 2051.2 2177.2 2052.6 2179.1 C2053.9 2181 2055.2 2183.5 2055.8 2185.5 C2056.3 2187.5 2056.2 2189.6 2055.8 2191 C2055.4 2192.5 2055.4 2192.8 2053.4 2194.2 C2051.4 2195.7 2045.4 2198.9 2043.8 2199.8" fill="none" stroke="#000" stroke-width="1.4" />
<path d="M1597.7 2386.1 L1600.7 2378.4 L1608.4 2375.3 L1616.1 2376.9 L1636 2398.4 L1652.9 2383 L1680.6 2367.7 L1709.7 2384.6 L1722 2380 L1752.7 2396.8 L1755.8 2409.1 L1794.1 2432.1 L1795.7 2435.2 L1806.4 2473.6 L1808 2490.5 L1815.6 2504.3 L1831 2535 L1850.9 2525 L1852.5 2526.5 L1808 2551.9 L1789.5 2519.6 L1781.9 2508.9 L1777.3 2490.5 L1768.1 2452.1 L1765 2450.6 L1726.6 2430.6 L1722.8 2426 L1722 2418.3 L1697.4 2406 L1694.4 2404.5 L1685.2 2409.1 L1657.5 2393.8 L1651.4 2393 L1640.7 2400.7 L1631.4 2412.2 L1614.6 2422.2 L1610 2416.8 Z" fill="none" stroke="#000" stroke-width="1" />
<path d="M1612.3 2415.3 L1636 2399.9" fill="none" stroke="#000" stroke-width="1" />
<path d="M1652.9 2383 L1682.1 2400.7 L1695.9 2396.1 L1726.6 2413 L1728.9 2424.5 L1765 2446.7 L1765.7 2453.6" fill="none" stroke="#000" stroke-width="1" />
<path d="M1695.9 2396.1 L1720.5 2381.5" fill="none" stroke="#000" stroke-width="1" />
<path d="M1754.2 2397.6 L1726.6 2413" fill="none" stroke="#000" stroke-width="1" />
<path d="M1756.5 2409.9 L1728.9 2422.9" fill="none" stroke="#000" stroke-width="1" />
<path d="M1794.1 2432.9 L1765 2447.5" fill="none" stroke="#000" stroke-width="1" />
<path d="M1795.7 2436 L1768.1 2450.6" fill="none" stroke="#000" stroke-width="1" />
<path d="M1778.8 2481.3 L1804.9 2468.2" fill="none" stroke="#000" stroke-width="1" />
<path d="M1781.1 2493.5 L1806.4 2480.5" fill="none" stroke="#000" stroke-width="1" />
<path d="M1789.5 2516.6 L1814.1 2504.3" fill="none" stroke="#000" stroke-width="1" />
<path d="M1796.4 2528.1 L1820.2 2515" fill="none" stroke="#000" stroke-width="1" />
<path d="M1770.4 2452.1 L1780.3 2490.5 L1783.4 2508.9 L1791.1 2518.9 L1808.7 2549.6" fill="none" stroke="#000" stroke-width="1" />
<path d="M1831 2535 L1808 2548.8" fill="none" stroke="#000" stroke-width="1" />
<path d="M1640.7 2404.5 L1654.5 2394.5 L1659.1 2395.3" fill="none" stroke="#000" stroke-width="1" />
<path d="M1617.6 2387.3 L1617.6 2387.9 L1617.5 2388.5 L1617.3 2389.1 L1617.1 2389.7 L1616.8 2390.2 L1616.4 2390.7 L1616 2391.2 L1615.5 2391.7 L1615 2392 L1614.4 2392.4 L1613.8 2392.6 L1613.2 2392.9 L1612.5 2393 L1611.9 2393.1 L1611.2 2393.2 L1610.5 2393.1 L1609.8 2393 L1609.2 2392.9 L1608.6 2392.6 L1608 2392.4 L1607.4 2392 L1606.9 2391.7 L1606.4 2391.2 L1606 2390.7 L1605.6 2390.2 L1605.3 2389.7 L1605.1 2389.1 L1604.9 2388.5 L1604.8 2387.9 L1604.7 2387.3 L1604.8 2386.7 L1604.9 2386.1 L1605.1 2385.5 L1605.3 2384.9 L1605.6 2384.4 L1606 2383.9 L1606.4 2383.4 L1606.9 2383 L1607.4 2382.6 L1608 2382.3 L1608.6 2382 L1609.2 2381.8 L1609.8 2381.6 L1610.5 2381.5 L1611.2 2381.5 L1611.9 2381.5 L1612.5 2381.6 L1613.2 2381.8 L1613.8 2382 L1614.4 2382.3 L1615 2382.6 L1615.5 2383 L1616 2383.4 L1616.4 2383.9 L1616.8 2384.4 L1617.1 2384.9 L1617.3 2385.5 L1617.5 2386.1 L1617.6 2386.7 Z" fill="none" stroke="#000" stroke-width="1.3" />
<path d="M1730.4 2396.5 L1730.4 2396.9 L1730.3 2397.2 L1730.1 2397.5 L1729.9 2397.8 L1729.6 2398.1 L1729.3 2398.3 L1728.9 2398.6 L1728.4 2398.8 L1727.9 2399 L1727.4 2399.2 L1726.8 2399.3 L1726.2 2399.5 L1725.6 2399.5 L1724.9 2399.6 L1724.3 2399.6 L1723.7 2399.6 L1723 2399.5 L1722.4 2399.5 L1721.8 2399.3 L1721.2 2399.2 L1720.7 2399 L1720.2 2398.8 L1719.7 2398.6 L1719.3 2398.3 L1719 2398.1 L1718.7 2397.8 L1718.5 2397.5 L1718.3 2397.2 L1718.2 2396.9 L1718.2 2396.5 L1718.2 2396.2 L1718.3 2395.9 L1718.5 2395.6 L1718.7 2395.3 L1719 2395 L1719.3 2394.7 L1719.7 2394.5 L1720.2 2394.2 L1720.7 2394 L1721.2 2393.9 L1721.8 2393.7 L1722.4 2393.6 L1723 2393.5 L1723.7 2393.5 L1724.3 2393.5 L1724.9 2393.5 L1725.6 2393.5 L1726.2 2393.6 L1726.8 2393.7 L1727.4 2393.9 L1727.9 2394 L1728.4 2394.2 L1728.9 2394.5 L1729.3 2394.7 L1729.6 2395 L1729.9 2395.3 L1730.1 2395.6 L1730.3 2395.9 L1730.4 2396.2 Z" fill="none" stroke="#000" stroke-width="1.5" />
<path d="M1728.1 2396.5 L1728.1 2396.7 L1728.1 2396.9 L1728 2397 L1727.8 2397.2 L1727.6 2397.3 L1727.4 2397.4 L1727.2 2397.6 L1726.9 2397.7 L1726.6 2397.8 L1726.2 2397.9 L1725.9 2397.9 L1725.5 2398 L1725.1 2398 L1724.7 2398.1 L1724.3 2398.1 L1723.9 2398.1 L1723.5 2398 L1723.1 2398 L1722.7 2397.9 L1722.4 2397.9 L1722 2397.8 L1721.7 2397.7 L1721.5 2397.6 L1721.2 2397.4 L1721 2397.3 L1720.8 2397.2 L1720.7 2397 L1720.6 2396.9 L1720.5 2396.7 L1720.5 2396.5 L1720.5 2396.4 L1720.6 2396.2 L1720.7 2396.1 L1720.8 2395.9 L1721 2395.8 L1721.2 2395.6 L1721.5 2395.5 L1721.7 2395.4 L1722 2395.3 L1722.4 2395.2 L1722.7 2395.1 L1723.1 2395.1 L1723.5 2395 L1723.9 2395 L1724.3 2395 L1724.7 2395 L1725.1 2395 L1725.5 2395.1 L1725.9 2395.1 L1726.2 2395.2 L1726.6 2395.3 L1726.9 2395.4 L1727.2 2395.5 L1727.4 2395.6 L1727.6 2395.8 L1727.8 2395.9 L1728 2396.1 L1728.1 2396.2 L1728.1 2396.4 Z" fill="none" stroke="#000" stroke-width="1" />
<path d="M1938.8 2375.1 C1940 2374.5 1943.5 2372.3 1946.2 2371.4 C1948.9 2370.6 1953.6 2370.2 1955 2370" fill="none" stroke="#000" stroke-width="1" />
<path d="M1897.4 2423.9 L1938.8 2375.1" fill="none" stroke="#000" stroke-width="1" />
<path d="M1955 2370 L2046.7 2386.2" fill="none" stroke="#000" stroke-width="1" />
<path d="M2046.7 2386.2 C2048.4 2387 2053.6 2388.6 2057 2390.7 C2060.5 2392.7 2063.9 2395.2 2067.4 2398.8 C2070.8 2402.4 2075.3 2408.1 2077.7 2412.1 C2080.2 2416 2080.9 2419 2082.2 2422.4 C2083.4 2425.9 2083.9 2429.6 2085.1 2432.8 C2086.4 2436 2087.1 2439.1 2089.6 2441.6 C2092 2444.2 2094 2446.3 2099.9 2448.3 C2105.8 2450.3 2120.8 2452.6 2125 2453.5" fill="none" stroke="#000" stroke-width="1" />
<path d="M2125 2453.5 L2136.9 2465.3 L2138.3 2471.2 L2133.9 2475.6 L2119.1 2494.9 L2067.4 2513.3 L2062.9 2507.4 L2073.3 2495.6 L2101.4 2481.6 L2125 2474.2 L2132.4 2468.3" fill="none" stroke="#000" stroke-width="1" />
<path d="M1953.6 2372.2 C1969.1 2374.9 2029.2 2385 2046.7 2388.4 C2064.2 2391.9 2054.8 2390.9 2058.5 2392.9 C2062.2 2394.8 2065.8 2396.8 2068.9 2400.3 C2071.9 2403.7 2075 2409.9 2077 2413.6 C2079 2417.3 2079.6 2419 2080.7 2422.4 C2081.8 2425.9 2081.4 2430.3 2083.6 2434.3 C2085.9 2438.2 2087.3 2442.6 2094 2446.1 C2100.6 2449.5 2116.7 2451.5 2123.6 2455 C2130.5 2458.4 2133.4 2464.8 2135.4 2466.8" fill="none" stroke="#000" stroke-width="1" />
<path d="M1897.4 2423.9 L1921 2455 L1959.5 2407.6 L1997.9 2414.3" fill="none" stroke="#000" stroke-width="1" />
<path d="M1997.9 2414.3 C1999.4 2415.4 2003.8 2419.5 2006.8 2421 C2009.7 2422.4 2012.4 2423.4 2015.6 2423.2 C2018.8 2422.9 2021.6 2419.8 2026 2419.5 C2030.4 2419.1 2038.1 2419.7 2042.3 2421 C2046.4 2422.2 2049.2 2424.9 2051.1 2426.9 C2053.1 2428.8 2052.4 2428.8 2054.1 2432.8 C2055.8 2436.7 2058 2444.9 2061.5 2450.5 C2064.9 2456.2 2070.6 2462.3 2074.8 2466.8 C2079 2471.2 2082.2 2474.7 2086.6 2477.1 C2091 2479.6 2098.9 2480.8 2101.4 2481.6" fill="none" stroke="#000" stroke-width="1" />
<path d="M1925.5 2452 L1959.5 2409.1" fill="none" stroke="#000" stroke-width="1" />
<path d="M1921 2455 L1966.9 2434.3 L1970.6 2428.3 L1969.8 2416.5 L1962.4 2409.1" fill="none" stroke="#000" stroke-width="1" />
<path d="M1925.5 2452 L1965.4 2434.3" fill="none" stroke="#000" stroke-width="1" />
<path d="M1961.5 2425 L1961.2 2425.5 L1960.9 2425.9 L1960.5 2426.2 L1960 2426.6 L1959.5 2426.8 L1958.9 2427 L1958.3 2427.2 L1957.7 2427.2 L1957.1 2427.3 L1956.4 2427.2 L1955.8 2427.1 L1955.1 2427 L1954.4 2426.8 L1953.8 2426.5 L1953.2 2426.2 L1952.6 2425.8 L1952.1 2425.4 L1951.5 2424.9 L1951.1 2424.4 L1950.7 2423.9 L1950.3 2423.4 L1950 2422.8 L1949.8 2422.2 L1949.6 2421.6 L1949.5 2421.1 L1949.5 2420.5 L1949.5 2419.9 L1949.6 2419.4 L1949.8 2418.9 L1950 2418.4 L1950.3 2417.9 L1950.7 2417.5 L1951.1 2417.1 L1951.6 2416.8 L1952.1 2416.6 L1952.6 2416.4 L1953.2 2416.2 L1953.8 2416.1 L1954.5 2416.1 L1955.1 2416.1 L1955.8 2416.2 L1956.5 2416.4 L1957.1 2416.6 L1957.8 2416.9 L1958.4 2417.2 L1959 2417.6 L1959.5 2418 L1960 2418.5 L1960.5 2419 L1960.9 2419.5 L1961.3 2420 L1961.6 2420.6 L1961.8 2421.2 L1962 2421.7 L1962.1 2422.3 L1962.1 2422.9 L1962.1 2423.5 L1962 2424 L1961.8 2424.5 Z" fill="none" stroke="#000" stroke-width="1.3" />
<path d="M2014.9 2398 L2015 2399.3 L2015.1 2400.7 L2015.1 2402.1 L2015.1 2403.4 L2015 2404.7 L2014.8 2405.9 L2014.6 2407 L2014.3 2408 L2013.9 2409 L2013.5 2409.8 L2013.1 2410.5 L2012.6 2411.1 L2012 2411.5 L2011.4 2411.8 L2010.8 2412 L2010.2 2412 L2009.6 2411.8 L2008.9 2411.6 L2008.3 2411.2 L2007.7 2410.6 L2007.1 2409.9 L2006.5 2409.1 L2005.9 2408.2 L2005.3 2407.2 L2004.8 2406.1 L2004.4 2404.9 L2004 2403.6 L2003.7 2402.3 L2003.4 2401 L2003.1 2399.6 L2003 2398.2 L2002.9 2396.8 L2002.9 2395.5 L2002.9 2394.2 L2003 2392.9 L2003.2 2391.7 L2003.4 2390.6 L2003.7 2389.5 L2004.1 2388.6 L2004.5 2387.8 L2004.9 2387.1 L2005.4 2386.5 L2006 2386.1 L2006.5 2385.8 L2007.1 2385.6 L2007.8 2385.6 L2008.4 2385.7 L2009 2386 L2009.7 2386.4 L2010.3 2387 L2010.9 2387.6 L2011.5 2388.4 L2012.1 2389.4 L2012.6 2390.4 L2013.1 2391.5 L2013.6 2392.7 L2014 2393.9 L2014.3 2395.2 L2014.6 2396.6 Z" fill="none" stroke="#000" stroke-width="1.3" />
<path d="M2006.8 2388.4 L2012.7 2409.1" fill="none" stroke="#000" stroke-width="1" />
<path d="M2026 2419.5 L2080.7 2422.4" fill="none" stroke="#000" stroke-width="1" />
<path d="M2088 2499.6 L2088.1 2499.8 L2088 2500.1 L2087.9 2500.4 L2087.8 2500.7 L2087.5 2501 L2087.2 2501.3 L2086.9 2501.7 L2086.4 2502 L2086 2502.4 L2085.4 2502.7 L2084.9 2503.1 L2084.2 2503.4 L2083.6 2503.7 L2082.9 2504 L2082.3 2504.3 L2081.6 2504.6 L2080.9 2504.8 L2080.2 2505 L2079.5 2505.2 L2078.9 2505.4 L2078.2 2505.5 L2077.6 2505.6 L2077.1 2505.6 L2076.6 2505.6 L2076.1 2505.6 L2075.8 2505.5 L2075.4 2505.4 L2075.2 2505.3 L2075 2505.1 L2074.8 2504.9 L2074.8 2504.7 L2074.8 2504.4 L2074.9 2504.1 L2075.1 2503.8 L2075.3 2503.5 L2075.6 2503.2 L2076 2502.9 L2076.4 2502.5 L2076.9 2502.2 L2077.4 2501.8 L2078 2501.5 L2078.6 2501.1 L2079.2 2500.8 L2079.9 2500.5 L2080.6 2500.2 L2081.3 2499.9 L2082 2499.7 L2082.7 2499.5 L2083.3 2499.3 L2084 2499.1 L2084.6 2499 L2085.2 2498.9 L2085.8 2498.9 L2086.3 2498.9 L2086.7 2498.9 L2087.1 2499 L2087.4 2499.1 L2087.7 2499.2 L2087.9 2499.4 Z" fill="none" stroke="#000" stroke-width="1.3" />
<path d="M2073.3 2495.6 L2133.9 2475.6" fill="none" stroke="#000" stroke-width="1" />
<g transform="translate(1636.1 1856) scale(1.0494 1)"><path d="M7.9 0 L7.9 -15.1 L3 -15.1 L3 -16.8 L5.1 -17.4 L7.2 -19.8 L8.3 -22 L11 -22 L11 0 Z" fill="#000"/><text x="17.8" y="0" font-size="32">4</text><text x="35.6" y="0" font-size="32">2</text><text x="53.4" y="0" font-size="32">5</text><text x="71.2" y="0" font-size="32">A</text></g>
<g transform="translate(1861 1856.9) scale(1.0647 1)"><text x="0" y="0" font-size="32">4</text><text x="17.8" y="0" font-size="32">8</text><text x="35.6" y="0" font-size="32">0</text></g>
<g transform="translate(1869.5 1922.3) scale(1.0800 1)"><path d="M7.9 0 L7.9 -15.1 L3 -15.1 L3 -16.8 L5.1 -17.4 L7.2 -19.8 L8.3 -22 L11 -22 L11 0 Z" fill="#000"/><text x="17.8" y="0" font-size="32">4</text><text x="35.6" y="0" font-size="32">3</text><path d="M61.3 0 L61.3 -15.1 L56.4 -15.1 L56.4 -16.8 L58.5 -17.4 L60.6 -19.8 L61.7 -22 L64.4 -22 L64.4 0 Z" fill="#000"/></g>
<g transform="translate(1821.3 2036.8) scale(1.0567 1)"><path d="M7.9 0 L7.9 -15.1 L3 -15.1 L3 -16.8 L5.1 -17.4 L7.2 -19.8 L8.3 -22 L11 -22 L11 0 Z" fill="#000"/><text x="17.8" y="0" font-size="32">4</text><text x="35.6" y="0" font-size="32">2</text><text x="53.4" y="0" font-size="32">5</text></g>
<path d="M1633.7 1996.1 L1806.4 1792.7" fill="none" stroke="#000" stroke-width="1" />
<path d="M1646.7 2006.6 L1817.5 1804.8" fill="none" stroke="#000" stroke-width="1" />
<path d="M1804.9 1792.9 L1805.3 1792.5 L1805.8 1792.2 L1806.3 1791.9 L1806.9 1791.8 L1807.6 1791.6 L1808.3 1791.6 L1809 1791.7 L1809.8 1791.8 L1810.6 1792 L1811.4 1792.2 L1812.2 1792.6 L1813 1793 L1813.8 1793.5 L1814.6 1794 L1815.3 1794.6 L1816 1795.2 L1816.7 1795.9 L1817.3 1796.6 L1817.8 1797.3 L1818.3 1798.1 L1818.7 1798.8 L1819 1799.6 L1819.3 1800.3 L1819.5 1801 L1819.6 1801.7 L1819.6 1802.4 L1819.5 1803 L1819.3 1803.6 L1819.1 1804.1 L1818.7 1804.6" fill="none" stroke="#000" stroke-width="1" />
<path d="M1648.1 2008.5 L1647.6 2009 L1647 2009.4 L1646.4 2009.7 L1645.6 2010 L1644.8 2010.1 L1644 2010.1 L1643.1 2010.1 L1642.2 2010 L1641.2 2009.7 L1640.2 2009.4 L1639.3 2009 L1638.3 2008.5 L1637.3 2007.9 L1636.4 2007.3 L1635.5 2006.6 L1634.7 2005.8 L1633.9 2005 L1633.2 2004.2 L1632.5 2003.3 L1631.9 2002.4 L1631.4 2001.5 L1631 2000.6 L1630.7 1999.7 L1630.5 1998.9 L1630.4 1998 L1630.4 1997.2 L1630.6 1996.5 L1630.8 1995.8 L1631.1 1995.1 L1631.5 1994.6 L1632 1994.1 L1632.5 1993.6 L1633.2 1993.3 L1633.9 1993.1 L1634.7 1992.9 L1635.6 1992.9 L1636.4 1992.9 L1637.4 1993.1 L1638.3 1993.3 L1639.3 1993.6 L1640.3 1994.1 L1641.3 1994.5 L1642.2 1995.1 L1643.1 1995.7 L1644 1996.4 L1644.9 1997.2 L1645.7 1998 L1646.4 1998.8 L1647 1999.7 L1647.6 2000.6 L1648.1 2001.5 L1648.5 2002.4 L1648.8 2003.3 L1649 2004.2 L1649.1 2005 L1649.1 2005.8 L1649 2006.6 L1648.8 2007.3 L1648.5 2007.9 Z" fill="none" stroke="#000" stroke-width="1" />
<path d="M1642.7 2007 L1642.4 2007.3 L1642.1 2007.5 L1641.7 2007.7 L1641.3 2007.8 L1640.8 2007.9 L1640.3 2007.9 L1639.8 2007.9 L1639.2 2007.8 L1638.6 2007.7 L1638 2007.5 L1637.4 2007.2 L1636.8 2006.9 L1636.3 2006.6 L1635.7 2006.2 L1635.1 2005.7 L1634.6 2005.3 L1634.1 2004.8 L1633.7 2004.3 L1633.3 2003.7 L1632.9 2003.2 L1632.6 2002.7 L1632.4 2002.1 L1632.2 2001.6 L1632.1 2001 L1632 2000.5 L1632 2000.1 L1632.1 1999.6 L1632.2 1999.2 L1632.3 1998.8 L1632.6 1998.5 L1632.9 1998.2 L1633.2 1997.9 L1633.6 1997.8 L1634 1997.6 L1634.5 1997.5 L1635 1997.5 L1635.6 1997.6 L1636.1 1997.6 L1636.7 1997.8 L1637.3 1998 L1637.9 1998.3 L1638.5 1998.6 L1639.1 1998.9 L1639.6 1999.3 L1640.2 1999.7 L1640.7 2000.2 L1641.2 2000.7 L1641.6 2001.2 L1642 2001.7 L1642.4 2002.3 L1642.7 2002.8 L1642.9 2003.4 L1643.1 2003.9 L1643.2 2004.4 L1643.3 2004.9 L1643.3 2005.4 L1643.3 2005.9 L1643.2 2006.3 L1643 2006.7 Z" fill="none" stroke="#000" stroke-width="2.5" />
<path d="M1636.2 1991.6 L1648.2 1999.1 L1645.2 2009.7" fill="none" stroke="#000" stroke-width="1" />
<path d="M1914.9 2033.8 L2088.1 1767.1" fill="none" stroke="#000" stroke-width="1" />
<path d="M1932.9 2045.8 L2100.2 1779.2" fill="none" stroke="#000" stroke-width="1" />
<path d="M2086.5 1768.2 L2086.9 1767.8 L2087.3 1767.4 L2087.8 1767.1 L2088.4 1766.8 L2089 1766.6 L2089.7 1766.5 L2090.5 1766.4 L2091.2 1766.5 L2092.1 1766.6 L2092.9 1766.7 L2093.7 1767 L2094.6 1767.3 L2095.4 1767.7 L2096.3 1768.1 L2097.1 1768.6 L2097.9 1769.1 L2098.6 1769.7 L2099.3 1770.3 L2099.9 1771 L2100.5 1771.7 L2101 1772.4 L2101.4 1773.1 L2101.7 1773.8 L2102 1774.5 L2102.2 1775.1 L2102.3 1775.8 L2102.2 1776.4 L2102.2 1777 L2102 1777.6 L2101.7 1778.1" fill="none" stroke="#000" stroke-width="1" />
<path d="M1934 2047.9 L1933.5 2048.5 L1932.9 2049.1 L1932.2 2049.6 L1931.4 2050 L1930.5 2050.3 L1929.6 2050.5 L1928.5 2050.6 L1927.5 2050.6 L1926.4 2050.5 L1925.3 2050.3 L1924.1 2050 L1923 2049.6 L1921.8 2049.1 L1920.7 2048.5 L1919.6 2047.9 L1918.6 2047.1 L1917.6 2046.4 L1916.7 2045.5 L1915.9 2044.6 L1915.1 2043.7 L1914.5 2042.8 L1914 2041.8 L1913.5 2040.8 L1913.2 2039.8 L1913 2038.9 L1912.9 2038 L1913 2037.1 L1913.1 2036.2 L1913.4 2035.5 L1913.8 2034.7 L1914.3 2034.1 L1914.9 2033.5 L1915.6 2033 L1916.4 2032.6 L1917.3 2032.3 L1918.2 2032.1 L1919.2 2032 L1920.3 2032 L1921.4 2032.1 L1922.5 2032.3 L1923.7 2032.6 L1924.8 2033 L1926 2033.5 L1927.1 2034.1 L1928.2 2034.7 L1929.2 2035.4 L1930.2 2036.2 L1931.1 2037.1 L1931.9 2038 L1932.6 2038.9 L1933.3 2039.8 L1933.8 2040.8 L1934.3 2041.8 L1934.6 2042.7 L1934.8 2043.7 L1934.9 2044.6 L1934.8 2045.5 L1934.7 2046.4 L1934.4 2047.1 Z" fill="none" stroke="#000" stroke-width="1" />
<path d="M1928.4 2045.6 L1928 2046 L1927.7 2046.3 L1927.2 2046.6 L1926.7 2046.8 L1926.2 2047 L1925.6 2047.1 L1924.9 2047.2 L1924.2 2047.2 L1923.5 2047.1 L1922.8 2046.9 L1922.1 2046.7 L1921.3 2046.5 L1920.6 2046.1 L1919.9 2045.8 L1919.2 2045.3 L1918.5 2044.9 L1917.8 2044.4 L1917.3 2043.8 L1916.7 2043.3 L1916.2 2042.7 L1915.8 2042.1 L1915.4 2041.4 L1915.1 2040.8 L1914.9 2040.2 L1914.8 2039.6 L1914.7 2039 L1914.7 2038.5 L1914.8 2038 L1915 2037.5 L1915.2 2037 L1915.5 2036.6 L1915.9 2036.3 L1916.3 2036 L1916.8 2035.8 L1917.4 2035.6 L1918 2035.5 L1918.7 2035.4 L1919.3 2035.4 L1920 2035.5 L1920.8 2035.7 L1921.5 2035.9 L1922.3 2036.1 L1923 2036.5 L1923.7 2036.8 L1924.4 2037.3 L1925.1 2037.7 L1925.7 2038.2 L1926.3 2038.8 L1926.9 2039.3 L1927.3 2039.9 L1927.8 2040.5 L1928.1 2041.1 L1928.4 2041.8 L1928.6 2042.4 L1928.8 2043 L1928.9 2043.5 L1928.8 2044.1 L1928.8 2044.6 L1928.6 2045.1 Z" fill="none" stroke="#000" stroke-width="2" />
<path d="M1919.4 2026.2 L1934.4 2036.8 L1932.9 2047.3" fill="none" stroke="#000" stroke-width="1" />
<path d="M1958.5 1963 C1960 1960.4 1964.6 1949.9 1967.6 1947.9 C1970.6 1945.9 1973.1 1947.4 1976.6 1950.9 C1980.1 1954.4 1986.7 1966 1988.7 1969" fill="none" stroke="#000" stroke-width="1.5" />
<path d="M1955.5 1969 C1956.5 1968 1958.5 1962.5 1961.6 1963 C1964.6 1963.5 1970.6 1967.5 1973.6 1972 C1976.6 1976.5 1978.6 1987.1 1979.6 1990.1" fill="none" stroke="#000" stroke-width="1.5" />
<path d="M1988.7 1969 L2011.3 1973.5 L2005.2 1991.6 L1982.6 1984 Z" fill="none" stroke="#000" stroke-width="1" />
<path d="M2005.2 1991.6 L2014.3 1988.6 L2003.7 2006.6 L1976.6 1993.1" fill="none" stroke="#000" stroke-width="1" />
<path d="M2004.3 1979.5 L2004.3 1980.2 L2004.2 1980.8 L2004 1981.4 L2003.8 1982 L2003.5 1982.5 L2003.1 1983.1 L2002.6 1983.6 L2002.1 1984 L2001.6 1984.4 L2001 1984.7 L2000.4 1985 L1999.8 1985.3 L1999.1 1985.4 L1998.4 1985.5 L1997.7 1985.6 L1997 1985.5 L1996.3 1985.4 L1995.7 1985.3 L1995 1985 L1994.4 1984.7 L1993.8 1984.4 L1993.3 1984 L1992.8 1983.6 L1992.3 1983.1 L1992 1982.5 L1991.7 1982 L1991.4 1981.4 L1991.2 1980.8 L1991.1 1980.2 L1991.1 1979.5 L1991.1 1978.9 L1991.2 1978.3 L1991.4 1977.7 L1991.7 1977.1 L1992 1976.5 L1992.3 1976 L1992.8 1975.5 L1993.3 1975.1 L1993.8 1974.7 L1994.4 1974.3 L1995 1974 L1995.7 1973.8 L1996.3 1973.6 L1997 1973.5 L1997.7 1973.5 L1998.4 1973.5 L1999.1 1973.6 L1999.8 1973.8 L2000.4 1974 L2001 1974.3 L2001.6 1974.7 L2002.1 1975.1 L2002.6 1975.5 L2003.1 1976 L2003.5 1976.5 L2003.8 1977.1 L2004 1977.7 L2004.2 1978.3 L2004.3 1978.9 Z" fill="none" stroke="#000" stroke-width="1" />
<path d="M1929.9 1831.9 L1937.5 1825.9 L1948 1827.4 L1951 1834.9 L1949.5 1842.4 L1939 1845.5 L1931.4 1840.9 Z" fill="none" stroke="#000" stroke-width="1" />
<path d="M1931.4 1840.9 L1939 1833.4 L1949.5 1834.9" fill="none" stroke="#000" stroke-width="1" />
<path d="M1939 1833.4 L1939 1845.5" fill="none" stroke="#000" stroke-width="1" />
<path d="M1940.5 1845.5 L1945 1863.5 L1953.1 1862 L1949.5 1843.9" fill="none" stroke="#000" stroke-width="1" />
<path d="M1941.4 1848.5 L1950.4 1847" fill="none" stroke="#000" stroke-width="1" />
<path d="M1942.3 1851.5 L1951.3 1850" fill="none" stroke="#000" stroke-width="1" />
<path d="M1943.2 1854.5 L1952.2 1853" fill="none" stroke="#000" stroke-width="1" />
<path d="M1944.1 1857.5 L1953.1 1856" fill="none" stroke="#000" stroke-width="1" />
<path d="M1945 1860.5 L1954 1859" fill="none" stroke="#000" stroke-width="1" />
<path d="M1975.8 1894.1 L1976.1 1895.3 L1976.3 1896.5 L1976.4 1897.7 L1976.3 1898.9 L1976.1 1900.1 L1975.7 1901.4 L1975.1 1902.5 L1974.5 1903.7 L1973.7 1904.8 L1972.8 1905.8 L1971.8 1906.7 L1970.7 1907.6 L1969.5 1908.3 L1968.3 1909 L1967 1909.5 L1965.6 1910 L1964.2 1910.3 L1962.8 1910.4 L1961.5 1910.5 L1960.1 1910.4 L1958.7 1910.2 L1957.4 1909.9 L1956.2 1909.4 L1955.1 1908.9 L1954 1908.2 L1953 1907.4 L1952.2 1906.5 L1951.4 1905.6 L1950.8 1904.5 L1950.3 1903.4 L1950 1902.3 L1949.8 1901.1 L1949.7 1899.9 L1949.8 1898.6 L1950.1 1897.4 L1950.5 1896.2 L1951 1895 L1951.6 1893.9 L1952.4 1892.8 L1953.3 1891.8 L1954.3 1890.8 L1955.4 1890 L1956.6 1889.2 L1957.8 1888.6 L1959.1 1888 L1960.5 1887.6 L1961.9 1887.3 L1963.3 1887.1 L1964.7 1887.1 L1966 1887.1 L1967.4 1887.4 L1968.7 1887.7 L1969.9 1888.1 L1971.1 1888.7 L1972.1 1889.4 L1973.1 1890.2 L1974 1891 L1974.7 1892 L1975.3 1893 Z" fill="none" stroke="#000" stroke-width="1.3" />
<path d="M1970.5 1894.8 L1970.6 1895.3 L1970.7 1895.9 L1970.7 1896.4 L1970.6 1897 L1970.4 1897.5 L1970.2 1898.1 L1969.9 1898.7 L1969.5 1899.2 L1969.1 1899.7 L1968.6 1900.2 L1968 1900.7 L1967.4 1901.1 L1966.8 1901.5 L1966.1 1901.8 L1965.4 1902.1 L1964.7 1902.3 L1964 1902.5 L1963.2 1902.6 L1962.5 1902.7 L1961.8 1902.7 L1961.1 1902.6 L1960.4 1902.5 L1959.8 1902.3 L1959.2 1902.1 L1958.7 1901.8 L1958.2 1901.5 L1957.7 1901.1 L1957.4 1900.7 L1957.1 1900.2 L1956.9 1899.7 L1956.7 1899.2 L1956.7 1898.7 L1956.7 1898.1 L1956.7 1897.6 L1956.9 1897 L1957.1 1896.4 L1957.4 1895.9 L1957.8 1895.4 L1958.3 1894.8 L1958.7 1894.3 L1959.3 1893.9 L1959.9 1893.5 L1960.5 1893.1 L1961.2 1892.7 L1961.9 1892.5 L1962.6 1892.2 L1963.4 1892.1 L1964.1 1891.9 L1964.8 1891.9 L1965.5 1891.9 L1966.2 1891.9 L1966.9 1892 L1967.5 1892.2 L1968.1 1892.4 L1968.7 1892.7 L1969.2 1893.1 L1969.6 1893.4 L1969.9 1893.9 L1970.2 1894.3 Z" fill="none" stroke="#000" stroke-width="1" />
</g></svg></body></html>
